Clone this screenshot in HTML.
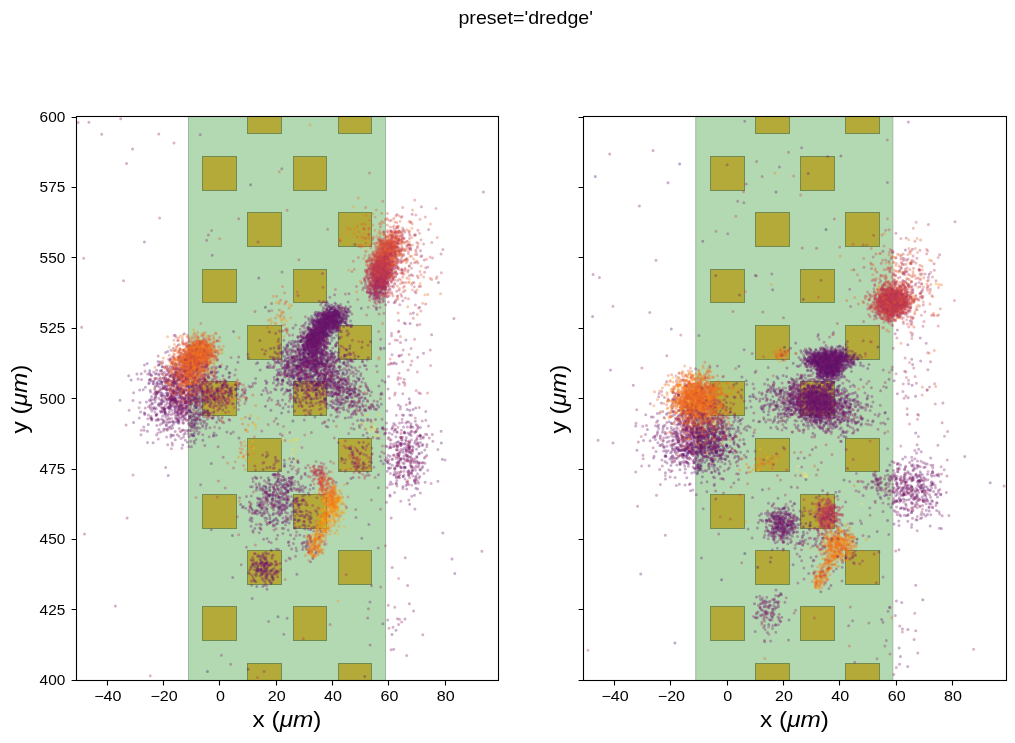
<!DOCTYPE html><html><head><meta charset="utf-8"><style>
html,body{margin:0;padding:0;background:#fff;width:1015px;height:743px;overflow:hidden}
svg{display:block;will-change:transform}
text{font-family:"Liberation Sans",sans-serif;fill:#000}
.d path{fill:none;stroke-width:3.0;stroke-linecap:round;stroke-opacity:0.35}
</style></head><body>
<svg width="1015" height="743" viewBox="0 0 1015 743">
<rect width="1015" height="743" fill="#fff"/>

<text transform="translate(525.7,23.5) scale(1.09,1)" font-size="18" text-anchor="middle">preset='dredge'</text>
<rect x="188.5" y="116.5" width="197.0" height="564.0" fill="rgb(179,217,179)" stroke="rgb(158,184,158)" stroke-width="1"/>
<g fill="rgb(180,170,57)" stroke="rgb(112,138,80)" stroke-width="1"><rect x="247.5" y="663.5" width="34.0" height="17.0"/><rect x="338.5" y="663.5" width="33.0" height="17.0"/><rect x="202.5" y="606.5" width="34.0" height="34.0"/><rect x="293.5" y="606.5" width="33.0" height="34.0"/><rect x="247.5" y="550.5" width="34.0" height="34.0"/><rect x="338.5" y="550.5" width="33.0" height="34.0"/><rect x="202.5" y="494.5" width="34.0" height="34.0"/><rect x="293.5" y="494.5" width="33.0" height="34.0"/><rect x="247.5" y="438.5" width="34.0" height="33.0"/><rect x="338.5" y="438.5" width="33.0" height="33.0"/><rect x="202.5" y="381.5" width="34.0" height="34.0"/><rect x="293.5" y="381.5" width="33.0" height="34.0"/><rect x="247.5" y="325.5" width="34.0" height="34.0"/><rect x="338.5" y="325.5" width="33.0" height="34.0"/><rect x="202.5" y="269.5" width="34.0" height="33.0"/><rect x="293.5" y="269.5" width="33.0" height="33.0"/><rect x="247.5" y="212.5" width="34.0" height="34.0"/><rect x="338.5" y="212.5" width="33.0" height="34.0"/><rect x="202.5" y="156.5" width="34.0" height="34.0"/><rect x="293.5" y="156.5" width="33.0" height="34.0"/><rect x="247.5" y="116.5" width="34.0" height="17.0"/><rect x="338.5" y="116.5" width="33.0" height="17.0"/></g>
<rect x="695.8" y="116.5" width="197.0" height="564.0" fill="rgb(179,217,179)" stroke="rgb(158,184,158)" stroke-width="1"/>
<g fill="rgb(180,170,57)" stroke="rgb(112,138,80)" stroke-width="1"><rect x="755.5" y="663.5" width="34.0" height="17.0"/><rect x="845.5" y="663.5" width="34.0" height="17.0"/><rect x="710.5" y="606.5" width="34.0" height="34.0"/><rect x="800.5" y="606.5" width="34.0" height="34.0"/><rect x="755.5" y="550.5" width="34.0" height="34.0"/><rect x="845.5" y="550.5" width="34.0" height="34.0"/><rect x="710.5" y="494.5" width="34.0" height="34.0"/><rect x="800.5" y="494.5" width="34.0" height="34.0"/><rect x="755.5" y="438.5" width="34.0" height="33.0"/><rect x="845.5" y="438.5" width="34.0" height="33.0"/><rect x="710.5" y="381.5" width="34.0" height="34.0"/><rect x="800.5" y="381.5" width="34.0" height="34.0"/><rect x="755.5" y="325.5" width="34.0" height="34.0"/><rect x="845.5" y="325.5" width="34.0" height="34.0"/><rect x="710.5" y="269.5" width="34.0" height="33.0"/><rect x="800.5" y="269.5" width="34.0" height="33.0"/><rect x="755.5" y="212.5" width="34.0" height="34.0"/><rect x="845.5" y="212.5" width="34.0" height="34.0"/><rect x="710.5" y="156.5" width="34.0" height="34.0"/><rect x="800.5" y="156.5" width="34.0" height="34.0"/><rect x="755.5" y="116.5" width="34.0" height="17.0"/><rect x="845.5" y="116.5" width="34.0" height="17.0"/></g>
<g class="d"><path stroke="#d64c3f" d="M927.5 280.9h0M387.2 250.8h0M388.7 275.1h0M905.6 312.6h0M883.0 301.0h0M889.6 294.9h0M204.1 369.0h0M398.8 252.5h0M706.5 403.4h0M839.2 526.7h0M381.0 254.8h0M167.4 379.1h0M436.3 278.5h0M883.1 309.2h0M890.4 300.4h0M184.4 371.6h0M885.7 294.1h0M916.2 263.3h0M890.1 315.9h0M388.9 243.7h0M895.2 295.9h0M395.4 253.8h0"/><path stroke="#f37819" d="M201.9 358.4h0M842.5 547.2h0M202.7 364.1h0M761.5 459.7h0M182.5 362.1h0M695.9 415.1h0M315.2 549.6h0M689.3 393.5h0M828.9 539.3h0M312.4 555.8h0M205.4 347.2h0M207.2 357.9h0M686.3 425.5h0M838.1 530.0h0M322.7 491.6h0M696.3 385.4h0M683.2 405.8h0M817.1 576.4h0M336.4 514.2h0M196.2 362.3h0M666.2 383.7h0M194.5 364.2h0"/><path stroke="#d64c3f" d="M829.2 500.2h0M735.9 452.5h0M399.1 254.9h0M692.9 410.9h0M189.5 354.5h0M884.7 305.4h0M899.7 282.3h0M387.9 254.3h0M904.7 302.3h0M374.8 275.9h0M419.9 271.4h0M375.9 265.4h0M380.2 269.5h0M184.4 343.9h0M703.2 436.9h0M205.6 352.1h0M365.8 243.0h0M883.1 299.3h0M195.7 360.9h0M385.7 273.5h0M885.1 300.3h0M201.7 357.4h0"/><path stroke="#6a176e" d="M830.8 420.1h0M892.0 369.8h0M933.3 483.1h0M832.8 397.7h0M335.7 319.8h0M826.5 354.6h0M330.1 369.2h0M785.9 391.7h0M407.3 444.5h0M813.2 396.5h0M669.1 421.7h0M778.1 516.8h0M808.1 353.8h0M676.7 439.7h0M710.1 430.3h0M823.7 367.0h0M310.0 333.5h0M199.2 370.0h0M682.3 454.9h0M197.9 381.1h0M823.2 399.0h0M807.1 396.8h0"/><path stroke="#7a1d6b" d="M734.3 417.2h0M789.6 414.5h0M848.4 420.2h0M903.8 486.9h0M787.3 419.8h0M824.4 368.2h0M922.9 500.8h0M704.0 415.7h0M853.2 362.1h0M194.9 397.7h0M701.4 458.7h0M306.9 365.0h0M265.5 570.9h0M800.5 406.5h0M704.4 436.8h0M832.3 362.6h0M826.0 398.8h0M389.1 448.1h0M303.1 546.7h0M307.4 376.7h0M320.0 383.2h0M133.0 400.6h0"/><path stroke="#721a6d" d="M303.3 345.7h0M775.9 513.8h0M720.3 418.7h0M333.0 315.5h0M334.7 314.9h0M195.3 420.7h0M816.6 362.0h0M772.6 528.7h0M189.5 373.9h0M713.1 448.9h0M267.1 491.5h0M701.4 462.7h0M835.5 349.4h0M819.2 359.3h0M309.5 343.0h0M831.7 370.6h0M301.9 369.7h0M298.0 362.3h0M683.8 437.7h0M878.1 493.9h0M841.4 355.1h0M308.5 345.3h0"/><path stroke="#5a126c" d="M180.2 389.4h0M256.2 575.4h0M281.4 359.1h0M280.3 482.1h0M730.0 446.6h0M823.3 367.6h0M317.7 320.9h0M181.6 389.8h0M331.2 326.0h0M319.9 333.0h0M314.9 325.5h0M170.9 397.8h0M319.6 330.6h0M828.5 368.5h0M310.6 340.2h0M308.1 343.4h0M814.1 388.3h0M826.8 395.2h0M171.5 380.9h0M791.5 517.3h0M320.8 331.7h0M334.6 386.3h0"/><path stroke="#721a6d" d="M822.9 382.4h0M347.4 325.3h0M837.4 362.6h0M931.2 474.3h0M790.0 387.8h0M838.5 358.9h0M883.0 622.3h0M693.7 463.0h0M365.9 410.7h0M699.7 427.6h0M327.9 342.6h0M264.6 496.7h0M315.7 375.1h0M831.5 354.9h0M925.8 516.0h0M276.7 505.7h0M313.6 362.8h0M314.5 329.6h0M827.4 375.1h0M780.0 531.2h0M716.2 451.2h0M812.0 408.3h0"/><path stroke="#c9414a" d="M180.7 370.0h0M380.5 272.2h0M887.3 296.2h0M831.1 513.6h0M900.1 313.7h0M386.1 263.7h0M889.8 313.0h0M389.6 262.0h0M697.0 437.2h0M884.5 291.7h0M183.7 361.0h0M892.1 309.4h0M887.1 304.4h0M893.7 301.3h0M893.5 303.0h0M902.4 297.6h0M379.3 274.8h0M887.8 305.8h0M203.4 343.2h0M385.3 255.8h0M191.3 358.1h0M887.9 268.8h0"/><path stroke="#6a176e" d="M317.0 331.6h0M319.5 328.2h0M183.9 434.6h0M710.7 442.2h0M327.6 384.5h0M830.2 396.0h0M418.1 462.2h0M783.3 508.8h0M715.4 443.5h0M831.7 371.6h0M321.8 344.7h0M838.8 402.0h0M165.2 378.2h0M694.0 436.9h0M818.9 398.7h0M383.3 463.7h0M675.9 449.2h0M342.8 314.9h0M410.3 462.8h0M192.0 403.5h0M803.8 418.4h0M181.9 390.6h0"/><path stroke="#c9414a" d="M888.6 301.8h0M874.0 301.9h0M892.2 295.4h0M382.8 266.6h0M904.2 296.5h0M189.1 360.6h0M881.2 312.3h0M883.5 311.3h0M892.8 305.1h0M893.4 280.7h0M377.9 256.5h0M175.5 368.6h0M304.7 434.9h0M890.0 304.4h0M883.5 300.2h0M876.7 301.0h0M900.5 300.1h0M377.6 277.9h0M897.3 303.3h0M392.4 266.2h0M378.7 270.1h0M907.8 310.5h0"/><path stroke="#f37819" d="M826.1 563.7h0M196.6 382.8h0M380.6 243.0h0M169.2 368.5h0M700.9 385.8h0M326.3 505.3h0M819.2 573.3h0M712.4 405.8h0M192.1 363.6h0M321.9 540.5h0M847.8 523.9h0M318.3 538.5h0M697.9 436.7h0M184.1 385.9h0M932.8 296.8h0M686.6 394.4h0M699.3 371.3h0M699.3 406.1h0M690.8 376.9h0M710.6 397.1h0M202.8 355.3h0M184.9 373.3h0"/><path stroke="#7a1d6b" d="M265.1 567.4h0M229.0 419.6h0M195.6 399.7h0M922.2 491.9h0M919.7 498.7h0M698.6 434.2h0M725.7 459.5h0M815.4 403.9h0M165.9 422.2h0M712.8 434.7h0M825.3 391.7h0M729.3 461.2h0M715.2 430.2h0M810.3 380.7h0M319.7 330.2h0M834.5 398.5h0M883.1 577.0h0M289.0 370.5h0M662.3 465.9h0M817.5 391.7h0M828.0 365.5h0M336.3 374.5h0"/><path stroke="#8b2368" d="M315.0 339.8h0M707.6 439.5h0M391.5 335.8h0M695.2 469.0h0M302.4 371.6h0M306.6 380.2h0M241.2 564.8h0M714.1 408.4h0M194.4 419.1h0M407.3 459.0h0M296.9 503.6h0M797.4 383.7h0M408.7 422.0h0M878.2 484.6h0M372.8 277.7h0M803.5 394.9h0M911.3 491.0h0M263.2 502.0h0M776.4 405.7h0M914.5 496.9h0M311.4 432.6h0M807.3 533.1h0"/><path stroke="#faef7e" d="M798.2 466.0h0M806.0 476.3h0M369.0 431.8h0"/><path stroke="#721a6d" d="M297.9 337.4h0M295.6 324.9h0M336.8 318.5h0M278.8 512.6h0M831.6 417.9h0M193.9 400.1h0M834.9 355.5h0M197.6 401.3h0M283.0 486.4h0M386.9 411.1h0M181.5 358.9h0M320.8 372.8h0M714.9 434.4h0M756.5 614.1h0M772.7 513.5h0M280.8 479.5h0M293.8 361.6h0M270.1 365.2h0M815.2 380.9h0M416.2 424.8h0M833.6 409.7h0M327.9 370.3h0"/><path stroke="#62146d" d="M837.0 359.4h0M320.0 329.7h0M799.2 405.0h0M678.5 410.4h0M321.6 325.9h0M692.6 421.8h0M700.4 434.7h0M834.8 363.7h0M773.8 515.7h0M842.9 359.0h0M356.9 396.6h0M833.9 361.7h0M785.3 514.6h0M802.5 402.5h0M783.7 526.1h0M273.4 382.9h0M898.8 520.9h0M817.4 408.5h0M712.5 431.1h0M838.1 367.7h0M312.0 353.2h0M826.8 405.8h0"/><path stroke="#83206a" d="M198.5 389.4h0M904.3 494.0h0M378.2 548.0h0M823.5 386.3h0M166.1 382.7h0M338.5 386.9h0M829.3 409.3h0M843.2 355.9h0M352.6 454.8h0M351.0 361.2h0M765.8 397.3h0M680.9 423.4h0M354.7 388.8h0M798.8 403.9h0M305.6 336.5h0M311.0 330.0h0M818.2 396.5h0M697.9 454.7h0M191.7 394.8h0M852.6 428.0h0M310.7 368.3h0M821.5 403.8h0"/><path stroke="#6a176e" d="M324.4 336.4h0M324.3 322.8h0M274.7 388.9h0M155.9 385.7h0M314.0 335.3h0M339.6 317.4h0M172.9 356.4h0M272.0 577.8h0M317.5 338.7h0M326.9 373.2h0M265.5 380.7h0M700.1 460.5h0M682.0 461.9h0M778.1 529.4h0M790.0 393.5h0M313.5 341.4h0M708.7 440.4h0M272.4 495.5h0M315.4 330.5h0M805.3 359.1h0M706.0 456.8h0M306.1 548.8h0"/><path stroke="#6a176e" d="M824.7 370.2h0M313.1 391.5h0M812.1 412.9h0M810.6 400.6h0M831.2 368.3h0M844.1 356.0h0M162.1 366.4h0M310.5 335.1h0M808.0 396.6h0M784.3 532.6h0M660.4 435.8h0M317.3 357.2h0M302.5 515.3h0M285.4 483.5h0M871.6 481.5h0M834.1 368.6h0M310.6 529.7h0M830.6 367.9h0M697.9 427.3h0M842.7 369.0h0M278.1 341.6h0M829.8 364.0h0"/><path stroke="#ef7020" d="M186.5 400.8h0M192.2 347.4h0M825.6 560.9h0M674.2 396.8h0M173.7 368.2h0M193.9 356.2h0M837.8 541.4h0M829.9 545.1h0M824.6 571.8h0M840.8 545.0h0M689.5 397.9h0M326.5 544.0h0M709.5 365.6h0M196.2 368.9h0M192.2 384.7h0M900.9 266.7h0M190.8 338.3h0M704.7 410.2h0M847.0 548.8h0M713.5 420.8h0M701.1 381.5h0M707.7 403.4h0"/><path stroke="#721a6d" d="M834.0 361.3h0M772.5 609.0h0M817.4 408.2h0M332.8 361.8h0M264.3 565.6h0M818.6 357.0h0M689.5 445.7h0M714.5 437.0h0M829.4 510.1h0M266.7 575.6h0M714.5 484.3h0M349.6 390.0h0M826.4 369.2h0M356.6 449.4h0M821.4 416.0h0M828.8 369.7h0M829.7 373.8h0M178.2 419.7h0M937.5 474.8h0M783.8 413.3h0M347.4 483.2h0M306.8 362.1h0"/><path stroke="#8b2368" d="M725.2 435.9h0M706.1 421.0h0M385.0 288.1h0M381.5 290.2h0M320.1 373.7h0M415.6 476.9h0M419.2 407.6h0M203.6 416.7h0M177.9 369.7h0M841.3 441.4h0M281.6 512.9h0M701.5 436.7h0M400.8 501.3h0M333.3 392.8h0M390.4 473.6h0M935.2 485.2h0M760.4 604.1h0M344.6 316.9h0M269.2 523.3h0M703.8 450.5h0M878.9 484.0h0M287.6 368.2h0"/><path stroke="#83206a" d="M790.4 521.4h0M835.3 395.0h0M825.1 397.9h0M348.1 401.5h0M784.3 427.2h0M675.0 414.6h0M925.7 480.3h0M304.8 356.2h0M783.5 398.8h0M662.9 429.8h0M186.4 413.0h0M720.6 439.5h0M857.9 401.4h0M181.3 361.5h0M839.5 360.0h0M722.3 453.4h0M799.3 398.7h0M906.9 486.4h0M887.4 182.5h0M287.6 505.9h0M653.2 417.1h0M812.9 386.3h0"/><path stroke="#6a176e" d="M323.7 340.7h0M686.5 402.8h0M295.7 502.8h0M823.6 407.0h0M171.8 410.4h0M714.8 435.7h0M802.7 380.4h0M271.9 558.2h0M208.6 377.9h0M314.5 338.1h0M846.5 368.0h0M204.9 374.2h0M271.2 583.1h0M252.2 598.4h0M731.0 451.4h0M822.0 372.1h0M702.7 442.3h0M269.5 565.0h0M309.3 377.0h0M335.0 327.1h0M337.9 315.5h0M818.2 351.8h0"/><path stroke="#ef7020" d="M189.8 354.9h0M187.6 362.6h0M706.4 395.1h0M211.1 356.2h0M203.3 351.1h0M814.6 571.1h0M699.7 424.2h0M708.7 386.5h0M828.7 532.1h0M389.7 261.6h0M674.6 388.7h0M199.5 346.0h0M196.0 356.1h0M196.7 350.0h0M674.3 400.9h0M184.2 363.8h0M691.1 407.1h0M201.1 353.9h0M698.3 394.1h0M319.2 538.4h0M200.0 347.9h0M255.7 405.4h0"/><path stroke="#83206a" d="M212.1 355.6h0M336.4 384.7h0M347.4 325.3h0M324.1 377.2h0M276.0 501.4h0M270.1 573.9h0M308.1 529.3h0M863.2 340.8h0M851.1 420.6h0M325.5 376.2h0M781.9 538.2h0M316.5 336.7h0M754.1 432.6h0M316.7 344.8h0M211.8 367.6h0M826.9 393.7h0M318.5 338.1h0M330.1 371.8h0M271.6 303.4h0M403.7 456.2h0M329.1 320.4h0M818.0 414.7h0"/><path stroke="#62146d" d="M838.1 356.7h0M328.0 321.1h0M195.4 403.5h0M911.9 503.5h0M694.3 396.4h0M834.7 355.0h0M275.3 500.8h0M817.1 363.2h0M207.6 411.1h0M308.8 349.7h0M325.4 322.6h0M904.2 494.5h0M836.1 374.4h0M311.2 357.5h0M849.3 357.6h0M237.9 362.3h0M828.3 362.7h0M761.0 407.7h0M332.8 328.4h0M833.2 375.2h0M818.2 356.9h0M409.7 457.0h0"/><path stroke="#83206a" d="M194.9 378.8h0M829.1 398.7h0M288.3 542.4h0M265.7 498.5h0M827.4 384.0h0M854.4 563.5h0M824.9 372.1h0M672.6 455.4h0M247.8 354.3h0M419.0 463.1h0M270.4 563.0h0M340.4 378.2h0M800.8 378.6h0M309.9 328.1h0M258.0 242.0h0M776.4 427.0h0M841.4 397.2h0M363.3 447.9h0M314.6 330.4h0M812.2 401.8h0M334.8 325.1h0M180.6 418.5h0"/><path stroke="#520f6a" d="M836.9 526.8h0M855.2 399.3h0M679.0 414.9h0M331.9 326.8h0M829.9 371.6h0M690.9 442.2h0M173.5 381.5h0M317.5 334.1h0M304.6 357.6h0M232.4 535.5h0M786.7 525.9h0M337.7 314.5h0M266.9 382.3h0M784.4 532.0h0M746.1 457.3h0M337.6 326.5h0M211.3 463.4h0M344.5 322.4h0M670.7 452.8h0M320.8 345.7h0M323.6 333.6h0M188.7 419.8h0"/><path stroke="#62146d" d="M659.8 445.5h0M809.7 400.9h0M346.5 349.4h0M774.7 529.1h0M387.9 463.1h0M805.6 418.4h0M816.1 393.2h0M841.9 358.5h0M778.3 512.5h0M837.7 369.2h0M836.7 354.1h0M817.1 374.1h0M171.6 405.9h0M317.3 325.0h0M770.7 400.0h0M275.0 504.3h0M746.7 430.3h0M311.0 339.2h0M319.2 327.7h0M337.7 327.1h0M809.8 409.5h0M411.7 454.1h0"/><path stroke="#83206a" d="M697.5 430.6h0M278.2 403.5h0M833.9 396.9h0M799.3 411.2h0M853.9 269.8h0M772.8 625.7h0M198.3 419.1h0M705.3 434.7h0M705.0 470.5h0M302.5 349.2h0M854.8 662.3h0M782.9 354.8h0M84.5 534.0h0M397.3 442.3h0M174.0 389.3h0M326.0 365.7h0M729.1 431.9h0M323.4 374.8h0M805.4 389.2h0M424.3 458.0h0M374.4 291.3h0M879.3 413.9h0"/><path stroke="#5a126c" d="M292.3 477.3h0M810.5 412.6h0M814.5 356.7h0M318.0 334.5h0M904.8 508.3h0M696.5 465.2h0M329.8 317.1h0M320.0 333.7h0M837.1 370.4h0M279.6 469.9h0M326.2 322.7h0M828.2 369.7h0M821.6 382.4h0M830.2 359.3h0M701.4 427.8h0M322.7 330.0h0M351.3 417.2h0M308.1 363.6h0M709.2 457.6h0M810.4 357.6h0M156.9 383.8h0M820.8 420.7h0"/><path stroke="#6a176e" d="M792.3 398.7h0M716.3 439.0h0M318.4 341.3h0M197.3 399.0h0M796.7 381.1h0M804.3 418.3h0M307.6 396.9h0M179.5 401.1h0M687.6 447.6h0M828.0 358.3h0M830.4 369.0h0M817.6 397.8h0M284.7 349.9h0M388.1 455.2h0M836.2 404.5h0M823.6 397.1h0M332.2 319.2h0M308.0 336.2h0M846.1 413.1h0M687.6 427.9h0M817.3 415.2h0M851.1 367.5h0"/><path stroke="#721a6d" d="M705.3 378.0h0M289.2 558.1h0M819.9 400.5h0M185.8 397.8h0M392.3 428.1h0M329.7 320.1h0M830.5 365.1h0M825.7 403.4h0M790.3 403.1h0M307.0 343.2h0M711.4 433.6h0M338.6 381.7h0M820.3 369.4h0M313.5 335.7h0M845.7 419.4h0M215.1 402.3h0M836.0 350.2h0M909.6 462.5h0M174.0 406.7h0M815.4 393.4h0M774.2 523.6h0M821.7 413.1h0"/><path stroke="#8b2368" d="M336.7 398.3h0M828.8 526.0h0M701.2 416.4h0M396.9 486.1h0M822.4 409.6h0M167.1 407.2h0M275.5 363.0h0M837.8 358.0h0M840.7 405.9h0M804.3 542.7h0M329.9 323.6h0M178.0 409.5h0M813.9 560.2h0M813.0 407.6h0M415.6 234.9h0M889.4 490.7h0M195.8 411.5h0M813.4 421.0h0M302.3 374.3h0M701.0 467.1h0M680.0 464.1h0M838.2 393.1h0"/><path stroke="#62146d" d="M323.8 374.7h0M330.0 358.1h0M826.6 369.9h0M808.6 402.6h0M338.8 308.3h0M827.5 360.9h0M147.2 363.4h0M319.0 322.5h0M393.8 475.0h0M832.6 355.0h0M270.4 357.0h0M691.1 451.7h0M321.8 324.8h0M285.4 489.0h0M327.8 427.1h0M817.1 357.1h0M207.5 419.1h0M346.9 387.2h0M310.4 352.4h0M855.4 353.4h0M299.0 365.1h0M702.5 438.4h0"/><path stroke="#6a176e" d="M824.0 401.9h0M306.4 349.7h0M714.7 426.2h0M727.9 469.2h0M188.6 381.9h0M303.4 338.2h0M667.0 462.9h0M896.3 483.8h0M837.2 361.5h0M316.0 329.1h0M825.4 361.7h0M804.7 414.0h0M391.2 517.9h0M797.4 404.7h0M325.4 347.5h0M306.5 340.7h0M182.3 388.5h0M810.5 353.7h0M833.3 364.9h0M207.8 412.9h0M826.8 351.5h0M819.6 358.6h0"/><path stroke="#62146d" d="M314.2 364.8h0M307.7 341.8h0M331.6 353.5h0M828.0 364.1h0M319.1 326.9h0M839.7 354.2h0M195.1 390.3h0M822.6 376.4h0M676.1 437.2h0M841.1 352.7h0M821.7 365.1h0M336.6 313.7h0M832.2 373.0h0M322.6 357.7h0M361.9 381.9h0M835.3 356.1h0M332.3 326.4h0M315.2 333.6h0M793.7 401.9h0M326.9 317.4h0M283.6 361.3h0M815.3 356.8h0"/><path stroke="#62146d" d="M176.9 372.9h0M335.6 403.8h0M396.8 480.5h0M843.6 360.8h0M280.7 488.3h0M394.1 302.7h0M863.2 495.5h0M344.2 314.2h0M708.7 464.3h0M825.1 369.2h0M203.6 395.3h0M337.0 319.6h0M330.1 320.3h0M829.9 366.1h0M325.5 331.0h0M854.5 354.9h0M812.3 404.9h0M687.6 452.8h0M699.6 434.5h0M810.0 352.7h0M319.1 342.3h0M819.2 364.8h0"/><path stroke="#ac305c" d="M905.6 305.6h0M385.0 279.9h0M887.3 140.0h0M378.8 281.6h0M365.9 283.3h0M358.4 410.8h0M889.2 304.9h0M905.8 312.9h0M380.8 275.1h0M887.2 310.9h0M896.2 305.3h0M393.6 248.0h0M909.0 297.7h0M897.1 306.9h0M911.5 281.7h0M386.4 282.4h0M895.1 304.9h0M875.7 316.2h0M707.9 417.5h0M888.3 304.9h0M379.4 282.9h0M390.3 275.8h0"/><path stroke="#6a176e" d="M303.7 357.3h0M823.4 364.6h0M837.7 358.8h0M307.1 366.5h0M680.3 455.6h0M313.4 337.3h0M678.2 424.3h0M314.5 325.0h0M289.8 363.1h0M759.4 515.4h0M312.8 323.4h0M302.7 363.8h0M303.3 326.0h0M733.6 421.9h0M265.9 563.1h0M310.5 382.6h0M818.3 393.1h0M325.5 364.8h0M410.0 452.3h0M828.7 369.9h0M312.9 327.7h0M328.0 328.9h0"/><path stroke="#6a176e" d="M900.5 465.0h0M269.1 480.1h0M705.8 423.0h0M162.6 388.2h0M817.0 398.6h0M712.2 428.3h0M330.1 315.1h0M702.0 453.9h0M338.9 371.6h0M302.2 386.3h0M815.7 416.9h0M656.0 451.6h0M723.8 406.0h0M253.5 560.0h0M190.9 400.4h0M831.5 360.8h0M351.3 326.6h0M828.1 350.1h0M690.5 490.7h0M830.8 364.9h0M285.4 359.3h0M826.1 357.9h0"/><path stroke="#8b2368" d="M185.2 375.6h0M307.7 381.8h0M782.8 424.4h0M813.7 393.0h0M664.0 417.5h0M295.2 359.2h0M392.4 465.2h0M374.7 285.2h0M284.1 494.8h0M642.8 426.2h0M824.8 351.1h0M388.9 437.6h0M737.5 461.3h0M309.4 381.3h0M340.1 402.1h0M724.4 423.5h0M746.3 184.1h0M817.4 395.7h0M827.4 494.4h0M768.2 419.8h0M310.6 373.0h0M896.0 479.3h0"/><path stroke="#d04744" d="M189.1 360.0h0M436.1 208.4h0M907.4 324.0h0M698.9 387.9h0M893.7 301.0h0M388.5 254.8h0M322.8 479.4h0M893.1 301.9h0M377.7 265.4h0M387.0 277.5h0M881.9 234.9h0M380.6 243.7h0M901.1 268.7h0M396.6 241.2h0M190.1 368.3h0M199.8 375.6h0M681.8 436.3h0M390.8 255.1h0M837.9 522.2h0M878.2 304.9h0M180.3 375.5h0M386.3 273.6h0"/><path stroke="#9b2963" d="M370.8 284.2h0M810.0 530.1h0M394.8 607.3h0M234.8 375.1h0M840.6 405.1h0M379.5 271.4h0M318.7 466.5h0M412.2 214.3h0"/><path stroke="#fbaf16" d="M339.2 521.7h0M314.3 536.9h0M330.3 503.6h0M331.9 504.5h0M835.9 557.4h0M255.3 425.1h0M700.7 410.1h0M318.0 529.4h0M331.0 501.2h0M313.7 544.3h0M345.9 509.7h0M230.1 391.5h0M321.7 509.7h0M325.7 518.0h0M326.5 512.4h0M333.2 488.5h0M325.4 503.2h0M821.4 529.4h0M282.0 318.8h0M767.1 457.5h0M255.9 428.3h0M325.8 509.9h0"/><path stroke="#fa9c0d" d="M246.0 460.3h0M820.9 579.0h0M177.8 371.5h0M331.2 498.7h0M689.6 398.9h0M329.2 525.1h0M322.1 530.7h0M323.5 524.3h0M690.5 398.7h0M330.8 496.6h0M753.4 469.3h0M309.0 552.3h0M276.4 302.7h0M716.8 413.6h0M850.6 548.8h0M696.1 416.9h0M326.0 492.2h0M333.5 491.2h0M681.1 393.8h0M340.6 497.7h0M330.6 523.9h0M173.8 382.9h0"/><path stroke="#6a176e" d="M334.4 320.3h0M833.7 357.8h0M707.8 433.7h0M314.6 355.5h0M800.8 395.4h0M831.0 402.7h0M333.0 315.8h0M713.7 455.9h0M176.3 383.1h0M665.3 434.0h0M821.1 372.2h0M275.4 457.3h0M327.7 367.3h0M331.8 320.3h0M707.1 481.7h0M327.0 336.4h0M709.5 446.9h0M698.3 436.2h0M828.0 355.3h0M839.3 370.8h0M816.6 392.5h0M719.1 439.3h0"/><path stroke="#e6612d" d="M702.6 404.7h0M318.7 546.6h0M176.9 359.8h0M358.9 245.1h0M389.2 245.5h0M691.8 415.4h0M691.9 413.4h0M186.3 369.5h0M189.8 363.1h0M189.1 362.1h0M384.1 267.7h0M329.2 499.6h0M709.4 420.7h0M185.3 370.6h0M698.6 405.5h0M202.8 351.1h0M200.7 361.8h0M884.3 295.7h0M400.0 221.2h0M195.2 393.5h0M188.3 355.7h0M377.0 261.2h0"/><path stroke="#bc3754" d="M882.9 296.9h0M879.5 311.4h0M703.0 422.2h0M177.3 386.8h0M395.4 237.2h0M386.1 273.9h0M881.7 293.9h0M882.2 294.2h0M881.4 300.7h0M879.3 297.7h0M880.0 304.6h0M875.4 300.1h0M380.7 272.9h0M417.3 276.1h0M188.5 370.8h0M391.0 253.7h0M383.1 267.2h0M183.9 375.7h0M895.2 304.8h0M380.4 273.2h0M372.4 239.8h0M866.8 245.2h0"/><path stroke="#83206a" d="M220.6 390.9h0M863.1 481.9h0M696.3 452.9h0M325.0 378.5h0M931.7 481.7h0M837.5 360.5h0M310.2 368.6h0M833.8 406.5h0M415.5 470.3h0M338.7 352.4h0M783.9 403.3h0M708.7 435.1h0M378.4 487.7h0M709.2 443.1h0M171.8 425.7h0M721.8 461.9h0M317.7 382.9h0M280.0 362.8h0M363.0 393.6h0M336.7 318.8h0M931.8 476.2h0M826.0 366.5h0"/><path stroke="#721a6d" d="M220.9 397.4h0M847.2 361.6h0M152.9 381.7h0M850.4 386.5h0M178.9 423.2h0M846.9 361.0h0M294.7 527.3h0M305.4 526.6h0M831.2 357.4h0M301.1 335.5h0M692.8 422.9h0M826.8 367.6h0M192.1 394.9h0M309.4 338.9h0M930.6 497.2h0M334.6 332.3h0M325.8 329.1h0M705.2 422.3h0M273.8 367.2h0M721.8 439.3h0M692.0 408.9h0M808.7 357.3h0"/><path stroke="#d64c3f" d="M184.7 372.6h0M199.1 350.1h0M382.2 254.4h0M198.9 357.9h0M899.9 293.8h0M906.3 296.5h0M897.7 254.2h0M674.3 424.0h0M402.8 235.1h0M892.1 308.6h0M828.8 508.5h0M393.7 260.8h0M899.8 308.7h0M710.2 405.4h0M184.7 378.6h0M376.4 268.0h0M883.5 304.4h0M825.8 527.8h0M881.7 303.9h0M393.6 241.2h0M893.0 303.3h0M891.0 304.7h0"/><path stroke="#dd513a" d="M199.5 376.3h0M386.8 258.7h0M891.2 291.1h0M202.2 358.1h0M391.7 269.3h0M245.3 417.3h0M896.7 289.6h0M689.4 417.1h0M726.5 410.6h0M197.1 373.8h0M889.6 305.6h0M858.6 388.9h0M397.6 296.3h0M162.6 361.4h0M679.1 402.4h0M204.6 341.6h0M201.8 387.8h0M897.2 303.3h0M385.6 254.9h0M203.4 367.3h0M845.6 545.8h0M392.4 237.9h0"/><path stroke="#7a1d6b" d="M783.0 398.1h0M811.2 414.2h0M389.3 468.4h0M328.6 306.5h0M227.9 388.1h0M739.8 439.9h0M687.6 413.4h0M819.5 375.6h0M371.3 421.6h0M925.4 486.6h0M821.4 359.4h0M257.0 510.5h0M820.9 405.9h0M290.3 465.7h0M266.7 390.6h0M155.3 397.0h0M847.3 361.1h0M172.9 413.4h0M352.9 361.5h0M812.1 397.0h0M303.0 347.7h0M410.2 465.2h0"/><path stroke="#62146d" d="M162.5 410.8h0M825.9 368.8h0M170.9 408.3h0M826.9 359.9h0M821.1 365.0h0M396.5 483.8h0M303.1 339.4h0M819.6 416.7h0M695.0 424.8h0M815.2 361.3h0M315.1 336.0h0M280.6 484.0h0M839.9 349.7h0M703.1 429.0h0M313.2 353.3h0M327.1 362.3h0M303.2 371.4h0M322.2 320.7h0M321.6 335.9h0M215.0 398.7h0M816.2 397.6h0M828.9 375.0h0"/><path stroke="#6a176e" d="M335.0 320.6h0M252.8 478.5h0M325.9 318.1h0M253.8 580.6h0M800.5 359.6h0M299.5 381.4h0M311.7 370.7h0M788.5 382.0h0M340.5 391.4h0M263.6 555.7h0M393.3 446.8h0M810.2 404.5h0M807.7 403.2h0M701.5 435.5h0M827.8 398.1h0M820.1 404.0h0M313.9 363.1h0M334.9 303.1h0M813.1 352.9h0M338.3 319.3h0M802.1 413.7h0M261.4 562.0h0"/><path stroke="#62146d" d="M158.4 365.2h0M330.2 323.8h0M805.4 363.5h0M275.4 495.8h0M284.8 505.7h0M830.7 381.2h0M320.2 361.7h0M840.8 421.7h0M694.3 394.7h0M325.5 334.1h0M817.3 398.4h0M314.2 343.9h0M937.5 497.1h0M414.9 508.9h0M827.5 380.3h0M823.4 361.1h0M831.5 418.2h0M830.3 368.8h0M292.2 483.1h0M845.3 402.7h0M834.0 361.6h0M828.3 354.7h0"/><path stroke="#721a6d" d="M204.5 400.0h0M319.2 364.2h0M310.1 343.4h0M823.2 418.0h0M205.9 346.1h0M819.7 376.0h0M827.3 403.2h0M702.9 436.0h0M927.8 501.1h0M316.8 336.5h0M806.4 363.0h0M851.5 371.6h0M827.1 387.0h0M337.3 326.3h0M423.5 353.3h0M816.7 399.5h0M845.5 401.0h0M829.3 393.9h0M823.1 359.6h0M811.2 351.1h0M772.2 514.7h0M825.0 362.3h0"/><path stroke="#6a176e" d="M837.4 378.0h0M827.7 395.9h0M911.7 359.3h0M776.0 601.8h0M151.3 380.7h0M318.4 329.9h0M284.2 478.2h0M816.8 361.7h0M208.5 416.5h0M320.8 344.3h0M322.5 319.7h0M329.0 315.7h0M335.4 345.7h0M808.5 413.6h0M830.8 367.5h0M857.1 356.4h0M681.2 450.7h0M737.3 444.6h0M829.0 350.9h0M165.7 429.0h0M314.5 331.8h0M779.1 410.0h0"/><path stroke="#721a6d" d="M273.2 524.6h0M830.8 367.0h0M318.9 336.5h0M305.3 376.1h0M191.0 418.4h0M805.0 399.0h0M376.7 431.8h0M218.9 397.6h0M792.2 401.9h0M318.5 320.2h0M358.6 393.8h0M820.0 424.3h0M815.5 390.7h0M836.1 361.6h0M815.1 390.2h0M268.2 477.8h0M828.0 365.8h0M876.1 478.4h0M800.8 350.6h0M820.4 367.7h0M788.7 395.0h0M165.3 405.3h0"/><path stroke="#7a1d6b" d="M338.9 322.0h0M344.6 462.7h0M911.3 502.2h0M303.0 397.2h0M686.2 410.8h0M410.6 472.8h0M393.5 455.2h0M320.3 371.3h0M206.5 400.1h0M299.7 356.7h0M329.5 392.5h0M824.1 372.7h0M897.3 463.5h0M298.9 373.6h0M937.2 503.1h0M704.2 452.6h0M319.3 335.9h0"/><path stroke="#e6612d" d="M314.9 541.9h0M188.3 365.3h0M193.3 342.8h0M222.1 349.9h0M814.6 466.0h0M201.6 370.5h0M197.0 343.0h0M190.5 353.6h0M699.8 393.3h0M684.1 380.3h0M190.2 355.6h0M194.7 362.2h0M211.1 349.7h0M377.5 243.1h0M698.4 413.6h0M691.3 409.7h0M691.7 417.1h0M712.0 389.9h0M186.2 354.8h0M887.6 296.2h0M825.0 582.0h0M717.4 375.8h0"/><path stroke="#721a6d" d="M314.9 372.0h0M670.1 477.0h0M825.1 375.2h0M365.1 409.0h0M225.2 401.2h0M875.4 484.3h0M691.8 472.9h0M345.8 312.4h0M279.6 502.9h0M797.5 374.4h0M754.0 388.5h0M783.1 403.3h0M825.0 359.3h0M316.8 345.9h0M188.8 402.2h0M278.2 460.9h0M194.6 425.6h0M150.5 417.4h0M335.5 312.0h0M307.6 328.9h0M764.6 383.9h0M338.7 367.1h0"/><path stroke="#ef7020" d="M681.0 409.4h0M702.5 407.9h0M816.7 571.7h0M197.0 349.5h0M706.4 393.3h0M192.5 380.6h0M707.8 392.7h0M171.6 399.4h0M819.4 581.4h0M202.3 348.8h0M906.0 300.3h0M202.6 358.0h0M210.7 358.2h0M688.3 421.7h0M682.2 408.5h0M339.5 240.1h0M831.6 568.3h0M843.7 539.9h0M689.4 397.8h0M719.0 388.3h0M712.5 401.2h0M682.2 388.6h0"/><path stroke="#83206a" d="M217.6 398.0h0M349.6 393.9h0M827.2 369.1h0M186.4 395.0h0M181.0 412.3h0M828.2 411.6h0M818.7 400.9h0M816.2 415.6h0M746.7 384.4h0M161.5 419.0h0M316.2 335.6h0M326.3 336.5h0M806.8 388.2h0M814.0 399.5h0M327.7 359.7h0M206.6 396.8h0M270.2 522.4h0M794.7 424.7h0M293.7 356.5h0M406.6 655.5h0M356.3 382.0h0M324.1 349.6h0"/><path stroke="#fbaf16" d="M339.3 508.2h0M323.6 529.7h0M200.2 387.2h0M327.8 505.3h0M334.1 510.7h0M338.1 534.0h0M344.4 527.0h0M332.1 493.1h0M316.0 556.0h0M340.7 498.6h0M327.5 514.7h0M324.8 519.8h0M258.0 418.2h0M327.9 515.3h0M337.5 507.1h0M321.3 481.1h0M327.5 528.5h0M835.9 555.8h0M327.6 514.3h0M322.0 522.5h0M338.2 496.2h0M847.3 544.6h0"/><path stroke="#bc3754" d="M181.1 378.3h0M372.8 281.3h0M894.5 312.6h0M381.4 272.9h0M378.5 276.3h0M376.8 274.4h0M893.4 307.2h0M876.9 293.3h0M382.0 257.4h0M387.2 272.5h0M393.7 266.3h0M218.7 394.4h0M821.8 501.2h0M401.2 217.2h0M905.4 290.7h0M894.0 308.3h0M176.4 388.0h0M379.8 272.7h0M884.9 305.0h0M381.2 270.2h0M829.0 517.1h0M895.4 296.3h0"/><path stroke="#e15933" d="M393.6 248.7h0M699.4 386.7h0M679.5 401.8h0M692.8 397.6h0M189.5 363.4h0M399.3 232.9h0M204.0 347.5h0M886.0 282.2h0M207.1 349.3h0M696.2 391.0h0M383.3 261.9h0M700.7 386.2h0M710.1 413.3h0M703.5 392.5h0M375.1 269.5h0M935.7 386.4h0M820.4 577.4h0M200.6 363.9h0M194.5 352.9h0M332.4 479.3h0M213.8 355.5h0M173.6 392.3h0"/><path stroke="#e15933" d="M714.6 407.4h0M694.3 391.3h0M713.0 389.3h0M182.2 383.1h0M210.1 351.5h0M391.0 252.6h0M386.7 253.4h0M196.7 357.4h0M395.0 246.1h0M207.3 344.3h0M889.4 310.0h0M821.9 571.6h0M389.0 265.9h0M397.5 259.1h0M706.2 394.7h0M384.7 248.9h0M715.0 404.7h0M722.4 435.6h0M708.6 406.7h0M192.3 345.4h0M886.3 292.4h0M185.5 344.2h0"/><path stroke="#6a176e" d="M697.6 441.8h0M699.3 436.7h0M318.7 328.2h0M803.7 413.2h0M826.8 415.6h0M332.2 316.3h0M327.4 381.1h0M833.3 400.5h0M340.4 320.0h0M825.1 362.2h0M772.9 512.6h0M812.1 400.3h0M307.5 335.9h0M177.4 389.3h0M322.1 364.0h0M818.5 416.5h0M702.2 446.4h0M837.0 355.2h0M320.5 323.3h0M321.1 322.8h0M789.5 410.3h0M801.5 352.6h0"/><path stroke="#62146d" d="M216.5 381.8h0M918.1 499.1h0M315.6 331.2h0M722.3 454.4h0M316.8 332.6h0M193.4 435.8h0M832.0 365.4h0M407.8 482.1h0M684.4 423.9h0M345.2 322.8h0M266.7 493.6h0M317.2 316.0h0M697.1 453.9h0M821.5 357.1h0M854.3 358.3h0M318.6 365.6h0M166.4 425.3h0M715.0 435.7h0M324.5 316.6h0M192.8 396.4h0M688.3 452.7h0M827.7 359.2h0"/><path stroke="#6a176e" d="M815.2 386.7h0M935.5 494.5h0M777.6 521.9h0M831.3 360.9h0M312.7 350.9h0M720.4 450.0h0M689.9 444.7h0M714.1 485.6h0M691.1 450.2h0M845.4 389.2h0M798.0 389.0h0M177.2 386.5h0M326.6 320.3h0M287.6 492.3h0M683.3 454.5h0M699.9 419.7h0M732.3 425.2h0M412.8 469.4h0M191.8 435.6h0"/><path stroke="#e15933" d="M892.9 294.3h0M696.0 400.9h0M902.7 281.7h0M679.1 373.2h0M349.9 458.6h0M722.6 422.2h0M371.7 265.8h0M888.2 313.7h0M194.4 375.3h0M198.4 355.5h0M922.3 387.0h0M707.3 396.6h0M687.7 388.1h0M698.5 417.0h0M685.7 425.9h0M922.2 270.1h0M190.6 375.3h0M890.7 309.9h0M327.5 494.0h0M687.5 386.7h0M395.7 257.2h0M686.9 419.3h0"/><path stroke="#6a176e" d="M834.5 357.5h0M810.8 389.9h0M834.2 355.7h0M847.7 356.6h0M299.0 355.0h0M340.1 306.4h0M303.4 362.3h0M828.3 367.7h0M297.5 498.0h0M191.4 446.8h0M833.9 362.0h0M313.1 354.5h0M908.4 122.1h0M278.0 520.9h0M923.8 484.3h0M767.4 632.5h0M808.5 404.8h0M708.1 420.1h0M887.0 495.0h0M684.9 449.3h0M254.9 512.2h0M781.5 518.7h0"/><path stroke="#7a1d6b" d="M693.9 437.0h0M835.4 362.7h0M703.3 442.6h0M835.5 363.2h0M876.0 478.5h0M877.1 479.7h0M167.5 381.9h0M763.7 417.7h0M162.2 382.2h0M915.7 630.7h0M763.9 615.3h0M813.5 389.0h0M936.3 494.3h0M848.6 625.8h0M265.1 507.2h0M709.4 427.0h0M322.5 369.4h0M150.8 401.1h0M315.3 332.6h0M817.0 418.5h0M766.8 597.3h0M314.1 368.7h0"/><path stroke="#520f6a" d="M181.1 378.7h0M826.8 359.5h0M831.8 367.9h0M688.8 451.3h0M783.6 512.4h0M812.6 390.8h0M766.2 613.0h0M823.3 408.7h0M828.3 373.2h0M821.6 360.5h0M292.0 490.6h0M345.1 308.5h0M803.3 299.2h0M715.2 442.2h0M362.6 361.9h0M316.2 323.9h0M315.6 347.4h0M331.9 308.4h0M929.1 274.2h0M830.5 358.2h0M282.9 352.1h0M828.2 360.8h0"/><path stroke="#ac305c" d="M377.1 288.8h0M371.7 454.5h0M887.7 302.3h0M678.3 421.8h0M890.1 297.3h0M915.1 376.5h0M176.9 364.7h0M425.2 457.1h0M913.5 300.4h0M389.6 277.5h0M385.5 296.0h0M905.1 358.1h0M391.1 280.7h0M389.2 295.2h0M897.2 297.2h0M387.0 270.0h0M174.0 335.6h0M879.1 314.4h0M377.7 279.2h0M226.5 402.8h0M340.1 240.7h0M182.5 401.9h0"/><path stroke="#5a126c" d="M318.5 383.2h0M828.6 371.5h0M820.8 372.1h0M382.4 428.1h0M717.6 429.2h0M816.2 392.2h0M826.3 367.3h0M810.7 359.1h0M273.3 492.2h0M792.0 392.5h0M215.2 351.7h0M311.7 346.4h0M784.5 402.9h0M829.7 362.0h0M327.7 323.3h0M406.3 437.5h0M317.3 338.5h0M332.7 332.8h0M397.5 446.8h0M687.5 447.2h0M302.6 549.6h0M680.2 463.2h0"/><path stroke="#f58116" d="M190.1 355.7h0M854.3 485.7h0M720.8 387.7h0M203.7 343.4h0M713.8 432.7h0M329.0 514.5h0M850.9 553.4h0M195.3 358.5h0M689.1 384.3h0M680.7 409.8h0M201.2 370.0h0M202.7 370.1h0M206.5 357.9h0M328.3 508.1h0M193.5 372.8h0M832.2 560.8h0M698.4 393.2h0M321.5 527.5h0M834.2 547.5h0M192.7 345.8h0M327.8 514.5h0M290.7 317.8h0"/><path stroke="#d04744" d="M382.3 240.5h0M905.8 282.9h0M393.6 244.6h0M173.0 402.3h0M910.8 286.9h0M182.1 363.5h0M381.0 268.6h0M195.9 349.4h0M893.9 309.1h0M888.9 296.3h0M173.3 369.9h0M382.5 267.8h0M890.8 311.3h0M718.0 421.1h0M386.8 236.5h0M884.7 296.5h0M396.8 246.4h0M878.7 325.8h0M833.1 506.6h0M375.6 260.7h0M160.0 370.7h0M388.5 255.4h0"/><path stroke="#e15933" d="M326.0 483.9h0M184.0 399.5h0M885.0 291.0h0M689.4 389.8h0M893.5 306.2h0M693.4 403.4h0M192.7 342.6h0M904.9 286.0h0M700.9 395.1h0M372.6 293.1h0M198.4 344.0h0M388.8 248.4h0M179.5 372.7h0M181.8 361.3h0M681.9 373.6h0M887.2 291.2h0M185.4 370.4h0M186.1 395.3h0M370.8 468.2h0M178.6 374.1h0M704.6 429.5h0M700.1 435.1h0"/><path stroke="#d64c3f" d="M211.8 352.0h0M380.1 252.0h0M697.8 437.0h0M396.1 243.3h0M904.4 305.0h0M905.8 304.5h0M894.5 309.1h0M381.1 253.4h0M382.4 274.8h0M886.0 289.2h0M879.5 298.5h0M914.0 301.6h0M204.3 379.5h0M396.7 250.8h0M397.3 262.0h0M895.0 297.6h0M394.6 251.7h0M187.8 363.0h0M927.2 288.6h0M397.3 227.4h0M388.6 246.9h0M890.9 285.7h0"/><path stroke="#fca50a" d="M321.9 521.6h0M689.6 409.6h0M204.1 342.7h0M328.0 521.7h0M817.2 580.8h0M712.1 407.3h0M780.1 361.7h0M331.2 503.3h0M854.1 542.7h0M319.9 522.7h0M325.5 512.9h0M331.9 504.7h0M327.9 521.8h0M334.5 497.2h0M696.3 403.9h0M706.0 393.9h0M327.1 516.4h0M320.9 534.8h0M830.4 568.5h0M339.6 502.0h0M333.1 499.7h0M286.3 321.1h0"/><path stroke="#bc3754" d="M418.0 230.3h0M377.4 268.2h0M907.6 283.7h0M833.0 516.3h0M900.8 301.0h0M884.2 306.9h0M193.2 358.0h0M386.0 259.3h0M396.5 273.9h0M832.8 504.8h0M395.7 254.5h0M895.2 309.6h0M396.3 228.0h0M908.5 304.8h0M356.5 286.5h0M365.8 271.5h0M910.7 262.8h0M816.1 415.7h0M825.0 525.4h0M896.1 293.8h0M182.7 343.4h0M897.5 299.7h0"/><path stroke="#d64c3f" d="M190.1 361.7h0M711.6 396.9h0M892.4 314.5h0M912.4 292.4h0M221.7 389.6h0M871.2 306.3h0M385.8 246.3h0M379.5 261.6h0M902.1 300.1h0M895.0 302.8h0M906.4 294.9h0M192.6 363.7h0M235.6 384.4h0M184.7 385.4h0M375.4 270.7h0M890.5 299.2h0M685.0 382.7h0M199.0 359.3h0M402.3 240.8h0M381.3 285.7h0M886.0 296.8h0M382.4 260.1h0"/><path stroke="#ac305c" d="M379.0 276.6h0M785.2 495.0h0M401.1 249.8h0M217.5 388.1h0M351.2 428.3h0M248.9 386.0h0M391.3 273.5h0M896.2 304.0h0M296.5 470.6h0M903.2 274.1h0M900.8 290.5h0M305.4 367.3h0M301.9 447.4h0M368.0 288.1h0M375.2 477.6h0M371.9 271.9h0M906.0 296.4h0M829.5 511.1h0M383.7 275.2h0M357.6 451.4h0M376.8 282.1h0M917.5 419.2h0"/><path stroke="#f89310" d="M696.3 395.6h0M279.2 301.3h0M704.0 400.7h0M323.8 528.5h0M337.9 506.5h0M839.8 544.1h0M686.5 410.9h0M335.4 506.2h0M204.5 370.1h0M189.7 362.5h0M204.6 356.3h0M331.1 518.5h0M705.8 393.7h0M320.6 522.2h0M847.6 544.2h0M281.5 312.9h0M396.1 271.7h0M331.2 530.9h0M832.6 519.0h0M337.2 498.8h0M839.6 552.8h0M184.3 390.1h0"/><path stroke="#5a126c" d="M315.9 327.1h0M801.2 400.8h0M824.1 352.1h0M287.4 363.5h0M318.2 315.0h0M321.1 324.6h0M286.4 347.8h0M204.9 378.9h0M330.6 308.9h0M806.7 402.7h0M299.1 504.5h0M853.8 420.6h0M266.2 488.7h0M885.1 424.0h0M335.6 330.3h0M912.3 510.7h0M803.9 393.6h0M723.3 452.5h0M184.7 408.3h0M189.6 376.0h0M299.7 371.8h0M324.0 331.3h0"/><path stroke="#83206a" d="M753.9 413.0h0M866.1 423.9h0M797.0 400.7h0M790.7 513.5h0M778.6 526.3h0M826.3 382.9h0M408.3 474.3h0M322.6 352.0h0M807.2 366.8h0M664.5 397.4h0M854.8 403.6h0M845.8 556.0h0M408.6 450.0h0M813.2 405.9h0M322.2 364.1h0M320.2 337.8h0M289.5 341.8h0M308.9 388.9h0M394.3 474.5h0M181.0 413.3h0M827.7 406.7h0M823.3 397.5h0"/><path stroke="#ea6826" d="M199.8 348.1h0M205.4 351.4h0M688.4 398.4h0M181.5 384.1h0M842.2 547.8h0M691.5 401.2h0M189.2 368.2h0M683.6 400.0h0M191.1 346.3h0M851.3 552.9h0M889.3 305.9h0M175.2 350.1h0M194.1 355.3h0M816.3 575.8h0M704.6 414.9h0M373.1 252.3h0M702.1 388.5h0M394.7 232.3h0M326.2 499.2h0M197.8 358.9h0M695.0 416.3h0M206.5 361.4h0"/><path stroke="#83206a" d="M792.5 414.3h0M321.1 344.4h0M738.3 421.6h0M261.3 569.5h0M836.4 366.6h0M703.2 508.7h0M305.9 398.9h0M824.0 381.8h0M944.2 469.7h0M167.0 389.9h0M186.5 409.2h0M315.1 362.3h0M905.2 475.4h0M310.8 338.4h0M798.9 417.0h0M342.4 390.1h0M824.4 391.0h0M174.8 399.4h0M811.8 393.8h0M190.5 395.4h0M304.2 536.3h0M704.7 402.4h0"/><path stroke="#ea6826" d="M204.7 359.0h0M202.5 341.4h0M208.4 348.4h0M698.0 391.9h0M191.9 361.5h0M886.6 330.0h0M688.0 424.2h0M701.1 394.9h0M196.3 367.4h0M197.6 364.7h0M232.8 385.6h0M675.9 401.3h0M710.4 391.4h0M701.7 417.7h0M720.5 418.6h0M695.9 395.7h0M690.8 398.5h0M698.4 392.2h0M194.1 357.5h0M322.7 485.2h0M689.1 374.2h0"/><path stroke="#7a1d6b" d="M365.3 383.2h0M830.2 351.9h0M917.0 495.3h0M823.5 357.6h0M727.5 447.8h0M289.5 458.7h0M694.0 462.7h0M193.1 401.3h0M774.2 421.0h0M835.2 356.0h0M809.7 386.5h0M327.1 307.9h0M324.7 329.4h0M340.3 470.3h0M296.7 366.7h0M266.5 383.4h0M182.0 365.2h0M698.6 433.1h0M213.5 396.9h0M682.4 429.1h0M307.8 334.4h0M837.8 356.1h0"/><path stroke="#4a0d69" d="M303.8 349.4h0M836.5 427.1h0M818.0 363.5h0M807.2 393.7h0M256.8 586.4h0M695.1 433.0h0M201.9 377.0h0M310.3 339.4h0M938.8 476.1h0M322.5 387.5h0M811.7 388.1h0M820.3 405.3h0M188.5 397.7h0M242.0 395.1h0M679.5 443.9h0M280.7 499.5h0M314.2 336.7h0M316.2 346.1h0M331.6 391.7h0M831.7 352.3h0M826.5 355.7h0M804.7 397.0h0"/><path stroke="#8b2368" d="M161.4 404.1h0M371.9 448.1h0M795.3 411.8h0M188.5 391.1h0M264.0 565.7h0M155.2 392.0h0M818.9 399.4h0M829.4 361.0h0M759.3 392.6h0M177.2 392.7h0M819.8 404.0h0M318.2 381.8h0M917.2 490.4h0M318.9 362.5h0M187.5 431.1h0M330.7 384.6h0M826.7 431.6h0M271.2 542.7h0M296.0 389.6h0M776.4 520.3h0M839.3 538.2h0M832.9 512.5h0"/><path stroke="#83206a" d="M815.6 415.0h0M356.6 409.5h0M318.0 362.6h0M920.3 297.0h0M824.4 402.6h0M694.6 443.5h0M417.8 436.2h0M172.7 376.0h0M816.8 377.4h0M288.6 499.2h0M812.2 566.1h0M698.9 450.4h0M198.0 366.4h0M811.5 356.3h0M391.1 649.7h0M794.8 404.9h0M396.4 458.4h0M166.9 401.9h0M307.0 366.4h0M894.1 462.5h0M772.8 504.9h0M407.2 421.7h0"/><path stroke="#7a1d6b" d="M660.4 484.5h0M317.3 369.8h0M209.1 392.1h0M948.9 515.5h0M825.6 367.0h0M824.5 403.6h0M847.7 413.7h0M804.7 510.7h0M840.6 441.2h0M316.8 356.0h0M687.5 434.6h0M401.0 445.4h0M787.7 532.5h0M773.1 409.9h0M262.6 455.0h0M340.7 384.5h0M171.2 404.4h0M315.0 539.5h0M229.9 372.9h0M278.6 338.9h0M814.9 399.0h0M735.4 456.3h0"/><path stroke="#d64c3f" d="M387.4 249.4h0M397.3 246.8h0M823.9 585.1h0M686.2 398.3h0M702.2 391.2h0M391.4 254.3h0M187.1 361.2h0M386.9 276.1h0M201.4 355.1h0M386.2 258.9h0M190.9 369.8h0M897.4 299.7h0M889.1 321.4h0M881.9 302.4h0M220.0 391.8h0M379.8 271.9h0M390.7 265.2h0M383.3 266.2h0M755.4 459.1h0M895.0 303.5h0M892.0 290.8h0M389.2 272.5h0"/><path stroke="#bc3754" d="M373.5 272.3h0M893.9 291.7h0M880.1 300.2h0M380.0 274.1h0M371.0 269.1h0M225.9 391.3h0M379.2 275.4h0M377.9 275.3h0M390.9 271.8h0M896.0 257.6h0M383.5 268.4h0M902.6 303.4h0M386.2 249.7h0M180.6 359.9h0M378.9 272.7h0M397.5 241.0h0M376.8 270.4h0M897.6 305.9h0M384.9 244.9h0M901.8 300.4h0M388.1 259.0h0M431.8 242.4h0"/><path stroke="#ea6826" d="M199.4 351.0h0M713.6 398.0h0M406.3 262.7h0M202.8 368.9h0M196.8 353.3h0M204.9 379.4h0M409.6 231.3h0M687.6 413.4h0M709.2 406.1h0M170.9 393.2h0M174.3 371.9h0M726.4 415.4h0M914.8 312.3h0M855.9 545.6h0M207.7 351.8h0M700.0 375.2h0M246.3 398.7h0M196.2 378.9h0M322.3 532.8h0M200.2 350.7h0M188.0 351.6h0M717.8 414.4h0"/><path stroke="#a32d5f" d="M883.3 422.8h0M371.6 263.9h0M395.6 271.2h0M817.9 469.8h0M888.9 294.8h0M831.4 510.0h0M196.9 404.9h0M377.5 286.5h0M890.9 320.6h0M886.1 282.0h0M378.8 283.3h0M306.6 380.2h0M389.5 343.7h0M865.7 407.4h0M379.1 295.5h0M392.3 268.4h0M837.4 323.5h0M818.2 531.1h0M880.9 478.2h0M892.3 367.1h0M704.0 405.8h0M231.8 393.7h0"/><path stroke="#b43458" d="M378.4 270.8h0M238.1 383.8h0M372.8 274.2h0M901.1 316.0h0M896.9 304.7h0M828.1 506.2h0M383.5 271.8h0M883.2 301.2h0M396.4 267.8h0M830.1 527.1h0M882.8 289.6h0M881.3 302.9h0M377.0 273.7h0M385.6 244.7h0M344.2 446.0h0M896.2 300.6h0M886.6 295.7h0M385.2 282.2h0M187.2 372.2h0M389.8 277.0h0M869.1 299.7h0M237.4 380.0h0"/><path stroke="#e6612d" d="M201.6 352.1h0M710.4 397.9h0M704.6 402.6h0M707.9 437.0h0M204.3 353.2h0M188.4 357.2h0M696.1 407.9h0M412.4 245.1h0M708.3 407.1h0M696.4 387.2h0M772.1 468.3h0M698.6 390.8h0M826.9 569.0h0M389.6 292.8h0M395.6 261.5h0M184.7 364.0h0M183.4 381.2h0M214.7 355.7h0M684.7 401.2h0M335.8 486.0h0M887.8 312.8h0M188.9 374.2h0"/><path stroke="#6a176e" d="M252.1 575.5h0M334.4 382.5h0M719.7 450.7h0M711.0 424.6h0M901.8 602.4h0M328.8 379.5h0M303.6 353.5h0M772.6 616.5h0M183.6 423.0h0M299.3 366.2h0M407.4 427.0h0M835.1 360.5h0M917.1 519.9h0M687.1 438.3h0M293.6 346.2h0M319.6 340.5h0M692.3 429.2h0M350.6 320.9h0M710.0 420.4h0M165.0 414.1h0M720.3 433.7h0M802.1 416.7h0"/><path stroke="#721a6d" d="M196.8 420.1h0M722.8 404.4h0M317.3 329.7h0M316.3 329.1h0M216.5 383.1h0M832.1 375.1h0M233.4 403.8h0M394.7 468.9h0M697.3 432.8h0M784.3 395.8h0M885.7 489.1h0M274.0 464.8h0M281.9 363.5h0M180.1 406.6h0M813.0 411.0h0M772.1 526.0h0M262.9 486.9h0M826.6 532.2h0M308.9 339.8h0M796.3 397.8h0M260.6 528.4h0M174.7 369.0h0"/><path stroke="#f78a13" d="M839.2 545.2h0M187.9 358.5h0M321.1 535.3h0M704.9 387.9h0M896.1 292.0h0M712.0 419.0h0M835.6 555.2h0M336.7 515.3h0M846.1 548.0h0M330.3 507.3h0M307.0 537.9h0M834.7 544.2h0M341.3 493.7h0M337.4 503.9h0M816.9 580.3h0M681.5 436.4h0M691.7 411.5h0M758.6 464.2h0M686.2 396.9h0M686.9 403.1h0M325.3 498.1h0M827.7 546.3h0"/><path stroke="#f78a13" d="M690.5 384.8h0M700.9 409.7h0M846.7 534.3h0M191.6 366.9h0M692.6 379.7h0M689.3 385.0h0M705.8 413.6h0M837.8 542.3h0M690.6 403.8h0M391.2 235.0h0M705.0 407.7h0M697.6 396.6h0M330.5 506.1h0M201.1 351.6h0M694.2 393.9h0M754.8 465.3h0M276.2 323.4h0M832.2 541.7h0M332.3 510.0h0M785.6 351.7h0M690.0 412.5h0M680.6 406.4h0"/><path stroke="#ac305c" d="M885.7 319.7h0M395.8 247.7h0M893.4 298.1h0M372.0 272.7h0M888.5 308.9h0M372.1 273.7h0M879.1 311.1h0M380.3 258.9h0M388.2 269.1h0M893.1 298.5h0M895.1 309.3h0M381.0 278.4h0M818.6 519.6h0M809.8 455.0h0M274.1 421.2h0M378.8 270.0h0M384.4 274.9h0M897.9 299.8h0M894.3 311.1h0M380.0 278.8h0M404.1 238.3h0M392.9 285.9h0"/><path stroke="#b43458" d="M370.4 267.5h0M379.4 268.9h0M414.6 262.8h0M397.4 274.1h0M381.8 280.7h0M367.3 292.3h0M381.0 262.5h0M702.3 424.6h0M398.4 255.5h0M378.6 293.1h0M384.6 263.3h0M386.1 252.7h0M889.9 313.4h0M825.3 525.1h0M896.6 296.7h0M384.1 269.5h0M904.4 306.1h0M886.4 305.3h0M358.7 341.6h0M403.2 382.2h0M201.2 341.7h0M377.0 276.7h0"/><path stroke="#721a6d" d="M831.1 368.9h0M843.6 359.3h0M263.6 572.9h0M820.6 400.4h0M327.8 380.9h0M140.9 434.7h0M823.6 368.8h0M303.6 335.0h0M789.6 394.8h0M840.0 422.5h0M405.5 461.0h0M398.6 457.7h0M785.7 528.7h0M826.2 367.3h0M829.4 365.4h0M812.1 399.7h0M322.1 332.4h0M828.2 560.1h0M824.5 393.0h0M777.0 516.6h0M734.0 442.9h0M799.3 396.4h0"/><path stroke="#62146d" d="M592.6 316.4h0M331.2 314.3h0M307.0 343.2h0M845.1 365.5h0M785.8 410.6h0M303.0 376.2h0M811.2 401.2h0M913.3 477.9h0M396.9 462.8h0M746.4 408.0h0M314.7 360.6h0M193.1 384.8h0M278.6 359.6h0M136.9 373.9h0M180.5 355.2h0M292.5 370.1h0M813.6 396.3h0M822.5 391.0h0M183.7 375.8h0M855.6 423.8h0M146.4 402.0h0M834.7 370.8h0"/><path stroke="#d04744" d="M393.0 267.3h0M391.2 242.8h0M691.4 417.3h0M404.0 260.6h0M385.9 258.0h0M386.0 267.6h0M913.2 274.1h0M385.0 259.2h0M832.7 520.5h0M891.8 309.4h0M888.1 317.0h0M883.4 304.9h0M902.6 309.2h0M372.9 254.8h0M702.3 403.9h0M740.2 495.0h0M180.7 373.6h0M379.2 249.7h0M175.5 374.9h0M707.7 453.2h0M386.3 268.9h0M878.7 299.7h0"/><path stroke="#7a1d6b" d="M160.8 403.1h0M822.2 419.1h0M913.0 490.3h0M262.3 515.8h0M802.0 512.4h0M842.8 430.5h0M256.1 563.5h0M407.5 460.9h0M899.7 492.2h0M176.1 406.0h0M833.8 359.1h0M679.7 423.7h0M684.3 429.9h0M836.1 356.8h0M263.7 571.2h0M342.4 321.0h0M814.9 528.1h0M913.3 464.7h0M420.3 435.2h0M701.6 408.7h0M841.1 354.7h0M209.9 427.8h0"/><path stroke="#e15933" d="M695.9 395.4h0M191.5 351.5h0M699.9 407.2h0M390.4 244.3h0M709.7 396.7h0M193.0 338.6h0M705.3 377.8h0M893.1 306.0h0M182.3 341.7h0M701.9 412.1h0M190.6 376.1h0M383.0 262.9h0M183.1 380.9h0M180.0 349.0h0M884.5 304.0h0M684.8 397.7h0M706.2 412.8h0M676.4 398.7h0M698.3 390.1h0M885.6 278.0h0M891.7 305.5h0M182.2 377.6h0"/><path stroke="#62146d" d="M304.9 348.4h0M302.1 511.8h0M791.7 521.4h0M310.1 366.9h0M311.1 349.9h0M311.0 339.6h0M828.7 361.3h0M704.3 437.0h0M881.7 619.5h0M924.6 495.0h0M314.6 340.0h0M822.1 363.1h0M190.6 401.4h0M285.1 371.3h0M172.4 421.5h0M322.9 316.4h0M827.5 357.5h0M822.2 369.9h0M325.8 335.7h0M319.5 328.4h0M826.3 395.6h0M815.5 369.3h0"/><path stroke="#6a176e" d="M665.5 479.1h0M193.6 373.2h0M847.9 411.7h0M835.0 368.5h0M702.7 448.5h0M319.8 312.8h0M302.4 364.3h0M839.1 353.0h0M714.4 465.3h0M690.0 438.8h0M214.4 393.5h0M826.9 368.4h0M312.0 341.8h0M328.7 322.6h0M336.9 331.6h0M330.7 317.0h0M803.1 383.0h0M687.5 454.6h0M810.7 400.9h0M278.5 508.3h0M177.9 387.5h0M316.0 328.2h0"/><path stroke="#dd513a" d="M690.2 402.6h0M388.9 274.5h0M198.8 349.0h0M195.6 356.9h0M382.5 250.4h0M323.0 481.8h0M687.6 422.2h0M376.9 246.9h0M698.5 413.0h0M886.0 296.6h0M893.1 306.5h0M199.6 362.7h0M701.3 404.6h0M686.3 393.6h0M375.0 243.4h0M920.0 273.8h0M699.3 394.9h0M193.3 363.8h0M193.1 368.3h0M177.8 356.5h0M387.1 254.1h0M720.1 404.7h0"/><path stroke="#f58116" d="M711.7 386.7h0M271.5 321.8h0M188.4 384.1h0M700.3 402.4h0M694.7 378.7h0M206.8 352.4h0M196.6 353.3h0M309.9 538.9h0M703.7 414.2h0M338.1 500.4h0M672.9 423.6h0M703.0 405.3h0M689.8 394.5h0M699.1 427.9h0M829.3 564.6h0M314.9 543.7h0M679.9 401.1h0M687.2 397.9h0M702.8 404.1h0M197.1 361.4h0M172.0 390.5h0M706.3 400.2h0"/><path stroke="#ea6826" d="M331.1 490.5h0M704.4 401.5h0M236.9 399.4h0M709.3 399.7h0M708.8 390.8h0M193.8 354.0h0M688.8 405.9h0M853.4 555.6h0M843.8 543.4h0M324.9 488.9h0M327.1 496.2h0M193.9 353.8h0M201.8 358.6h0M704.2 403.9h0M207.5 358.6h0M709.5 384.1h0M690.2 395.9h0M201.0 355.7h0M838.5 534.2h0M184.4 381.9h0M692.5 399.4h0M834.9 556.8h0"/><path stroke="#721a6d" d="M837.6 356.3h0M417.5 442.4h0M829.5 363.3h0M167.7 444.7h0M327.4 373.3h0M306.7 348.9h0M778.2 415.6h0M857.7 410.9h0M235.8 389.3h0M314.6 345.3h0M303.1 361.0h0M303.1 491.5h0M789.9 386.3h0M398.5 455.6h0M322.9 323.4h0M825.8 367.6h0M830.4 415.4h0M851.0 361.4h0M775.3 537.5h0M343.5 392.1h0M830.6 357.1h0M315.7 360.7h0"/><path stroke="#6a176e" d="M825.8 390.5h0M202.5 382.2h0M298.2 377.6h0M825.2 402.3h0M840.8 362.4h0M902.7 458.9h0M292.1 384.7h0M319.5 324.5h0M176.9 374.2h0M314.5 334.2h0M827.5 403.5h0M897.3 494.8h0M714.3 446.0h0M919.7 500.1h0M792.4 391.2h0M412.9 427.2h0M761.4 513.7h0M655.6 425.7h0M310.2 350.8h0M411.3 465.9h0M848.4 362.3h0M329.6 312.1h0"/><path stroke="#d64c3f" d="M391.3 266.2h0M885.4 305.9h0M703.8 421.4h0M197.5 373.7h0M204.0 347.7h0M889.7 300.8h0M707.9 377.6h0M388.4 253.0h0M891.7 303.5h0M919.9 265.3h0M216.2 380.6h0M880.2 299.8h0M827.3 522.9h0M900.3 302.4h0M880.3 316.1h0M878.7 303.2h0M392.1 246.6h0M709.7 393.7h0M325.0 480.1h0M197.4 365.1h0M392.2 234.9h0M331.3 486.4h0"/><path stroke="#dd513a" d="M162.6 372.4h0M187.8 346.7h0M379.7 254.3h0M171.2 362.5h0M373.2 258.8h0M388.6 245.1h0M697.0 449.3h0M702.0 401.0h0M194.1 355.8h0M437.2 237.6h0M333.0 492.3h0M705.2 438.1h0M903.5 300.3h0M386.3 256.4h0M881.9 305.5h0M399.9 250.6h0M196.9 367.0h0M383.5 260.5h0M406.9 278.0h0M364.2 237.9h0M909.9 295.4h0M714.3 411.7h0"/><path stroke="#f37819" d="M688.0 397.4h0M714.7 396.4h0M176.7 383.9h0M325.5 520.0h0M714.6 413.2h0M316.4 548.7h0M696.0 405.9h0M713.1 402.6h0M695.1 403.1h0M846.7 551.9h0M677.7 390.8h0M688.4 406.8h0M188.8 352.2h0M839.9 551.5h0M703.1 366.1h0M833.5 556.5h0M202.5 356.5h0M820.4 574.3h0M828.9 560.1h0M810.6 548.0h0M827.0 569.2h0M197.5 360.1h0"/><path stroke="#c9414a" d="M389.7 269.1h0M888.4 303.7h0M882.1 311.6h0M889.3 294.4h0M884.2 299.3h0M192.7 377.9h0M395.2 242.0h0M198.9 373.4h0M181.7 372.5h0M900.0 277.3h0M826.3 500.6h0M387.4 264.1h0M900.1 299.0h0M898.8 302.5h0M695.5 385.8h0M375.0 270.2h0M898.0 293.8h0M896.7 305.4h0M383.1 263.1h0M365.1 278.9h0M716.9 400.9h0M239.7 383.7h0"/><path stroke="#420a68" d="M808.8 425.7h0M265.5 406.2h0M293.4 458.8h0M776.1 408.6h0M287.6 366.5h0M329.8 336.1h0M297.2 385.6h0M793.6 413.9h0M166.4 393.1h0M320.7 349.0h0M829.0 431.1h0M749.9 396.4h0M805.9 479.5h0M814.9 419.2h0M821.1 406.1h0M674.9 642.9h0M835.7 402.4h0M726.5 445.8h0M338.7 388.1h0M271.2 570.8h0M800.0 402.8h0M313.5 343.6h0"/><path stroke="#6a176e" d="M701.4 482.8h0M316.7 317.8h0M664.3 447.3h0M304.7 529.0h0M793.4 519.6h0M813.2 560.8h0M317.3 338.9h0M920.3 480.8h0M722.5 437.3h0M821.2 359.6h0M308.8 353.5h0M828.9 588.5h0M826.1 409.6h0M222.4 385.7h0M824.9 384.5h0M263.6 539.3h0M811.1 400.5h0M798.5 402.6h0M836.9 368.7h0M408.0 459.9h0M798.8 390.4h0M735.9 436.2h0"/><path stroke="#0d0724" d="M231.4 393.5h0"/><path stroke="#721a6d" d="M158.0 361.4h0M285.7 504.8h0M699.8 436.3h0M873.1 420.8h0M803.7 393.2h0M168.0 386.1h0M818.5 356.0h0M729.3 467.8h0M331.2 320.7h0M830.4 406.1h0M310.5 344.4h0M329.9 366.4h0M327.1 314.6h0M673.3 445.2h0M139.3 417.9h0M670.5 432.3h0M688.7 421.1h0M316.6 511.8h0M321.9 328.1h0M266.5 508.8h0M850.9 363.5h0M819.5 363.7h0"/><path stroke="#8b2368" d="M393.2 444.3h0M319.5 360.8h0M267.9 400.6h0M775.8 405.4h0M775.1 527.6h0M308.9 512.1h0M939.7 513.9h0M396.1 477.6h0M348.7 376.2h0M282.2 380.2h0M734.8 450.5h0M316.9 497.8h0M330.7 360.0h0M930.6 485.8h0M845.6 404.9h0M744.4 455.3h0M141.6 379.4h0M941.1 466.7h0M828.5 408.4h0M794.3 382.1h0M692.6 454.2h0M321.9 330.3h0"/><path stroke="#62146d" d="M295.3 398.3h0M307.0 403.2h0M819.2 413.4h0M285.4 348.9h0M311.8 341.5h0M267.2 570.4h0M823.9 356.1h0M834.9 361.9h0M260.2 487.8h0M321.0 386.1h0M831.0 351.9h0M267.0 508.7h0M721.7 445.6h0M838.0 370.0h0M317.0 334.6h0M821.8 394.7h0M707.9 457.4h0M287.1 330.1h0M298.1 385.6h0M182.3 412.7h0M340.1 361.9h0M687.1 441.6h0"/><path stroke="#6a176e" d="M828.9 414.0h0M283.1 499.6h0M704.0 411.9h0M807.2 406.1h0M825.8 376.3h0M325.5 346.2h0M183.8 416.4h0M826.4 373.2h0M321.7 331.5h0M287.0 354.4h0M715.9 403.6h0M836.9 390.2h0M312.1 340.2h0M324.0 332.3h0M818.8 352.3h0M818.2 356.3h0M716.4 452.8h0M805.2 390.4h0M817.0 420.0h0M342.9 373.9h0M319.1 333.9h0M172.7 428.0h0"/><path stroke="#bc3754" d="M375.9 267.1h0M826.3 515.2h0M822.3 515.0h0M889.6 283.9h0M383.0 259.7h0M387.7 245.8h0M889.9 295.4h0M822.1 523.7h0M819.9 514.3h0M381.6 254.2h0M890.5 298.6h0M386.7 255.0h0M384.6 279.7h0M392.0 251.3h0M894.6 306.3h0M384.2 287.1h0M378.4 270.4h0M390.5 245.7h0M385.5 276.0h0M898.9 307.7h0M899.3 307.8h0M374.5 276.6h0"/><path stroke="#e15933" d="M907.8 254.6h0M908.9 248.4h0M703.2 409.7h0M683.8 383.9h0M386.9 218.2h0M208.3 356.4h0M357.0 468.4h0M387.7 253.1h0M203.2 350.2h0M202.4 351.8h0M328.8 500.5h0M393.7 243.5h0M886.0 285.9h0M324.4 477.9h0M923.3 301.9h0M282.6 286.4h0M836.1 543.4h0M387.3 258.7h0M880.5 295.1h0M393.5 240.3h0M824.8 577.4h0M911.2 290.7h0"/><path stroke="#83206a" d="M254.3 569.8h0M182.4 430.2h0M724.4 399.7h0M815.1 404.5h0M158.5 392.0h0M308.9 396.0h0M395.7 429.6h0M296.3 353.1h0M309.9 489.4h0M399.6 477.7h0M275.4 362.3h0M200.7 390.6h0M180.3 389.8h0M312.7 333.2h0M172.4 444.9h0M833.2 375.1h0M819.3 406.9h0M700.7 429.1h0M815.6 396.6h0M312.4 330.0h0M916.0 503.4h0M190.6 411.6h0"/><path stroke="#721a6d" d="M422.3 445.5h0M332.9 319.9h0M825.7 368.8h0M822.7 354.7h0M823.1 366.3h0M793.9 532.0h0M774.2 521.9h0M284.6 521.2h0M795.4 407.4h0M265.7 552.5h0M777.4 527.5h0M671.8 451.5h0M297.8 488.8h0M272.9 494.5h0M170.1 398.4h0M271.6 484.6h0M326.0 329.1h0M204.3 422.7h0M305.7 356.4h0M787.9 521.2h0M919.7 482.2h0M844.3 533.8h0"/><path stroke="#ac305c" d="M908.6 380.3h0M374.4 292.9h0M330.7 461.4h0M365.4 284.9h0M893.7 303.5h0M893.2 348.2h0M213.7 399.6h0M392.7 279.0h0M379.3 276.7h0M913.7 368.0h0M389.6 273.3h0M897.9 305.3h0M382.1 273.3h0M887.6 295.5h0M380.8 349.6h0M373.8 306.1h0M898.5 310.4h0M381.3 273.5h0M392.1 264.6h0M374.8 301.1h0M381.5 276.0h0M890.8 302.6h0"/><path stroke="#f89310" d="M310.9 511.4h0M330.0 493.5h0M690.7 400.4h0M316.8 524.0h0M848.4 545.9h0M337.2 507.0h0M836.6 541.9h0M837.8 558.5h0M311.2 551.5h0M341.1 513.1h0M215.9 361.4h0M698.1 398.8h0M830.8 546.5h0M822.3 559.1h0M313.4 535.1h0M760.3 466.7h0M338.3 507.1h0M338.0 600.8h0M725.2 411.0h0M327.0 503.5h0M690.6 412.2h0M844.6 549.5h0"/><path stroke="#d04744" d="M169.3 380.4h0M887.2 300.8h0M906.3 297.1h0M385.0 250.5h0M891.6 309.8h0M940.3 308.7h0M168.3 366.1h0M206.5 341.4h0M895.4 305.5h0M382.9 255.0h0M827.1 579.5h0M171.4 389.8h0M387.2 258.3h0M402.8 276.9h0M894.6 298.8h0M271.8 310.6h0M905.0 287.0h0M896.9 312.1h0M901.5 301.9h0M327.2 483.1h0M878.4 305.7h0M897.0 302.9h0"/><path stroke="#62146d" d="M710.5 418.6h0M297.3 359.4h0M835.1 362.5h0M347.0 331.1h0M323.3 320.0h0M322.5 320.4h0M331.2 314.6h0M185.2 402.8h0M151.1 374.9h0M321.1 414.4h0M169.1 413.7h0M255.5 510.6h0M704.8 462.2h0M218.6 396.1h0M333.0 325.5h0M204.6 380.3h0M320.3 374.4h0M804.3 357.5h0M349.9 345.8h0M828.9 357.9h0M350.2 385.9h0M853.8 363.1h0"/><path stroke="#f78a13" d="M209.4 355.1h0M847.1 540.7h0M169.3 347.0h0M187.6 359.0h0M828.9 544.2h0M182.1 389.1h0M697.0 396.4h0M185.7 360.1h0M686.3 390.5h0M198.8 339.2h0M839.8 552.8h0M700.0 409.2h0M314.6 546.5h0M327.8 516.1h0M694.5 413.4h0M336.1 501.0h0M700.5 382.2h0M692.4 393.0h0M694.8 418.4h0M692.9 424.1h0M680.8 384.7h0M320.0 489.0h0"/><path stroke="#c9414a" d="M332.3 500.5h0M375.4 260.1h0M382.1 269.2h0M383.3 263.1h0M714.1 433.1h0M394.9 264.8h0M877.8 309.0h0M821.8 525.7h0M881.3 297.9h0M382.8 282.7h0M881.5 303.8h0M879.6 295.6h0M880.3 301.3h0M896.3 263.5h0M882.8 287.6h0M377.5 274.3h0M386.6 269.6h0M385.3 255.4h0M890.0 301.0h0M880.6 295.9h0M830.1 506.5h0M388.3 276.4h0"/><path stroke="#62146d" d="M846.2 432.5h0M838.9 363.8h0M347.2 311.9h0M297.9 521.3h0M709.3 431.9h0M325.6 329.0h0M834.8 365.1h0M690.6 444.6h0M643.5 440.5h0M304.5 374.1h0M155.1 401.9h0M771.3 535.4h0M340.2 322.8h0M704.0 423.7h0M700.7 444.3h0M774.5 518.9h0M829.1 362.9h0M829.3 361.1h0M875.4 476.0h0M711.4 449.8h0M810.9 400.3h0M784.3 413.7h0"/><path stroke="#5a126c" d="M784.6 530.0h0M831.8 354.0h0M786.5 376.5h0M704.9 444.0h0M927.5 474.3h0M812.3 361.0h0M723.0 376.7h0M689.2 452.9h0M826.0 353.2h0M840.3 368.3h0M168.8 372.6h0M834.9 422.3h0M333.4 317.1h0M326.1 353.6h0M846.1 355.0h0M183.3 381.4h0M321.0 323.5h0M786.1 403.9h0M833.8 359.4h0M818.3 400.7h0M820.7 360.6h0M248.2 669.3h0"/><path stroke="#f78a13" d="M328.0 527.4h0M820.2 571.8h0M214.4 365.1h0M364.8 246.5h0M332.3 498.8h0M702.1 393.2h0M680.2 407.0h0M839.0 535.3h0M198.7 366.4h0M336.9 501.9h0M816.4 587.2h0M681.4 391.2h0M690.7 411.6h0M698.7 412.8h0M190.6 372.2h0M199.8 356.1h0M831.6 550.1h0M683.4 418.7h0M348.8 270.0h0M698.7 390.2h0M823.8 536.9h0M710.4 411.6h0"/><path stroke="#62146d" d="M317.3 335.5h0M829.9 364.2h0M316.9 338.1h0M800.0 396.6h0M709.2 452.9h0M343.8 409.7h0M814.4 396.1h0M840.8 371.4h0M354.9 244.5h0M826.5 371.5h0M256.5 571.4h0M175.5 400.3h0M702.9 459.6h0M310.5 365.9h0M175.5 395.3h0M288.2 343.4h0M803.6 392.2h0M353.3 412.6h0M157.7 418.9h0M833.3 354.8h0M328.7 334.9h0M692.0 453.4h0"/><path stroke="#390a5f" d="M196.5 384.6h0M226.5 391.5h0M204.6 403.9h0"/><path stroke="#7a1d6b" d="M829.5 368.9h0M814.0 359.2h0M175.8 417.8h0M824.2 400.5h0M355.0 402.3h0M291.5 503.9h0M782.6 537.4h0M367.7 618.0h0M774.3 389.2h0M386.5 502.2h0M813.3 354.8h0M308.1 327.9h0M412.1 470.7h0M332.5 321.0h0M352.5 401.3h0M179.5 393.4h0M837.3 358.6h0M320.5 324.6h0M178.5 391.8h0M266.8 569.4h0M695.4 457.9h0M716.7 428.8h0"/><path stroke="#ac305c" d="M874.2 291.4h0M875.0 298.8h0M373.8 275.8h0M375.2 285.4h0M899.1 302.6h0M389.1 278.8h0M886.9 307.3h0M901.2 267.8h0M399.3 251.2h0M378.7 270.5h0M402.6 271.2h0M892.4 292.4h0M818.0 504.0h0M904.2 264.6h0M359.1 477.6h0M377.8 266.4h0M379.2 277.5h0M879.4 295.5h0M376.6 289.8h0M897.0 311.1h0M388.0 296.4h0M935.2 403.9h0"/><path stroke="#d64c3f" d="M865.3 298.6h0M696.9 428.1h0M184.7 362.4h0M900.0 307.4h0M896.4 293.7h0M380.2 271.3h0M388.4 264.8h0M891.0 300.5h0M879.7 278.7h0M880.5 308.0h0M698.9 413.8h0M386.8 265.0h0M174.0 357.2h0M200.0 342.4h0M189.1 389.1h0M380.8 223.7h0M183.0 392.6h0M386.9 268.2h0M829.8 568.1h0M894.8 294.0h0M683.3 407.0h0M198.1 358.2h0"/><path stroke="#721a6d" d="M358.1 394.8h0M676.5 434.4h0M393.7 649.2h0M836.8 369.6h0M826.1 365.9h0M312.5 366.5h0M789.3 524.5h0M804.8 408.3h0M320.7 332.8h0M814.3 406.2h0M169.0 379.5h0M328.9 318.4h0M826.8 366.1h0M216.9 392.4h0M211.4 388.2h0M724.1 432.0h0M330.9 323.0h0M856.6 422.7h0M826.5 375.1h0M346.6 389.1h0M287.4 483.9h0M684.3 433.8h0"/><path stroke="#b43458" d="M371.5 284.9h0M888.4 301.8h0M870.1 441.0h0M903.3 312.7h0M383.6 266.2h0M890.5 310.1h0M894.3 294.7h0M172.2 363.3h0M892.7 314.9h0M383.1 278.4h0M183.3 357.2h0M368.7 278.5h0M380.3 272.9h0M900.5 294.6h0M901.0 294.4h0M831.2 433.7h0M319.3 367.7h0M378.0 267.2h0M402.4 282.5h0M886.6 295.6h0M896.8 303.5h0M390.0 234.9h0"/><path stroke="#160b39" d="M226.8 386.9h0"/><path stroke="#c9414a" d="M385.4 263.8h0M910.8 307.3h0M896.4 301.0h0M835.5 507.2h0M707.4 382.7h0M394.5 252.6h0M912.3 290.1h0M836.2 520.5h0M377.3 271.7h0M382.8 269.4h0M885.8 278.9h0M893.3 292.7h0M892.7 304.7h0M910.2 305.8h0M886.9 302.9h0M395.5 275.8h0M894.1 284.1h0M900.5 301.2h0M887.9 309.5h0M372.6 276.5h0M374.7 279.6h0M911.9 288.7h0"/><path stroke="#7a1d6b" d="M189.6 410.3h0M417.6 473.8h0M819.6 386.4h0M304.7 517.0h0M656.0 260.2h0M305.3 377.7h0M834.8 402.4h0M299.7 379.7h0M196.6 384.7h0M838.3 403.8h0M835.7 395.2h0M686.1 406.8h0M307.7 344.8h0M268.4 496.8h0M821.7 362.7h0M308.9 357.0h0M833.9 358.3h0M202.2 382.3h0M821.6 404.9h0M907.4 493.0h0M738.4 473.9h0M815.4 415.0h0"/><path stroke="#f37819" d="M334.3 505.9h0M316.9 546.7h0M689.5 401.1h0M851.1 537.4h0M388.6 263.4h0M687.8 398.0h0M693.8 395.5h0M354.1 233.4h0M689.1 397.0h0M848.4 540.2h0M692.9 402.7h0M846.2 544.9h0M706.7 409.9h0M693.4 393.9h0M838.3 545.3h0M335.0 502.2h0M189.6 395.2h0M198.7 382.8h0M210.8 344.9h0M178.3 376.4h0M701.6 402.1h0M333.4 519.2h0"/><path stroke="#ac305c" d="M381.6 277.4h0M890.1 302.1h0M380.9 269.6h0M372.4 286.3h0M385.6 277.6h0M824.8 520.7h0M370.4 270.2h0M383.9 270.9h0M214.6 427.0h0M829.6 507.2h0M896.1 301.0h0M403.2 350.1h0M385.2 283.6h0M888.0 289.4h0M375.4 278.2h0M391.5 292.6h0M377.0 287.5h0M866.8 383.6h0M381.3 276.6h0M224.0 379.2h0M417.9 263.0h0M374.9 292.3h0"/><path stroke="#ea6826" d="M704.6 409.6h0M181.5 376.9h0M213.7 338.1h0M181.6 361.7h0M198.0 367.8h0M704.3 390.6h0M693.2 433.7h0M841.3 550.0h0M197.0 357.9h0M204.0 364.1h0M708.3 405.0h0M192.1 357.2h0M730.3 440.2h0M186.1 385.2h0M177.1 375.3h0M199.4 368.1h0M689.5 382.4h0M325.0 490.3h0M357.3 226.3h0M239.1 337.7h0M187.7 362.2h0M701.0 402.6h0"/><path stroke="#6a176e" d="M390.7 447.4h0M829.8 379.0h0M713.8 427.3h0M331.6 323.9h0M827.6 362.4h0M316.9 379.2h0M823.3 357.0h0M668.9 441.3h0M808.2 361.3h0M174.6 399.6h0M712.0 450.0h0M312.6 381.4h0M315.9 338.8h0M824.2 364.3h0M310.2 331.4h0M339.5 392.8h0M916.0 519.8h0M917.4 496.3h0M369.0 407.1h0M829.4 355.6h0M823.4 364.8h0M324.2 385.4h0"/><path stroke="#c9414a" d="M381.4 264.6h0M915.2 285.2h0M892.4 298.6h0M391.7 251.1h0M383.5 284.1h0M383.7 244.8h0M899.2 306.7h0M877.8 307.9h0M187.0 376.0h0M391.3 266.6h0M896.2 299.5h0M884.3 304.3h0M904.5 301.8h0M288.6 500.5h0M882.8 310.6h0M385.8 292.5h0M892.9 305.6h0M382.6 254.3h0M880.0 306.8h0M897.7 297.6h0M897.7 300.7h0M381.4 253.2h0"/><path stroke="#721a6d" d="M777.4 548.3h0M304.2 364.9h0M276.3 523.7h0M813.2 363.7h0M344.5 379.0h0M837.1 352.5h0M853.3 356.0h0M904.6 469.6h0M292.4 406.4h0M294.9 382.8h0M190.3 397.1h0M317.1 339.4h0M334.7 312.2h0M725.8 409.7h0M325.7 379.6h0M786.9 368.0h0M810.6 389.1h0M831.4 375.6h0M776.0 527.8h0M823.3 362.8h0M288.6 406.8h0M708.1 423.8h0"/><path stroke="#c33c4f" d="M380.9 268.7h0M885.8 305.6h0M900.3 303.1h0M384.9 242.9h0M895.0 306.1h0M335.4 289.4h0M886.0 303.3h0M707.3 413.1h0M892.8 303.5h0M385.6 274.1h0M389.9 262.1h0M887.2 313.4h0M205.9 354.1h0M888.7 318.7h0M886.1 301.7h0M893.0 302.9h0M376.7 291.4h0M377.6 282.9h0M374.2 273.8h0M891.3 301.9h0M383.1 255.4h0M380.9 277.1h0"/><path stroke="#c9414a" d="M888.0 310.4h0M900.4 299.6h0M394.1 226.1h0M898.1 299.0h0M891.8 304.1h0M388.3 265.6h0M169.5 388.5h0M897.9 302.7h0M908.4 288.7h0M389.9 245.7h0M899.2 307.6h0M693.0 435.9h0M385.1 268.3h0M373.6 280.1h0M206.1 364.0h0M385.8 253.5h0M196.7 363.3h0M387.0 242.9h0M815.2 380.4h0M193.0 391.7h0M889.1 303.1h0M393.4 249.2h0"/><path stroke="#e15933" d="M197.2 343.3h0M374.4 257.4h0M715.7 396.1h0M704.9 404.3h0M200.9 360.9h0M688.4 398.2h0M927.4 390.0h0M700.8 386.6h0M883.2 299.4h0M684.3 446.5h0M389.0 236.3h0M209.9 353.7h0M204.0 352.6h0M703.9 390.2h0M894.3 320.2h0M670.5 417.0h0M392.8 263.4h0M694.0 384.4h0M174.7 359.3h0M700.0 391.8h0M705.4 434.5h0M382.1 242.6h0"/><path stroke="#ef7020" d="M200.0 341.2h0M205.4 357.2h0M837.8 538.4h0M821.4 544.0h0M199.9 343.8h0M844.5 555.7h0M182.9 366.0h0M687.7 419.6h0M673.1 391.7h0M197.1 355.6h0M191.7 357.7h0M178.8 358.5h0M184.7 370.6h0M684.7 393.9h0M682.3 425.2h0M195.2 382.3h0M205.0 354.7h0M765.2 463.3h0M699.0 406.2h0M318.0 548.9h0M701.2 412.4h0M184.9 369.9h0"/><path stroke="#520f6a" d="M176.5 403.5h0M812.0 395.1h0M799.4 412.6h0M841.5 356.5h0M711.9 421.6h0M861.5 423.7h0M831.0 585.5h0M834.3 371.0h0M804.9 393.9h0M317.1 358.1h0M346.9 397.8h0M830.8 357.4h0M703.0 447.7h0M821.7 359.1h0M277.9 400.9h0M315.0 354.5h0M327.4 385.1h0M712.9 405.5h0M305.7 362.3h0M214.5 392.6h0M331.8 375.9h0M795.2 381.9h0"/><path stroke="#e6612d" d="M196.1 360.5h0M189.7 355.8h0M366.2 261.4h0M193.3 367.4h0M201.0 354.2h0M392.6 227.2h0M680.6 413.4h0M709.3 386.8h0M396.2 255.1h0M706.4 405.4h0M331.8 487.8h0M889.2 294.4h0M836.4 538.4h0M279.1 303.2h0M193.9 365.5h0M201.4 360.4h0M192.6 355.4h0M696.9 429.7h0M194.1 334.2h0M819.9 581.1h0M719.1 400.4h0M382.6 271.1h0"/><path stroke="#7a1d6b" d="M280.7 569.5h0M698.4 439.5h0M917.1 444.8h0M835.9 359.3h0M295.5 556.3h0M831.8 409.6h0M317.1 373.5h0M841.9 421.4h0M923.4 499.3h0M837.1 410.9h0M829.9 355.0h0M783.5 522.3h0M761.8 622.2h0M280.1 352.3h0M127.1 517.9h0M786.1 537.4h0M341.4 320.5h0M264.5 480.8h0M835.6 366.8h0M843.5 394.3h0M813.5 398.7h0M164.5 372.4h0"/><path stroke="#6a176e" d="M761.9 394.4h0M262.2 508.1h0M274.8 505.0h0M709.4 420.5h0M856.8 358.4h0M348.5 309.4h0M827.7 358.2h0M823.3 362.3h0M188.4 378.9h0M337.9 317.2h0M836.2 365.1h0M308.7 356.2h0M842.2 407.0h0M708.4 450.1h0M832.3 367.4h0M809.3 393.6h0M791.0 528.2h0M324.0 316.2h0M350.1 311.7h0M314.1 333.3h0M818.5 400.1h0M734.6 436.5h0"/><path stroke="#f37819" d="M328.0 527.8h0M707.4 396.8h0M309.8 548.1h0M839.1 544.0h0M201.1 363.6h0M820.6 572.8h0M706.8 410.2h0M360.3 281.2h0M189.3 347.8h0M692.8 375.3h0M197.9 361.4h0M738.0 390.8h0M822.3 567.2h0M828.4 570.3h0M705.9 400.3h0M824.7 545.4h0M183.7 360.6h0M189.4 404.4h0M202.5 366.5h0M693.8 413.3h0M709.3 426.6h0M271.1 325.0h0"/><path stroke="#83206a" d="M338.6 401.8h0M126.1 424.9h0M215.8 395.8h0M764.2 419.4h0M774.0 532.4h0M838.8 372.7h0M297.9 395.5h0M820.2 407.9h0M808.8 399.1h0M796.1 388.2h0M680.9 454.5h0M288.4 517.9h0M904.0 492.9h0M773.8 401.8h0M746.5 472.7h0M817.8 336.4h0M298.0 501.1h0M827.5 365.0h0M301.8 406.2h0M267.7 565.2h0M831.4 401.6h0M888.6 498.5h0"/><path stroke="#e6612d" d="M692.3 396.8h0M700.1 385.9h0M679.0 395.3h0M197.8 360.9h0M412.5 290.1h0M688.0 395.5h0M686.6 404.8h0M185.7 383.2h0M197.7 360.0h0M930.2 291.0h0M334.7 502.1h0M716.2 398.8h0M702.6 399.8h0M197.1 374.6h0M776.3 355.7h0M693.9 408.8h0M692.3 385.7h0M403.3 287.4h0M393.4 274.5h0M182.6 400.5h0M702.9 388.4h0M691.6 398.8h0"/><path stroke="#ef7020" d="M201.9 366.5h0M208.8 346.1h0M193.5 386.2h0M347.4 227.7h0M714.1 395.3h0M786.8 356.0h0M701.9 409.9h0M783.2 350.3h0M701.4 401.9h0M695.8 394.4h0M755.9 467.9h0M690.5 403.9h0M284.1 316.8h0M183.2 362.3h0M175.9 375.1h0M834.7 559.6h0M757.3 465.5h0M324.1 497.3h0M684.9 437.9h0M838.3 555.7h0M704.2 401.1h0M704.3 396.1h0"/><path stroke="#c9414a" d="M893.0 302.2h0M875.9 254.0h0M893.3 313.2h0M907.0 290.1h0M245.0 388.2h0M834.5 517.6h0M380.2 272.1h0M189.0 374.8h0M890.9 302.2h0M310.2 467.7h0M903.6 287.6h0M919.8 293.8h0M868.9 307.6h0M911.3 263.7h0M187.7 369.5h0M880.1 302.5h0M899.3 303.8h0M169.0 397.9h0M186.3 384.8h0M892.6 291.4h0M754.9 429.8h0M208.6 414.6h0"/><path stroke="#7a1d6b" d="M723.3 450.6h0M309.3 494.9h0M180.7 400.2h0M330.7 330.5h0M275.8 462.2h0M334.2 309.4h0M307.3 341.2h0M368.4 390.2h0M377.2 438.3h0M274.1 568.6h0M819.4 387.9h0M920.2 487.1h0M318.1 372.9h0M335.9 382.9h0M799.9 388.1h0M850.7 404.4h0M663.4 445.8h0M329.9 297.3h0M184.8 415.0h0M816.8 407.7h0M302.0 543.8h0M312.2 343.8h0"/><path stroke="#dd513a" d="M898.6 310.6h0M696.1 396.6h0M895.6 294.5h0M182.2 386.2h0M713.5 419.1h0M699.0 416.4h0M915.9 278.5h0M390.9 239.6h0M896.0 309.0h0M376.4 277.5h0M386.6 254.2h0M397.0 238.0h0M214.1 345.4h0M897.3 309.9h0M893.0 272.9h0M406.6 246.9h0M891.5 300.4h0M689.7 427.9h0M180.3 373.3h0M198.3 356.9h0M884.2 303.6h0M837.1 537.3h0"/><path stroke="#b43458" d="M822.4 534.2h0M386.9 248.5h0M880.7 296.6h0M874.7 297.5h0M786.9 469.9h0M920.6 293.5h0M401.6 257.7h0M896.1 302.9h0M887.8 294.4h0M893.0 251.2h0M882.8 308.8h0M386.6 277.6h0M875.4 502.8h0M382.4 283.2h0M701.9 416.7h0M378.3 283.2h0M411.9 361.0h0M391.1 273.3h0M895.2 310.6h0M901.5 293.7h0M588.0 650.3h0M371.8 275.2h0"/><path stroke="#d04744" d="M375.7 246.6h0M895.2 294.1h0M396.7 222.6h0M902.3 299.8h0M896.1 303.0h0M896.9 296.2h0M417.3 247.9h0M197.4 357.3h0M391.0 231.0h0M879.3 313.2h0M891.2 317.9h0M393.7 287.3h0M821.0 524.4h0M884.2 314.3h0M910.2 298.9h0M322.0 478.9h0M882.0 300.2h0M879.0 301.7h0M892.4 304.2h0M900.8 301.4h0M382.8 201.3h0M329.8 487.2h0"/><path stroke="#ea6826" d="M191.1 347.4h0M204.5 362.7h0M310.7 546.4h0M697.5 395.7h0M827.2 572.2h0M704.3 390.8h0M820.9 567.8h0M208.6 336.1h0M691.3 401.4h0M178.9 351.7h0M687.1 417.9h0M381.3 242.6h0M319.0 538.9h0M172.8 368.8h0M204.1 356.6h0M694.9 391.2h0M182.6 361.9h0M208.2 346.0h0M191.0 367.0h0M188.6 359.8h0M713.6 413.2h0M370.1 260.7h0"/><path stroke="#83206a" d="M778.7 394.7h0M772.0 506.3h0M763.8 459.7h0M913.0 289.7h0M897.8 469.5h0M306.0 402.1h0M820.9 407.1h0M308.0 349.0h0M875.2 474.4h0M184.3 398.4h0M712.8 418.6h0M327.3 339.0h0M217.4 399.3h0M790.0 397.6h0M289.4 356.8h0M151.5 419.5h0M183.2 414.9h0M820.9 421.7h0M834.4 382.1h0M593.1 274.6h0M723.5 418.0h0M812.8 394.0h0"/><path stroke="#7a1d6b" d="M939.0 511.7h0M835.9 352.5h0M197.3 374.6h0M316.1 320.6h0M826.3 362.3h0M248.8 510.0h0M272.4 576.5h0M319.7 330.4h0M308.4 330.3h0M847.3 419.9h0M292.4 482.4h0M887.6 448.7h0M171.9 400.0h0M265.1 558.8h0M194.8 424.5h0M787.7 393.8h0M363.3 378.6h0M827.7 413.8h0M78.1 122.6h0M694.0 423.1h0M693.9 450.1h0M723.2 450.8h0"/><path stroke="#6a176e" d="M311.9 344.8h0M404.3 467.0h0M713.2 460.3h0M816.3 365.8h0M331.3 322.6h0M694.5 462.7h0M333.5 387.8h0M815.1 354.8h0M788.8 382.4h0M782.8 520.0h0M313.0 359.1h0M330.5 363.5h0M325.7 368.0h0M171.8 396.9h0M302.1 370.6h0M833.4 361.8h0M325.6 375.4h0M335.5 400.5h0M816.9 393.6h0M312.7 341.7h0M936.5 502.8h0M826.5 371.5h0"/><path stroke="#dd513a" d="M322.1 481.1h0M415.6 249.9h0M882.5 303.5h0M898.6 301.8h0M186.4 362.5h0M199.1 364.2h0M372.2 258.8h0M698.9 437.7h0M701.3 420.8h0M189.3 361.6h0M199.7 344.5h0M696.5 396.4h0M387.2 241.9h0M193.3 356.3h0M682.4 404.4h0M395.0 239.3h0M201.8 354.6h0M702.8 390.6h0M196.5 360.5h0M203.8 355.0h0M393.2 243.0h0M406.0 249.4h0"/><path stroke="#7a1d6b" d="M303.3 333.5h0M814.2 400.2h0M325.2 320.5h0M370.1 645.1h0M307.5 340.4h0M845.9 417.6h0M316.9 384.3h0M806.9 397.0h0M761.1 603.6h0M806.0 393.6h0M822.5 398.8h0M923.8 477.4h0M196.7 386.2h0M814.8 434.9h0M824.4 375.5h0M827.9 357.0h0M801.7 560.8h0M830.3 425.4h0M390.1 446.3h0M219.5 427.9h0M322.2 313.8h0M819.4 370.3h0"/><path stroke="#5a126c" d="M818.6 387.7h0M206.9 386.8h0M717.1 436.3h0M203.0 413.6h0M278.7 362.7h0M326.6 319.2h0M182.2 398.6h0M828.6 398.2h0M832.9 370.9h0M819.2 408.3h0M831.7 367.8h0M193.4 375.9h0M830.7 363.5h0M311.2 370.6h0M897.1 483.6h0M905.7 481.9h0M304.5 373.9h0M845.0 360.1h0M333.4 312.4h0M323.5 318.6h0M808.7 395.7h0M310.6 399.3h0"/><path stroke="#d64c3f" d="M202.8 340.3h0M393.9 249.5h0M895.0 310.8h0M194.0 366.9h0M379.1 254.1h0M383.3 272.5h0M193.0 344.8h0M707.5 407.7h0M823.6 518.2h0M883.1 291.8h0M897.4 309.4h0M838.4 514.6h0M891.9 301.1h0M372.8 288.1h0M397.9 268.7h0M191.4 376.0h0M890.0 303.3h0M391.9 250.9h0M382.4 270.7h0M897.6 297.0h0M684.0 398.9h0M832.0 507.9h0"/><path stroke="#62146d" d="M824.1 400.0h0M837.2 363.9h0M165.3 382.3h0M325.7 337.7h0M819.9 394.4h0"/><path stroke="#d04744" d="M899.0 266.1h0M904.3 299.4h0M884.6 302.1h0M178.1 389.8h0M380.8 262.0h0M882.7 298.2h0M698.9 411.1h0M891.7 312.2h0M825.7 507.1h0M382.6 284.6h0M879.2 301.1h0M203.1 399.2h0M684.6 428.7h0M821.6 522.7h0M713.3 398.9h0M887.4 299.0h0M169.3 355.2h0M884.5 302.9h0M364.5 229.1h0M222.0 400.0h0M825.3 531.1h0M887.8 431.6h0"/><path stroke="#7a1d6b" d="M378.4 301.4h0M406.2 440.9h0M312.0 336.9h0M655.0 436.7h0M692.5 452.2h0M773.4 538.5h0M829.0 367.5h0M842.0 580.9h0M351.3 414.5h0M779.4 523.3h0M326.0 324.2h0M831.3 408.1h0M321.5 372.9h0M197.2 391.0h0M918.5 475.4h0M217.3 381.4h0M277.6 379.1h0M333.7 327.1h0M914.1 639.6h0M192.6 382.5h0M839.9 363.5h0M716.7 409.8h0"/><path stroke="#6a176e" d="M834.4 371.9h0M840.4 357.1h0M705.2 431.1h0M826.8 358.8h0M180.3 395.8h0M821.9 357.1h0M782.9 535.5h0M326.5 319.8h0M683.9 425.8h0M346.4 324.3h0M305.0 361.0h0M166.3 380.3h0M338.2 309.1h0M826.7 360.8h0M312.3 348.7h0M835.5 351.3h0M298.4 369.0h0M717.0 455.7h0M339.0 326.2h0M326.1 328.1h0M332.5 382.2h0M671.8 429.7h0"/><path stroke="#d04744" d="M372.7 274.2h0M197.6 357.8h0M895.9 305.9h0M894.9 296.3h0M382.5 267.6h0M889.6 303.6h0M387.7 253.0h0M891.1 303.8h0M373.0 263.4h0M383.1 269.0h0M378.2 239.3h0M382.2 270.2h0M184.5 370.0h0M416.1 261.8h0M378.5 262.8h0M391.7 279.8h0M690.0 383.6h0M897.8 298.0h0M897.2 303.1h0M387.4 260.7h0M902.4 293.7h0M719.5 403.4h0"/><path stroke="#c33c4f" d="M377.5 277.1h0M372.4 279.3h0M878.3 308.3h0M185.0 351.7h0M905.6 287.6h0M884.2 300.4h0M903.8 295.1h0M182.3 377.4h0M385.3 262.1h0M892.8 309.7h0M379.7 255.5h0M888.0 300.4h0M376.3 277.1h0M818.6 514.4h0M388.5 250.5h0M889.5 287.1h0M898.1 297.5h0M892.9 319.2h0M899.7 305.7h0M367.5 272.3h0M892.4 302.6h0M322.4 483.3h0"/><path stroke="#12092e" d="M194.4 388.2h0M394.6 468.1h0"/><path stroke="#f89310" d="M691.4 393.4h0M725.9 406.3h0M707.1 386.1h0M321.9 536.2h0M333.0 486.9h0M779.1 353.0h0M203.7 358.7h0M173.8 362.1h0M832.1 549.0h0M333.0 508.3h0M199.2 348.5h0M708.4 452.3h0M852.8 555.4h0M319.5 526.0h0M701.1 384.6h0M321.4 535.6h0M336.5 507.6h0M697.0 409.2h0M338.8 513.6h0M831.7 550.1h0M206.9 352.6h0M836.6 548.1h0"/><path stroke="#ea6826" d="M711.0 396.6h0M703.3 416.2h0M189.2 349.5h0M692.3 396.5h0M663.7 403.6h0M825.7 552.6h0M913.0 271.5h0M684.5 401.9h0M680.6 407.5h0M684.7 403.2h0M179.1 349.7h0M330.0 496.0h0M200.5 370.7h0M703.9 401.8h0M202.6 349.5h0M692.8 418.4h0M705.0 421.2h0M175.9 375.8h0M206.3 354.9h0M895.8 286.6h0M905.0 307.0h0M327.8 496.5h0"/><path stroke="#c9414a" d="M892.5 315.6h0M315.3 469.6h0M896.7 296.2h0M887.2 303.8h0M405.9 282.6h0M886.0 308.0h0M900.0 317.0h0M384.0 264.9h0M894.5 320.2h0M188.6 346.5h0M390.8 262.8h0M390.6 244.1h0M828.7 509.6h0M378.5 270.7h0M895.3 295.0h0M707.3 433.0h0M386.3 252.4h0M377.6 274.9h0M377.7 279.3h0M909.5 362.4h0M901.4 294.5h0M889.2 308.6h0"/><path stroke="#83206a" d="M399.5 619.3h0M897.2 476.4h0M414.3 481.0h0M293.9 368.6h0M316.7 357.4h0M778.4 596.3h0M155.4 399.6h0M140.0 402.4h0M170.9 350.3h0M794.8 528.7h0M787.3 539.0h0M356.3 414.4h0M912.3 479.3h0M769.5 513.6h0M322.4 353.2h0M826.2 397.2h0M416.8 439.6h0M756.8 612.7h0M899.0 549.8h0M329.8 369.9h0M674.8 451.5h0M793.4 510.2h0"/><path stroke="#62146d" d="M717.1 453.1h0M827.4 351.7h0M803.1 401.6h0M274.0 347.9h0M339.6 412.3h0M287.7 365.2h0M824.6 372.0h0M818.9 357.1h0M289.5 349.3h0M814.0 404.7h0M353.6 376.0h0M716.9 451.4h0M836.6 389.9h0M777.2 519.3h0M771.9 515.7h0M339.8 385.5h0M171.4 398.6h0M696.4 409.3h0M316.4 332.3h0M304.7 358.1h0M382.9 623.8h0M826.2 365.8h0"/><path stroke="#83206a" d="M264.3 567.7h0M813.4 403.7h0M676.6 430.9h0M206.1 366.1h0M268.5 495.0h0M163.1 388.4h0M823.7 537.7h0M788.2 522.5h0M337.9 387.4h0M866.3 488.8h0M302.3 360.2h0M324.6 364.5h0M705.5 435.6h0M215.3 396.7h0M317.1 525.4h0M204.7 367.0h0M820.7 399.2h0M779.3 508.7h0M837.4 392.0h0M912.8 507.8h0M917.8 653.1h0M265.6 583.8h0"/><path stroke="#b43458" d="M389.7 253.8h0M398.6 320.4h0M901.1 295.3h0M377.8 285.5h0M887.4 298.9h0M383.7 276.4h0M374.0 281.0h0M889.1 300.7h0M901.5 291.8h0M689.0 417.6h0M382.2 268.3h0M393.2 261.2h0M904.7 300.9h0M896.9 337.9h0M388.4 364.5h0M392.9 242.1h0M828.0 505.4h0M665.3 475.5h0M905.6 303.2h0M827.5 517.3h0M816.4 474.9h0M826.5 519.1h0"/><path stroke="#c33c4f" d="M894.9 311.0h0M881.6 300.3h0M376.0 278.0h0M376.7 253.4h0M411.6 268.2h0M887.3 308.6h0M890.8 303.5h0M891.8 294.2h0M382.5 277.7h0M904.0 304.2h0M379.1 269.4h0M387.0 257.2h0M888.4 305.4h0M240.6 383.7h0M824.7 513.5h0M405.2 269.4h0M188.9 349.7h0M378.1 269.5h0M904.3 312.0h0M383.0 292.7h0M885.0 303.2h0M894.0 280.3h0"/><path stroke="#721a6d" d="M176.1 389.4h0M297.2 357.3h0M328.5 315.9h0M831.3 368.4h0M839.4 363.8h0M871.9 396.6h0M815.2 417.6h0M347.4 392.0h0M779.5 524.6h0M335.4 324.1h0M816.8 369.7h0M340.5 308.4h0M265.5 575.9h0M412.4 470.8h0M846.3 404.8h0M779.7 526.6h0M712.8 418.3h0M835.4 360.4h0M818.9 401.6h0M248.5 572.7h0M875.3 471.7h0M322.8 393.7h0"/><path stroke="#ea6826" d="M390.2 251.3h0M686.2 405.5h0M199.7 363.4h0M201.6 353.4h0M385.6 237.6h0M896.6 291.4h0M784.9 355.1h0M785.8 359.0h0M685.8 401.1h0M196.0 358.5h0M688.9 394.2h0M671.3 406.0h0M710.6 404.8h0M379.1 255.9h0M175.3 391.5h0M692.2 391.5h0M202.4 352.1h0M697.4 399.8h0M193.8 389.1h0M203.6 387.4h0M208.7 339.0h0M712.9 397.0h0"/><path stroke="#7a1d6b" d="M400.7 445.4h0M303.1 344.6h0M835.6 531.7h0M199.8 413.9h0M687.5 423.2h0M832.1 564.4h0M310.7 336.5h0M741.7 389.7h0M833.4 364.8h0M780.3 393.2h0M776.8 533.8h0M770.0 405.5h0M251.7 585.2h0M364.1 410.2h0M803.3 432.6h0M215.0 378.4h0M871.4 387.7h0M807.5 385.5h0M344.1 379.9h0M735.1 416.8h0M338.7 313.3h0M832.1 351.7h0"/><path stroke="#c9414a" d="M896.4 295.8h0M171.8 418.5h0M387.0 255.5h0M907.0 292.0h0M190.3 365.3h0M888.4 308.0h0M884.3 309.7h0M321.2 485.9h0M897.3 315.8h0M385.2 248.5h0"/><path stroke="#dd513a" d="M395.4 241.4h0M379.4 268.1h0M176.0 372.7h0M703.8 425.8h0M698.1 385.3h0M188.9 393.0h0M185.5 356.2h0M389.8 254.6h0M183.7 371.2h0M196.6 355.4h0M708.3 409.6h0M895.6 258.1h0M703.8 402.0h0M887.4 299.8h0M846.6 553.9h0M896.0 305.5h0M385.4 259.6h0M193.7 365.8h0M205.4 378.9h0M206.5 357.9h0M886.3 299.9h0M822.6 572.2h0"/><path stroke="#6a176e" d="M833.9 395.2h0M687.8 444.8h0M696.5 459.2h0M339.0 314.4h0M340.7 304.5h0M339.3 366.4h0M312.2 334.3h0M707.0 433.1h0M277.7 512.1h0M202.1 395.9h0M700.6 440.4h0M828.9 404.2h0M841.8 355.9h0M791.1 402.7h0M199.0 406.1h0M314.1 335.3h0M707.6 447.6h0M694.7 410.1h0M837.6 368.9h0M834.7 358.5h0M706.9 441.3h0M822.4 360.0h0"/><path stroke="#721a6d" d="M831.6 510.4h0M291.2 517.2h0M833.9 371.5h0M351.8 401.7h0M815.6 398.7h0M794.3 388.1h0M367.9 437.8h0M259.9 571.3h0M829.3 409.7h0M819.3 367.1h0M786.3 534.5h0M246.1 398.4h0M282.7 494.2h0M335.0 362.2h0M175.1 414.2h0M708.8 440.2h0M397.6 465.5h0M190.9 422.7h0M830.1 416.8h0M318.3 342.2h0M914.0 467.2h0M289.5 367.5h0"/><path stroke="#f89310" d="M701.4 389.8h0M328.1 512.9h0M836.1 553.3h0M695.8 385.1h0M822.9 583.4h0M325.8 520.9h0M893.6 292.7h0M705.3 394.1h0M184.4 378.1h0M848.1 535.9h0M186.6 370.9h0M183.3 367.1h0M334.6 486.6h0M316.4 529.6h0M838.2 535.3h0M680.7 401.2h0M332.8 515.6h0M819.7 570.8h0M702.4 380.3h0M207.0 405.8h0M843.3 556.9h0M335.8 504.8h0"/><path stroke="#62146d" d="M783.4 508.3h0M841.1 352.9h0M828.7 363.3h0M930.2 526.0h0M689.2 426.8h0M807.2 366.6h0M172.0 385.0h0M257.5 498.0h0M200.8 423.3h0M281.1 493.1h0M321.3 370.6h0M333.4 312.7h0M140.6 411.9h0M191.8 422.5h0M913.0 489.0h0M261.6 394.4h0M909.1 488.6h0M811.0 401.8h0M845.4 549.0h0M406.4 449.8h0M298.8 362.5h0M396.0 630.3h0"/><path stroke="#62146d" d="M839.9 406.0h0M832.5 363.6h0M821.7 417.8h0M314.6 347.1h0M331.6 317.7h0M308.0 348.1h0M820.0 358.4h0M190.3 353.3h0M422.8 444.4h0M195.1 377.6h0M827.4 405.4h0M350.8 393.8h0M388.4 468.0h0M419.1 453.3h0M322.8 327.1h0M894.1 523.9h0M787.4 530.8h0M841.3 351.8h0M282.3 353.9h0M831.4 431.7h0M346.8 312.2h0M818.4 362.7h0"/><path stroke="#8b2368" d="M348.6 369.4h0M383.6 286.9h0M189.2 410.2h0M262.9 579.7h0M725.6 455.4h0M336.2 312.9h0M261.1 529.4h0M308.5 411.4h0M192.5 370.3h0M314.5 381.8h0M913.3 498.7h0M311.1 360.4h0M309.6 386.5h0M717.1 404.4h0M882.8 490.1h0M889.4 607.3h0M401.1 471.6h0M857.4 417.2h0M881.7 482.2h0M292.2 514.8h0M209.2 405.7h0M302.1 367.0h0"/><path stroke="#83206a" d="M324.6 544.6h0M923.6 481.2h0M821.0 280.3h0M840.3 411.0h0M379.2 286.2h0M202.5 393.8h0M740.9 433.2h0M293.9 385.0h0M422.8 634.7h0M402.1 419.2h0M701.3 428.3h0M290.2 398.4h0M733.4 438.6h0M785.0 519.5h0M340.2 396.2h0M902.2 487.9h0M261.8 572.6h0M792.4 506.1h0M684.7 440.4h0M278.0 384.8h0M325.0 399.2h0M831.9 423.2h0"/><path stroke="#6a176e" d="M212.3 255.2h0M782.7 517.3h0M694.7 447.1h0M800.4 412.4h0M311.7 353.1h0M323.0 324.7h0M845.1 402.8h0M371.5 462.4h0M830.5 354.1h0M814.9 404.0h0M701.7 428.5h0M695.6 368.8h0M153.6 407.5h0M819.3 395.5h0M319.2 374.6h0M172.6 386.6h0M212.0 397.0h0M324.9 355.8h0M918.2 480.4h0M844.1 420.4h0M226.9 431.9h0M824.5 380.4h0"/><path stroke="#932667" d="M385.4 287.3h0M394.6 472.0h0M703.4 419.3h0M343.3 387.9h0M821.6 412.5h0M297.4 367.2h0M891.1 258.4h0M905.1 473.9h0M888.5 491.6h0M796.8 404.5h0M341.5 399.6h0"/><path stroke="#d64c3f" d="M889.3 305.4h0M378.0 258.5h0M917.3 309.6h0M383.4 262.6h0M383.4 259.9h0M401.0 251.0h0M828.1 522.0h0M383.6 251.6h0M887.3 309.0h0M388.6 255.3h0M386.4 253.6h0M376.6 266.6h0M173.0 373.7h0M697.2 390.2h0M686.0 385.9h0M880.9 305.5h0M906.0 293.8h0M907.2 304.8h0M388.2 292.4h0M386.9 254.1h0M909.7 286.6h0M891.5 307.1h0"/><path stroke="#7a1d6b" d="M320.2 320.3h0M843.3 354.7h0M676.3 485.4h0M203.4 378.6h0M828.0 362.3h0M312.3 330.3h0M709.5 454.1h0M183.4 393.4h0M325.3 332.4h0M312.3 368.5h0M315.0 359.9h0M321.6 367.0h0M204.9 421.2h0M823.4 387.3h0M143.2 389.8h0M314.1 370.0h0M329.2 327.3h0M179.5 407.2h0M814.0 365.4h0M703.1 414.5h0M696.4 424.3h0M309.3 354.5h0"/><path stroke="#721a6d" d="M322.5 423.3h0M773.6 528.9h0M838.9 359.8h0M690.8 439.7h0M319.5 374.1h0M378.9 386.1h0M843.2 369.5h0M319.0 332.5h0M826.3 364.7h0M857.3 395.3h0M88.9 122.2h0M334.0 327.5h0M757.6 617.5h0M843.2 361.3h0M822.3 402.8h0M259.4 512.9h0M315.2 337.4h0M913.3 469.7h0M310.2 346.3h0M326.7 314.2h0M311.0 341.8h0M817.3 406.2h0"/><path stroke="#7a1d6b" d="M812.0 391.9h0M190.5 383.9h0M312.5 362.8h0M919.8 480.9h0M770.3 386.4h0M920.6 473.7h0M830.0 403.2h0M844.8 392.6h0M324.6 325.3h0M827.4 367.5h0M911.5 489.5h0M774.9 409.4h0M806.0 353.0h0M711.8 425.9h0M831.3 385.4h0M197.9 427.5h0M184.8 418.9h0M306.3 361.0h0M144.2 430.2h0M767.6 511.0h0M818.4 414.8h0M774.3 599.1h0"/><path stroke="#520f6a" d="M322.1 350.3h0M784.8 530.2h0M831.8 363.7h0M313.8 334.8h0M780.5 594.4h0M350.2 448.7h0M828.9 356.8h0M773.0 609.3h0M380.7 394.3h0M177.0 380.8h0M170.9 434.7h0M840.0 353.5h0M151.6 396.4h0M797.1 517.7h0M818.1 400.3h0M260.1 559.5h0M265.0 563.7h0M409.2 398.8h0M829.3 367.0h0M332.4 407.6h0M299.5 401.9h0M275.0 352.2h0"/><path stroke="#8b2368" d="M867.3 397.9h0M392.2 269.1h0M290.1 374.4h0M833.0 417.9h0M324.3 395.1h0M701.9 451.4h0M273.6 510.1h0M203.9 412.6h0M163.6 408.0h0M825.6 368.9h0M271.4 507.2h0M818.1 367.6h0M280.3 433.9h0M401.5 269.7h0M827.7 380.6h0M783.0 550.0h0M344.0 363.0h0M345.4 381.2h0M156.4 415.1h0M784.7 449.0h0M264.0 514.1h0M707.1 456.5h0"/><path stroke="#6a176e" d="M901.6 482.7h0M798.9 357.4h0M294.7 357.7h0M811.8 396.1h0M354.0 401.2h0M817.0 366.3h0M144.7 414.4h0M407.9 432.9h0M835.2 372.8h0M327.1 302.9h0M326.2 426.2h0M182.2 416.9h0M807.4 361.1h0M704.8 450.1h0M294.4 365.6h0M202.3 398.8h0M775.3 542.8h0M312.6 352.4h0M326.6 388.8h0M310.3 337.9h0M362.7 406.3h0M302.8 525.3h0"/><path stroke="#83206a" d="M279.0 475.4h0M183.1 389.8h0M725.5 439.0h0M817.1 388.5h0M330.9 317.5h0M284.3 366.9h0M339.5 387.4h0M870.6 341.8h0M329.1 318.8h0M429.3 438.1h0M692.2 447.0h0M927.9 369.8h0M303.8 384.0h0M836.2 415.4h0M892.9 309.8h0M792.3 403.4h0M306.6 545.3h0M332.6 374.2h0M299.3 491.8h0M827.9 358.1h0M267.0 510.4h0M174.3 373.9h0"/><path stroke="#dd513a" d="M385.2 261.4h0M701.3 416.2h0M197.7 355.4h0M702.3 397.7h0M208.3 351.2h0M182.4 370.6h0M687.2 401.9h0M206.1 342.5h0M402.0 269.0h0M207.0 355.3h0M194.7 363.9h0M888.5 294.7h0M401.0 240.6h0M888.1 299.1h0M687.7 398.1h0M873.7 279.6h0M684.1 389.7h0M240.9 442.4h0M187.5 407.6h0M891.8 324.7h0M197.9 359.3h0M881.7 307.7h0"/><path stroke="#83206a" d="M835.2 404.3h0M358.3 389.7h0M294.9 528.6h0M779.7 521.7h0M682.3 430.2h0M314.3 360.4h0M888.7 261.4h0M287.7 490.3h0M878.8 486.5h0M352.3 340.2h0M884.8 433.1h0M196.2 398.6h0M230.3 391.9h0M675.7 432.4h0M342.6 382.9h0M684.7 412.5h0M808.9 390.6h0M835.4 365.2h0M317.2 358.5h0M339.8 308.1h0M350.2 359.1h0M932.4 472.3h0"/><path stroke="#c33c4f" d="M885.7 295.7h0M881.1 298.9h0M379.4 239.1h0M376.4 303.7h0M893.5 302.7h0M891.4 307.9h0M793.5 388.8h0M379.4 271.1h0M885.7 297.6h0M397.7 262.5h0M375.2 261.9h0M777.4 475.5h0M822.8 511.2h0M386.7 282.6h0M884.0 303.8h0M887.7 297.1h0M381.4 272.0h0M393.8 218.5h0M905.3 303.2h0M380.5 270.5h0M364.0 278.4h0M899.2 296.5h0"/><path stroke="#5a126c" d="M845.0 401.3h0M830.5 411.9h0M705.3 445.2h0M168.2 475.6h0M335.7 392.3h0M270.6 348.4h0M294.1 512.0h0M162.2 408.3h0M781.5 524.3h0M820.0 362.3h0M420.5 470.0h0M304.5 356.7h0M326.2 320.1h0M402.2 439.9h0M384.1 348.3h0M380.5 348.1h0M205.1 397.1h0M889.0 379.2h0M297.6 348.4h0M722.0 422.7h0M799.7 416.9h0M821.6 420.6h0"/><path stroke="#ef7020" d="M392.6 235.6h0M699.7 374.2h0M699.8 401.0h0M706.5 388.9h0M172.1 393.5h0M324.5 479.2h0M332.8 511.7h0M209.3 346.2h0M689.0 399.4h0M206.3 345.0h0M779.7 355.2h0M193.0 366.8h0M190.2 364.2h0M200.4 354.5h0M700.8 395.2h0M689.4 410.5h0M345.6 505.8h0M174.1 386.2h0M202.7 366.9h0M176.7 377.1h0M183.7 380.4h0M820.4 583.2h0"/><path stroke="#f37819" d="M206.2 338.8h0M694.6 420.1h0M832.5 534.6h0M315.2 541.3h0M714.5 385.7h0M698.8 399.4h0M180.3 352.7h0M369.0 228.0h0M690.6 411.8h0M717.0 388.6h0M310.9 544.3h0M179.5 351.5h0M192.1 353.9h0M674.0 388.4h0M683.4 398.8h0M329.3 500.0h0M700.7 407.6h0M175.9 372.6h0M195.6 356.8h0M701.3 378.5h0M201.2 346.7h0M695.4 396.9h0"/><path stroke="#e15933" d="M208.9 353.1h0M215.6 369.0h0M177.9 389.3h0M193.8 359.8h0"/><path stroke="#c9414a" d="M889.2 299.8h0M885.9 299.6h0M884.6 319.9h0M376.6 272.3h0M894.3 297.6h0M402.0 216.4h0M892.8 308.0h0M897.3 291.5h0M880.0 317.3h0M190.9 360.3h0M321.1 474.0h0M908.8 326.9h0M773.3 375.8h0M384.1 279.5h0M386.0 246.4h0M898.0 298.6h0M378.6 281.1h0M187.0 361.7h0M194.2 359.8h0M891.1 307.9h0M382.0 274.9h0M386.2 255.4h0"/><path stroke="#7a1d6b" d="M278.3 500.7h0M411.4 440.1h0M181.9 448.3h0M902.6 507.8h0M278.7 571.4h0M782.1 383.1h0M323.2 345.0h0M321.4 353.2h0M775.1 527.8h0M318.1 362.1h0M315.4 385.1h0M182.0 411.2h0M695.3 409.9h0M307.5 357.7h0M273.4 506.1h0M817.5 546.7h0M425.8 411.4h0M688.4 447.5h0M305.2 375.3h0M701.3 448.4h0M309.8 351.6h0M404.2 459.0h0"/><path stroke="#e15933" d="M393.4 257.7h0M722.0 418.8h0M388.7 253.2h0M318.4 483.8h0M209.5 345.1h0M188.5 361.4h0M703.0 424.4h0M376.3 209.9h0M181.8 376.9h0M192.6 356.2h0M699.7 417.9h0M713.1 405.5h0M690.4 387.4h0M684.8 397.8h0M837.1 540.2h0M896.5 306.0h0M383.9 241.5h0M882.1 300.4h0M194.1 357.6h0M764.8 658.6h0M703.4 394.0h0M879.8 314.1h0"/><path stroke="#83206a" d="M129.1 410.2h0M842.8 414.6h0M785.6 518.1h0M815.1 400.8h0M818.6 398.1h0M847.1 398.1h0M417.8 481.6h0M832.7 423.9h0M417.8 444.3h0M274.5 380.1h0M183.9 411.2h0M820.9 395.0h0M791.5 383.2h0M177.7 340.5h0M798.4 406.3h0M830.3 413.3h0M310.3 402.9h0M252.3 566.1h0M215.6 372.5h0M685.9 439.8h0M172.2 384.3h0M832.7 365.9h0"/><path stroke="#b43458" d="M242.4 390.2h0M894.3 294.1h0M824.0 524.8h0M408.3 270.3h0M882.8 296.7h0M893.7 296.4h0M899.6 309.0h0M910.8 307.3h0M191.4 378.7h0M895.3 275.8h0M205.5 361.2h0M828.7 513.3h0M811.0 510.5h0M794.8 383.5h0M349.0 447.2h0M378.4 280.7h0M883.9 301.9h0M369.5 288.9h0M368.1 278.8h0M886.6 294.7h0M889.5 297.8h0M826.1 444.8h0"/><path stroke="#ea6826" d="M827.1 552.9h0M834.3 552.1h0M186.4 374.2h0M193.9 355.8h0M374.9 230.3h0M696.6 406.5h0M696.7 406.3h0M854.7 297.4h0M183.4 376.6h0M196.8 343.6h0M693.1 413.9h0M815.2 576.6h0M699.0 393.5h0M199.0 365.7h0M281.0 315.0h0M707.7 381.5h0M187.9 346.9h0M189.8 360.9h0M186.6 372.5h0M678.8 381.5h0M199.2 353.6h0M177.8 381.4h0"/><path stroke="#ea6826" d="M896.3 297.4h0M197.3 397.0h0M205.8 398.6h0M684.5 386.3h0M719.7 419.2h0M698.3 378.6h0M312.1 540.6h0M180.8 359.8h0M704.5 394.3h0M674.7 395.8h0M166.2 365.7h0M705.8 405.6h0M831.3 557.8h0M195.3 345.0h0M691.1 412.7h0M208.3 397.9h0M384.5 235.3h0M191.5 353.6h0M198.3 347.1h0M698.5 396.8h0M198.7 353.2h0M181.5 394.5h0"/><path stroke="#721a6d" d="M822.6 428.0h0M310.8 363.4h0M322.5 323.4h0M827.5 377.3h0M323.6 332.1h0M829.8 355.8h0M208.4 374.0h0M323.2 339.0h0M832.9 366.5h0M833.3 363.1h0M659.9 413.1h0M693.6 453.8h0M310.4 352.1h0M801.2 416.6h0M157.1 414.0h0M896.9 482.6h0M815.9 351.4h0M285.0 510.0h0M827.1 361.1h0M763.7 627.6h0M315.1 345.7h0M796.6 519.8h0"/><path stroke="#5a126c" d="M185.4 386.4h0M360.1 407.3h0M317.9 344.7h0M922.3 496.7h0M818.3 353.2h0M825.7 371.9h0M186.6 411.4h0M836.5 360.0h0M200.7 401.4h0M703.0 407.0h0M829.5 361.5h0M397.1 432.1h0M387.3 471.2h0M824.1 375.4h0M318.0 326.4h0M189.7 399.2h0M780.3 518.2h0M822.9 363.7h0M825.4 357.9h0M250.9 567.1h0M708.7 429.1h0M322.0 338.5h0"/><path stroke="#ac305c" d="M352.3 398.0h0M352.2 456.9h0M410.3 249.3h0M897.1 311.2h0M360.3 453.5h0M383.4 284.0h0M881.6 289.8h0M371.6 282.1h0M901.9 305.9h0M909.5 423.9h0M869.8 308.7h0M386.0 267.2h0M397.3 340.3h0M384.1 274.6h0M393.2 277.6h0M896.1 299.2h0M825.6 583.3h0M356.2 458.7h0M816.2 520.3h0M899.8 303.6h0M375.5 265.4h0M376.8 287.9h0"/><path stroke="#62146d" d="M173.2 399.1h0M772.2 617.6h0M214.3 399.5h0M312.0 347.0h0M816.1 392.8h0M731.8 428.6h0M834.0 362.9h0M188.5 388.0h0M807.9 351.8h0M767.6 530.5h0M832.1 353.4h0M285.6 361.0h0M818.5 366.0h0M260.2 369.9h0M817.6 373.4h0M339.1 360.7h0M818.5 399.4h0M838.9 389.1h0M712.4 432.9h0M821.6 366.9h0M636.9 450.3h0M819.0 357.5h0"/><path stroke="#721a6d" d="M321.5 336.0h0M334.4 320.7h0M329.3 386.9h0M316.3 393.5h0M325.5 323.7h0M325.5 321.0h0M342.4 321.0h0M835.9 364.0h0M911.5 465.0h0M695.8 404.5h0M828.8 526.4h0M211.3 404.0h0M838.1 365.9h0M333.8 323.2h0M829.2 418.1h0M839.1 367.4h0M342.5 320.4h0M283.9 484.6h0M814.2 401.7h0M815.0 391.4h0M311.7 349.5h0M315.5 369.2h0"/><path stroke="#d04744" d="M191.1 356.2h0M387.6 253.2h0M912.6 302.4h0M317.7 469.7h0M882.6 299.8h0M379.7 260.3h0M885.3 303.2h0M195.4 376.0h0M891.5 289.5h0M892.1 306.6h0M901.0 297.3h0M886.4 306.5h0M387.2 252.0h0M875.0 305.5h0M185.6 363.7h0M916.0 309.7h0M890.8 309.8h0M382.6 277.0h0M322.2 472.4h0M378.6 250.3h0M181.8 353.8h0M389.0 257.7h0"/><path stroke="#7a1d6b" d="M407.3 484.3h0M823.3 399.7h0M199.3 356.6h0M180.3 397.2h0M816.9 395.8h0M277.9 495.7h0M256.6 569.2h0M176.7 389.6h0M849.6 406.9h0M164.8 366.9h0M790.0 525.1h0M710.1 450.0h0M828.3 396.0h0M275.9 491.8h0M333.0 306.7h0M414.9 459.0h0M172.8 400.1h0M664.9 455.9h0M299.1 353.5h0M780.6 393.1h0M831.2 377.2h0M880.4 477.5h0"/><path stroke="#c33c4f" d="M386.4 278.1h0M369.2 255.3h0M383.7 254.5h0M905.1 274.4h0M831.5 538.1h0M385.5 268.8h0M192.2 347.3h0M402.4 260.9h0M888.8 295.2h0M380.3 302.7h0M431.7 279.4h0M890.2 289.0h0M296.7 364.9h0M915.8 295.6h0M896.2 298.0h0M887.9 300.0h0M215.1 391.2h0M374.7 273.3h0M196.5 370.1h0M819.1 503.1h0M897.8 302.0h0M399.1 373.3h0"/><path stroke="#62146d" d="M316.1 345.1h0M325.8 318.0h0M791.5 399.4h0M177.3 379.6h0M833.3 369.5h0M683.7 440.2h0M343.4 363.3h0M194.9 384.4h0M175.7 418.7h0M787.9 525.0h0M824.7 407.8h0M827.3 374.0h0M394.2 431.2h0M202.7 401.8h0M839.2 408.4h0M321.8 340.5h0M817.7 355.1h0M306.3 511.0h0M310.8 345.0h0M272.9 499.1h0M763.3 603.3h0M816.0 349.5h0"/><path stroke="#721a6d" d="M788.0 408.0h0M287.3 519.2h0M264.2 503.5h0M814.8 356.6h0M834.5 405.7h0M895.3 480.5h0M760.4 599.3h0M702.1 428.5h0M824.6 546.3h0M342.1 311.1h0M323.8 330.1h0M347.8 388.0h0M298.1 379.2h0M251.0 526.3h0M329.8 385.8h0M369.6 465.8h0M283.6 498.7h0M795.9 353.5h0M420.4 427.6h0M273.9 506.9h0M779.4 167.0h0M314.8 337.4h0"/><path stroke="#c9414a" d="M890.9 304.9h0M380.4 271.8h0M818.8 499.6h0M836.2 513.6h0M814.0 504.1h0M901.4 300.2h0M885.8 308.6h0M397.9 268.3h0M323.5 473.5h0M387.0 249.6h0M382.1 263.2h0M880.9 297.1h0M184.9 370.4h0M387.8 253.4h0M834.7 497.6h0M893.1 293.8h0M689.1 422.7h0M374.6 290.0h0M903.4 298.5h0M905.6 299.2h0M188.6 424.5h0M885.4 302.2h0"/><path stroke="#9b2963" d="M375.3 281.0h0M165.2 413.1h0M207.7 402.1h0M825.4 414.0h0M381.0 292.5h0M379.5 283.4h0M921.9 274.0h0M379.3 268.7h0M790.6 400.6h0M218.4 401.3h0M228.9 377.6h0M296.1 535.5h0M401.6 622.1h0M298.0 295.5h0M892.8 313.9h0M920.1 506.1h0M395.5 272.2h0M853.2 459.6h0M368.5 444.1h0M336.0 345.0h0M276.0 574.1h0M806.3 410.3h0"/><path stroke="#c9414a" d="M399.2 240.9h0M385.1 249.6h0M324.2 474.6h0M180.9 373.5h0M886.4 300.2h0M375.5 279.8h0M387.2 276.8h0M894.6 298.5h0M897.7 292.5h0M899.0 300.6h0M835.7 516.5h0M377.6 271.4h0M396.7 247.7h0M369.7 282.4h0M373.7 274.2h0M379.4 261.1h0M896.3 304.3h0M902.4 299.2h0M822.3 515.5h0M370.7 281.8h0M381.6 281.9h0M371.6 267.3h0"/><path stroke="#bc3754" d="M391.1 276.2h0M313.2 475.1h0M895.6 304.1h0M889.8 298.0h0M934.6 383.8h0M882.5 299.4h0M357.2 402.3h0M383.2 282.4h0M378.5 284.3h0M378.4 279.5h0M894.0 299.3h0M207.7 386.1h0M382.2 264.1h0M892.3 287.7h0M893.3 308.9h0M373.3 264.7h0M823.0 508.3h0M383.1 295.3h0M901.5 294.0h0M826.4 511.8h0M391.5 263.3h0M837.2 515.7h0"/><path stroke="#d64c3f" d="M901.4 262.4h0M388.3 242.2h0M897.3 317.4h0M185.9 370.8h0M207.7 358.2h0M330.4 491.2h0M401.8 255.4h0M747.6 483.8h0M207.4 376.3h0M383.3 268.4h0M380.3 253.1h0M900.0 312.7h0M395.8 253.1h0M388.6 256.5h0M381.1 267.9h0M910.3 316.9h0M375.3 265.8h0M901.8 306.9h0M879.7 298.8h0M894.6 309.9h0M384.6 248.0h0M397.4 246.8h0"/><path stroke="#a32d5f" d="M896.5 315.5h0M824.1 513.9h0M285.7 494.9h0M346.2 574.5h0M827.7 511.4h0M827.7 514.3h0M901.8 303.1h0M383.4 284.4h0M365.4 429.0h0M828.6 518.3h0M379.8 271.5h0M830.8 502.3h0M896.9 305.7h0M386.0 283.1h0M893.6 302.4h0M882.2 285.2h0M810.8 410.2h0M904.3 294.1h0M380.1 278.5h0M387.9 283.2h0M268.2 424.5h0M382.3 277.3h0"/><path stroke="#520f6a" d="M271.2 564.7h0M678.5 441.5h0M787.7 525.5h0M820.6 353.2h0M298.6 520.0h0M282.2 368.3h0M817.1 411.3h0M838.0 370.3h0M256.6 570.0h0M344.4 355.6h0M363.9 464.1h0M404.5 468.1h0M782.5 531.0h0M846.7 397.2h0M807.5 358.9h0M813.3 411.9h0M859.8 355.2h0M309.1 361.1h0M781.3 527.0h0M726.7 446.1h0M316.7 338.6h0M918.4 480.9h0"/><path stroke="#62146d" d="M835.7 411.8h0M830.9 371.7h0M829.3 364.7h0M322.9 337.4h0M256.8 487.9h0M811.2 363.1h0M336.2 314.3h0M816.6 354.5h0M776.0 515.8h0M668.0 182.8h0M320.3 339.9h0M663.4 425.9h0M845.7 355.1h0M820.5 411.7h0M309.7 361.3h0M850.7 366.4h0M192.1 386.1h0M739.5 295.1h0M315.6 335.0h0M319.1 331.3h0M814.8 416.3h0M317.4 330.5h0"/><path stroke="#dd513a" d="M683.2 412.5h0M892.9 298.7h0M900.8 306.7h0M888.8 298.8h0M904.1 285.5h0M318.7 479.3h0M882.8 302.9h0M194.5 349.2h0M380.9 258.0h0M892.2 277.7h0M688.0 420.5h0M379.4 262.7h0M202.7 348.1h0M384.3 234.2h0M192.6 352.7h0M192.3 373.1h0M321.2 473.1h0M699.9 396.9h0M390.5 253.6h0M896.7 308.0h0M186.5 367.2h0M199.8 401.6h0"/><path stroke="#d64c3f" d="M816.8 507.6h0M398.3 331.9h0M371.8 263.9h0M910.4 309.5h0M383.0 258.3h0M715.3 445.0h0M177.7 384.3h0M386.4 259.9h0M194.0 376.1h0M396.3 263.8h0M700.9 401.4h0M173.7 380.5h0M380.1 232.2h0M206.4 342.6h0M384.4 260.1h0M202.3 375.4h0M901.2 309.2h0M700.5 396.4h0M283.3 312.5h0M181.3 392.8h0M383.8 256.2h0M386.5 259.2h0"/><path stroke="#c9414a" d="M911.8 319.4h0M832.3 512.1h0M896.3 282.5h0M672.9 443.9h0M693.8 422.4h0M199.4 358.1h0M898.6 302.0h0M382.3 279.6h0M900.1 307.1h0M877.5 307.9h0M390.4 265.9h0M888.7 312.7h0M683.2 400.9h0M891.6 307.2h0M381.0 266.0h0M388.8 265.1h0M379.1 264.9h0M722.5 437.1h0M199.3 358.6h0M381.5 270.3h0M383.7 268.8h0M717.4 438.9h0"/><path stroke="#721a6d" d="M346.3 365.8h0M817.2 424.9h0M836.8 407.3h0M308.3 395.3h0M326.8 326.3h0M197.7 360.2h0M805.5 349.0h0M904.7 469.2h0M820.4 376.6h0M797.1 543.2h0M828.0 498.5h0M328.5 304.5h0M312.6 361.1h0M824.2 408.6h0M814.3 401.8h0M809.2 415.0h0M809.7 388.3h0M788.8 532.7h0M320.9 361.4h0M177.6 397.5h0M861.4 417.4h0M273.3 474.4h0"/><path stroke="#721a6d" d="M293.7 510.2h0M327.7 322.7h0M315.0 330.9h0M299.8 534.9h0M304.6 361.0h0M344.0 318.2h0M190.1 411.4h0M661.9 460.0h0M815.9 415.1h0M819.6 385.6h0M838.2 407.0h0M904.7 371.3h0M839.2 417.2h0M744.1 443.5h0M335.8 324.0h0M826.2 363.0h0M426.9 434.5h0M290.9 485.4h0M817.9 401.6h0M813.8 417.8h0M266.6 492.5h0M308.0 335.0h0"/><path stroke="#721a6d" d="M779.3 421.3h0M824.4 410.1h0M278.4 382.8h0M837.6 355.4h0M897.1 514.8h0M698.5 464.3h0M329.0 325.7h0M797.7 407.4h0M285.6 520.8h0M830.4 357.1h0M719.1 438.9h0M326.5 379.9h0M338.5 352.5h0M826.0 405.3h0M696.4 451.9h0M172.9 403.4h0M824.0 354.4h0M830.4 367.6h0M288.8 541.8h0M322.5 363.5h0M337.2 396.8h0M345.0 374.7h0"/><path stroke="#dd513a" d="M354.3 269.3h0M892.7 304.4h0M902.6 294.7h0M883.9 290.6h0M197.6 345.7h0M879.9 302.5h0M893.6 303.4h0M896.0 301.2h0M373.0 264.8h0M369.1 238.1h0M388.3 242.2h0M687.7 405.4h0M891.3 307.7h0M699.9 411.1h0M891.3 289.9h0M395.3 302.2h0M367.1 262.0h0M713.2 385.7h0M879.0 299.1h0M191.8 365.2h0M391.5 243.9h0M897.2 300.6h0"/><path stroke="#62146d" d="M305.3 351.2h0M163.5 412.1h0M829.9 357.3h0M693.1 430.4h0M321.1 326.5h0M296.2 366.4h0M866.0 404.4h0M900.5 508.5h0M318.9 321.3h0M811.5 398.7h0M724.5 434.8h0M686.8 477.7h0M308.0 377.6h0M824.0 361.5h0M825.6 362.0h0M917.3 481.7h0M683.8 455.8h0M843.0 348.5h0M835.8 368.5h0M786.3 428.2h0M322.5 314.9h0M186.0 406.2h0"/><path stroke="#c9414a" d="M370.1 259.4h0M892.2 301.9h0M375.1 268.7h0M902.6 312.0h0M320.9 471.1h0M888.7 294.9h0M380.3 270.8h0M829.9 508.4h0M899.5 307.8h0M187.4 385.6h0M377.5 271.2h0M202.8 363.5h0M898.4 316.7h0M333.8 481.3h0M896.8 299.4h0M910.3 292.4h0M902.9 304.2h0M893.0 306.3h0M386.3 236.0h0M379.6 281.6h0M895.4 309.5h0M709.7 421.3h0"/><path stroke="#f78a13" d="M321.0 535.8h0M697.2 424.1h0M331.7 499.5h0M320.4 544.1h0M693.3 408.8h0M893.6 269.7h0M335.2 523.1h0M827.8 542.1h0M203.8 355.8h0M701.6 378.7h0M715.0 404.5h0M181.8 392.5h0M309.9 538.1h0M704.6 387.3h0M830.3 548.2h0M771.1 284.6h0M711.7 388.3h0M828.1 540.6h0M696.7 400.8h0M693.0 402.5h0M828.4 569.3h0M688.2 392.3h0"/><path stroke="#83206a" d="M145.2 408.0h0M321.3 516.2h0M880.3 405.2h0M925.2 494.1h0M267.7 366.3h0M814.7 352.6h0M684.9 414.9h0M760.1 399.1h0M679.1 410.4h0M814.9 356.9h0M320.0 331.9h0M289.2 481.3h0M212.9 396.2h0M283.9 347.6h0M324.1 312.3h0M269.6 565.0h0M315.2 363.5h0M940.5 481.8h0M802.3 537.8h0M173.3 421.4h0M181.6 409.6h0M801.7 467.1h0"/><path stroke="#c33c4f" d="M380.4 295.3h0M873.9 288.8h0M891.5 309.4h0M890.3 297.9h0M896.7 293.6h0M397.8 242.9h0M387.5 241.8h0M314.5 472.2h0M194.9 360.3h0M897.9 300.4h0M883.0 301.7h0M378.4 271.7h0M383.6 265.2h0M885.9 304.0h0M888.6 305.4h0M898.4 293.2h0M900.3 309.1h0M825.7 519.3h0M243.6 396.4h0M906.4 377.6h0M832.4 523.1h0M832.8 510.6h0"/><path stroke="#62146d" d="M297.4 375.1h0M308.5 335.9h0M196.0 413.3h0M193.0 391.6h0M832.3 369.7h0M320.6 348.1h0M834.2 368.5h0M697.5 445.6h0M827.7 396.1h0M839.3 402.9h0M298.4 349.1h0M312.9 325.3h0M836.0 364.4h0M821.6 397.4h0M334.0 317.7h0M708.4 435.2h0M319.0 325.3h0M796.8 388.3h0M786.5 524.1h0M683.3 417.1h0M815.0 538.5h0M837.9 359.6h0"/><path stroke="#7a1d6b" d="M705.3 434.2h0M291.6 503.5h0M759.9 607.3h0M308.3 377.3h0M743.8 202.7h0M405.9 451.0h0M173.9 397.9h0M174.0 400.5h0M222.0 399.6h0M833.7 389.0h0M696.3 426.1h0M803.2 401.4h0M317.6 364.1h0M317.3 323.1h0M358.7 380.3h0M840.2 358.2h0M827.5 356.6h0M824.0 402.5h0M783.4 548.9h0M829.8 370.6h0M316.7 340.9h0M812.1 402.3h0"/><path stroke="#f89310" d="M196.8 354.5h0M708.7 421.6h0M323.3 518.3h0M757.6 460.9h0M818.0 584.2h0M333.9 499.8h0M693.2 397.8h0M770.6 462.9h0M819.9 575.4h0M834.0 558.1h0M329.7 511.2h0M841.9 554.4h0M691.6 391.1h0M328.4 478.6h0M852.0 537.0h0M397.6 253.5h0M840.0 551.7h0M217.1 408.3h0M682.8 394.6h0M702.0 403.5h0M329.8 533.9h0M693.6 395.9h0"/><path stroke="#d04744" d="M425.3 217.0h0M348.0 497.0h0M387.5 259.1h0M886.2 303.5h0M184.0 358.2h0M350.7 468.7h0M691.2 438.5h0M381.0 240.8h0M883.1 311.4h0M890.8 305.1h0M380.2 245.3h0M902.9 272.2h0M896.9 299.4h0M884.0 294.4h0M333.6 463.2h0M877.6 304.5h0M891.6 298.1h0M395.5 254.0h0M183.7 355.4h0M888.5 283.9h0M378.4 263.0h0M890.9 296.8h0"/><path stroke="#d04744" d="M883.9 297.4h0M679.0 410.3h0M388.9 252.4h0M900.7 304.1h0M387.9 236.6h0M346.2 469.8h0M881.4 306.6h0M908.4 274.4h0M883.9 312.2h0M384.3 243.9h0M886.0 296.2h0M906.5 301.7h0M400.2 239.0h0M376.5 271.7h0M885.5 300.2h0M389.8 249.9h0M373.1 260.2h0M392.2 232.1h0M196.4 370.1h0M182.2 382.4h0M879.5 297.1h0M383.9 253.1h0"/><path stroke="#c33c4f" d="M882.0 309.1h0M880.5 306.4h0M913.0 317.7h0M377.7 252.2h0M880.9 296.8h0M885.6 306.4h0M388.3 258.0h0M393.8 277.1h0M386.3 265.7h0M894.3 297.2h0M384.2 270.5h0M893.3 315.3h0M209.4 391.4h0M322.2 472.5h0M831.7 519.9h0M385.9 273.8h0M693.1 431.9h0M818.4 297.0h0M826.7 518.7h0M243.3 385.0h0M890.2 289.3h0M903.0 300.6h0"/><path stroke="#fca50a" d="M712.2 409.6h0M321.6 521.5h0M840.8 553.8h0M241.6 419.1h0M842.2 538.5h0M680.4 401.3h0M703.3 390.7h0M831.3 541.3h0M693.2 421.5h0M696.5 382.4h0M832.8 556.0h0M844.5 559.4h0M339.5 500.0h0M249.9 445.8h0M838.4 538.4h0M840.8 529.6h0M315.0 493.2h0M193.6 358.2h0M329.8 521.6h0M694.0 394.4h0M322.0 529.3h0M848.5 544.7h0"/><path stroke="#ea6826" d="M195.0 360.0h0M193.5 365.8h0M676.6 412.4h0M191.5 354.9h0M190.9 389.8h0M697.3 409.9h0M184.6 383.1h0M392.3 254.5h0M362.1 236.5h0M685.6 392.4h0M384.7 253.0h0M848.8 544.4h0M199.3 357.2h0M712.4 393.6h0M334.6 485.9h0M693.8 403.9h0M329.6 495.6h0M206.9 345.1h0M190.9 357.8h0M818.6 548.7h0M199.2 357.7h0M185.2 348.6h0"/><path stroke="#9b2963" d="M896.1 490.1h0M881.4 304.5h0M407.3 457.1h0M310.6 390.4h0M376.3 286.9h0M822.4 515.5h0M890.0 653.9h0M780.2 536.5h0M794.2 612.9h0M832.7 516.9h0M810.8 408.9h0M389.0 628.2h0M891.4 250.5h0M371.6 278.2h0M329.2 378.0h0M255.1 574.5h0M718.0 400.6h0M311.5 377.8h0M825.1 521.4h0M930.5 361.8h0M202.7 424.9h0M309.9 540.6h0"/><path stroke="#721a6d" d="M334.4 372.0h0M697.1 473.7h0M299.4 527.1h0M824.1 395.7h0M826.3 371.7h0M191.7 386.7h0M825.2 369.6h0M869.0 364.6h0M342.2 322.0h0M307.9 367.4h0M213.6 372.0h0M770.3 521.6h0M714.2 433.2h0M414.9 467.8h0M200.0 386.0h0M319.4 364.2h0M321.6 353.3h0M688.4 466.3h0M802.8 541.0h0M844.2 360.1h0M318.9 322.8h0M827.2 361.3h0"/><path stroke="#dd513a" d="M205.0 353.4h0M898.4 317.5h0M889.7 295.1h0M390.9 244.1h0M389.4 262.9h0M688.8 417.2h0M400.9 254.1h0M713.4 404.4h0M190.7 346.8h0M397.4 266.6h0M193.8 360.5h0M190.8 374.6h0M385.4 244.0h0M888.3 289.4h0M724.3 439.4h0M721.8 407.2h0M176.4 388.3h0M390.4 269.5h0M178.6 371.7h0M385.1 271.4h0M679.3 372.9h0M914.7 314.1h0"/><path stroke="#ac305c" d="M391.6 254.9h0M385.7 284.6h0M224.9 393.6h0M829.5 509.1h0M375.9 289.9h0M382.8 287.8h0M411.0 263.3h0M891.9 321.2h0M687.4 395.6h0M780.6 479.9h0M683.1 409.7h0M375.4 290.4h0M384.5 290.0h0M891.6 290.6h0M384.8 263.2h0"/><path stroke="#a32d5f" d="M399.1 230.9h0M877.5 307.2h0M386.6 262.8h0M365.1 281.2h0M372.7 298.7h0M898.0 300.4h0M814.5 392.1h0M388.5 279.8h0M150.2 675.7h0M883.7 285.2h0M418.8 392.7h0M897.1 301.4h0M380.3 260.3h0M909.0 279.4h0M387.6 282.0h0M388.0 278.0h0M373.8 268.4h0M384.3 277.7h0M810.9 379.3h0M414.1 462.6h0M826.2 503.1h0M367.2 289.1h0"/><path stroke="#d04744" d="M224.0 389.6h0M170.7 395.1h0M185.5 388.6h0M420.9 311.1h0M899.3 293.9h0M888.4 316.4h0M902.3 290.4h0M891.1 304.0h0M381.7 266.1h0M391.3 264.8h0M892.7 293.7h0M878.7 310.7h0M187.2 337.0h0M386.1 263.9h0M886.4 277.2h0M891.0 312.8h0M398.5 239.1h0M890.8 298.9h0M831.1 514.5h0M384.7 244.5h0M208.5 345.4h0M390.8 241.0h0"/><path stroke="#ac305c" d="M228.3 399.4h0M186.7 342.7h0M884.5 305.0h0M889.6 307.1h0M879.5 304.8h0M801.1 401.9h0M832.0 454.5h0M887.4 303.6h0M826.5 511.4h0M379.5 286.1h0M379.4 277.4h0M903.1 303.8h0M701.1 428.2h0M282.4 384.2h0M894.6 293.7h0M205.4 384.2h0M923.0 326.3h0M179.1 359.8h0M297.5 377.3h0M830.0 508.0h0M224.8 393.5h0M376.2 263.0h0"/><path stroke="#f58116" d="M715.4 386.4h0M707.2 439.9h0M197.3 338.0h0M330.9 506.5h0M330.0 527.6h0M831.3 529.8h0M328.1 505.3h0M690.1 372.2h0M316.8 531.1h0M706.3 407.4h0M316.5 539.8h0M706.7 397.7h0M210.0 354.6h0M828.1 579.2h0M698.3 400.6h0M831.6 526.4h0M681.6 404.4h0M194.1 343.1h0M833.5 552.0h0M314.2 541.4h0M692.2 407.4h0M690.5 419.3h0"/><path stroke="#dd513a" d="M386.4 241.9h0M202.0 356.4h0M820.9 510.8h0M387.7 255.9h0M194.3 350.6h0M898.8 312.1h0M195.7 378.7h0M704.5 400.7h0M378.5 247.5h0M189.7 375.6h0M212.3 352.3h0M841.4 549.8h0M382.7 253.6h0M900.3 292.4h0M186.5 380.5h0M190.2 382.9h0M695.1 418.2h0M888.6 291.7h0M202.6 350.3h0M927.8 290.5h0M375.1 256.0h0M708.9 387.6h0"/><path stroke="#62146d" d="M827.2 370.6h0M808.8 400.7h0M672.3 449.3h0M812.3 363.3h0M331.5 320.8h0M329.5 320.6h0M836.2 356.5h0M896.1 478.6h0M808.4 403.7h0M692.4 423.1h0M681.0 450.4h0M311.9 337.4h0M320.6 342.7h0M821.3 405.6h0M320.2 334.3h0M856.6 542.9h0M823.4 382.3h0M295.0 341.3h0M320.6 346.0h0M684.9 472.8h0M225.0 380.8h0M310.6 380.2h0"/><path stroke="#e6612d" d="M196.2 370.2h0M200.5 354.9h0M192.8 351.1h0M185.1 366.4h0M687.0 391.5h0M197.3 349.2h0M195.1 358.6h0M709.5 407.3h0M892.1 313.0h0M697.2 389.6h0M676.5 405.4h0M206.8 350.0h0M198.3 345.9h0M701.7 397.1h0M312.3 548.7h0M780.7 355.5h0M194.6 353.4h0M912.9 276.3h0M195.2 367.8h0M899.6 291.1h0M689.3 410.6h0M693.6 407.0h0"/><path stroke="#7a1d6b" d="M832.0 540.5h0M814.8 355.4h0M848.6 535.0h0M193.5 362.5h0M722.8 436.8h0M676.7 393.7h0M811.3 422.5h0M684.2 423.2h0M703.4 436.6h0M895.3 475.5h0M404.2 432.8h0M272.9 508.3h0M842.3 407.9h0M294.8 350.7h0M801.4 415.4h0M707.7 448.2h0M810.4 367.2h0M877.7 484.6h0M778.0 617.1h0M929.1 506.8h0M665.3 535.2h0M314.8 334.3h0"/><path stroke="#000004" d="M235.6 384.8h0"/><path stroke="#5a126c" d="M303.5 359.0h0M249.7 418.6h0M823.3 369.9h0M692.1 431.7h0M663.2 441.1h0M328.0 360.8h0M831.6 404.8h0M302.0 390.0h0M839.8 420.1h0M814.1 421.5h0M317.9 347.9h0M161.8 370.2h0M800.1 401.4h0M810.3 393.3h0M311.3 361.5h0M345.4 389.9h0M830.7 351.3h0M390.6 482.0h0M313.4 363.4h0M827.0 360.9h0M320.4 323.2h0M178.2 422.8h0"/><path stroke="#7a1d6b" d="M824.3 395.9h0M321.7 337.5h0M885.9 484.5h0M321.1 329.5h0M814.9 388.6h0M794.7 526.4h0M836.5 389.3h0M692.1 417.2h0M785.2 518.2h0M768.2 367.4h0M798.4 401.2h0M206.4 380.7h0M917.0 501.6h0M177.5 404.8h0M712.8 461.3h0M259.8 489.8h0M288.9 379.0h0M308.3 346.4h0M189.5 388.0h0M222.7 393.2h0M205.2 412.6h0M829.1 361.5h0"/><path stroke="#62146d" d="M307.7 336.6h0M690.7 453.1h0M824.0 364.8h0M424.8 450.1h0M842.0 372.3h0M349.0 406.1h0M381.5 393.1h0M791.1 387.9h0M820.6 358.5h0M168.8 399.3h0M285.4 508.5h0M316.0 370.0h0M907.4 473.1h0M296.8 366.8h0M319.0 343.6h0M816.6 388.3h0M701.5 444.1h0M824.2 354.5h0M791.0 394.2h0M792.6 399.3h0M824.3 371.8h0M679.9 469.8h0"/><path stroke="#6a176e" d="M293.8 488.0h0M685.3 456.1h0M837.0 361.9h0M828.9 360.3h0M838.3 419.8h0M334.5 393.9h0M834.2 353.6h0M278.5 549.4h0M255.7 378.6h0M831.4 399.9h0M795.8 408.9h0M349.6 360.5h0M315.2 335.5h0M186.0 408.1h0M814.5 406.4h0M771.2 614.1h0M807.6 360.8h0M329.8 405.3h0M324.0 326.8h0M175.9 366.4h0M198.3 414.9h0M805.8 364.7h0"/><path stroke="#ef7020" d="M891.7 617.7h0M845.8 538.2h0M697.0 398.7h0M707.4 377.7h0M201.4 335.4h0M695.7 395.6h0M245.3 429.8h0M687.9 407.1h0M699.8 392.4h0M205.2 347.6h0M815.3 586.0h0M696.4 407.5h0M203.7 346.8h0M208.9 346.6h0M205.2 345.2h0M686.8 398.8h0M183.3 367.4h0M189.4 350.3h0M714.0 387.7h0M198.3 359.7h0M709.3 388.5h0M315.9 534.7h0"/><path stroke="#c33c4f" d="M891.1 295.3h0M362.5 474.2h0M316.3 470.4h0M893.5 303.9h0M205.5 354.9h0M876.7 299.6h0M892.8 290.1h0M381.9 250.8h0M834.1 521.2h0M890.1 298.3h0M384.5 272.0h0M827.7 521.5h0M871.1 307.6h0M384.6 279.1h0M897.6 302.4h0M890.5 293.3h0M891.2 296.7h0M397.6 250.5h0M185.1 361.1h0M878.9 292.3h0M378.4 268.4h0M224.5 386.5h0"/><path stroke="#d64c3f" d="M194.7 351.5h0M902.2 299.0h0M889.3 302.4h0M205.8 369.5h0M889.1 306.6h0M390.4 230.7h0M706.4 398.5h0M392.6 252.9h0M932.5 276.9h0M387.8 276.0h0M202.7 366.5h0M382.3 265.2h0M386.7 259.5h0M387.4 243.3h0M386.3 250.7h0M896.6 307.0h0M885.5 296.8h0M377.9 263.4h0M884.2 284.1h0M214.4 347.1h0M905.8 290.8h0M835.1 525.7h0"/><path stroke="#721a6d" d="M789.0 402.0h0M410.9 431.4h0M817.0 422.4h0M828.4 405.1h0M820.4 416.9h0M679.3 484.2h0M836.1 369.1h0M830.5 384.1h0M325.4 325.5h0M801.6 401.6h0M175.8 374.1h0M327.8 319.5h0M825.6 365.2h0M771.1 532.4h0M706.9 425.5h0M262.8 490.9h0M906.7 488.7h0M825.1 357.5h0M793.6 405.1h0M209.6 384.6h0M702.9 412.7h0M315.9 345.4h0"/><path stroke="#6a176e" d="M782.0 509.1h0M329.7 315.6h0M823.4 361.6h0M325.8 315.0h0M312.6 334.6h0M738.2 392.6h0M837.5 369.9h0M368.8 390.6h0M820.7 353.8h0M301.8 365.1h0M827.2 400.9h0M279.9 508.2h0M829.2 367.5h0M932.4 484.5h0M833.8 355.4h0M812.0 360.2h0M815.4 415.5h0M810.7 394.7h0M303.4 345.6h0M714.8 449.8h0M828.3 361.8h0M825.3 361.6h0"/><path stroke="#62146d" d="M319.6 332.7h0M368.3 357.7h0M319.9 337.6h0M775.7 527.9h0M177.1 374.5h0M815.5 384.9h0M323.2 365.4h0M308.6 339.4h0M309.7 359.9h0M836.8 401.3h0M215.2 405.6h0M827.5 364.3h0M700.3 436.4h0M318.9 357.9h0M820.1 544.0h0M699.8 453.0h0M799.2 391.0h0M850.3 523.5h0M827.4 360.8h0M316.6 335.3h0M691.2 409.2h0M847.3 347.3h0"/><path stroke="#c33c4f" d="M890.4 295.3h0M828.2 521.0h0M386.3 255.6h0M378.7 272.7h0M441.4 272.7h0M875.0 303.1h0M884.1 300.8h0M894.5 305.9h0M902.7 303.2h0M191.8 376.7h0M392.0 270.2h0M376.2 268.0h0M379.5 269.2h0M823.3 508.5h0M399.0 239.9h0M882.3 311.5h0M383.0 275.7h0M297.3 292.0h0M394.9 250.4h0M896.3 298.0h0M889.3 305.3h0M430.6 365.5h0"/><path stroke="#ea6826" d="M700.0 400.6h0M705.2 418.6h0M685.1 412.6h0M188.5 364.4h0M705.0 395.6h0M196.8 355.6h0M680.3 407.9h0M192.6 350.1h0M703.2 400.0h0M683.2 396.4h0M708.7 374.7h0M241.1 452.8h0M710.8 389.4h0M825.4 575.0h0M178.7 357.4h0M780.2 354.8h0M705.6 415.6h0M715.6 402.8h0M711.3 391.8h0M195.4 341.4h0M378.9 357.4h0M692.3 391.6h0"/><path stroke="#721a6d" d="M880.6 390.8h0M259.2 532.8h0M372.8 406.6h0M814.1 386.6h0M320.1 357.8h0M176.6 380.9h0M329.0 325.2h0M842.8 383.2h0M814.9 357.4h0M323.3 384.2h0M917.6 476.6h0M314.9 329.8h0M278.3 478.7h0M705.2 452.9h0M832.8 363.7h0M884.9 412.9h0M183.5 408.2h0M688.1 450.0h0M153.6 383.5h0M833.5 571.3h0M351.3 360.0h0M687.8 463.4h0"/><path stroke="#5a126c" d="M328.0 320.1h0M793.6 380.1h0M781.4 517.1h0M718.5 415.1h0M833.7 356.4h0M822.9 403.7h0M343.6 326.4h0M338.1 325.0h0M321.5 326.2h0M889.8 465.1h0M221.6 388.1h0M809.1 364.1h0M188.9 436.5h0M177.0 412.0h0M771.8 515.8h0M810.9 404.6h0M706.9 442.7h0M815.8 401.4h0M707.8 413.6h0M156.0 420.2h0M817.6 416.8h0M319.9 330.4h0"/><path stroke="#6a176e" d="M823.5 360.9h0M822.5 428.8h0M348.7 448.2h0M796.2 531.9h0M322.7 332.2h0M283.9 340.3h0M809.1 529.1h0M326.0 372.7h0M875.9 480.0h0M262.9 489.3h0M900.2 493.9h0M313.1 342.1h0M828.3 357.3h0M179.6 365.0h0M332.4 318.0h0M209.7 396.0h0M803.0 402.3h0M311.5 316.3h0M820.7 400.6h0M400.0 443.4h0M794.7 503.8h0M312.8 357.6h0"/><path stroke="#721a6d" d="M687.5 426.4h0M787.9 392.2h0M307.6 367.1h0M180.6 413.9h0M334.1 379.4h0M797.5 536.4h0M773.8 503.5h0M838.4 356.1h0M856.0 406.5h0M174.4 399.2h0M692.8 431.7h0M183.5 350.5h0M261.6 515.5h0M313.7 345.5h0M423.2 462.5h0M831.0 392.5h0M800.6 392.5h0M348.6 316.0h0M326.9 403.8h0M321.5 318.2h0M830.6 358.6h0M829.1 366.0h0"/><path stroke="#83206a" d="M145.0 371.3h0M411.1 463.0h0M636.0 423.3h0M416.3 430.8h0M329.0 371.0h0M425.0 463.3h0M328.4 360.0h0M843.8 388.0h0M328.2 365.2h0M874.2 554.1h0M834.5 535.7h0M906.8 488.9h0M212.7 381.8h0M178.6 383.5h0M686.5 403.0h0M277.2 564.6h0M829.2 371.3h0M801.8 409.6h0M815.2 399.1h0M697.6 447.6h0M780.4 390.4h0M851.6 363.2h0"/><path stroke="#b43458" d="M366.9 277.2h0M367.3 270.3h0M425.8 267.8h0M822.5 522.1h0M401.3 243.2h0M376.7 286.1h0M237.7 393.8h0M831.2 505.0h0M889.9 305.9h0M900.2 313.2h0M383.4 273.6h0M883.4 300.7h0M371.8 286.0h0M376.6 281.0h0M859.9 280.5h0M889.7 295.7h0M386.3 278.2h0M828.8 510.0h0M823.7 511.4h0M382.0 279.3h0M383.4 248.1h0M687.2 424.0h0"/><path stroke="#f37819" d="M835.1 551.5h0M689.4 407.5h0M185.5 369.2h0M164.7 387.3h0M667.8 408.0h0M215.2 341.5h0M706.8 418.0h0M703.8 434.0h0M324.7 493.4h0M694.3 407.3h0M198.6 357.3h0M195.5 351.0h0M682.6 408.9h0M837.9 550.8h0M204.8 356.0h0M834.0 543.7h0M825.5 546.3h0M328.9 494.6h0M702.1 389.8h0M843.5 548.7h0M196.0 344.0h0M696.3 400.4h0"/><path stroke="#ea6826" d="M189.3 367.9h0M209.7 363.3h0M926.8 284.2h0M327.4 496.5h0M181.8 390.8h0M680.2 394.3h0M314.6 556.5h0M415.1 254.4h0M187.0 348.8h0M383.8 222.6h0M192.4 400.1h0M679.8 410.2h0M826.7 551.0h0M193.3 360.0h0M850.6 545.4h0M335.3 491.0h0M172.2 384.9h0M201.1 361.5h0M684.2 404.4h0M314.6 541.2h0M208.6 350.0h0M178.8 386.2h0"/><path stroke="#62146d" d="M338.5 315.4h0M847.0 407.0h0M239.0 438.0h0M327.7 333.7h0M309.0 320.3h0M316.4 332.7h0M318.9 333.5h0M820.9 416.3h0M409.7 504.3h0M337.9 322.5h0M814.2 379.2h0M203.6 393.4h0M334.6 361.6h0M781.4 521.7h0M329.9 319.3h0M315.3 332.7h0M834.0 368.3h0M816.1 397.8h0M834.2 363.0h0M218.9 419.4h0M149.8 374.5h0M293.2 375.9h0"/><path stroke="#e15933" d="M897.3 299.8h0M708.4 387.6h0M884.0 292.4h0M391.7 255.4h0M201.4 349.6h0M673.5 411.3h0M191.6 348.8h0M683.8 396.1h0M200.0 355.9h0M776.4 353.9h0M368.0 265.7h0M214.7 349.5h0M192.7 361.5h0M714.1 406.1h0M204.9 370.4h0M385.9 255.2h0M329.1 485.8h0M695.1 396.3h0M201.9 350.1h0M682.9 436.9h0M171.7 371.1h0M389.2 243.1h0"/><path stroke="#6a176e" d="M853.8 363.3h0M288.7 376.5h0M326.6 387.0h0M807.3 389.1h0M329.1 317.3h0M825.5 360.3h0M697.4 441.2h0M338.2 306.6h0M278.1 507.0h0M314.2 324.1h0M798.8 402.2h0M773.7 382.0h0M824.6 350.7h0M319.3 333.1h0M837.6 365.3h0M417.7 489.0h0M266.9 467.7h0M827.8 373.2h0M782.9 531.1h0M315.7 322.5h0M711.3 440.1h0M177.8 387.9h0"/><path stroke="#721a6d" d="M185.1 430.6h0M814.2 355.4h0M245.6 508.2h0M174.2 382.7h0M700.5 431.8h0M901.3 490.6h0M657.4 433.3h0M418.7 446.8h0M322.9 342.4h0M800.7 413.3h0M268.1 494.4h0M909.5 473.5h0M321.7 315.1h0M187.7 382.8h0M717.8 419.8h0M816.4 423.1h0M829.9 362.7h0M706.0 431.2h0M813.2 354.6h0M838.3 360.8h0M180.3 388.9h0M815.4 360.8h0"/><path stroke="#e15933" d="M205.0 361.2h0M684.8 401.2h0M207.6 365.0h0M208.7 352.2h0M680.8 400.6h0M696.9 388.8h0M887.2 293.6h0M331.1 478.6h0M192.4 361.5h0M382.6 323.5h0M699.1 392.6h0M835.0 551.8h0M391.1 243.1h0M399.4 288.6h0M680.1 415.7h0M183.3 354.1h0M211.9 343.8h0M691.8 430.0h0M887.3 300.9h0M829.5 521.2h0M217.8 350.5h0M395.8 252.3h0"/><path stroke="#62146d" d="M801.6 377.7h0M314.1 331.3h0M923.7 514.3h0M315.9 352.7h0M825.5 370.3h0M307.0 347.3h0M305.8 378.0h0M758.8 421.8h0M823.7 396.1h0M167.5 399.5h0M824.6 350.1h0M768.6 519.2h0M692.3 453.5h0M836.4 371.3h0M222.9 375.7h0M177.5 405.7h0M828.0 372.5h0M712.0 445.8h0M832.6 368.6h0M811.9 360.4h0M317.0 340.3h0M336.2 417.1h0"/><path stroke="#d04744" d="M183.6 375.4h0M828.9 512.6h0M380.5 259.8h0M369.7 283.1h0M373.0 238.3h0M181.9 375.6h0M409.2 247.8h0M390.2 260.8h0M893.4 304.0h0M870.0 297.3h0M379.4 268.9h0M203.1 356.9h0M170.4 369.6h0M209.5 347.0h0M381.1 265.6h0M691.8 395.5h0M375.6 284.2h0M199.7 350.2h0M690.5 400.4h0M903.3 303.3h0M793.6 175.9h0M910.5 297.7h0"/><path stroke="#d64c3f" d="M387.4 265.2h0M890.2 304.2h0M386.4 241.2h0M927.8 250.8h0M734.9 413.8h0M900.5 293.4h0M401.0 262.6h0M184.6 369.8h0M198.8 362.3h0M881.6 299.6h0M703.0 401.1h0M892.6 305.4h0M190.5 365.5h0M382.9 258.8h0M411.5 256.2h0M197.9 346.0h0M202.7 355.6h0M881.0 300.9h0M698.1 387.2h0M885.9 294.2h0M890.2 309.9h0M899.0 298.7h0"/><path stroke="#390a5f" d="M287.3 382.6h0M304.1 353.2h0M757.7 567.3h0M207.4 671.4h0M776.8 406.8h0M826.5 399.4h0M721.6 579.7h0M309.4 370.6h0M364.3 365.5h0M828.9 390.1h0M830.5 383.8h0M188.0 385.5h0M211.0 372.4h0M679.6 163.9h0M324.4 398.4h0M229.1 372.8h0M290.4 394.0h0M595.3 176.6h0M240.6 504.4h0M218.9 402.9h0M296.1 402.4h0M672.3 411.4h0"/><path stroke="#f58116" d="M840.9 548.6h0M393.6 232.8h0M695.9 390.7h0M180.6 362.4h0M319.2 539.0h0M186.7 364.9h0M195.9 363.8h0M703.2 399.6h0M325.4 503.5h0M691.6 408.1h0M340.8 238.6h0M843.4 539.5h0M218.5 353.6h0M853.8 545.3h0M911.9 261.8h0M814.3 579.1h0M815.9 575.8h0M851.3 542.1h0M695.4 407.6h0M336.8 530.3h0M722.7 444.2h0M325.0 537.5h0"/><path stroke="#280b4c" d="M200.1 397.5h0M287.8 346.2h0M826.0 229.5h0M231.1 390.6h0"/><path stroke="#62146d" d="M719.7 456.1h0M339.7 321.0h0M292.5 340.9h0M895.6 511.8h0M677.3 447.5h0M329.5 327.0h0M332.7 385.0h0M702.4 476.8h0M190.4 391.2h0M318.0 349.4h0M300.9 370.1h0M304.4 349.2h0M810.3 359.6h0M208.0 415.2h0M838.6 346.6h0M312.8 338.5h0M793.0 399.0h0M891.0 507.2h0M344.7 322.4h0M346.4 349.9h0M693.6 420.8h0M320.5 351.1h0"/><path stroke="#e6612d" d="M693.4 398.3h0M898.5 290.0h0M174.4 359.0h0M706.1 397.3h0M694.4 399.3h0M205.5 353.2h0M708.4 424.6h0M208.6 359.0h0M183.9 406.8h0M196.8 362.5h0M200.4 391.3h0M324.7 489.3h0M702.4 404.0h0M880.4 294.4h0M210.3 356.1h0M182.5 368.6h0M387.3 256.5h0M689.5 402.9h0M195.4 348.8h0M712.2 390.4h0M196.0 344.9h0M836.8 537.7h0"/><path stroke="#7a1d6b" d="M150.2 405.1h0M821.8 404.7h0M195.7 396.9h0M688.1 396.6h0M920.3 466.8h0M283.4 487.4h0M355.5 395.2h0M817.4 410.2h0M206.2 416.7h0M304.5 517.3h0M822.3 548.9h0M806.1 408.6h0M893.6 470.4h0M188.8 393.2h0M704.1 437.4h0M287.8 492.1h0M367.1 433.1h0M327.2 388.5h0M790.6 542.5h0M810.7 389.9h0M303.6 345.4h0M904.3 515.2h0"/><path stroke="#6a176e" d="M826.0 368.3h0M815.7 391.9h0M701.0 447.6h0M342.5 384.1h0M172.9 399.7h0M324.7 320.1h0M907.3 414.4h0M304.5 352.9h0M832.6 358.2h0M326.2 315.7h0M848.9 355.1h0M299.5 352.1h0M697.4 446.7h0M325.5 325.8h0M709.5 423.3h0M190.8 363.3h0M808.7 361.3h0M426.9 444.5h0M847.2 356.3h0M707.5 443.0h0M190.5 369.9h0M312.8 338.4h0"/><path stroke="#5a126c" d="M182.7 445.1h0M316.9 384.2h0M286.8 345.3h0M322.8 311.1h0M826.7 355.9h0M834.8 358.5h0M813.6 413.2h0M336.7 371.3h0M697.2 397.9h0M331.6 364.0h0M270.6 503.3h0M331.8 308.0h0M309.6 346.4h0M277.5 362.0h0M780.7 390.4h0M850.2 361.1h0M188.9 373.9h0M806.5 396.1h0M296.4 341.9h0M181.2 392.1h0M712.1 409.3h0M291.6 462.0h0"/><path stroke="#7a1d6b" d="M329.8 317.6h0M779.4 399.8h0M260.1 505.1h0M779.5 397.5h0M688.5 425.8h0M738.6 479.5h0M305.2 343.3h0M847.4 530.2h0M906.2 505.6h0M920.5 485.4h0M718.9 437.1h0M696.4 432.0h0M437.9 449.6h0M799.1 403.9h0M290.8 359.4h0M830.7 368.0h0M833.0 361.3h0M181.1 438.6h0M267.1 538.6h0M322.9 401.6h0M841.2 366.1h0M305.2 370.7h0"/><path stroke="#e6612d" d="M196.9 400.2h0M906.2 264.2h0M685.2 388.5h0M195.3 354.8h0M713.6 406.0h0M175.7 403.4h0M701.4 387.0h0M388.5 274.9h0M173.8 378.6h0M685.8 374.7h0M285.5 302.4h0M846.0 535.1h0M380.7 247.0h0M204.1 334.2h0M193.9 345.1h0M174.8 357.9h0M192.3 353.2h0M192.6 370.4h0M202.5 353.8h0M195.5 391.4h0M704.8 389.9h0M184.8 408.3h0"/><path stroke="#7a1d6b" d="M309.5 338.9h0M312.5 333.6h0M727.2 164.7h0M323.8 373.9h0M823.0 369.2h0M192.9 354.2h0M309.5 406.4h0M185.5 373.5h0M190.2 358.2h0M827.7 401.0h0M817.8 368.6h0M908.2 397.7h0M804.4 359.6h0M217.4 341.0h0M411.3 435.4h0M724.3 433.4h0M345.9 311.6h0M325.4 355.2h0M697.2 431.9h0M764.9 612.8h0M313.0 360.5h0M253.2 532.2h0"/><path stroke="#62146d" d="M783.1 541.8h0M821.5 355.7h0M761.9 409.0h0M326.5 319.3h0M834.8 357.2h0M797.8 399.3h0M339.7 390.6h0M836.6 353.1h0M777.6 524.3h0M821.6 394.3h0M829.7 360.5h0M321.2 355.5h0M701.2 438.0h0M179.9 376.4h0M393.8 423.5h0M933.6 491.4h0M778.8 516.0h0M187.2 379.8h0M710.7 443.9h0M694.9 455.6h0M684.5 437.8h0M817.0 358.9h0"/><path stroke="#721a6d" d="M401.2 443.0h0M718.3 423.9h0M828.3 359.6h0M252.7 564.1h0M821.4 393.4h0M715.1 437.8h0M410.0 446.4h0M213.1 418.1h0M705.3 404.3h0M794.4 404.6h0M792.3 530.0h0M828.5 370.8h0M416.8 461.0h0M304.4 521.4h0M762.1 393.1h0M195.9 404.2h0M835.1 359.9h0M676.2 431.9h0M229.5 376.7h0M308.3 335.0h0M169.2 408.8h0M333.2 317.3h0"/><path stroke="#721a6d" d="M318.7 322.8h0M675.2 477.6h0M286.0 516.4h0M304.7 350.2h0M837.9 370.0h0M820.7 374.1h0M812.2 396.8h0M813.5 362.6h0M334.5 294.7h0M323.9 339.7h0M323.3 381.2h0M824.2 360.6h0M830.8 363.9h0M843.3 359.2h0M277.5 576.8h0M432.3 434.5h0M827.3 396.4h0M268.2 363.0h0M332.8 322.1h0M834.6 412.4h0M820.9 377.3h0M662.4 432.3h0"/><path stroke="#e6612d" d="M840.1 545.3h0M179.3 357.5h0M891.1 301.0h0M692.5 407.4h0M188.3 347.1h0M689.8 396.2h0M693.6 390.9h0M393.9 251.8h0M213.9 347.3h0M383.6 232.9h0M227.6 462.9h0M204.9 350.1h0M190.9 376.2h0M196.7 382.5h0M684.1 391.7h0M191.5 358.6h0M892.8 252.4h0"/><path stroke="#dd513a" d="M882.2 296.7h0M391.4 249.3h0M898.4 310.1h0M717.2 389.8h0M385.7 257.1h0M378.6 249.1h0M838.5 556.5h0M200.4 356.3h0M406.8 241.3h0M707.7 418.6h0M209.5 351.6h0M203.7 351.8h0M899.8 297.4h0M887.0 302.4h0M383.1 254.8h0M190.1 365.4h0M388.9 241.1h0M189.6 353.5h0M722.1 404.6h0M904.2 310.4h0M199.9 341.2h0M401.6 242.0h0"/><path stroke="#6a176e" d="M821.5 395.4h0M306.3 360.0h0M833.9 353.2h0M668.2 450.7h0M163.4 387.6h0M177.1 412.6h0M843.5 356.7h0M782.4 527.1h0M817.3 369.3h0M305.7 337.7h0M832.9 359.2h0M838.4 393.7h0M253.0 383.6h0M779.2 388.0h0M824.2 373.4h0M153.1 383.9h0M329.0 312.6h0M156.3 378.2h0M819.8 358.4h0M819.9 397.6h0M811.1 362.6h0M322.7 326.1h0"/><path stroke="#f89310" d="M320.5 523.5h0M177.5 369.2h0M687.5 375.2h0M734.1 389.0h0M702.8 409.2h0M707.1 410.4h0M317.8 554.1h0M696.0 390.3h0M244.4 441.7h0M825.8 537.5h0M826.4 569.4h0M825.9 563.8h0M313.3 556.5h0M327.6 514.5h0M322.5 536.5h0M334.8 489.3h0M672.1 392.6h0M250.5 415.5h0M328.4 519.7h0M195.9 350.5h0M771.1 465.2h0M691.9 384.1h0"/><path stroke="#7a1d6b" d="M296.8 371.8h0M362.0 424.2h0M811.4 362.9h0M826.5 368.2h0M805.7 390.3h0M188.7 380.5h0M908.5 492.9h0M828.3 365.4h0M324.5 321.7h0M807.9 386.0h0M792.8 527.3h0M323.7 377.0h0M811.0 407.4h0M325.1 318.0h0M327.8 341.5h0M199.6 384.0h0M816.6 401.9h0M306.4 386.9h0M712.9 463.3h0M842.0 418.8h0M822.8 406.2h0M304.9 340.9h0"/><path stroke="#f37819" d="M192.2 358.5h0M167.6 336.8h0M821.6 569.7h0M683.6 405.6h0M782.6 355.0h0M700.6 395.8h0M819.7 576.3h0M194.1 359.9h0M204.8 349.3h0M695.9 401.6h0M192.9 359.6h0M843.0 539.7h0M378.9 244.2h0M684.9 406.1h0M707.4 398.1h0M692.6 397.1h0M186.4 382.3h0M187.0 370.7h0M716.0 409.0h0M684.9 381.0h0M696.9 401.7h0M186.4 375.3h0"/><path stroke="#9b2963" d="M833.1 521.1h0M379.3 278.0h0M691.4 451.6h0M359.7 401.5h0M376.6 294.0h0M402.8 393.8h0M359.8 459.6h0M232.3 397.6h0M172.9 392.5h0M266.8 585.8h0M817.2 513.6h0M177.7 414.2h0M887.9 301.1h0M336.7 343.0h0M392.2 256.1h0M877.4 302.1h0M819.2 339.2h0M382.0 273.0h0M406.3 404.7h0M681.0 426.2h0M916.4 383.3h0M412.2 461.1h0"/><path stroke="#e15933" d="M197.5 352.9h0M199.1 378.9h0M423.7 277.0h0M689.6 407.7h0M696.3 420.1h0M888.7 292.2h0M693.3 384.3h0M708.7 397.0h0M175.0 365.0h0M703.1 423.7h0M696.4 401.3h0M182.3 381.4h0M714.4 434.4h0M390.3 244.9h0M905.7 292.8h0M682.5 448.7h0M891.8 299.4h0M897.2 304.6h0M367.8 273.6h0M679.8 441.6h0M697.6 381.2h0M901.4 311.1h0"/><path stroke="#62146d" d="M825.9 410.1h0M827.3 359.9h0M334.9 309.6h0M187.9 356.6h0M828.2 360.4h0M327.2 328.1h0M842.4 353.0h0M835.2 360.2h0M842.8 367.2h0M803.1 396.3h0M778.5 526.7h0M318.7 347.8h0M334.8 317.9h0M820.5 406.9h0M680.8 446.5h0M320.1 321.7h0M756.3 398.8h0M678.2 439.4h0M298.2 471.7h0M709.5 447.5h0M705.8 442.1h0M871.4 406.6h0"/><path stroke="#e15933" d="M686.8 400.4h0M387.6 242.7h0M390.6 245.5h0M199.7 351.1h0M699.6 399.6h0M690.4 368.3h0M898.8 292.5h0M378.6 264.3h0M204.4 344.9h0M400.6 283.6h0M186.9 354.2h0M192.7 360.9h0M421.0 274.8h0M846.7 300.6h0M196.7 354.7h0M900.1 301.3h0M697.6 391.3h0M690.0 412.6h0M324.5 493.6h0M894.9 306.3h0M333.2 493.8h0M825.9 576.9h0"/><path stroke="#6a176e" d="M333.6 326.1h0M827.5 362.6h0M693.0 429.2h0M334.9 386.3h0M811.5 391.1h0M311.1 381.7h0M298.7 346.5h0M309.9 328.5h0M840.6 358.7h0M829.9 360.0h0M766.5 601.9h0M400.7 443.7h0M819.1 369.7h0M318.8 331.0h0M855.8 401.5h0M815.5 391.5h0M855.5 422.6h0M327.7 315.7h0M827.3 351.9h0M825.5 355.9h0M818.0 360.5h0M923.4 501.6h0"/><path stroke="#f37819" d="M425.0 294.7h0M699.4 401.7h0M326.6 513.8h0M354.7 229.2h0M180.2 336.0h0M275.0 323.0h0M198.2 357.7h0M689.8 389.3h0M696.7 403.8h0M903.8 313.4h0M703.5 404.1h0M704.5 404.7h0M320.2 537.2h0M205.3 360.8h0M201.9 356.1h0M820.8 553.8h0M839.0 539.4h0M687.2 385.2h0M197.7 332.3h0M328.6 497.3h0M815.2 582.9h0M691.3 410.8h0"/><path stroke="#b43458" d="M882.4 293.7h0M384.6 276.0h0M402.0 262.1h0M371.3 277.8h0M902.0 301.7h0M379.8 270.2h0M885.2 309.8h0M378.1 264.9h0M895.4 301.0h0M380.0 281.8h0M683.4 426.2h0M417.3 372.1h0M924.9 311.8h0M385.9 283.1h0M226.1 381.3h0M833.2 508.5h0M904.6 306.6h0M391.0 260.6h0M888.9 306.3h0M378.6 287.6h0M836.5 521.1h0M327.1 394.6h0"/><path stroke="#d64c3f" d="M701.3 382.9h0M165.3 398.8h0M380.5 262.6h0M885.0 312.4h0M690.2 414.6h0M693.8 397.5h0M179.4 370.0h0M183.3 381.2h0M900.1 308.4h0M384.2 258.8h0M685.4 375.4h0M883.3 302.4h0"/><path stroke="#7a1d6b" d="M692.0 443.1h0M808.1 395.1h0M825.5 401.2h0M809.4 404.0h0M290.5 354.7h0M301.8 362.7h0M182.9 416.4h0M789.6 515.6h0M305.8 347.9h0M812.4 355.4h0M300.2 490.5h0M311.9 333.3h0M220.2 401.3h0M811.5 353.7h0M896.6 478.4h0M801.8 421.0h0M317.7 325.1h0M801.6 147.8h0M332.7 324.4h0M908.3 514.5h0M288.2 373.3h0M906.1 484.8h0"/><path stroke="#fca50a" d="M322.3 518.9h0M335.8 508.9h0M340.7 441.0h0M699.6 396.9h0M823.9 539.4h0M831.0 562.8h0M842.2 554.3h0M696.1 395.4h0M289.1 304.8h0M342.2 502.4h0M319.7 544.7h0M328.5 519.8h0M776.7 461.1h0M329.6 519.0h0M331.3 501.4h0M314.1 549.1h0M316.2 535.1h0M850.0 538.1h0M713.2 441.0h0M334.0 501.9h0M310.9 528.2h0M243.4 456.6h0"/><path stroke="#5a126c" d="M337.0 322.0h0M844.2 413.3h0M327.8 335.4h0M823.0 366.6h0M915.7 433.1h0M328.5 313.1h0M279.8 507.2h0M315.0 365.4h0M915.6 396.2h0M826.2 359.7h0M416.5 449.2h0M316.4 349.5h0M313.7 341.6h0M829.6 373.7h0M322.0 354.5h0M779.1 522.5h0M820.7 366.1h0M697.2 420.6h0M320.5 328.8h0M309.6 341.7h0M817.6 373.4h0M289.9 390.3h0"/><path stroke="#6a176e" d="M791.2 410.3h0M242.6 507.4h0M325.4 314.5h0M831.3 360.3h0M814.7 397.6h0M812.6 367.9h0M818.5 361.4h0M738.3 445.4h0M155.1 387.1h0M307.7 389.5h0M823.7 358.5h0M302.6 352.8h0M831.9 362.5h0M306.6 360.1h0M649.1 465.7h0M328.1 372.1h0M832.3 372.6h0M322.6 339.3h0M822.1 409.6h0M792.1 385.9h0M300.2 372.4h0M316.9 338.8h0"/><path stroke="#721a6d" d="M821.6 373.1h0M311.2 398.2h0M808.4 392.4h0M817.9 395.0h0M858.9 491.7h0M322.6 393.5h0M162.4 363.3h0M306.2 344.1h0M833.1 362.6h0M694.9 421.3h0M807.9 386.0h0M721.8 430.7h0M825.3 518.3h0M824.9 368.8h0M697.7 434.8h0M743.5 439.5h0M830.9 371.9h0M338.4 315.0h0M312.7 337.7h0M820.7 400.1h0M696.9 429.1h0M853.5 418.9h0"/><path stroke="#b43458" d="M663.1 440.4h0M392.8 265.7h0M394.1 255.8h0M902.4 632.0h0M388.8 266.7h0M880.1 301.5h0M895.9 298.6h0M716.0 231.2h0M172.7 363.1h0M207.9 383.0h0M387.5 272.9h0M382.9 263.6h0M811.9 375.4h0M376.4 298.3h0M369.4 277.1h0M897.1 294.1h0M371.4 284.7h0M864.0 267.2h0M381.8 293.6h0M829.2 503.5h0M382.6 268.5h0M895.5 315.2h0"/><path stroke="#9b2963" d="M383.2 301.7h0M374.4 294.0h0M249.8 506.2h0M641.9 368.1h0M774.1 613.9h0M897.8 302.6h0M395.5 277.1h0M911.6 507.7h0M685.6 426.8h0M197.0 367.3h0M399.4 356.0h0M376.3 291.6h0M385.1 259.1h0M824.4 409.6h0M387.4 285.9h0M374.6 281.9h0M406.0 446.8h0M378.7 281.5h0M285.7 374.0h0M815.2 423.5h0M348.7 433.5h0M795.6 610.3h0"/><path stroke="#f58116" d="M321.9 552.1h0M334.4 525.8h0M321.6 524.3h0M706.6 390.7h0M708.1 413.8h0M846.2 541.7h0M190.6 399.1h0M702.2 388.3h0M905.9 295.9h0M320.3 535.4h0M832.1 557.1h0M677.8 378.0h0M762.4 462.7h0M692.6 397.4h0M194.3 411.6h0M198.2 356.1h0M197.6 347.6h0M209.1 343.3h0M331.0 499.6h0M198.4 367.1h0M849.0 543.5h0M184.6 370.6h0"/><path stroke="#d64c3f" d="M884.0 246.0h0M181.7 406.4h0M902.8 306.7h0M705.2 395.0h0M186.0 359.2h0M203.7 349.6h0M922.1 394.9h0M380.0 275.6h0M391.2 258.7h0M885.4 298.4h0M900.7 306.0h0M182.5 366.0h0M280.8 299.9h0M380.0 261.4h0M897.7 284.3h0M381.7 244.5h0M693.0 391.8h0M920.6 240.0h0M199.6 345.3h0M154.6 378.2h0M378.6 262.3h0M886.9 313.5h0"/><path stroke="#7a1d6b" d="M288.1 365.6h0M831.5 405.2h0M188.9 402.0h0M281.0 506.4h0M179.6 362.0h0M320.6 358.7h0M791.6 525.9h0M797.1 554.1h0M923.8 467.6h0M730.1 412.1h0M324.8 399.5h0M330.6 315.7h0M834.6 368.6h0M819.3 502.9h0M825.6 411.2h0M202.2 393.0h0M317.6 514.4h0M781.1 406.5h0M814.7 516.7h0M805.8 366.4h0M911.8 524.4h0M684.4 413.1h0"/><path stroke="#8b2368" d="M353.5 373.2h0M302.7 378.3h0M194.4 371.2h0M717.4 366.0h0M737.3 465.8h0M822.0 356.2h0M791.8 524.3h0M830.1 413.8h0M352.1 452.0h0M808.3 428.6h0M820.8 427.1h0M828.4 405.0h0M313.5 326.2h0M740.9 395.4h0M382.3 299.0h0M770.4 515.3h0M824.1 342.3h0M839.8 429.0h0M360.9 373.6h0M305.1 358.6h0M422.2 420.9h0M382.6 283.9h0"/><path stroke="#5a126c" d="M828.7 356.3h0M207.5 410.5h0M313.9 320.5h0M840.1 394.8h0M192.6 426.8h0M261.8 489.3h0M813.6 408.0h0M302.0 345.2h0M828.0 357.7h0M153.1 442.7h0M160.1 391.4h0M370.5 341.7h0M820.3 428.4h0M313.5 328.2h0M819.6 374.5h0M819.3 354.0h0M398.5 441.7h0M329.1 321.5h0M185.3 397.5h0M315.1 351.5h0M309.3 350.5h0M673.8 430.8h0"/><path stroke="#7a1d6b" d="M278.1 473.7h0M777.3 518.2h0M823.0 374.2h0M272.0 556.0h0M326.9 309.1h0M662.3 444.1h0M822.1 368.6h0M738.5 446.4h0M306.7 334.8h0M211.3 529.8h0M315.5 369.2h0M412.9 475.9h0M400.3 452.2h0M804.1 401.9h0M846.2 449.5h0M687.3 424.4h0M848.3 395.1h0M379.0 438.3h0M723.8 416.2h0M307.6 348.1h0M915.1 498.6h0M932.8 507.8h0"/><path stroke="#9b2963" d="M208.4 393.6h0M159.6 217.9h0M837.8 529.6h0M756.6 161.6h0M973.6 649.2h0M912.0 335.4h0M790.0 517.5h0M322.9 382.2h0M696.9 467.3h0M893.5 295.2h0M325.5 352.3h0M397.7 379.6h0M369.5 297.2h0M832.7 334.3h0M695.0 436.9h0M825.6 513.5h0M260.1 499.1h0M914.1 261.7h0M375.9 283.6h0M191.1 394.6h0M317.6 388.0h0M794.8 516.0h0"/><path stroke="#ef7020" d="M689.7 415.1h0M703.9 395.1h0M720.5 393.5h0M681.4 396.6h0M198.0 399.9h0M188.1 370.2h0M693.3 386.7h0M312.0 545.3h0M826.5 538.2h0M704.3 374.8h0M669.1 416.6h0M239.4 501.3h0M684.7 366.1h0M326.5 488.5h0M185.6 366.8h0M695.2 404.0h0M327.6 488.5h0M700.0 395.0h0M695.4 406.4h0M690.3 405.0h0M186.2 363.0h0M780.4 351.5h0"/><path stroke="#7a1d6b" d="M823.1 359.9h0M324.9 403.3h0M784.9 602.3h0M341.2 337.1h0M171.7 399.3h0M819.6 362.0h0M785.6 388.1h0M415.9 479.2h0M312.2 355.0h0M705.2 440.8h0M403.2 476.4h0M320.1 404.7h0M908.5 510.1h0M277.4 486.4h0M823.6 369.0h0M297.9 389.1h0M850.8 411.7h0M787.5 523.0h0M663.6 437.9h0M337.1 323.2h0M325.4 317.6h0M263.6 563.7h0"/><path stroke="#ef7020" d="M363.0 246.1h0M252.0 446.6h0M183.8 357.4h0M192.6 388.5h0M698.3 403.2h0M171.0 365.4h0M196.9 362.0h0M186.3 356.8h0M695.1 417.1h0M399.9 254.7h0M698.6 398.0h0M700.2 411.5h0M704.1 413.0h0M856.6 538.7h0M703.3 398.0h0M677.9 386.6h0M688.2 398.2h0M392.1 249.8h0M203.9 344.9h0M680.5 400.3h0M897.6 299.0h0M693.7 378.0h0"/><path stroke="#62146d" d="M313.4 371.2h0M352.1 384.2h0M307.0 370.2h0M810.9 396.6h0M314.2 337.9h0M154.0 393.8h0M304.1 410.5h0M816.7 408.3h0M826.5 372.3h0M313.9 342.9h0M187.6 406.3h0M832.5 353.1h0M847.3 352.7h0M323.6 339.7h0M832.7 352.7h0M175.1 409.1h0M290.8 482.0h0M307.0 377.6h0M182.7 385.6h0M269.8 484.3h0M824.0 361.4h0M333.2 315.4h0"/><path stroke="#7a1d6b" d="M314.6 338.6h0M333.6 421.1h0M786.9 534.3h0M777.1 513.3h0M161.1 412.1h0M817.4 413.4h0M320.9 348.6h0M169.8 405.1h0M363.4 420.7h0M834.4 391.1h0M649.8 312.5h0M266.2 557.1h0M708.3 430.6h0M292.4 374.6h0M211.5 395.8h0M844.0 530.8h0M809.0 421.7h0M716.7 439.1h0M255.9 484.2h0M693.6 432.2h0M822.6 367.3h0M831.9 346.8h0"/><path stroke="#5a126c" d="M842.3 389.9h0M791.5 397.4h0M294.4 376.8h0M334.9 310.5h0M727.9 456.2h0M318.6 339.1h0M841.7 364.3h0M310.1 330.1h0M193.2 417.1h0M281.0 353.3h0M829.7 404.6h0M323.2 314.9h0M281.3 384.2h0M319.5 352.7h0M834.6 354.3h0M309.3 328.9h0M822.4 358.0h0M787.7 417.0h0M277.0 481.8h0M820.7 368.2h0M831.2 354.8h0M267.1 367.2h0"/><path stroke="#6a176e" d="M863.3 365.9h0M386.6 460.8h0M833.3 359.7h0M810.0 409.3h0M304.3 347.8h0M770.6 605.6h0M814.5 416.5h0M811.1 392.5h0M809.7 411.3h0M184.0 392.7h0M809.4 356.8h0M212.2 395.2h0M698.4 439.6h0M710.8 448.3h0M814.6 355.5h0M896.8 501.6h0M257.3 567.0h0M826.6 386.5h0M338.0 322.4h0M198.6 401.5h0M804.0 389.2h0M826.3 404.7h0"/><path stroke="#f6d746" d="M337.0 505.4h0M375.8 430.2h0M297.1 438.8h0M372.9 421.1h0M288.1 459.5h0M296.2 449.7h0M367.1 415.0h0M372.1 437.5h0M294.4 439.7h0M295.3 444.1h0M283.9 442.1h0M370.5 429.6h0M378.9 414.8h0M807.0 476.3h0M371.5 427.3h0M361.5 423.2h0"/><path stroke="#5a126c" d="M269.6 522.3h0M354.1 391.4h0M688.0 444.5h0M300.1 341.4h0M877.8 479.3h0M314.6 348.4h0M454.8 573.4h0M191.0 399.6h0M814.2 352.3h0M319.2 323.1h0M829.5 368.9h0M696.1 446.7h0M324.2 337.2h0M794.3 406.9h0M813.2 360.5h0M350.5 404.7h0M330.4 394.3h0M747.6 451.3h0M321.9 327.0h0M409.8 403.4h0M315.5 352.9h0M270.9 410.3h0"/><path stroke="#6a176e" d="M321.9 350.7h0M315.8 346.2h0M936.6 510.4h0M812.1 393.4h0M785.9 422.2h0M398.7 462.0h0M304.4 324.8h0M820.2 358.8h0M834.8 355.4h0M321.7 323.0h0M309.8 357.6h0M311.3 347.5h0M826.6 353.8h0M835.2 359.7h0M834.7 360.3h0M193.0 395.0h0M310.6 331.7h0M712.3 417.6h0M835.5 362.2h0M818.3 535.7h0M315.8 387.5h0M714.4 465.0h0"/><path stroke="#c33c4f" d="M882.4 294.2h0M890.4 297.3h0M902.1 310.7h0M894.5 302.6h0M228.3 403.9h0M836.5 513.0h0M724.9 438.4h0M383.7 257.5h0M373.9 270.1h0M371.9 273.9h0M200.2 393.8h0M383.5 284.6h0M823.0 518.5h0M895.0 301.6h0M386.7 264.8h0M842.4 515.7h0M357.7 299.4h0M179.8 379.9h0M898.6 305.8h0M893.4 295.5h0M378.2 275.4h0M378.4 279.5h0"/><path stroke="#f8c32e" d="M760.0 448.8h0M342.6 499.7h0M333.8 515.7h0M331.2 499.0h0M313.2 537.5h0M371.2 424.1h0M331.0 519.9h0M817.9 587.2h0M328.4 519.1h0M326.4 495.4h0M325.0 508.7h0M343.4 509.3h0M718.0 418.3h0M328.6 503.3h0M708.0 419.8h0M330.0 504.1h0M335.7 508.8h0M326.8 518.1h0M327.9 499.7h0M333.8 511.2h0"/><path stroke="#b43458" d="M823.3 515.9h0M888.5 311.8h0M374.5 285.5h0M809.8 514.2h0M888.3 315.5h0M371.0 272.6h0M894.0 318.8h0M179.2 364.7h0M908.2 303.1h0M890.9 295.6h0M888.9 306.4h0M892.2 312.9h0M708.6 426.2h0M382.9 272.2h0M383.4 276.5h0M825.7 509.1h0M896.6 297.1h0M378.3 284.8h0M897.3 299.2h0M900.8 446.1h0M376.8 281.9h0M381.3 257.2h0"/><path stroke="#7a1d6b" d="M292.9 347.3h0M823.4 361.1h0M191.1 430.4h0M411.5 415.2h0M821.8 395.1h0M365.3 410.3h0M382.1 419.2h0M156.3 393.7h0M342.2 386.7h0M318.4 380.2h0M311.2 518.3h0M809.6 405.1h0M339.5 313.1h0M828.4 425.3h0M681.2 432.6h0M824.2 402.4h0M384.5 429.3h0M714.2 429.4h0M408.6 471.4h0M420.5 462.7h0M812.7 358.8h0M727.0 435.9h0"/><path stroke="#420a68" d="M170.2 359.1h0M804.4 384.2h0M903.3 499.0h0M820.3 414.5h0M844.3 391.6h0M845.5 402.5h0M345.3 418.0h0M789.5 396.2h0M195.6 385.3h0M308.6 361.3h0M815.6 356.6h0M809.2 397.9h0M169.9 427.1h0M282.6 381.4h0M321.1 531.6h0M292.9 421.0h0M829.8 404.3h0M179.1 407.1h0M245.0 393.3h0M825.1 401.8h0M238.1 388.9h0"/><path stroke="#7a1d6b" d="M331.7 392.6h0M298.8 484.6h0M345.4 320.9h0M179.3 428.5h0M261.5 563.8h0M321.2 352.6h0M796.6 397.9h0M699.8 468.2h0M302.5 382.8h0M334.6 393.8h0M359.4 425.6h0M356.3 374.1h0M832.8 362.9h0M857.6 359.5h0M802.5 415.5h0M912.3 480.5h0M337.6 377.0h0M315.6 339.9h0M411.5 458.7h0M762.3 614.4h0M812.4 403.0h0M942.9 403.0h0"/><path stroke="#d64c3f" d="M379.0 271.0h0M899.5 299.2h0M885.9 298.2h0M375.9 265.2h0M188.5 370.3h0M393.8 250.3h0M196.3 351.1h0M870.6 262.9h0M701.0 389.2h0M381.2 241.0h0M395.9 247.4h0M390.9 245.3h0M197.9 350.2h0M186.9 361.1h0M180.7 367.3h0M706.2 402.4h0M192.6 356.6h0M396.9 299.6h0M379.7 269.5h0M190.2 372.0h0M893.1 298.1h0M392.9 296.1h0"/><path stroke="#5a126c" d="M711.9 465.5h0M316.5 360.6h0M318.0 379.0h0M724.7 420.7h0M409.3 452.1h0M316.1 344.2h0M780.9 535.7h0M715.7 447.8h0M858.7 358.6h0M911.3 512.5h0M321.5 339.8h0M791.9 414.8h0M676.9 424.9h0M855.3 392.5h0M349.7 348.5h0M325.7 305.3h0M813.8 408.1h0M324.2 319.4h0M313.9 343.6h0M840.5 346.6h0M310.6 485.1h0M717.2 424.6h0"/><path stroke="#f7df59" d="M378.0 435.6h0M296.7 439.8h0M358.3 429.1h0M796.8 470.5h0M372.7 431.0h0M373.0 427.2h0M374.2 427.2h0M291.8 449.1h0M292.3 454.5h0"/><path stroke="#c33c4f" d="M875.9 294.3h0M881.4 290.7h0M899.4 302.1h0M375.0 266.6h0M378.5 279.7h0M894.7 291.6h0M409.1 354.4h0M378.6 283.7h0M400.7 378.3h0M890.3 299.2h0M882.3 296.6h0M375.3 284.4h0M900.2 295.7h0M904.1 303.9h0M900.3 306.2h0M871.6 296.6h0M827.4 527.5h0M900.5 302.7h0M377.8 259.9h0M800.9 452.2h0M375.2 255.4h0M886.1 295.6h0"/><path stroke="#f37819" d="M332.9 491.2h0M709.9 408.1h0M213.9 349.7h0M688.1 411.3h0M699.2 401.0h0M840.5 537.3h0M196.4 370.5h0M702.0 376.2h0M705.5 383.6h0M204.3 358.5h0M185.2 359.1h0M196.2 357.9h0M197.3 378.0h0M190.4 366.8h0M691.1 394.5h0M170.8 371.1h0M696.4 402.1h0M692.0 404.4h0M838.4 537.0h0M822.3 547.1h0M842.3 545.5h0M386.6 255.8h0"/><path stroke="#e6612d" d="M182.8 383.5h0M177.1 378.3h0M888.6 331.5h0M284.6 324.5h0M389.1 262.7h0M205.6 358.9h0M829.1 549.2h0M242.6 423.9h0M185.1 362.2h0M711.6 388.0h0M190.9 377.8h0M206.8 353.0h0M693.5 400.6h0M186.8 369.2h0M707.1 387.3h0M832.4 538.5h0M322.9 486.3h0M687.4 392.8h0M204.1 357.8h0M182.2 388.6h0M201.5 364.2h0M216.5 357.7h0"/><path stroke="#6a176e" d="M851.1 360.0h0M828.3 369.0h0M816.3 401.3h0M174.4 394.1h0M817.2 366.4h0M267.0 567.9h0M259.7 498.7h0M316.8 360.1h0M790.7 403.0h0M181.1 413.1h0M321.2 332.4h0M325.6 321.1h0M792.4 536.3h0M313.5 335.4h0M302.1 371.9h0M818.5 399.6h0M826.3 367.3h0M157.6 393.1h0M331.3 375.8h0M715.5 429.3h0M320.2 353.3h0M311.4 361.6h0"/><path stroke="#62146d" d="M712.1 452.2h0M298.3 349.6h0M813.6 400.1h0M212.0 355.1h0M295.8 500.5h0M833.9 364.1h0M338.1 312.3h0M904.1 479.9h0M660.1 437.6h0M825.3 353.5h0M753.1 435.9h0M341.4 458.3h0M701.8 454.2h0M715.3 459.5h0M821.2 365.4h0M842.1 560.3h0M287.7 486.3h0M741.6 459.0h0M301.3 339.7h0M837.6 406.3h0M830.3 356.4h0M324.9 371.3h0"/><path stroke="#e6612d" d="M202.7 350.8h0M670.2 400.7h0M388.7 250.8h0M680.4 407.0h0M198.4 352.9h0M186.6 379.9h0M208.1 348.9h0M909.2 303.4h0M376.2 256.6h0M197.6 356.6h0M706.5 395.3h0M812.2 581.5h0M179.8 358.1h0M177.8 359.5h0M835.1 539.4h0M197.8 366.5h0M187.5 361.4h0M703.2 391.0h0M191.7 368.1h0M430.5 223.9h0M694.5 415.2h0M687.4 389.4h0"/><path stroke="#ef7020" d="M705.1 405.7h0M326.7 515.1h0M182.9 357.1h0M691.3 397.4h0M709.4 414.0h0M398.4 250.8h0M827.1 536.9h0M687.8 409.4h0M185.2 351.0h0M195.5 361.6h0M863.2 551.0h0M888.5 295.6h0M387.5 256.8h0M691.2 406.3h0M668.0 398.8h0M192.5 357.6h0M780.0 357.5h0M698.3 402.7h0M832.8 555.0h0M701.6 402.0h0M187.9 365.1h0M690.0 409.0h0"/><path stroke="#6a176e" d="M310.7 348.0h0M836.7 370.6h0M301.7 500.7h0M822.5 361.4h0M329.1 330.8h0M324.9 323.3h0M289.0 477.9h0M329.7 325.3h0M811.5 413.3h0M334.7 318.1h0M726.4 407.3h0M815.6 404.1h0M289.3 380.7h0M833.5 372.8h0M324.6 374.9h0M282.9 522.5h0M787.1 524.5h0M425.1 482.3h0M303.9 332.9h0M347.6 379.1h0M266.9 518.4h0M832.4 413.8h0"/><path stroke="#c33c4f" d="M900.8 305.2h0M374.5 285.1h0M379.3 277.3h0M894.6 296.8h0M388.7 261.1h0M895.4 303.0h0M869.4 294.4h0M376.3 270.1h0"/><path stroke="#ac305c" d="M374.9 287.5h0M716.7 418.9h0M919.9 250.2h0M385.3 258.8h0M887.4 300.6h0M889.0 295.4h0M382.4 290.0h0M835.1 517.8h0M385.3 267.1h0M360.7 465.4h0M377.6 268.7h0M885.2 295.0h0M374.6 284.2h0M383.0 286.0h0M823.6 518.4h0M376.3 280.2h0M386.0 289.8h0M379.0 276.6h0M382.1 271.8h0M887.3 317.4h0M376.0 431.8h0M733.0 311.6h0"/><path stroke="#721a6d" d="M734.1 444.2h0M826.3 372.5h0M833.7 352.2h0M158.3 381.2h0M334.7 310.7h0M783.8 528.2h0M667.2 442.3h0M312.2 363.7h0M824.3 553.4h0M910.6 485.4h0M844.4 354.8h0M195.5 427.2h0M671.2 427.4h0M825.7 351.7h0M337.4 321.7h0M812.0 406.8h0M829.9 397.4h0M302.8 485.9h0M325.9 388.1h0M204.7 401.7h0M329.1 326.7h0M915.7 585.2h0"/><path stroke="#ef7020" d="M835.5 552.2h0M214.5 356.2h0M394.3 246.5h0M685.5 392.1h0M818.8 585.8h0M198.8 353.7h0M199.8 364.5h0M781.2 354.6h0M179.2 364.1h0M907.8 294.9h0M306.4 549.6h0M838.8 549.0h0M308.1 543.4h0M699.4 413.4h0M686.9 429.5h0M195.9 355.6h0M707.2 402.1h0M697.5 400.8h0M328.1 501.0h0M704.8 409.5h0M686.5 380.3h0M179.2 372.0h0"/><path stroke="#d64c3f" d="M907.3 312.2h0M408.9 282.5h0M895.6 303.9h0M930.0 304.0h0M882.8 286.9h0M184.0 371.7h0M319.6 474.2h0M900.4 302.0h0M184.3 362.4h0M185.5 373.0h0M891.0 293.8h0M887.7 291.0h0M383.9 239.0h0M369.1 228.7h0M219.7 337.6h0M681.5 404.1h0M397.6 250.7h0M420.8 256.5h0M398.8 243.9h0M191.5 361.8h0M193.3 374.9h0M208.5 351.6h0"/><path stroke="#f58116" d="M318.7 551.0h0M702.0 393.4h0M685.7 393.0h0M190.6 371.4h0M172.4 379.9h0M819.6 586.0h0M310.9 553.4h0M378.4 233.3h0M317.9 539.2h0M191.1 356.1h0M704.4 407.2h0M697.9 443.8h0M712.3 399.4h0M694.0 386.5h0M688.1 412.4h0M706.1 409.0h0M720.9 402.6h0M420.1 283.6h0M771.8 462.3h0M697.8 403.8h0M328.8 530.7h0M707.0 420.9h0"/><path stroke="#7a1d6b" d="M692.6 428.3h0M809.5 394.2h0M189.1 402.8h0M848.2 425.8h0M689.3 484.4h0M323.8 341.7h0M825.8 394.1h0M888.0 611.3h0M730.9 451.6h0M263.3 573.7h0M390.1 496.2h0M313.8 356.7h0M292.9 378.8h0M835.5 409.9h0M808.2 395.4h0M334.0 312.9h0M266.6 564.7h0M799.8 556.6h0M275.7 358.0h0M834.9 393.4h0M318.4 342.5h0M789.8 528.7h0"/><path stroke="#e15933" d="M373.6 237.0h0M365.0 224.3h0M691.9 403.0h0M203.5 361.9h0M894.3 304.4h0M191.1 349.1h0M703.7 421.1h0M679.5 385.0h0M197.7 337.4h0M172.8 381.5h0M823.8 566.6h0M687.9 404.5h0M904.2 288.6h0M194.2 363.8h0M709.2 411.1h0M851.2 548.8h0M392.3 245.3h0M206.5 347.5h0M243.7 465.4h0M845.4 537.2h0M836.8 538.3h0M391.1 265.9h0"/><path stroke="#62146d" d="M305.9 371.4h0M826.2 361.8h0M686.0 428.5h0M815.2 401.8h0M714.1 441.7h0M868.9 536.6h0M828.7 414.0h0M820.7 368.0h0M310.4 349.7h0M299.8 386.0h0M814.7 359.7h0M808.7 380.0h0M811.1 415.8h0M719.2 473.9h0M807.9 396.9h0M332.5 380.0h0M880.8 498.5h0M827.5 368.2h0M317.4 398.4h0M315.3 331.4h0M807.3 415.2h0M178.3 344.9h0"/><path stroke="#c33c4f" d="M374.8 275.2h0M202.0 375.0h0M383.2 282.1h0M890.0 306.4h0M380.5 282.4h0M888.5 288.0h0M821.4 522.0h0M387.1 262.8h0M904.8 307.9h0M356.5 462.9h0M409.2 275.7h0M379.5 275.9h0M890.2 305.8h0M892.9 307.4h0M881.1 317.4h0M883.2 308.0h0M715.7 441.6h0M821.5 522.4h0M894.3 287.4h0M875.6 306.7h0M911.9 338.6h0M379.0 256.7h0"/><path stroke="#6a176e" d="M815.0 357.8h0M845.8 367.9h0M334.9 309.7h0M351.4 401.7h0M261.8 509.3h0M305.7 360.1h0M326.1 327.8h0M303.9 349.4h0M269.8 495.4h0M791.2 388.9h0M306.5 393.4h0M782.8 409.7h0M666.4 437.4h0M964.8 456.5h0M316.2 359.2h0M188.4 365.3h0M818.2 363.9h0M783.1 542.1h0M413.1 409.6h0M315.0 338.2h0M821.6 358.7h0M791.5 393.9h0"/><path stroke="#b43458" d="M374.7 273.9h0M872.4 306.2h0M897.2 290.7h0M382.3 274.3h0M907.3 306.3h0M894.0 302.5h0M385.5 278.5h0M217.2 497.0h0M382.4 282.0h0M388.6 276.9h0M381.0 286.0h0M889.0 320.5h0M379.6 268.2h0M879.8 295.0h0M833.8 516.1h0M902.4 284.0h0M178.6 367.7h0M902.3 313.6h0M376.6 273.2h0M883.5 295.2h0M389.3 276.9h0M376.4 268.0h0"/><path stroke="#62146d" d="M805.5 540.1h0M318.4 327.1h0M288.5 485.7h0M837.8 380.2h0M331.4 351.3h0M311.1 321.3h0M820.7 410.4h0M279.0 509.7h0M686.1 450.2h0M329.9 316.2h0M408.0 446.9h0M760.2 519.9h0M338.5 382.9h0M327.3 330.2h0M829.7 365.2h0M823.7 413.1h0M175.5 363.7h0M822.7 353.4h0M170.8 396.6h0M314.0 360.5h0M276.5 475.3h0M324.5 363.9h0"/><path stroke="#ac305c" d="M379.3 276.5h0M919.0 282.4h0M389.9 276.3h0M367.5 467.6h0M889.9 308.2h0M881.2 275.7h0M382.5 286.8h0M381.0 280.0h0M902.8 481.2h0M211.0 383.1h0M384.5 271.9h0M327.6 229.3h0M906.0 372.1h0M398.1 259.9h0M402.2 270.1h0M358.8 462.5h0M382.5 281.4h0M228.7 398.8h0M921.1 292.5h0M386.8 293.2h0M888.4 297.0h0M884.6 302.9h0"/><path stroke="#ef7020" d="M669.8 381.6h0M686.7 398.0h0M700.7 388.1h0M342.5 496.9h0M686.2 401.8h0M201.4 376.4h0M200.9 357.4h0M338.7 515.8h0M831.1 547.1h0M192.7 363.4h0M685.4 410.9h0M380.1 257.8h0M195.6 364.8h0M685.5 395.1h0M197.7 365.8h0M862.8 301.2h0M698.8 446.7h0M197.0 358.0h0M380.8 280.1h0M193.3 347.5h0M704.8 404.8h0M325.0 516.9h0"/><path stroke="#c9414a" d="M190.0 390.1h0M405.3 259.8h0M375.6 252.0h0M380.1 240.3h0M829.0 511.5h0M387.7 256.3h0M200.3 356.8h0M201.1 389.4h0M397.3 262.1h0M819.4 534.4h0M889.1 319.0h0M390.3 289.5h0M377.2 271.0h0M394.6 394.9h0M883.4 304.0h0M877.9 308.6h0M894.0 301.9h0M894.5 310.7h0M901.7 290.1h0M905.8 306.2h0M722.2 417.3h0M927.6 352.7h0"/><path stroke="#9b2963" d="M357.5 457.6h0M425.7 304.1h0M312.3 388.3h0M201.9 389.6h0M886.6 309.3h0M776.8 395.6h0M213.8 375.7h0M380.4 292.3h0M355.8 509.4h0M386.7 276.8h0M325.5 513.2h0M885.2 382.4h0M193.9 430.4h0M913.1 292.4h0M363.2 463.9h0M407.0 245.5h0M891.9 304.8h0M822.7 399.2h0M345.7 447.8h0M201.5 408.4h0M306.1 364.3h0M868.9 623.0h0"/><path stroke="#5a126c" d="M792.6 406.8h0M764.2 405.5h0M311.5 339.9h0M676.8 427.9h0M782.4 390.2h0M210.4 406.6h0M286.6 375.5h0M319.5 330.9h0M332.4 328.8h0M169.2 406.9h0M345.5 318.8h0M837.1 358.6h0M774.5 602.4h0M828.3 361.8h0M780.2 519.1h0M729.2 428.1h0M336.0 320.1h0M294.1 342.7h0M318.2 385.9h0M830.3 361.6h0M709.5 442.7h0M793.8 383.6h0"/><path stroke="#62146d" d="M323.2 382.1h0M713.0 446.1h0M416.7 456.6h0M173.8 403.3h0M327.5 373.4h0M832.0 390.0h0M309.2 363.2h0M785.1 351.7h0M830.9 369.5h0M326.6 315.7h0M767.6 515.5h0M403.1 476.6h0M315.7 359.0h0M791.6 522.1h0M833.4 351.3h0M442.8 533.0h0M825.0 353.2h0M305.9 350.8h0M707.9 426.4h0M824.9 360.5h0M319.5 317.8h0M840.0 364.5h0"/><path stroke="#7a1d6b" d="M831.6 538.6h0M261.1 507.0h0M304.7 494.9h0M903.5 493.1h0M337.1 387.2h0M916.2 474.0h0M190.6 441.2h0M781.2 413.2h0M166.6 395.9h0M289.6 359.8h0M329.6 395.4h0M347.1 313.4h0M331.5 318.0h0M365.2 398.3h0M261.0 477.5h0M174.6 382.1h0M896.4 601.0h0M779.3 521.9h0M349.1 388.4h0M715.4 448.8h0M311.9 342.1h0M784.2 404.4h0"/><path stroke="#83206a" d="M820.1 367.5h0M295.8 380.8h0M763.4 408.5h0M292.5 375.9h0M819.7 417.6h0M388.2 605.2h0M818.1 402.2h0M905.1 482.6h0M920.2 476.8h0M800.4 540.9h0M782.8 360.0h0M810.5 395.6h0M326.3 328.1h0M259.7 556.3h0M192.4 348.7h0M715.6 432.4h0M840.4 409.7h0M717.5 441.0h0M220.5 420.8h0M314.7 348.8h0M807.9 394.4h0M210.5 383.7h0"/><path stroke="#721a6d" d="M865.6 410.0h0M269.2 514.7h0M144.5 364.9h0M677.5 452.2h0M323.8 390.8h0M287.0 367.8h0M319.1 340.3h0M835.5 351.1h0M329.6 343.3h0M825.8 404.9h0M311.0 346.9h0M277.7 535.2h0M313.7 364.1h0M815.3 362.6h0M778.4 624.7h0M774.2 383.6h0M368.9 524.4h0M827.4 363.4h0M829.8 366.5h0M308.0 335.6h0M721.3 420.8h0M308.3 492.9h0"/><path stroke="#721a6d" d="M703.0 432.5h0M892.3 477.4h0M821.1 409.2h0M838.4 371.0h0M311.0 383.0h0M192.8 389.3h0M823.8 366.4h0M328.8 328.8h0M324.8 384.7h0M334.6 322.9h0M313.0 342.6h0M198.8 391.8h0M269.4 398.0h0M815.2 400.9h0M336.3 392.9h0M821.4 359.2h0M308.5 344.7h0M830.4 393.4h0M336.8 359.8h0M207.1 402.4h0M901.0 478.1h0M913.0 476.9h0"/><path stroke="#f37819" d="M206.9 352.9h0M693.8 434.9h0M705.3 383.5h0M330.3 493.5h0M183.7 366.9h0M696.6 405.1h0M212.4 346.3h0M688.3 412.1h0M712.8 400.2h0M189.1 356.5h0M193.2 351.6h0M316.6 551.0h0M829.2 568.6h0M320.2 550.1h0M709.4 391.4h0M776.3 351.2h0M182.6 335.3h0M203.2 343.5h0M202.3 354.5h0M291.5 305.6h0M684.8 385.9h0M682.4 375.6h0"/><path stroke="#8b2368" d="M277.0 488.7h0M314.6 371.3h0M862.5 561.0h0M814.8 516.2h0M722.0 420.7h0M830.7 403.8h0M824.6 413.1h0M788.0 514.6h0M184.5 399.8h0M265.1 571.0h0M363.4 287.8h0M337.0 412.2h0M277.4 572.9h0M703.3 457.0h0M305.4 368.5h0M195.5 377.6h0M375.9 288.9h0M828.9 428.6h0M287.0 482.2h0M302.3 406.2h0M212.7 390.5h0M171.2 381.9h0"/><path stroke="#f8e76c" d="M363.5 424.1h0M375.8 428.1h0M238.0 384.2h0M861.8 503.8h0M287.8 432.3h0M805.9 474.6h0M805.3 476.4h0M806.9 476.2h0M804.9 472.9h0"/><path stroke="#dd513a" d="M380.0 262.8h0M196.1 350.0h0M198.5 405.3h0M376.6 267.2h0M684.6 402.6h0M214.1 359.5h0M889.8 305.1h0M186.4 356.7h0M393.0 246.6h0M890.0 300.6h0M189.4 363.2h0M914.2 298.7h0M908.6 286.7h0M895.4 292.5h0M701.1 430.9h0M895.7 308.0h0M888.0 290.3h0M170.0 361.4h0M679.2 393.2h0M401.8 248.3h0M199.8 370.4h0M370.5 256.9h0"/><path stroke="#721a6d" d="M337.4 314.8h0M696.4 414.1h0M312.7 336.3h0M271.4 503.7h0M692.9 467.0h0M812.5 409.8h0M803.6 392.5h0M339.8 330.3h0M883.0 511.6h0M793.5 517.5h0M327.0 384.2h0M907.6 515.4h0M323.8 335.2h0M326.9 369.4h0M405.6 467.6h0"/><path stroke="#83206a" d="M342.8 308.0h0M261.5 570.2h0M273.2 555.0h0M890.2 301.3h0M338.3 442.6h0M908.1 479.6h0M329.7 359.8h0"/><path stroke="#62146d" d="M328.6 316.4h0M824.7 368.7h0M330.3 350.7h0M311.2 356.8h0M310.6 353.7h0M269.4 488.0h0M674.4 457.8h0M347.4 354.8h0M847.6 359.2h0M792.8 522.1h0M697.6 439.0h0M288.7 369.7h0M280.0 493.3h0M818.7 363.0h0M315.1 341.5h0M327.1 320.1h0M810.9 414.2h0M285.4 392.2h0M800.2 519.6h0M409.1 444.9h0M261.0 560.3h0M189.7 404.1h0"/><path stroke="#d04744" d="M184.5 379.7h0M831.0 515.6h0M678.6 395.6h0M888.7 300.7h0M189.1 353.4h0M813.7 574.1h0M385.2 274.7h0M888.0 301.5h0M709.4 400.5h0M712.2 436.8h0M207.1 370.9h0M320.1 481.7h0M891.1 299.9h0M376.2 291.4h0M388.1 271.1h0M919.4 306.1h0M437.0 276.8h0M404.3 286.3h0M379.2 272.4h0M835.8 519.9h0M181.5 394.0h0M383.7 256.4h0"/><path stroke="#ef7020" d="M823.7 572.9h0M178.6 376.6h0M179.9 344.5h0M204.0 357.5h0M323.8 497.5h0M174.7 362.2h0M207.4 365.1h0M360.9 245.1h0M187.6 364.4h0M203.3 367.9h0M815.3 587.2h0M197.8 360.8h0M694.3 409.8h0M330.2 495.6h0M713.2 412.2h0M201.1 347.7h0M695.1 383.5h0M831.3 555.3h0M388.1 254.4h0M192.6 347.2h0M700.2 392.0h0M188.9 393.1h0"/><path stroke="#dd513a" d="M192.3 366.1h0M694.4 407.3h0M200.3 357.8h0M709.1 386.2h0M886.2 308.7h0M206.8 352.7h0M884.5 299.6h0M383.5 247.8h0M389.8 249.2h0M189.1 352.9h0M698.1 401.3h0M887.7 316.7h0M204.5 352.7h0M828.1 525.2h0M388.2 250.6h0M698.0 415.1h0M198.5 345.6h0M886.3 296.7h0M378.2 253.1h0M188.6 368.3h0M393.7 265.2h0M387.5 253.8h0"/><path stroke="#721a6d" d="M804.6 388.0h0M811.0 395.7h0M311.0 344.4h0M821.1 359.0h0M335.9 321.1h0M299.0 508.3h0M321.3 358.6h0M319.7 334.8h0M839.1 552.0h0M690.4 429.6h0M830.0 366.0h0M326.2 315.8h0M799.6 409.1h0M823.0 416.4h0M165.7 467.5h0M684.5 441.2h0M831.6 361.6h0M310.5 349.1h0M687.1 448.9h0M765.1 531.2h0M820.3 359.9h0M764.5 611.6h0"/><path stroke="#721a6d" d="M814.8 367.8h0M182.2 396.9h0M300.8 335.9h0M826.8 376.1h0M315.0 312.8h0M831.2 368.5h0M702.0 447.9h0M173.3 348.2h0M837.5 367.6h0M155.2 378.9h0M126.5 163.5h0M845.2 360.6h0M226.1 369.1h0M818.0 371.0h0M709.8 443.4h0M822.0 538.2h0M321.2 327.5h0M334.4 317.1h0M196.3 402.0h0M327.4 320.9h0M337.6 321.4h0M324.6 340.3h0"/><path stroke="#f58116" d="M703.2 403.4h0M847.5 558.9h0M329.4 513.0h0M835.0 533.4h0M195.9 349.9h0M311.1 548.0h0M190.3 356.2h0M188.0 360.3h0M683.4 392.7h0M689.5 404.8h0M198.3 355.8h0M328.7 512.7h0M710.0 390.8h0M246.7 451.5h0M820.0 564.6h0M379.4 230.2h0M694.7 409.9h0M201.1 360.4h0M715.4 383.7h0M332.5 497.9h0M837.3 556.5h0M759.3 458.2h0"/><path stroke="#f37819" d="M787.9 352.6h0M693.2 386.6h0M381.0 261.3h0M694.8 390.8h0M689.0 449.1h0M321.5 542.1h0M700.3 386.0h0M851.3 546.3h0M659.6 391.0h0M196.8 348.5h0M193.6 362.1h0M698.5 381.5h0M681.8 406.7h0M853.8 546.5h0M392.4 264.3h0M185.8 373.2h0M832.7 536.8h0M186.7 344.2h0M827.0 559.0h0M716.5 413.7h0M193.9 356.5h0M335.1 508.7h0"/><path stroke="#6a176e" d="M397.5 462.8h0M724.6 449.0h0M825.7 380.1h0M708.6 418.5h0M301.2 363.5h0M190.6 424.4h0M813.8 388.7h0M735.1 420.1h0M333.5 403.3h0M833.0 370.2h0M692.2 410.3h0M326.9 318.8h0M694.2 438.4h0M307.2 364.3h0M811.5 362.2h0M321.1 319.2h0M205.1 379.8h0M814.4 366.5h0M311.3 368.7h0M921.8 517.8h0M695.0 468.3h0M317.4 360.8h0"/><path stroke="#932667" d="M823.4 406.5h0M898.0 315.4h0M203.1 397.2h0M794.2 412.2h0M853.4 409.7h0M284.8 465.9h0M389.6 398.3h0M406.8 258.6h0M417.8 443.4h0M396.6 465.8h0M175.8 416.1h0M828.4 517.3h0M360.2 409.1h0M333.2 395.5h0M777.6 602.7h0M896.8 490.7h0M354.6 466.6h0M200.3 404.3h0M941.5 474.0h0M341.5 396.5h0M847.5 406.1h0M860.0 406.4h0"/><path stroke="#e6612d" d="M400.0 236.6h0M721.0 393.0h0M185.4 368.7h0M889.1 255.1h0M190.9 344.4h0M195.1 367.2h0M838.4 566.3h0M710.1 393.2h0M732.0 449.1h0M693.3 391.4h0M709.9 393.7h0M679.3 403.4h0M188.2 362.5h0M689.4 434.2h0M205.0 332.6h0M836.4 541.6h0M816.0 578.4h0M701.8 392.4h0M194.7 348.5h0M194.9 351.6h0M828.5 560.6h0M384.7 243.8h0"/><path stroke="#e15933" d="M700.1 392.4h0M685.8 391.8h0M690.7 406.3h0M328.8 502.2h0M711.8 411.6h0M215.1 355.9h0M837.9 555.5h0M698.5 396.2h0M898.2 313.7h0M190.3 354.8h0M385.8 245.7h0M188.1 373.3h0M176.6 374.0h0M391.5 242.7h0M180.0 374.4h0M701.9 420.6h0M190.7 353.3h0M697.0 402.2h0M830.6 550.4h0M200.3 380.7h0M682.8 420.6h0M173.8 340.3h0"/><path stroke="#721a6d" d="M814.8 365.3h0M842.2 418.9h0M301.2 368.7h0M250.5 486.8h0M841.0 364.7h0M412.4 446.3h0M823.9 356.8h0M775.0 523.1h0M812.5 359.4h0M827.4 385.0h0M338.7 387.0h0M709.1 463.8h0M321.3 333.3h0M355.5 381.4h0M326.6 360.6h0M908.0 471.5h0M830.0 389.1h0M841.2 413.7h0M318.2 352.0h0M807.1 401.2h0M691.9 433.4h0M339.3 349.4h0"/><path stroke="#e6612d" d="M198.6 362.8h0M203.1 357.6h0M211.5 353.9h0M697.3 394.2h0M155.7 378.5h0M694.1 399.3h0M714.8 391.0h0M677.8 417.1h0M882.7 305.4h0M702.0 407.3h0M894.3 310.1h0M680.0 399.3h0M698.1 415.0h0M168.6 370.8h0M882.8 275.7h0M910.4 297.0h0M192.3 362.8h0M197.8 369.7h0M828.4 545.5h0M873.3 295.4h0M318.4 544.8h0M196.0 365.9h0"/><path stroke="#e6612d" d="M402.0 273.3h0M194.2 358.5h0M194.5 358.1h0M698.2 411.9h0M678.4 395.6h0M899.5 300.8h0M188.7 370.8h0M687.7 395.5h0M688.4 390.8h0M203.2 355.4h0M187.6 374.0h0M206.0 354.2h0M676.7 380.1h0M407.7 259.4h0M221.5 364.8h0M199.5 349.9h0M396.2 255.7h0M188.6 351.4h0M195.4 352.9h0M402.2 255.7h0M367.9 260.8h0M880.6 253.6h0"/><path stroke="#6a176e" d="M822.3 408.8h0M917.5 504.4h0M292.4 357.8h0M282.9 517.9h0M698.9 451.7h0M766.2 611.9h0M808.9 397.4h0M780.6 521.9h0M400.4 460.4h0M308.2 342.0h0M826.8 366.8h0M156.8 425.4h0M194.2 413.9h0M159.3 374.1h0M288.5 485.0h0M170.3 422.0h0M318.5 368.6h0M342.8 378.5h0M764.4 640.6h0M839.9 361.7h0M831.1 407.5h0M778.0 498.2h0"/><path stroke="#ea6826" d="M710.1 389.8h0M327.3 499.4h0M208.4 364.8h0M338.2 496.3h0M289.1 307.9h0M199.5 362.7h0M695.8 413.6h0M698.1 398.8h0M726.6 395.0h0M679.0 402.8h0M691.4 412.7h0M184.8 353.5h0M178.4 340.6h0M885.3 312.5h0M875.4 270.6h0M196.7 334.8h0M691.4 394.7h0M702.4 414.7h0M704.8 377.3h0M185.7 359.3h0M233.0 399.1h0M197.5 367.8h0"/><path stroke="#932667" d="M307.1 374.6h0M384.2 285.7h0M309.5 390.0h0M796.3 414.3h0M411.2 473.3h0M151.9 420.2h0M803.1 541.6h0M408.1 448.3h0M812.8 389.1h0M424.3 260.1h0M404.2 463.4h0M298.5 336.9h0M380.1 271.4h0M160.1 363.9h0M412.3 450.0h0M727.8 233.7h0M292.3 365.9h0M404.3 323.0h0M289.0 496.8h0M686.9 443.3h0M396.5 450.1h0M319.7 377.0h0"/><path stroke="#721a6d" d="M330.4 356.8h0M853.3 553.3h0M338.4 382.3h0M832.5 368.5h0M344.3 315.0h0M871.3 487.7h0M385.9 432.7h0M263.9 570.4h0M775.8 531.5h0M827.1 367.8h0M845.8 364.4h0M202.6 363.5h0M748.0 529.1h0M332.0 328.4h0M329.2 310.6h0M683.4 423.4h0M305.8 514.9h0M311.1 336.0h0M910.2 321.0h0M363.3 405.9h0M821.0 394.1h0M323.8 334.5h0"/><path stroke="#f37819" d="M820.8 583.1h0M778.9 457.0h0M698.9 408.5h0M830.6 543.5h0M322.9 509.7h0M688.8 395.6h0M827.8 562.7h0M840.3 255.9h0M707.4 404.4h0M194.5 369.4h0M711.7 399.8h0M700.7 406.3h0M834.3 537.0h0M834.0 532.9h0M189.1 370.2h0M716.0 392.6h0M682.9 404.0h0M720.6 406.5h0M849.5 527.7h0M695.7 384.3h0M699.6 374.1h0M699.3 396.0h0"/><path stroke="#7a1d6b" d="M176.0 391.7h0M822.0 415.0h0M327.0 318.7h0M310.9 516.5h0M773.8 605.5h0M837.6 365.0h0M708.6 436.9h0M330.7 320.2h0M707.0 445.1h0M218.2 416.8h0M328.0 326.4h0M179.4 392.4h0M780.7 512.3h0M685.1 447.4h0M256.7 478.2h0M170.6 400.9h0M837.7 416.7h0M824.8 356.3h0M701.1 400.4h0M320.7 330.5h0M767.8 389.8h0M788.5 514.4h0"/><path stroke="#7a1d6b" d="M319.2 301.3h0M168.8 372.0h0M347.6 309.0h0M81.7 327.2h0M194.6 405.6h0M257.9 555.1h0M298.5 344.2h0M826.1 422.7h0M285.5 404.3h0M834.1 361.6h0M300.0 376.6h0M705.4 438.7h0M409.5 448.7h0M825.7 396.8h0M690.6 459.1h0M842.9 410.4h0M327.2 346.8h0M838.7 356.7h0M814.7 360.3h0M199.1 398.7h0M750.1 401.0h0M282.0 271.9h0"/><path stroke="#62146d" d="M843.4 367.6h0M924.9 491.4h0M860.5 362.8h0M819.4 402.9h0M768.2 403.9h0M317.5 315.8h0M310.3 376.2h0M715.8 275.5h0M816.3 410.7h0M310.4 335.7h0M711.0 451.7h0M196.7 350.8h0M418.7 463.7h0M671.9 461.2h0M826.3 355.2h0M814.9 420.2h0M910.0 478.8h0M793.6 532.1h0M326.7 333.7h0M690.7 409.5h0M300.6 354.2h0M839.2 363.4h0"/><path stroke="#8b2368" d="M305.2 355.3h0M273.5 487.9h0M173.0 396.2h0M922.0 291.2h0M883.2 369.9h0M827.2 417.8h0M186.3 403.2h0M375.9 291.9h0M372.2 453.8h0M686.4 428.4h0M181.4 415.1h0M333.8 366.0h0M719.3 448.6h0M682.2 436.2h0M324.8 313.0h0M300.6 360.3h0M406.6 481.9h0M714.3 437.4h0M346.5 507.6h0M815.2 410.9h0M279.9 475.2h0M784.5 532.0h0"/><path stroke="#7a1d6b" d="M218.3 389.0h0M197.3 388.6h0M849.3 415.2h0M331.7 371.9h0M316.8 349.6h0M810.6 417.5h0M817.7 414.0h0M835.9 368.4h0M701.3 423.0h0M807.3 409.6h0M829.5 359.7h0M900.8 476.5h0M199.8 385.0h0M818.4 532.8h0M219.9 404.7h0M404.9 433.1h0M196.7 371.5h0M349.6 394.4h0M365.8 365.8h0M300.0 365.7h0M168.3 427.8h0M715.4 428.8h0"/><path stroke="#7a1d6b" d="M288.6 362.2h0M253.1 481.4h0M326.7 311.5h0M735.0 450.8h0M687.5 431.8h0M211.0 395.5h0M825.8 349.7h0M925.1 478.6h0M792.3 407.3h0M831.4 409.7h0M297.9 341.8h0M332.5 331.2h0M336.5 393.6h0M810.0 394.1h0M800.2 384.8h0M328.1 359.5h0M813.9 354.0h0M171.3 405.6h0M792.3 388.5h0M829.5 379.6h0M758.4 605.3h0M366.1 386.4h0"/><path stroke="#ea6826" d="M192.9 363.3h0M333.4 503.7h0M330.5 489.3h0M676.4 407.3h0M702.5 389.3h0M198.8 346.6h0M911.9 276.7h0M696.0 389.0h0M334.1 494.8h0M194.0 381.3h0M692.2 398.6h0M189.3 357.0h0M195.4 393.4h0M941.3 284.7h0M701.6 393.8h0M422.6 303.3h0M700.3 390.7h0M685.4 418.1h0M185.3 382.4h0M185.8 357.9h0M198.0 353.2h0M177.7 377.2h0"/><path stroke="#c33c4f" d="M886.5 309.7h0M888.7 300.7h0M894.5 305.1h0M818.4 517.8h0M200.7 386.7h0M387.3 246.9h0M889.1 290.4h0M390.5 251.8h0M384.2 264.8h0M386.6 249.6h0M881.2 299.6h0M828.6 526.7h0M885.7 307.6h0M398.6 578.4h0M894.3 294.3h0M889.1 298.7h0M879.6 306.5h0M885.1 311.7h0M326.9 473.8h0M897.8 293.2h0M889.0 229.8h0M824.1 513.5h0"/><path stroke="#8b2368" d="M832.7 526.7h0M344.2 368.4h0M899.8 514.7h0M238.4 386.1h0M917.2 507.7h0M354.2 387.6h0M799.5 385.3h0M831.5 399.4h0M311.1 550.9h0M309.6 384.1h0M307.8 388.7h0M786.4 401.7h0M297.2 386.8h0M312.9 367.3h0M335.7 388.1h0M175.4 406.9h0M353.9 392.2h0M179.1 406.4h0M393.0 627.2h0M842.1 418.8h0M340.5 346.1h0M905.3 281.3h0"/><path stroke="#bc3754" d="M319.2 475.4h0M888.1 302.8h0M824.0 511.1h0M902.2 288.1h0M901.9 299.9h0M824.6 507.9h0M900.4 306.2h0M867.6 292.0h0M322.2 478.9h0M432.5 258.1h0M883.0 293.6h0M894.9 303.8h0M827.2 518.4h0M388.7 253.5h0M889.2 308.4h0M384.9 258.2h0M378.5 279.3h0M889.5 271.0h0M899.4 317.0h0M377.1 288.2h0M395.9 250.4h0M238.7 534.7h0"/><path stroke="#721a6d" d="M842.0 359.4h0M829.4 362.6h0M843.5 361.0h0M266.4 574.0h0M806.7 396.9h0M718.3 427.2h0M817.0 399.6h0M378.0 431.9h0M820.6 371.3h0M406.0 423.1h0M806.2 402.7h0M798.5 366.4h0M207.3 388.7h0M822.9 369.3h0M302.6 337.5h0M818.6 366.5h0M210.5 394.7h0M827.3 347.5h0M247.9 454.4h0M315.0 354.7h0M787.6 514.3h0M830.9 370.7h0"/><path stroke="#932667" d="M296.6 490.2h0M384.3 453.2h0M151.2 416.2h0M283.1 381.0h0M396.6 449.4h0M927.3 493.3h0M375.8 282.0h0M923.2 462.4h0M831.1 403.0h0M810.9 419.8h0M720.7 478.8h0M417.5 425.8h0M825.2 404.5h0M402.8 300.8h0M901.2 481.3h0M817.2 529.2h0M253.8 563.1h0M376.5 294.1h0M188.9 390.4h0M292.2 372.1h0M359.1 471.8h0M282.2 510.6h0"/><path stroke="#ea6826" d="M193.2 351.9h0M677.3 397.6h0M822.4 576.3h0M203.5 344.3h0M197.1 354.6h0M692.9 376.3h0M372.7 224.9h0M192.1 353.9h0M200.4 347.1h0M195.9 356.7h0M319.1 493.5h0M194.1 362.9h0M687.1 393.8h0M890.5 312.2h0M198.4 346.1h0M241.5 445.2h0M207.8 351.0h0M187.5 390.2h0M198.7 354.2h0M703.6 392.1h0M719.4 383.1h0M695.1 400.5h0"/><path stroke="#5a126c" d="M167.6 351.5h0M912.1 385.3h0M319.9 315.2h0M282.8 484.8h0M829.3 359.7h0M213.0 398.8h0M403.6 415.3h0M281.6 413.0h0M316.9 342.5h0M308.3 353.7h0M186.9 366.6h0M840.4 370.4h0M318.5 339.9h0M825.1 356.7h0M834.3 417.3h0M832.7 372.6h0M318.4 321.3h0M831.0 370.1h0M811.9 364.8h0M336.8 321.8h0M841.7 374.0h0M316.3 364.6h0"/><path stroke="#7a1d6b" d="M390.6 467.7h0M831.8 364.7h0M656.8 435.1h0M231.5 396.0h0M840.0 421.3h0M701.9 450.6h0M827.1 412.0h0M819.6 414.1h0M180.9 403.0h0M797.6 404.8h0M313.9 375.2h0M165.3 412.4h0M171.2 374.2h0M286.8 497.0h0M156.7 393.9h0M310.8 333.8h0M334.2 326.6h0M783.5 521.9h0M288.3 357.9h0M332.7 361.8h0M260.5 562.9h0M905.4 478.7h0"/><path stroke="#ea6826" d="M703.0 404.1h0M172.3 360.0h0M189.2 397.2h0M692.1 391.7h0M198.5 369.9h0M890.8 297.4h0M198.7 384.4h0M713.5 396.8h0M193.6 359.7h0M686.1 405.1h0M363.7 258.4h0M692.0 405.5h0M216.1 350.7h0M699.6 399.4h0M690.6 412.1h0M725.5 411.9h0M705.0 376.4h0M196.4 382.2h0M200.9 342.1h0M199.8 357.3h0M900.9 343.2h0M715.0 418.9h0"/><path stroke="#ef7020" d="M393.5 270.7h0M713.8 411.7h0M196.8 345.4h0M691.8 391.1h0M839.1 531.3h0M701.1 415.6h0M704.5 418.3h0M834.0 554.7h0M824.9 563.5h0M199.6 343.7h0M379.2 223.7h0M693.5 391.2h0M198.4 369.6h0M186.4 366.9h0M834.5 537.6h0M389.7 246.8h0M315.4 538.5h0M200.8 372.2h0M667.3 401.3h0M826.5 563.0h0M702.7 402.3h0M195.2 366.5h0"/><path stroke="#c33c4f" d="M204.7 351.1h0M901.5 305.3h0M831.4 509.1h0M388.8 262.7h0M896.1 305.8h0M895.6 306.3h0M898.3 295.1h0M890.6 288.0h0M884.2 298.7h0M819.8 504.2h0M884.6 299.9h0M897.6 315.1h0M888.7 300.6h0M373.3 276.9h0M367.6 269.4h0M897.0 314.7h0M884.7 311.3h0M718.9 432.4h0M382.7 277.0h0M820.9 517.7h0M384.3 258.1h0M377.9 263.8h0"/><path stroke="#ef7020" d="M697.9 377.3h0M198.4 365.6h0M308.5 560.6h0M673.4 390.6h0M692.1 391.5h0M190.8 350.4h0M181.8 395.6h0M194.0 356.4h0M726.1 383.1h0M687.9 386.2h0M702.0 398.7h0M177.7 357.0h0M335.4 513.9h0M343.4 504.0h0M273.3 296.3h0M194.0 366.2h0M697.3 388.4h0M676.0 400.9h0M690.8 413.7h0M698.2 396.5h0M689.7 393.0h0M205.5 345.3h0"/><path stroke="#d04744" d="M197.9 376.7h0M882.8 302.1h0M385.2 270.8h0M397.9 247.0h0M383.4 265.8h0M397.2 243.5h0M383.6 241.4h0M396.7 237.2h0M705.3 453.0h0M381.0 281.0h0M679.7 398.7h0M252.8 394.9h0M383.1 264.0h0M890.7 316.6h0M409.2 232.9h0M383.1 254.8h0M895.0 303.8h0M389.8 267.1h0M382.9 263.0h0M832.2 545.8h0M182.4 411.1h0M894.7 305.2h0"/><path stroke="#bc3754" d="M893.9 300.5h0M181.6 370.3h0M903.3 317.9h0M206.3 397.9h0M885.6 260.1h0M832.0 517.1h0M900.0 305.3h0M384.4 262.8h0M386.2 278.5h0M828.4 525.8h0M196.6 381.4h0M385.8 277.1h0M889.4 298.0h0M896.6 304.8h0M377.0 264.6h0M185.3 394.9h0M896.4 302.5h0M903.6 304.1h0M380.1 280.7h0M897.2 302.5h0M711.1 463.6h0M898.3 311.4h0"/><path stroke="#520f6a" d="M340.0 321.4h0M345.1 355.6h0M788.6 400.6h0M774.1 531.7h0M817.8 360.3h0M792.2 387.6h0M807.6 370.7h0M259.3 505.5h0M776.0 532.5h0M813.9 387.1h0M734.1 397.1h0M846.0 436.9h0M682.2 440.1h0M846.1 557.5h0M690.0 451.4h0M291.9 357.1h0M708.3 428.6h0M846.4 353.4h0M917.8 414.5h0M715.0 447.0h0M827.0 374.6h0M323.1 366.1h0"/><path stroke="#d64c3f" d="M199.7 377.9h0M192.2 389.8h0M395.2 254.5h0M381.3 265.5h0M879.2 293.7h0M883.0 315.5h0M203.6 354.7h0M194.5 368.4h0M392.1 241.5h0M353.3 261.3h0M714.9 449.5h0M883.2 311.6h0M873.4 311.8h0M928.4 280.2h0M706.9 408.9h0M897.8 301.5h0M709.7 411.7h0M897.2 303.8h0M390.5 256.0h0M696.2 395.8h0M833.6 524.0h0M888.6 319.6h0"/><path stroke="#f37819" d="M680.7 409.3h0M681.5 392.6h0M693.5 394.6h0M903.5 283.1h0M318.0 554.8h0M193.3 375.3h0M329.3 514.4h0M830.1 561.4h0M282.1 311.8h0M204.8 391.4h0M694.5 379.6h0M693.1 400.5h0M685.2 402.0h0M689.5 398.5h0M712.0 385.9h0M911.5 281.2h0M830.9 552.2h0M828.0 555.3h0M193.6 365.4h0M208.4 352.3h0M846.3 551.7h0M670.0 413.0h0"/><path stroke="#520f6a" d="M912.0 487.3h0M811.1 408.0h0M325.5 326.0h0M711.5 472.5h0M312.5 335.7h0M330.4 381.8h0M862.0 407.1h0M294.8 401.2h0M334.2 338.0h0M817.5 387.6h0M310.7 343.0h0M725.3 459.1h0M327.6 356.2h0M302.9 356.0h0M826.7 355.0h0M679.7 419.8h0M307.4 345.5h0M832.2 355.5h0M326.8 360.9h0M886.3 387.5h0M160.1 362.0h0M824.8 547.5h0"/><path stroke="#6a176e" d="M323.9 319.3h0M843.3 352.9h0M175.2 335.3h0M391.9 459.6h0M175.3 439.7h0M796.3 394.8h0M189.7 398.4h0M264.1 485.8h0M158.6 375.0h0M316.0 403.2h0M334.8 313.0h0M328.3 306.5h0M290.9 384.3h0M410.2 433.6h0M325.0 364.7h0M191.7 427.9h0M742.3 418.7h0M814.7 359.9h0M808.5 390.6h0M326.6 343.4h0M836.2 367.0h0M283.7 480.2h0"/><path stroke="#721a6d" d="M830.4 354.0h0M818.7 365.4h0M834.6 352.1h0M837.9 358.2h0M810.4 412.0h0M655.4 439.5h0M822.4 356.4h0M314.1 368.2h0M811.2 413.2h0M808.7 360.9h0M825.5 432.3h0M320.9 363.1h0M273.5 520.7h0M279.3 369.6h0M318.8 346.9h0M857.8 430.3h0M891.2 479.2h0M712.4 444.9h0M325.4 302.5h0M402.5 437.2h0M308.7 348.5h0M317.3 372.3h0"/><path stroke="#f58116" d="M700.0 384.5h0M929.6 260.1h0M706.5 398.2h0M198.6 355.0h0M328.7 496.2h0M329.5 496.0h0M782.6 356.3h0M699.6 385.4h0M678.5 384.6h0M191.2 349.8h0M721.0 384.3h0M331.5 511.3h0M332.6 503.4h0M846.6 536.9h0M685.6 389.2h0M698.5 398.7h0M706.0 399.8h0M714.8 405.9h0M699.5 378.7h0M695.1 380.4h0M687.7 418.4h0M242.8 457.1h0"/><path stroke="#d04744" d="M186.4 385.0h0M376.0 276.8h0M380.5 270.5h0M409.4 265.7h0M197.6 368.4h0M323.1 477.8h0M894.4 284.7h0M352.0 271.5h0M705.4 384.8h0M886.1 307.6h0M189.6 375.7h0M891.7 310.7h0M676.6 384.4h0M892.4 306.1h0M183.0 373.1h0M911.0 251.1h0M886.0 296.8h0M381.2 264.8h0M363.6 228.5h0M887.6 305.7h0M904.8 305.8h0M386.7 252.8h0"/><path stroke="#e6612d" d="M188.9 341.4h0M883.5 312.6h0M197.6 375.9h0M689.3 395.9h0M674.6 387.0h0M175.9 381.6h0M701.9 417.8h0M705.5 396.7h0M192.3 374.7h0M892.4 275.6h0M679.4 391.8h0M690.8 395.5h0M206.5 354.7h0M334.3 486.8h0M690.0 425.9h0M194.8 355.5h0M186.2 370.2h0M654.5 391.8h0M707.8 420.6h0M704.4 384.4h0M392.1 246.8h0M178.6 360.7h0"/><path stroke="#ea6826" d="M200.0 345.8h0M699.1 404.4h0M191.8 365.7h0M200.3 352.0h0M709.6 390.2h0M708.4 415.9h0M178.6 375.4h0M841.6 548.4h0M700.2 422.4h0M190.1 350.9h0M222.4 417.1h0M696.3 416.3h0M686.1 422.5h0M285.0 330.4h0M188.2 356.4h0M852.6 537.5h0M378.3 272.7h0M694.1 453.8h0M696.5 386.6h0M772.9 456.6h0M728.6 421.9h0M173.3 374.0h0"/><path stroke="#ef7020" d="M689.5 408.7h0M198.2 356.2h0M195.7 362.9h0M189.8 361.1h0M190.9 367.8h0M195.0 366.7h0M385.6 262.5h0M205.3 360.7h0M204.5 343.2h0M821.2 534.4h0M683.7 377.1h0M211.2 361.8h0M840.4 553.8h0M823.3 575.0h0M199.0 374.5h0M155.0 367.3h0M193.5 362.8h0M687.9 410.6h0M698.6 418.1h0M717.2 395.9h0M332.1 496.7h0M193.6 362.2h0"/><path stroke="#8b2368" d="M396.7 472.4h0M829.3 404.5h0M636.7 409.8h0M328.1 392.6h0M165.1 414.4h0M802.7 389.5h0M815.0 363.5h0M346.7 388.8h0M779.7 539.5h0M612.9 306.2h0M394.6 492.5h0M242.5 389.6h0M354.7 414.0h0M772.5 628.5h0M320.7 305.1h0M287.4 352.8h0M828.5 511.9h0M822.8 571.0h0M666.7 422.5h0M346.3 401.3h0M382.9 293.6h0M171.3 414.8h0"/><path stroke="#a32d5f" d="M889.8 294.1h0M368.8 234.3h0M824.7 517.0h0M377.7 286.3h0M372.6 293.3h0M834.4 410.4h0M378.0 266.4h0M850.3 607.0h0M285.0 440.5h0M383.3 269.5h0M895.8 297.1h0M901.3 307.1h0M367.0 286.3h0M417.5 467.3h0M231.8 391.1h0M227.9 384.9h0M928.1 471.4h0M696.2 398.8h0M401.1 437.5h0M345.4 294.1h0M380.0 274.3h0M896.2 292.4h0"/><path stroke="#83206a" d="M336.9 311.8h0M327.5 408.1h0M185.5 390.5h0M766.9 391.8h0M849.7 481.6h0M397.2 445.7h0M847.7 408.2h0M805.9 419.6h0M907.9 488.2h0M937.9 445.3h0M270.1 522.2h0M400.6 471.9h0M910.2 488.2h0M400.3 408.9h0M879.8 489.6h0M203.7 399.7h0M744.5 444.2h0M265.5 500.8h0M182.1 393.3h0M826.2 363.8h0M827.4 387.2h0M216.9 377.2h0"/><path stroke="#5a126c" d="M931.9 485.1h0M778.0 378.4h0M844.5 414.2h0M336.6 321.1h0M342.9 398.5h0M828.0 384.1h0M339.3 316.9h0M821.5 364.8h0M323.9 323.3h0M250.6 184.8h0M709.9 367.3h0M809.3 352.6h0M838.5 366.4h0M840.2 357.3h0M929.6 503.5h0M327.3 334.6h0M817.6 391.4h0M924.9 490.1h0M790.6 348.2h0M187.4 442.3h0M305.4 374.0h0M710.4 402.0h0"/><path stroke="#9b2963" d="M679.0 447.4h0M163.6 430.9h0M881.4 302.5h0M796.9 421.0h0M912.2 299.3h0M928.4 224.6h0M230.0 389.3h0M219.3 408.8h0M892.6 293.6h0M238.7 218.8h0M871.3 425.1h0M839.9 520.1h0M827.5 516.3h0M801.9 406.2h0M376.4 283.3h0M305.9 410.0h0M876.2 481.3h0M379.4 285.1h0M797.3 399.3h0M909.2 492.4h0M297.0 359.0h0M827.0 503.8h0"/><path stroke="#4a0d69" d="M726.6 424.2h0M824.2 356.6h0M176.8 400.5h0M737.9 456.3h0M214.0 394.1h0M803.3 531.9h0M698.1 427.2h0M821.2 406.9h0M349.7 390.4h0M836.2 371.4h0M344.3 400.1h0M808.4 375.7h0M843.8 411.5h0M339.3 338.4h0M692.9 455.4h0M811.9 403.0h0M817.0 410.5h0M340.0 369.4h0M299.2 504.9h0M324.3 381.9h0M160.6 380.7h0M701.9 435.7h0"/><path stroke="#721a6d" d="M182.7 368.7h0M921.0 514.5h0M824.5 358.7h0M814.2 386.6h0M782.8 533.9h0M651.3 416.9h0M315.7 389.5h0M305.7 330.9h0M813.3 405.0h0M791.4 396.3h0M314.6 336.9h0M833.0 373.8h0M831.6 359.9h0M932.6 471.3h0M837.9 361.4h0M319.7 339.6h0M313.3 347.4h0M323.5 346.7h0M781.2 512.3h0M816.2 401.5h0M251.4 581.1h0M922.8 490.7h0"/><path stroke="#6a176e" d="M346.0 322.5h0M189.9 417.3h0M831.8 359.1h0M707.4 427.9h0M830.4 362.0h0M806.7 407.7h0M825.3 372.6h0M313.4 349.9h0M323.0 333.5h0M411.0 460.6h0M316.6 384.6h0M840.2 359.4h0M816.5 403.0h0M682.6 450.4h0M331.8 316.9h0M331.2 405.5h0M155.4 374.1h0M717.9 441.1h0M825.6 356.8h0M406.3 455.7h0M398.7 460.6h0M839.4 364.7h0"/><path stroke="#f37819" d="M191.0 352.8h0M676.1 402.6h0M690.8 401.9h0M409.1 279.0h0M188.9 350.0h0M174.5 378.6h0M829.1 563.0h0M716.1 406.6h0M186.9 355.3h0M685.3 407.6h0M707.9 398.2h0M326.0 529.4h0M181.3 366.9h0M821.4 588.1h0M831.5 544.7h0M196.9 380.0h0M683.6 400.1h0M312.5 557.8h0M196.1 359.8h0M691.2 412.5h0M678.7 385.9h0M174.4 344.5h0"/><path stroke="#ac305c" d="M378.1 287.1h0M901.4 291.2h0M383.7 274.8h0M896.4 299.7h0M391.5 333.3h0M781.5 421.3h0M897.2 303.4h0M379.0 269.8h0M922.6 289.5h0M370.0 285.5h0M244.7 403.5h0M377.1 272.0h0M383.4 282.7h0M371.1 459.1h0M369.4 275.0h0M887.1 299.4h0M401.7 296.2h0M730.6 425.6h0M909.0 310.7h0M392.9 247.6h0M863.5 387.1h0M383.7 279.0h0"/><path stroke="#721a6d" d="M303.8 521.5h0M329.9 325.8h0M697.3 441.9h0M694.3 468.3h0M196.0 439.6h0M810.5 416.2h0M822.9 418.4h0M846.4 395.5h0M336.6 313.1h0M822.7 411.7h0M810.2 420.3h0M842.2 567.3h0M337.1 315.0h0M322.9 382.8h0M277.8 423.9h0M775.7 595.6h0M254.7 580.6h0M322.1 382.2h0M818.0 408.0h0M692.5 433.7h0M215.9 398.9h0M831.1 410.1h0"/><path stroke="#520f6a" d="M816.9 413.5h0M691.4 437.2h0M912.3 477.5h0M753.0 394.5h0M307.6 345.5h0M354.1 403.2h0M196.8 363.6h0M802.6 362.6h0M313.4 334.2h0M785.9 513.8h0M805.8 397.8h0M322.4 319.6h0M826.2 360.7h0M192.5 412.9h0M781.5 417.5h0M838.8 399.5h0M724.9 463.7h0M164.6 381.1h0M726.5 428.3h0M812.8 546.0h0M720.9 423.5h0M754.5 603.8h0"/><path stroke="#62146d" d="M252.1 518.4h0M327.0 319.3h0M691.3 433.6h0M868.2 484.2h0M825.3 369.8h0M894.3 492.8h0M794.3 392.8h0M331.4 308.5h0M699.4 443.1h0M809.7 362.5h0M303.7 362.4h0M340.7 322.7h0M701.2 413.4h0M833.8 365.3h0M267.4 512.4h0M327.6 321.1h0M288.4 491.2h0M339.5 316.0h0M686.7 427.6h0M161.8 395.8h0M789.9 403.6h0M334.0 322.4h0"/><path stroke="#ea6826" d="M194.2 369.9h0M211.1 352.9h0M207.2 349.0h0M693.0 388.9h0M677.7 399.6h0M205.4 351.5h0M386.6 293.7h0M199.0 370.2h0M836.3 541.1h0M678.0 383.9h0M699.0 392.8h0M706.3 397.9h0M920.8 275.2h0M712.9 391.3h0M683.6 403.2h0M198.7 356.6h0M202.3 357.6h0M708.9 392.6h0M688.0 397.5h0M698.7 425.0h0M312.6 550.6h0M321.4 481.7h0"/><path stroke="#e6612d" d="M681.8 391.1h0M686.4 397.3h0M389.8 259.2h0M672.9 392.2h0M202.4 354.8h0M681.4 405.6h0M313.5 555.4h0M195.7 364.8h0M852.0 541.6h0M199.6 352.2h0M830.5 549.1h0M691.4 383.9h0M186.7 360.5h0M837.0 556.2h0M194.6 367.1h0M692.7 393.6h0M364.6 392.2h0M219.6 385.8h0M200.4 356.2h0M413.7 259.1h0M182.3 360.8h0M209.3 340.2h0"/><path stroke="#fa9c0d" d="M326.0 532.2h0M832.1 565.8h0M835.5 545.5h0M701.7 384.0h0M690.1 395.4h0M834.9 539.2h0M310.8 539.6h0M698.9 407.7h0M829.2 537.7h0M762.2 469.4h0M824.2 551.6h0M190.0 378.3h0M692.3 380.9h0M327.5 526.5h0M838.7 553.3h0M334.4 519.2h0M717.1 404.9h0M310.6 551.1h0M192.1 347.9h0M918.0 305.1h0M315.3 544.7h0M220.3 351.0h0"/><path stroke="#dd513a" d="M315.1 478.9h0M197.7 390.4h0M173.5 357.2h0M915.0 275.7h0M193.5 361.6h0M374.6 266.3h0M695.0 401.6h0M892.0 294.5h0M745.6 291.6h0M386.1 263.1h0M901.8 289.6h0M171.1 376.7h0M715.7 406.6h0M384.2 269.8h0M708.8 398.9h0M715.2 429.0h0M852.5 534.6h0M890.5 305.9h0M190.7 350.8h0M693.9 387.1h0M874.1 304.9h0M187.2 369.7h0"/><path stroke="#fa9c0d" d="M196.2 339.6h0M696.3 443.9h0M682.2 430.4h0M835.2 564.0h0M205.2 346.9h0M212.1 349.9h0M685.9 407.8h0M827.6 555.8h0M715.8 426.9h0M691.1 386.9h0M335.7 516.2h0M680.9 381.5h0M330.0 491.0h0M233.4 415.5h0M330.4 508.8h0M332.3 514.2h0M699.0 417.1h0M336.5 508.1h0M316.2 535.8h0M879.8 287.6h0M318.6 529.1h0M336.0 504.3h0"/><path stroke="#f37819" d="M331.1 499.8h0M828.4 571.0h0M685.6 398.8h0M187.9 373.0h0M196.4 352.0h0M722.8 427.9h0M692.8 392.4h0M703.6 398.9h0M694.4 412.1h0M836.8 543.1h0M843.2 543.1h0M183.2 357.8h0M337.2 501.7h0M403.0 248.4h0M693.9 410.2h0M187.3 351.3h0M325.4 499.3h0M703.8 404.7h0M194.2 333.0h0M277.3 315.1h0M703.1 397.7h0M698.6 392.0h0"/><path stroke="#c9414a" d="M384.8 263.2h0M905.8 303.1h0M830.3 527.4h0M382.6 278.1h0M379.6 276.8h0M900.5 300.2h0M825.2 513.3h0M827.8 518.1h0M899.8 312.6h0M905.7 297.5h0M702.6 417.4h0M394.1 265.3h0M399.1 239.6h0M902.1 304.8h0M379.9 269.3h0M384.3 265.8h0M378.0 276.6h0M697.4 393.1h0M890.3 304.9h0M193.9 350.4h0M689.9 427.0h0M394.5 265.8h0"/><path stroke="#ac305c" d="M897.7 304.2h0M365.3 287.4h0M894.0 302.4h0M215.7 400.6h0M277.3 475.1h0M384.1 281.0h0M798.9 403.9h0M317.0 476.0h0M829.3 523.4h0M369.2 269.1h0M368.2 307.3h0M369.9 292.0h0M202.5 379.2h0M427.8 267.0h0M902.5 311.6h0M384.9 278.6h0M381.1 280.4h0M898.4 306.5h0M383.7 259.9h0M911.8 301.8h0M388.7 273.5h0M891.5 296.1h0"/><path stroke="#e6612d" d="M185.2 369.0h0M174.0 381.8h0M405.1 271.1h0M392.0 235.1h0M692.7 420.9h0M686.5 413.7h0M183.1 372.1h0M699.9 393.5h0M713.5 430.1h0M192.2 380.6h0M185.7 370.5h0M210.5 343.5h0M736.9 436.7h0M189.8 360.7h0M785.9 353.9h0M696.0 379.3h0M816.2 577.1h0M385.4 253.8h0M201.3 349.2h0M196.4 368.8h0M187.3 363.9h0M691.8 371.2h0"/><path stroke="#62146d" d="M815.2 394.4h0M838.5 391.5h0M718.1 437.7h0M165.2 388.9h0M175.3 383.7h0M359.4 390.8h0M335.8 393.4h0M830.2 394.7h0M391.1 363.3h0M693.3 426.4h0M797.8 428.5h0M320.4 346.3h0M781.5 594.7h0M843.3 406.5h0M331.9 371.4h0M325.1 369.0h0M288.2 471.9h0M314.2 334.7h0M327.0 323.5h0M317.5 339.6h0M824.6 366.4h0M827.2 358.2h0"/><path stroke="#721a6d" d="M281.1 374.9h0M802.7 527.0h0M777.7 508.2h0M834.6 356.5h0M320.0 529.5h0M906.3 481.7h0M372.9 437.6h0M162.0 392.9h0M791.2 530.0h0M328.9 319.4h0M311.1 344.4h0M323.2 363.9h0M330.2 380.0h0M311.5 344.9h0M815.1 359.1h0M324.0 344.9h0M828.8 368.6h0M149.3 380.2h0M815.9 407.9h0M275.9 497.8h0M210.8 391.8h0M315.9 344.1h0"/><path stroke="#7a1d6b" d="M698.4 422.3h0M331.7 355.4h0M283.8 634.3h0M732.9 438.5h0M191.1 415.9h0M279.9 375.1h0M763.7 406.4h0M829.3 368.0h0M907.2 500.1h0M172.2 435.6h0M707.4 443.0h0M767.2 398.7h0M764.0 606.5h0M392.3 484.0h0M838.8 365.5h0M815.5 393.4h0M270.8 392.3h0M834.7 352.6h0M780.1 522.6h0M315.5 553.6h0M755.2 372.4h0M308.3 350.2h0"/><path stroke="#7a1d6b" d="M179.0 436.2h0M313.1 405.6h0M325.6 325.1h0M599.4 277.4h0M191.0 416.0h0M330.0 323.9h0M662.8 411.4h0M708.6 437.7h0M394.3 362.8h0M920.5 518.5h0M842.2 368.4h0M337.0 372.6h0M318.5 347.7h0M764.7 534.9h0M313.8 349.8h0M272.0 501.9h0M354.8 410.9h0M769.3 534.1h0M299.3 515.7h0M894.2 510.6h0M366.6 446.3h0M265.7 563.9h0"/><path stroke="#e15933" d="M707.6 401.9h0M714.6 412.6h0M201.7 361.5h0M382.9 264.4h0M699.0 404.5h0M892.4 292.4h0M900.8 298.4h0M693.4 391.9h0M188.0 351.7h0M181.0 376.4h0M390.2 358.9h0M388.3 249.2h0M703.6 409.4h0M190.9 369.7h0M375.0 243.8h0M938.7 314.9h0M195.6 362.1h0M393.7 249.3h0M712.2 388.5h0M320.2 488.4h0M183.5 344.9h0M206.6 348.9h0"/><path stroke="#f58116" d="M706.4 384.3h0M206.3 358.0h0M688.8 384.3h0M844.8 540.7h0M842.6 539.8h0M702.7 418.6h0M913.7 302.5h0M693.7 391.2h0M188.8 359.4h0M199.0 344.0h0M361.4 239.0h0M826.4 550.0h0M331.8 496.9h0M693.0 393.6h0M851.9 537.2h0M175.1 393.7h0M310.8 541.8h0M699.4 398.1h0M700.0 399.2h0M184.5 359.2h0M693.8 404.2h0M677.1 385.1h0"/><path stroke="#ef7020" d="M308.4 544.4h0M205.3 355.8h0M721.4 388.3h0M189.0 365.3h0M702.3 395.3h0M678.3 403.9h0M200.2 359.4h0M845.9 534.5h0M697.9 403.8h0M703.5 435.1h0M700.2 399.7h0M707.0 405.1h0M707.1 403.4h0M200.8 353.7h0M689.0 383.9h0M172.8 362.7h0"/><path stroke="#f78a13" d="M670.6 411.5h0M204.8 350.1h0M713.8 388.4h0M696.7 398.7h0M212.3 359.6h0M815.9 581.7h0M696.7 391.1h0M702.7 410.1h0M711.8 406.6h0M838.5 544.7h0M764.0 454.9h0M331.9 501.0h0M689.5 415.3h0M821.1 579.9h0M693.7 402.3h0M334.3 510.2h0M689.5 397.6h0M325.8 539.7h0M188.9 359.9h0M334.8 521.0h0M893.8 257.3h0M307.7 541.9h0"/><path stroke="#d04744" d="M900.1 292.1h0M898.3 300.0h0M908.8 307.6h0M821.7 518.9h0M834.2 522.3h0M209.5 354.9h0M182.1 368.4h0M377.2 258.3h0M894.1 296.9h0M875.3 297.0h0M385.8 264.8h0M896.7 296.1h0M170.6 370.2h0M900.7 303.9h0M159.2 390.5h0M895.9 304.2h0M886.5 302.8h0M887.6 306.2h0M921.7 296.5h0M897.8 303.0h0M380.9 248.2h0M206.9 366.5h0"/><path stroke="#7a1d6b" d="M686.8 429.3h0M268.9 541.8h0M854.9 417.3h0M837.1 368.9h0M700.7 429.6h0M827.5 369.7h0M285.7 368.2h0M281.9 361.1h0M772.0 517.9h0M318.9 334.3h0M765.5 513.5h0M319.3 328.4h0M316.4 394.7h0M302.6 372.8h0M774.2 533.8h0M273.0 357.3h0M319.1 533.9h0M189.8 403.2h0M330.5 308.7h0M301.0 360.1h0M314.7 336.8h0M705.7 457.0h0"/><path stroke="#721a6d" d="M701.8 415.0h0M831.9 362.8h0M328.6 354.8h0M194.0 423.3h0M763.9 618.1h0M680.0 431.2h0M845.1 361.5h0M836.7 507.2h0M867.8 420.4h0M329.6 329.4h0M325.0 324.2h0M836.5 364.5h0M174.3 392.3h0M317.1 369.7h0M156.5 435.1h0M884.3 309.4h0M297.8 368.2h0M326.3 387.6h0M319.6 385.0h0M299.1 369.5h0M257.7 502.8h0M779.2 524.2h0"/><path stroke="#ea6826" d="M334.6 503.0h0M813.2 573.3h0M319.3 490.3h0M693.7 405.0h0M317.8 530.6h0M194.9 392.3h0M202.1 354.7h0M672.0 408.2h0M321.5 549.7h0M687.7 399.0h0M184.5 355.5h0M178.9 360.5h0M683.9 399.0h0M385.7 250.8h0M372.3 265.7h0M848.7 548.3h0M182.2 377.4h0M689.1 396.4h0M682.5 393.8h0M242.5 449.2h0M703.4 392.0h0M703.7 406.2h0"/><path stroke="#721a6d" d="M275.1 572.0h0M312.0 342.1h0M359.6 394.6h0M169.8 359.9h0M408.4 456.5h0M177.5 402.6h0M817.2 369.4h0M264.8 558.0h0M916.9 465.2h0M839.4 491.4h0M836.7 359.2h0M175.7 382.0h0M326.7 347.3h0M825.0 365.0h0M189.2 345.2h0M407.2 451.7h0M314.2 398.8h0M686.8 448.8h0M308.8 338.6h0M158.9 429.4h0M179.2 421.2h0M697.1 453.3h0"/><path stroke="#83206a" d="M876.2 582.8h0M411.4 466.5h0M278.6 497.8h0M218.1 446.7h0M829.8 387.1h0M846.1 412.6h0M921.8 512.3h0M736.0 462.3h0M899.2 499.5h0M307.9 366.6h0M349.9 396.5h0M902.9 488.1h0M783.4 524.1h0M330.1 366.1h0M180.3 386.4h0M325.6 317.5h0M839.1 368.9h0M160.2 404.4h0M831.1 362.3h0M832.2 405.3h0M815.8 447.2h0M781.2 392.1h0"/><path stroke="#dd513a" d="M377.8 257.9h0M202.6 383.0h0M693.7 409.1h0M178.6 337.9h0M202.4 358.8h0M885.1 308.5h0M201.9 343.2h0M189.1 365.0h0M327.2 488.9h0M914.2 300.5h0M385.8 249.8h0M888.2 296.9h0M694.7 398.3h0M196.5 349.1h0M883.8 300.6h0M191.8 371.1h0M929.6 293.2h0M184.2 390.2h0M395.2 245.5h0M704.3 410.6h0M871.0 305.0h0M195.4 348.5h0"/><path stroke="#4a0d69" d="M922.4 485.2h0M293.8 377.6h0M738.9 366.3h0M755.4 275.4h0M849.6 408.3h0M683.2 380.1h0M844.9 416.0h0M269.0 310.9h0M795.7 343.1h0M222.6 395.7h0M377.4 405.0h0M352.0 391.1h0M347.7 398.4h0M192.5 400.2h0M167.8 423.1h0M348.4 390.5h0M777.0 376.7h0M269.5 580.5h0M857.2 539.2h0M811.1 362.5h0M400.6 459.2h0M197.8 387.0h0"/><path stroke="#f78a13" d="M313.8 546.4h0M845.8 548.4h0M333.1 507.2h0M194.9 347.3h0M695.8 403.3h0M245.2 469.4h0M247.5 454.6h0M326.2 485.5h0M837.9 546.4h0M205.3 341.9h0M338.1 520.2h0M341.9 511.5h0M683.0 409.3h0M685.6 396.6h0M695.1 406.7h0M317.0 526.8h0M821.6 572.5h0M708.1 390.3h0M310.3 554.9h0M319.2 516.4h0M323.2 549.8h0M324.3 511.4h0"/><path stroke="#bc3754" d="M378.3 279.4h0M906.8 305.7h0M894.7 301.9h0M888.8 302.7h0M882.5 298.3h0M881.7 300.4h0M401.8 248.9h0M907.2 292.7h0M218.4 481.0h0M387.5 267.8h0M385.2 254.8h0M221.5 390.8h0M319.2 479.4h0M823.0 511.6h0M926.7 253.7h0M824.5 526.9h0M876.1 313.2h0M380.6 273.9h0M387.3 231.9h0M825.8 520.1h0M383.4 287.9h0M887.7 298.5h0"/><path stroke="#6a176e" d="M358.5 395.0h0M808.6 408.3h0M695.3 453.2h0M809.3 392.4h0M323.4 301.4h0M199.3 403.1h0M819.8 395.9h0M314.7 320.2h0M305.9 392.0h0M326.8 309.2h0M708.5 465.9h0M312.0 344.1h0M279.2 507.0h0M210.5 413.2h0M682.3 455.9h0M171.9 399.6h0M780.1 521.1h0M832.5 361.9h0M324.5 328.3h0M832.3 382.2h0M839.2 358.5h0M328.6 419.9h0"/><path stroke="#bc3754" d="M180.4 374.6h0M377.5 264.7h0M819.7 519.4h0M819.3 517.0h0M381.9 265.6h0M894.4 300.5h0M384.6 269.7h0M376.6 278.2h0M369.4 268.1h0M385.2 274.8h0M837.1 513.4h0M388.0 258.3h0M703.0 420.2h0M383.8 251.1h0M899.7 309.9h0M888.1 308.2h0M374.7 288.1h0M903.7 284.5h0M891.7 295.6h0M402.4 250.5h0M888.9 308.8h0M901.4 294.2h0"/><path stroke="#ea6826" d="M376.8 236.5h0M198.7 360.9h0M701.0 386.9h0M180.7 360.9h0M199.0 380.3h0M820.8 577.0h0M888.2 282.7h0M698.1 387.9h0M681.8 418.6h0M887.0 299.3h0M694.3 383.9h0M187.6 361.4h0M708.9 371.0h0M192.4 336.6h0M842.2 549.6h0M195.0 354.0h0M202.0 355.6h0M847.1 557.7h0M697.9 411.1h0M693.5 401.4h0M681.4 409.7h0M187.7 382.3h0"/><path stroke="#721a6d" d="M185.2 433.3h0M313.7 360.6h0M693.6 441.8h0M784.4 393.9h0M280.3 501.7h0M861.5 523.4h0M358.3 371.2h0M301.8 363.7h0M347.8 377.4h0M812.9 408.4h0M826.9 399.7h0M311.5 339.8h0M777.7 428.9h0M918.7 449.3h0M192.3 374.8h0M382.6 282.2h0M868.6 424.4h0M825.8 394.8h0M316.1 312.1h0M326.5 310.6h0M227.6 397.7h0M320.3 327.9h0"/><path stroke="#62146d" d="M807.9 384.6h0M736.4 431.6h0M319.1 326.3h0M830.1 358.8h0M819.1 417.7h0M821.1 366.1h0M414.1 461.3h0M821.8 356.9h0M335.6 310.6h0M654.7 436.2h0M844.2 358.0h0M780.6 517.9h0M330.0 380.1h0M827.0 354.9h0M333.1 307.2h0M367.4 387.4h0M897.5 471.6h0M326.7 322.9h0M820.9 400.3h0M813.4 395.6h0M322.9 320.6h0M839.1 371.2h0"/><path stroke="#83206a" d="M831.0 399.2h0M775.4 392.7h0M169.7 405.9h0M680.8 414.9h0M792.9 404.6h0M833.5 402.7h0M822.3 405.8h0M824.9 534.5h0M309.3 377.7h0M803.4 430.0h0M832.9 375.6h0M827.0 389.3h0M158.2 355.9h0M296.4 351.3h0M295.4 383.6h0M315.2 341.7h0M350.0 370.3h0M796.8 401.9h0M798.0 386.0h0M716.4 412.2h0M258.8 563.7h0M816.8 404.1h0"/><path stroke="#62146d" d="M319.6 381.2h0M853.4 393.2h0M732.1 448.5h0M190.3 371.1h0M335.8 303.9h0M312.8 347.3h0M819.8 356.8h0M322.9 313.4h0M682.8 454.2h0M794.4 398.5h0M850.1 401.1h0M796.1 396.9h0M343.2 383.4h0M334.3 315.0h0M810.5 393.0h0M309.1 355.2h0M821.1 358.6h0M405.9 340.1h0M322.5 335.1h0M821.2 388.6h0M826.0 356.3h0M333.6 317.8h0"/><path stroke="#e15933" d="M686.3 392.1h0M286.9 330.9h0M688.0 421.2h0M691.7 393.0h0M684.8 411.0h0M682.9 394.4h0M693.7 397.9h0M206.0 364.2h0M207.7 374.1h0M194.9 357.5h0M195.2 387.4h0M327.6 481.3h0M333.1 488.9h0M703.8 408.7h0M200.4 345.0h0M896.1 301.0h0M191.7 372.6h0M320.9 477.5h0M368.7 234.7h0M201.1 354.7h0M915.8 296.0h0M691.0 408.0h0"/><path stroke="#ea6826" d="M710.8 406.3h0M885.8 281.8h0M203.1 358.8h0M205.8 340.0h0M872.8 274.8h0M683.6 412.1h0M695.8 420.7h0M671.5 416.4h0M701.0 410.8h0M193.6 369.6h0M715.2 382.4h0M190.1 383.8h0M323.1 535.3h0M713.2 400.2h0M211.1 398.7h0M319.6 545.1h0M192.0 348.9h0M240.5 452.5h0M705.3 416.8h0M826.4 580.3h0M912.2 299.0h0M705.4 414.3h0"/><path stroke="#5a126c" d="M187.6 409.4h0M311.1 332.9h0M733.9 384.8h0M807.8 360.7h0M846.6 355.9h0M319.4 382.8h0M852.6 363.9h0M822.7 398.0h0M334.3 310.9h0M822.3 369.2h0M281.4 390.0h0M168.0 415.8h0M821.6 405.8h0M181.5 381.2h0M323.4 330.8h0M816.7 363.8h0M816.9 376.7h0M860.6 365.2h0M362.4 360.7h0M828.3 359.1h0M311.2 363.2h0M827.5 374.6h0"/><path stroke="#6a176e" d="M295.4 371.7h0M807.9 406.3h0M836.7 368.5h0M312.6 335.4h0M833.9 391.7h0M677.9 436.9h0M688.9 421.7h0M821.4 541.8h0M307.2 504.9h0M667.2 428.3h0M824.6 366.2h0M158.5 384.1h0M708.7 423.0h0M260.2 501.9h0M308.5 338.1h0M828.0 385.5h0M828.4 359.0h0M852.2 358.6h0M306.7 359.0h0M798.4 395.6h0M815.3 361.6h0M919.5 475.5h0"/><path stroke="#c9414a" d="M319.9 482.3h0M903.1 285.3h0M885.0 292.6h0M386.5 259.0h0M885.2 299.8h0M887.9 300.0h0M825.9 529.3h0M681.3 445.9h0M200.9 351.2h0M830.2 500.2h0M891.8 304.5h0M895.4 271.1h0M901.5 308.8h0M415.8 214.9h0M179.2 379.8h0M713.6 403.6h0M209.5 377.4h0M323.1 494.8h0M180.3 368.5h0M384.9 281.6h0M381.8 277.9h0M390.7 243.3h0"/><path stroke="#dd513a" d="M689.5 387.6h0M687.0 386.2h0M396.0 231.0h0M905.9 282.3h0M899.8 300.4h0M889.4 304.0h0M198.7 366.4h0M178.8 373.4h0M321.5 483.7h0M683.3 393.1h0M372.0 253.9h0M899.2 270.9h0M694.2 394.5h0M190.5 371.5h0M322.3 487.0h0M366.0 238.2h0M890.4 298.0h0M199.6 355.7h0M700.2 380.4h0M382.9 296.5h0M889.8 313.3h0M886.3 307.8h0"/><path stroke="#6a176e" d="M315.0 338.2h0M808.9 395.2h0M338.8 373.8h0M377.8 295.1h0M759.6 401.3h0M692.4 439.3h0M339.1 314.3h0M675.3 443.8h0M839.5 369.6h0M344.2 391.3h0M818.0 386.9h0M290.5 534.9h0M359.5 427.6h0M370.0 602.1h0M266.3 498.3h0M819.1 397.5h0M835.8 351.4h0M267.0 500.2h0M415.2 482.6h0M827.5 376.1h0M831.7 360.1h0M193.5 409.4h0"/><path stroke="#7a1d6b" d="M702.4 415.8h0M161.6 381.7h0M837.1 403.9h0M293.2 388.1h0M791.0 524.5h0M878.3 416.1h0M787.9 507.5h0M825.5 559.6h0M315.7 333.0h0M320.8 356.6h0M325.5 327.0h0M332.6 312.3h0M264.3 567.6h0M920.4 480.1h0M333.4 320.4h0M835.3 352.9h0M925.2 463.5h0M829.2 362.9h0M840.7 364.3h0M294.2 538.8h0M820.3 411.3h0M182.8 423.1h0"/><path stroke="#7a1d6b" d="M792.0 431.9h0M691.9 432.4h0M879.9 487.8h0M324.5 354.6h0M850.2 406.9h0M295.9 400.8h0M711.9 434.8h0M317.2 371.9h0M159.0 403.6h0M173.6 435.3h0M711.3 458.7h0M819.8 403.1h0M189.2 415.6h0M721.2 456.2h0M276.4 385.4h0M419.4 445.8h0M483.4 192.0h0M692.0 419.6h0M313.0 337.3h0M836.3 568.7h0M835.5 361.2h0M324.4 370.6h0"/><path stroke="#5a126c" d="M311.4 344.3h0M294.6 411.1h0M774.1 599.8h0M175.2 431.4h0M278.6 496.4h0M807.2 361.2h0M784.3 538.6h0M828.9 369.3h0M315.5 333.6h0M706.8 444.1h0M206.9 423.9h0M289.9 505.3h0M788.8 509.5h0M312.9 323.3h0M837.3 387.0h0M793.6 401.9h0M686.4 430.8h0M837.9 386.6h0M697.9 436.4h0M835.0 357.4h0M306.4 374.5h0M329.7 327.5h0"/><path stroke="#83206a" d="M356.0 517.4h0M903.1 495.2h0M409.1 446.9h0M323.2 356.2h0M362.0 404.1h0M200.1 386.7h0M809.0 395.8h0M886.3 640.5h0M334.7 325.5h0M165.5 352.4h0M409.8 245.0h0M815.4 545.6h0M819.3 397.6h0M799.9 430.7h0M675.4 452.4h0M875.1 414.6h0M812.9 396.3h0M903.2 258.3h0M772.8 532.9h0M259.6 524.1h0M232.0 403.8h0M206.6 240.2h0"/><path stroke="#d64c3f" d="M387.5 271.5h0M199.5 364.6h0M388.0 250.3h0M383.6 260.3h0M879.7 296.1h0M396.9 254.1h0M887.4 218.8h0M921.4 315.2h0M892.1 296.3h0M194.7 400.2h0M886.4 304.5h0M410.1 245.3h0M219.9 380.2h0M190.9 352.3h0M902.1 299.1h0M195.0 355.0h0M194.3 365.9h0M201.0 344.7h0M835.7 516.3h0M884.7 306.9h0M367.7 260.5h0M382.8 249.4h0"/><path stroke="#721a6d" d="M911.6 486.8h0M840.2 400.2h0M681.4 445.3h0M773.3 391.1h0M337.6 329.5h0M654.1 456.3h0M264.5 581.3h0M824.1 405.9h0M843.0 365.1h0M319.1 353.8h0M371.6 585.8h0M718.3 422.2h0M920.5 489.4h0M323.7 330.1h0M305.8 351.4h0M282.5 503.8h0M773.9 512.4h0M371.5 392.1h0M377.2 429.1h0M265.0 581.1h0M320.3 327.8h0M319.6 319.4h0"/><path stroke="#fa9c0d" d="M839.2 532.4h0M746.0 521.5h0M333.1 516.6h0M703.3 402.0h0M711.6 446.3h0M831.0 543.5h0M320.3 547.3h0M697.2 403.9h0M344.0 513.1h0M335.6 521.6h0M173.5 364.4h0M708.8 399.1h0M218.8 388.7h0M281.7 321.5h0M674.9 405.3h0M307.9 552.4h0M338.5 499.2h0M699.0 398.7h0M835.6 565.2h0M825.0 578.6h0M324.9 518.7h0M324.9 504.4h0"/><path stroke="#6a176e" d="M300.2 365.4h0M837.9 358.2h0M701.3 448.2h0M307.7 345.9h0M759.7 421.5h0M685.2 422.5h0M318.2 345.1h0M820.3 370.7h0M836.1 372.8h0M714.6 418.8h0M323.1 322.1h0M817.9 353.4h0M213.6 407.7h0M325.4 340.9h0M328.6 316.3h0M321.6 329.9h0M207.2 390.1h0M327.5 348.4h0M829.5 417.1h0M823.8 358.7h0M327.1 319.2h0M353.9 457.7h0"/><path stroke="#e15933" d="M203.0 341.6h0M688.0 398.4h0M362.0 223.8h0M699.3 382.7h0M845.6 539.8h0M915.2 248.5h0M371.6 270.1h0M698.3 411.6h0M676.1 393.9h0M709.5 403.7h0M874.3 308.3h0M194.9 362.6h0M206.8 366.4h0M408.7 230.9h0M830.3 546.6h0M188.7 394.7h0M194.5 366.5h0M214.3 351.9h0M884.7 305.5h0M385.2 267.1h0M379.5 260.7h0M880.5 307.4h0"/><path stroke="#721a6d" d="M784.1 529.3h0M792.9 521.0h0M321.9 313.2h0M822.9 374.7h0M832.9 374.8h0M307.1 358.4h0M284.1 505.6h0M826.1 397.4h0M286.9 367.3h0M309.4 336.5h0M704.8 456.2h0M942.2 515.8h0M832.6 374.2h0M692.9 434.3h0M313.2 360.1h0M836.8 364.4h0M828.3 362.8h0M707.7 431.7h0M809.9 375.6h0M692.3 410.2h0M253.4 578.1h0M316.7 342.8h0"/><path stroke="#b43458" d="M380.2 275.4h0M376.0 273.1h0M365.6 277.1h0M377.8 285.4h0M384.4 266.2h0M381.9 276.3h0M819.5 516.8h0M384.1 286.1h0M181.8 356.8h0M821.9 512.4h0M713.6 386.9h0M410.6 249.8h0M900.8 304.0h0M882.5 305.5h0M916.9 258.3h0M381.5 282.4h0M820.1 523.3h0M884.8 289.3h0M829.4 523.9h0M380.1 277.2h0M906.0 289.2h0M674.2 461.8h0"/><path stroke="#721a6d" d="M279.1 484.8h0M852.6 351.4h0M899.9 479.3h0M196.8 419.2h0M836.2 368.2h0M789.9 520.8h0M781.8 617.3h0M276.7 571.5h0M676.3 436.0h0M838.5 355.4h0M726.3 451.1h0M774.8 531.2h0M816.7 397.1h0M164.7 410.1h0M765.8 404.9h0M316.8 320.8h0M854.9 406.5h0M782.3 533.3h0M338.9 315.0h0M904.1 477.7h0M812.6 386.8h0M786.5 514.9h0"/><path stroke="#b43458" d="M169.2 374.9h0M374.6 288.9h0M699.8 459.9h0M257.4 677.4h0M368.9 261.0h0M873.2 257.1h0M887.0 289.6h0M838.5 507.0h0M825.4 523.1h0M910.0 311.5h0M370.8 293.9h0M389.7 265.1h0M415.3 417.9h0M368.7 278.0h0M377.2 273.6h0M399.1 290.2h0M901.9 294.7h0M882.1 287.0h0M395.7 232.7h0M879.8 301.9h0M832.3 528.0h0M204.9 358.5h0"/><path stroke="#c9414a" d="M896.0 295.8h0M914.9 241.2h0M217.3 401.7h0M199.0 359.2h0M888.5 296.8h0M894.7 300.4h0M187.5 379.8h0M197.5 365.5h0M884.1 284.9h0M187.4 373.3h0M899.9 298.7h0M901.5 286.1h0M883.3 296.5h0M379.9 270.1h0M898.7 304.3h0M890.6 304.4h0M321.6 477.1h0M891.6 294.6h0M392.5 236.7h0M394.8 265.5h0M868.9 299.7h0M887.5 319.5h0"/><path stroke="#dd513a" d="M322.2 491.7h0M686.9 376.5h0M879.3 283.1h0M407.3 241.4h0M894.6 286.6h0M690.9 389.1h0M196.5 363.6h0M188.9 341.5h0M915.2 299.6h0M214.0 342.6h0M202.5 352.6h0M891.4 282.2h0M417.3 314.4h0M398.1 242.7h0M892.9 309.1h0M202.6 342.6h0M885.2 301.5h0M844.3 546.5h0M694.1 406.3h0M729.0 387.7h0M184.1 356.1h0M373.1 252.0h0"/><path stroke="#7a1d6b" d="M331.2 358.8h0M822.8 402.1h0M824.5 407.6h0M276.6 570.9h0M713.5 426.4h0M178.5 410.0h0M830.8 427.6h0M174.0 379.6h0M697.2 429.3h0M709.0 404.3h0M287.7 373.1h0M781.5 531.6h0M316.3 552.0h0M304.7 367.0h0M788.0 409.3h0M699.4 441.5h0M825.1 399.9h0M814.1 427.8h0M819.7 384.9h0M385.0 433.4h0M292.2 362.3h0M714.8 436.5h0"/><path stroke="#721a6d" d="M703.0 471.7h0M332.3 327.4h0M202.3 394.4h0M813.4 384.8h0M831.2 377.6h0M699.9 414.1h0M194.2 420.0h0M776.8 389.3h0M296.2 375.3h0M318.6 327.7h0M342.1 318.3h0M274.1 574.2h0M819.6 378.4h0M167.3 395.3h0M184.3 333.8h0M403.6 427.0h0M854.9 414.0h0M912.1 465.9h0M351.8 325.0h0M843.7 414.9h0M776.2 394.6h0M312.8 331.5h0"/><path stroke="#83206a" d="M334.1 407.9h0M821.3 388.4h0M316.2 398.0h0M272.9 495.8h0M320.8 384.4h0M903.9 477.3h0M167.1 403.8h0M267.1 523.0h0M185.4 402.1h0M799.2 398.1h0M388.1 461.2h0M369.7 292.6h0M322.8 349.8h0M792.1 410.7h0M359.8 367.1h0M398.9 331.2h0M149.7 379.7h0M402.9 488.4h0M861.7 357.3h0M313.7 364.0h0M775.1 607.2h0M296.9 393.7h0"/><path stroke="#fca50a" d="M820.9 551.1h0M333.2 501.0h0M709.9 396.5h0M188.6 384.1h0M698.2 392.0h0M336.6 496.7h0M841.2 532.0h0M846.5 545.7h0M367.1 250.6h0M187.2 347.3h0M682.6 400.4h0M323.3 531.7h0M323.5 517.0h0M331.2 525.9h0M252.4 440.9h0M681.2 435.4h0M843.2 537.7h0M818.7 522.7h0M338.9 510.5h0"/><path stroke="#5a126c" d="M775.6 624.7h0M301.0 336.6h0M817.2 399.4h0M830.8 375.4h0M267.2 576.0h0M793.1 564.7h0M345.4 315.5h0M331.0 329.3h0M334.4 383.9h0M772.4 529.1h0M696.0 409.6h0M315.4 321.9h0M700.0 449.1h0M831.6 396.8h0M785.3 413.8h0M291.5 350.0h0M192.0 357.3h0M268.8 480.2h0M295.9 345.8h0M847.7 363.7h0M214.6 399.8h0M348.1 301.9h0"/><path stroke="#932667" d="M782.0 429.9h0M914.9 450.4h0M315.5 346.7h0M370.3 289.4h0M909.7 477.2h0M390.6 447.6h0M816.5 248.3h0M809.4 410.7h0M163.7 422.4h0M376.1 279.4h0M760.2 615.2h0M377.0 284.8h0M185.9 379.3h0M658.7 396.7h0M849.7 289.2h0M185.0 402.6h0M877.0 658.8h0M821.0 414.4h0M190.9 395.9h0M386.6 429.3h0M703.8 457.3h0M892.3 478.9h0"/><path stroke="#7a1d6b" d="M842.6 562.4h0M818.8 405.4h0M326.7 334.0h0M254.9 466.1h0M308.8 525.7h0M327.5 372.8h0M677.2 442.4h0M778.2 405.6h0M318.8 320.9h0M299.9 350.3h0M827.8 375.8h0M684.5 450.5h0M812.1 404.4h0M805.2 401.8h0M694.7 461.5h0M333.1 359.5h0M322.4 326.1h0M313.4 340.1h0M296.8 374.2h0M703.3 438.2h0M331.0 415.1h0M693.8 450.4h0"/><path stroke="#dd513a" d="M876.0 307.0h0M366.8 272.4h0M698.1 384.8h0M385.1 245.2h0M190.0 353.6h0M385.4 244.1h0M175.0 386.1h0M383.7 252.6h0M187.9 345.6h0M373.3 264.6h0M904.7 288.9h0M193.8 373.7h0M895.5 298.3h0M383.7 248.2h0M891.2 294.8h0M201.2 359.3h0M396.7 246.5h0M187.9 369.1h0M388.7 253.1h0M897.1 299.7h0M381.1 258.9h0M904.0 293.3h0"/><path stroke="#721a6d" d="M320.0 392.6h0M815.7 414.3h0M298.1 365.0h0M337.7 400.0h0M341.3 322.6h0M833.7 357.5h0M786.9 531.0h0M684.3 449.4h0M762.5 598.0h0M712.0 433.1h0M836.8 358.5h0M818.2 375.3h0M834.0 365.3h0M914.3 497.4h0M832.5 367.0h0M333.4 323.0h0M296.3 498.5h0M369.6 461.4h0M832.6 428.5h0M293.1 501.2h0M150.5 408.8h0M318.9 338.2h0"/><path stroke="#62146d" d="M332.9 326.4h0M290.3 371.3h0M179.5 391.6h0M832.5 348.3h0M816.9 362.2h0M717.6 444.6h0M902.4 629.1h0M816.8 373.1h0M828.5 355.9h0M775.7 405.4h0M213.5 435.3h0M821.2 417.2h0M341.2 319.4h0M174.7 409.8h0M823.6 395.5h0M335.5 315.7h0M828.0 369.3h0M313.6 320.4h0M657.9 442.8h0M162.6 416.1h0M194.5 398.6h0M201.0 414.0h0"/><path stroke="#83206a" d="M310.8 330.4h0M284.6 498.2h0M790.0 407.2h0M932.9 483.9h0M158.8 134.1h0M267.3 563.4h0M368.4 608.8h0M217.8 371.7h0M820.3 394.6h0M359.0 401.9h0M390.0 440.1h0M177.2 410.6h0M781.3 519.5h0M816.8 411.0h0M315.3 330.7h0M818.6 410.8h0M180.0 417.6h0M310.5 340.1h0M282.9 533.6h0M823.0 360.9h0M844.0 376.0h0M333.9 375.6h0"/><path stroke="#7a1d6b" d="M663.1 427.4h0M821.1 364.5h0M843.3 403.7h0M774.5 519.7h0M792.5 403.1h0M693.4 448.3h0M345.0 354.9h0M801.8 360.0h0M686.5 444.1h0M313.6 358.0h0M152.9 408.4h0M316.4 335.4h0M793.6 386.6h0M824.4 405.7h0M177.8 386.5h0M279.9 405.4h0M823.0 388.8h0M787.8 543.8h0M775.0 609.3h0M161.0 407.1h0M926.3 510.2h0M177.5 414.9h0"/><path stroke="#f37819" d="M693.2 396.8h0M702.5 408.1h0M187.4 359.1h0M200.0 364.3h0M845.9 541.3h0M204.2 350.4h0M716.1 411.4h0M840.9 545.9h0M198.0 361.8h0M702.9 389.3h0M310.6 550.6h0M182.9 375.3h0M194.0 349.6h0M331.6 471.7h0M673.4 402.4h0M895.7 265.4h0M699.4 443.0h0M845.5 543.3h0M688.5 388.2h0M846.9 544.3h0M690.3 385.7h0M698.5 415.9h0"/><path stroke="#c33c4f" d="M378.0 265.5h0M900.4 299.8h0M919.7 269.7h0M375.8 254.9h0M383.8 264.3h0M890.6 304.2h0M895.6 296.1h0M898.5 307.6h0M375.2 256.6h0M381.7 279.1h0M687.2 438.5h0M880.0 303.5h0M384.8 278.7h0M895.3 309.2h0M889.9 308.9h0M218.1 389.7h0M417.6 246.2h0M823.6 511.5h0M414.6 234.7h0M666.5 433.2h0M381.5 270.1h0M903.0 301.5h0"/><path stroke="#721a6d" d="M345.6 384.7h0M336.7 313.0h0M177.3 434.7h0M326.8 327.3h0M917.5 461.1h0M261.7 562.5h0M346.4 320.1h0M326.0 333.0h0M823.2 358.0h0M815.8 412.1h0M262.3 578.2h0M342.2 307.4h0M826.8 404.7h0M321.7 302.8h0M331.7 381.0h0M822.6 394.3h0M905.3 457.1h0M266.2 571.6h0M843.9 414.8h0M287.2 364.0h0M345.9 317.9h0M291.9 479.7h0"/><path stroke="#c33c4f" d="M386.9 269.8h0M835.6 521.1h0M381.3 275.2h0M398.2 239.2h0M884.1 305.7h0M794.4 452.5h0M895.7 301.8h0M891.3 300.1h0M903.9 301.4h0M882.2 298.7h0M896.3 300.8h0M392.4 242.7h0M309.3 396.7h0M396.2 260.2h0M891.9 308.0h0M419.9 324.4h0M414.6 235.3h0M382.2 294.5h0M889.9 306.1h0M905.3 300.1h0M214.0 366.9h0M821.2 516.0h0"/><path stroke="#5a126c" d="M170.0 384.6h0M819.2 409.1h0M772.4 388.6h0M306.9 345.1h0M263.7 462.6h0M819.9 412.2h0M836.7 360.8h0M835.5 361.7h0M833.1 355.9h0M313.6 353.5h0M154.1 381.0h0M816.1 517.2h0M792.6 528.1h0M834.0 374.0h0M847.0 401.8h0M324.2 332.8h0M293.1 328.0h0M940.6 494.7h0M278.5 348.6h0M190.6 405.2h0M197.3 398.8h0M826.3 405.7h0"/><path stroke="#a32d5f" d="M378.9 286.8h0M381.2 272.9h0M319.8 358.5h0M781.2 418.4h0M372.0 285.6h0M885.2 300.7h0M411.1 348.5h0M391.0 439.8h0M894.5 296.7h0M379.9 300.1h0M410.8 248.1h0M889.8 295.2h0M902.2 299.7h0M871.5 268.6h0M299.1 371.5h0M894.8 294.1h0M385.2 289.9h0M381.1 278.5h0M329.5 375.1h0M379.2 282.7h0M795.5 544.9h0M379.1 287.1h0"/><path stroke="#5a126c" d="M301.1 350.5h0M290.4 505.8h0M834.6 417.7h0M378.7 407.0h0M306.8 346.4h0M829.5 398.7h0M827.0 368.8h0M208.3 413.9h0M807.1 411.6h0M193.0 396.5h0M358.2 356.6h0M824.9 348.8h0M289.4 374.5h0M161.7 403.5h0M302.8 351.8h0M175.9 371.4h0M700.2 468.7h0M833.5 352.4h0M812.3 415.4h0M784.1 522.9h0M734.0 441.5h0M336.8 360.3h0"/><path stroke="#a32d5f" d="M817.4 538.3h0M906.0 396.0h0M377.1 271.7h0M894.9 306.9h0M789.8 417.1h0M442.9 249.5h0M881.8 292.8h0M378.2 287.7h0M905.3 296.9h0M217.2 390.6h0M377.1 292.6h0M410.8 365.0h0M890.2 269.1h0M840.2 508.3h0M408.3 442.0h0M886.5 307.1h0M371.4 291.0h0M376.4 273.9h0M380.0 282.0h0M896.0 307.0h0M321.0 466.4h0M211.6 230.6h0"/><path stroke="#7a1d6b" d="M840.7 352.8h0M416.2 462.5h0M410.7 427.8h0M908.5 494.1h0M660.9 445.3h0M691.1 418.0h0M674.5 450.0h0M358.7 466.7h0M324.3 346.9h0M832.8 371.0h0M706.5 436.5h0M666.0 456.4h0M659.7 469.6h0M187.4 404.6h0M841.7 416.1h0M294.2 484.5h0M645.7 414.7h0M764.7 641.8h0M851.6 419.4h0M395.6 443.1h0M906.3 515.6h0M825.9 408.6h0"/><path stroke="#721a6d" d="M661.3 402.9h0M296.0 509.7h0M821.6 356.1h0M736.6 383.3h0M812.5 417.0h0M893.1 487.6h0M670.8 471.4h0M261.0 569.8h0M825.8 417.2h0M332.9 314.4h0M257.4 510.9h0M838.8 395.3h0M783.9 531.7h0M812.6 407.9h0M255.1 513.4h0M708.0 418.8h0M330.4 331.4h0M697.2 429.9h0M826.9 358.9h0M827.5 358.5h0M823.6 348.6h0M318.6 364.0h0"/><path stroke="#520f6a" d="M830.6 421.2h0M332.7 353.3h0M855.1 364.8h0M303.7 389.0h0M829.8 386.3h0M640.7 574.1h0M774.6 390.8h0M322.2 350.5h0M302.1 389.9h0M311.7 364.8h0M817.3 403.7h0M704.5 447.8h0M990.2 482.8h0M318.2 350.0h0M269.9 518.7h0M202.2 391.7h0M799.0 543.4h0M821.1 521.0h0M346.5 381.3h0M810.0 403.0h0M367.5 471.9h0M204.9 383.7h0"/><path stroke="#62146d" d="M835.8 376.0h0M318.2 338.9h0M702.2 427.8h0M842.9 353.7h0M327.4 313.7h0M831.4 369.5h0M285.6 512.6h0M296.9 574.2h0M312.4 361.0h0M930.7 458.0h0M318.6 322.8h0M812.9 433.3h0M326.4 327.9h0M697.1 451.3h0M826.2 416.0h0M647.4 429.4h0M828.6 368.9h0M841.1 357.5h0M316.6 328.7h0M822.2 390.0h0M710.3 424.7h0M320.2 356.1h0"/><path stroke="#e6612d" d="M891.1 291.9h0M394.9 283.1h0M183.9 381.2h0M369.8 270.0h0M692.4 392.7h0M704.4 394.7h0M199.9 357.6h0M901.2 297.9h0M193.6 370.0h0M688.9 392.3h0M920.7 279.5h0M235.2 461.8h0M717.2 407.4h0M207.8 356.7h0M189.0 368.8h0M184.4 350.0h0M749.2 467.4h0M823.1 564.8h0M703.0 448.6h0M694.6 397.4h0M705.9 374.3h0M328.9 492.4h0"/><path stroke="#dd513a" d="M236.0 382.5h0M713.4 426.4h0M323.8 485.2h0M688.8 398.2h0M181.2 384.2h0M373.4 256.3h0M180.7 384.0h0M208.3 392.5h0M938.4 287.5h0M888.1 312.2h0M896.1 312.8h0M894.1 299.9h0M391.6 248.8h0M387.9 219.8h0M178.1 362.9h0M330.6 479.1h0M209.6 336.2h0M199.2 367.3h0M832.6 522.9h0M394.2 247.3h0M192.2 352.3h0M385.7 257.3h0"/><path stroke="#d64c3f" d="M885.5 309.5h0M863.7 258.5h0M198.7 341.1h0M315.7 475.1h0M711.3 396.9h0M319.8 482.3h0M212.7 346.4h0M179.7 380.4h0M392.2 294.1h0M885.2 296.6h0M894.6 304.4h0M896.4 308.0h0M891.4 267.3h0M897.6 298.4h0M688.8 389.6h0M390.5 249.2h0M710.7 422.2h0M689.9 393.9h0M388.0 240.6h0M903.5 295.7h0M890.2 314.1h0M922.2 296.2h0"/><path stroke="#a32d5f" d="M318.7 469.6h0M380.9 282.0h0M378.1 293.7h0M397.9 427.3h0M888.2 297.7h0M373.9 267.5h0M373.4 296.3h0M390.1 277.2h0M716.9 453.3h0M385.7 287.3h0M863.6 321.6h0M904.1 398.3h0M896.9 300.9h0M306.2 382.7h0M382.7 287.7h0M892.4 308.4h0M385.7 445.9h0M379.4 274.9h0M901.4 306.3h0M388.7 272.2h0M380.5 398.8h0M925.8 491.5h0"/><path stroke="#721a6d" d="M338.3 320.4h0M858.2 409.8h0M837.3 496.3h0M199.5 372.4h0M163.7 409.9h0M280.1 514.5h0M220.3 367.0h0M792.4 379.6h0M301.9 369.2h0M819.6 362.3h0M319.8 383.8h0M843.9 366.6h0M713.1 448.3h0M333.8 327.6h0M687.4 408.5h0M314.2 353.3h0M893.2 503.0h0M829.2 366.3h0M781.8 355.4h0M206.2 396.9h0M406.5 455.3h0M829.1 364.2h0"/><path stroke="#f37819" d="M687.8 404.4h0M688.8 381.6h0M710.3 419.2h0M676.2 408.7h0M829.4 553.3h0M709.7 382.2h0M833.4 537.4h0M177.0 365.4h0M324.3 531.5h0M667.3 395.0h0M696.8 410.3h0M680.7 403.5h0M333.3 503.8h0M834.0 539.9h0M826.3 566.1h0M154.5 388.0h0M933.6 313.3h0M319.1 537.9h0M723.2 407.2h0M677.1 397.2h0M223.4 346.3h0M821.5 581.4h0"/><path stroke="#d04744" d="M387.4 213.6h0M262.5 463.4h0M891.3 301.3h0M891.0 297.1h0M319.3 466.6h0M318.8 478.9h0M937.4 315.4h0M724.9 437.6h0M895.0 303.5h0M387.9 280.7h0M393.9 252.4h0M202.6 354.1h0M712.6 419.8h0M382.2 253.8h0M900.3 300.5h0M217.3 340.6h0M392.2 255.3h0M886.0 301.5h0M883.9 300.5h0M382.7 259.6h0M390.7 241.1h0M886.7 290.2h0"/><path stroke="#c33c4f" d="M902.5 298.1h0M878.1 302.3h0M892.2 293.3h0M389.1 249.9h0M383.3 269.9h0M680.6 438.7h0M380.3 282.0h0M327.4 373.2h0M167.4 385.0h0M383.2 249.8h0M901.9 296.0h0M376.0 274.4h0M234.3 407.5h0M924.0 321.6h0M899.9 297.2h0M906.2 297.2h0M203.4 353.9h0M390.7 247.1h0M886.7 297.5h0M889.8 300.6h0M378.3 280.6h0M918.3 299.6h0"/><path stroke="#e15933" d="M699.9 403.8h0M426.6 259.3h0M322.7 553.2h0M200.7 355.1h0M189.1 362.9h0M188.1 369.1h0M193.4 363.4h0M308.6 552.9h0M387.1 253.0h0M716.4 425.5h0M211.2 355.2h0M170.7 390.7h0M186.4 363.1h0M201.8 351.5h0M196.6 370.4h0M702.3 399.2h0M702.7 407.2h0M733.0 386.0h0M412.2 223.8h0M910.1 275.3h0M222.6 402.2h0M387.6 254.0h0"/><path stroke="#62146d" d="M186.0 414.9h0M201.9 414.7h0M819.4 396.3h0M330.9 313.5h0M832.2 411.7h0M817.7 416.3h0M817.6 376.1h0M270.0 467.3h0M329.2 329.1h0M333.5 353.9h0M847.3 350.4h0M313.4 376.0h0M341.5 331.7h0M687.5 462.4h0M846.2 349.2h0M320.8 379.4h0M815.8 396.0h0M827.6 404.7h0M828.6 365.8h0M399.3 454.7h0M798.2 425.5h0M300.0 383.6h0"/><path stroke="#5a126c" d="M315.1 341.8h0M330.3 321.4h0M305.3 345.7h0M316.7 539.3h0M840.5 402.8h0M729.9 451.6h0M725.8 439.4h0M831.6 379.4h0M293.5 397.6h0M838.2 362.8h0M194.4 406.2h0M316.0 327.0h0M317.0 319.7h0M323.8 382.0h0M826.8 393.2h0M314.7 381.0h0M164.4 395.9h0M772.0 521.7h0M336.9 389.1h0M336.6 321.6h0M829.4 363.3h0M781.7 524.5h0"/><path stroke="#62146d" d="M825.1 367.7h0M829.0 416.9h0M298.0 390.7h0M332.0 332.8h0M836.6 357.9h0M308.9 332.5h0M828.3 372.3h0M801.5 382.3h0M827.7 354.4h0M849.0 394.0h0M827.2 372.9h0M816.6 399.0h0M323.6 333.0h0M838.2 364.2h0M307.5 351.0h0M838.8 354.5h0M723.7 447.9h0M310.3 334.6h0M822.8 546.3h0M835.8 365.1h0M713.7 447.8h0M300.7 366.6h0"/><path stroke="#d64c3f" d="M890.2 312.8h0M205.4 366.2h0M393.6 245.0h0M392.1 249.0h0M688.6 410.9h0M883.5 318.7h0M839.9 543.9h0M395.6 236.5h0M333.1 481.1h0M902.3 301.0h0M328.4 479.3h0M190.7 354.9h0M185.8 361.5h0M384.5 252.7h0M896.9 305.4h0M689.6 403.6h0M386.0 274.7h0M313.4 466.9h0M383.6 261.2h0M196.4 387.4h0M372.4 243.3h0M193.7 366.6h0"/><path stroke="#e15933" d="M836.5 555.1h0M715.6 418.3h0M311.9 552.0h0M694.9 393.0h0M190.6 370.0h0M391.4 276.5h0M696.0 401.0h0M211.5 353.3h0M205.3 353.5h0M399.0 215.7h0M390.2 235.0h0M184.6 374.3h0M183.0 371.1h0M195.7 354.5h0M390.7 256.8h0M694.3 407.0h0M704.6 405.8h0M666.9 392.8h0M768.1 461.4h0M192.3 361.6h0M697.1 393.0h0M706.6 400.2h0"/><path stroke="#f7cd3a" d="M295.7 451.9h0M801.9 474.0h0M375.9 435.7h0M341.7 512.7h0M282.0 439.1h0M371.9 427.5h0M290.0 441.0h0M335.0 486.4h0M802.8 474.6h0M293.7 440.6h0M325.5 526.9h0M366.2 427.9h0M332.9 505.6h0"/><path stroke="#f58116" d="M704.9 403.2h0M699.6 400.8h0M699.0 388.5h0M843.5 542.6h0M695.4 385.0h0M770.0 463.6h0M701.2 381.3h0M746.7 464.3h0M321.5 490.7h0M170.3 396.9h0M325.6 531.6h0M687.2 377.2h0M705.2 402.5h0M680.4 381.9h0M703.0 377.5h0M830.8 548.3h0M693.6 398.6h0M331.4 511.5h0M683.3 392.8h0M339.2 497.1h0M838.3 539.4h0M716.7 404.4h0"/><path stroke="#721a6d" d="M825.7 384.0h0M309.7 373.0h0M911.7 512.6h0M714.9 407.6h0M318.7 345.1h0M255.6 563.0h0M295.0 489.0h0M350.3 306.7h0M282.4 331.0h0M382.2 380.4h0M861.0 425.2h0M824.0 367.2h0M832.4 359.6h0M671.6 435.9h0M327.5 319.6h0M185.4 418.3h0M768.9 602.1h0M715.2 426.6h0M821.8 394.2h0M337.6 377.4h0M832.4 367.1h0M176.5 402.9h0"/><path stroke="#b43458" d="M390.5 269.0h0M897.3 299.6h0M374.5 298.6h0M879.5 300.3h0M391.2 281.9h0M416.2 431.6h0M888.5 293.5h0M735.8 368.4h0M886.0 303.3h0M375.7 262.4h0M829.9 524.8h0M893.2 282.3h0M386.0 255.3h0M830.8 519.3h0M887.8 307.9h0M902.1 295.9h0M321.1 472.0h0M893.4 302.2h0M382.3 277.3h0M886.2 292.8h0M897.6 291.7h0M889.2 309.6h0"/><path stroke="#e15933" d="M395.9 238.5h0M375.8 251.1h0M891.0 317.2h0M890.5 295.5h0M383.8 259.7h0M196.3 347.7h0M718.3 402.5h0M687.9 407.2h0M705.8 405.8h0M276.7 296.2h0M187.3 390.8h0M718.5 383.5h0M181.0 361.0h0M676.6 418.0h0M891.4 299.7h0M707.0 405.6h0M887.7 309.5h0M707.5 422.2h0M717.2 423.2h0M693.9 419.3h0M365.1 255.5h0M190.7 383.6h0"/><path stroke="#bc3754" d="M387.7 282.0h0M373.2 269.6h0M907.2 306.4h0M322.3 478.4h0M391.3 270.8h0M893.0 307.1h0M381.7 282.4h0M337.6 410.0h0M368.2 457.7h0M387.8 269.7h0M892.9 310.2h0M883.5 302.2h0M323.1 467.0h0M835.1 513.1h0M903.5 323.5h0M903.5 299.1h0M382.0 261.6h0M409.2 266.3h0M884.8 304.3h0M870.0 316.4h0M395.2 251.5h0M795.4 475.4h0"/><path stroke="#5a126c" d="M665.4 472.7h0M313.7 389.6h0M769.8 619.7h0M253.9 564.4h0M810.3 357.2h0M308.8 353.3h0M720.9 449.8h0M826.8 390.7h0M694.3 425.9h0M315.4 385.8h0M316.3 372.1h0M703.3 456.0h0M332.3 394.9h0M821.5 369.9h0M834.6 353.6h0M329.8 384.8h0M287.2 499.3h0M323.2 315.7h0M821.4 398.3h0M716.0 447.6h0M305.2 474.5h0M269.5 332.1h0"/><path stroke="#bc3754" d="M388.9 259.4h0M883.6 308.2h0M900.4 304.3h0M356.5 469.5h0M889.5 311.2h0M821.8 518.6h0M896.2 301.0h0M369.1 268.0h0M900.0 305.2h0M382.1 252.1h0M888.3 313.3h0M906.9 300.2h0M893.0 316.8h0M863.6 302.4h0M384.0 275.8h0M386.0 270.9h0M890.9 298.0h0M903.8 289.9h0M827.5 503.8h0M378.9 270.8h0M884.8 284.4h0M418.7 308.0h0"/><path stroke="#7a1d6b" d="M289.9 385.2h0M267.0 573.6h0M419.7 435.5h0M308.2 339.7h0M313.6 379.6h0M164.9 411.4h0M280.5 344.7h0M810.8 557.5h0M345.4 397.6h0M820.9 420.4h0M804.0 579.0h0M719.6 455.1h0M734.5 457.8h0M318.1 328.1h0M299.3 352.3h0M680.4 444.9h0M814.5 409.2h0M314.5 327.0h0M321.8 352.4h0M414.9 481.1h0M274.6 494.7h0M311.5 402.5h0"/><path stroke="#dd513a" d="M185.9 377.5h0M383.2 261.4h0M706.9 403.5h0M202.2 356.8h0M280.0 316.4h0M218.8 346.7h0M900.9 298.9h0M914.0 326.9h0M380.7 263.8h0M201.2 357.5h0M698.2 387.1h0M702.9 398.4h0M206.0 361.0h0M186.8 371.2h0M871.3 248.4h0M821.7 510.9h0M909.0 303.8h0M239.9 400.3h0M906.3 301.0h0M696.7 393.6h0M381.2 246.3h0M892.0 315.3h0"/><path stroke="#721a6d" d="M897.8 489.2h0M825.3 360.6h0M337.1 394.2h0M839.0 374.6h0M343.0 392.4h0M320.2 352.2h0M810.0 388.1h0M821.5 372.8h0M179.8 395.9h0M139.7 389.9h0M774.9 511.7h0M150.2 390.3h0M832.4 368.4h0M802.8 412.9h0M312.4 356.6h0M896.5 507.0h0M302.9 338.7h0M912.6 364.4h0M712.1 438.2h0M356.0 370.3h0M314.7 359.3h0M324.1 369.6h0"/><path stroke="#e6612d" d="M822.3 568.9h0M686.2 390.1h0M711.7 425.0h0M704.6 385.2h0M188.3 362.2h0M207.0 344.8h0M836.6 532.4h0M172.4 373.3h0M685.4 432.9h0M186.7 356.7h0M389.5 239.0h0M683.8 404.4h0M702.5 401.7h0M390.3 250.8h0M695.1 405.7h0M190.9 368.1h0M324.9 530.0h0M695.1 398.9h0M691.9 386.8h0M192.5 349.8h0M192.6 363.8h0M686.0 447.1h0"/><path stroke="#721a6d" d="M774.5 516.6h0M852.6 362.8h0M851.9 357.2h0M300.1 363.4h0M819.2 364.4h0M712.3 413.6h0M841.3 356.5h0M308.4 346.7h0M825.1 411.2h0M785.7 399.5h0M830.4 368.0h0M880.8 423.2h0M315.3 332.4h0M185.1 402.3h0M860.8 418.3h0M798.6 397.9h0M672.4 404.0h0M827.9 356.3h0M325.8 360.6h0M305.0 473.2h0M816.8 361.2h0M829.4 364.5h0"/><path stroke="#62146d" d="M325.8 376.4h0M816.8 364.2h0M712.0 457.7h0M324.4 313.6h0M778.5 606.8h0M301.0 348.8h0M710.7 433.6h0M328.4 322.6h0M302.8 331.7h0M825.0 388.9h0M380.1 456.6h0M827.9 413.2h0M196.1 407.3h0M282.5 496.5h0M925.5 499.8h0M313.8 340.3h0M206.7 411.9h0M831.3 380.1h0M280.7 371.7h0M826.5 357.0h0M821.9 365.8h0M688.7 448.1h0"/><path stroke="#7a1d6b" d="M277.9 489.0h0M363.5 466.8h0M255.2 512.4h0M272.7 579.6h0M300.8 404.6h0M821.9 409.8h0M769.5 518.3h0M217.4 359.8h0M931.5 488.3h0M345.4 364.8h0M780.7 621.3h0M269.1 565.4h0M926.8 498.7h0M797.0 524.6h0M285.1 500.1h0M319.1 537.0h0M915.1 506.5h0M310.4 345.7h0M323.9 326.7h0M312.6 383.3h0M830.9 348.9h0M810.8 391.3h0"/><path stroke="#9b2963" d="M387.4 296.8h0M379.8 298.4h0M409.4 442.7h0M399.8 452.0h0M414.2 432.2h0M396.6 266.4h0M894.3 297.2h0M367.2 270.7h0M798.0 386.3h0M272.6 501.2h0M691.3 445.7h0M395.2 393.0h0M838.8 412.5h0M381.9 276.8h0M252.5 513.5h0M308.3 549.5h0M388.1 438.4h0M383.6 300.4h0M924.1 493.2h0M897.1 303.0h0M304.8 542.6h0M304.4 488.2h0"/><path stroke="#e6612d" d="M879.4 292.3h0M847.7 550.9h0M180.2 348.6h0M688.3 371.0h0M696.0 391.3h0M712.6 425.9h0M887.0 306.2h0M711.0 389.8h0M205.8 344.6h0M198.6 353.2h0M319.1 535.6h0M186.9 395.3h0M210.2 360.6h0M175.2 359.8h0M695.3 395.6h0M706.4 414.7h0M715.1 410.4h0M369.7 220.2h0M879.8 309.7h0M701.8 402.5h0M181.8 352.5h0M700.4 403.0h0"/><path stroke="#83206a" d="M906.6 508.8h0M810.0 406.2h0M341.2 357.7h0M294.7 360.8h0M686.2 402.8h0M333.2 316.0h0M322.2 388.7h0M693.2 414.6h0M877.7 480.1h0M319.4 409.4h0M264.1 671.5h0M805.5 419.8h0M261.2 569.1h0M222.2 385.1h0M351.8 389.2h0M762.4 409.3h0M772.5 599.4h0M286.5 507.6h0M262.9 497.9h0M791.5 541.2h0M886.7 483.3h0M828.1 355.9h0"/><path stroke="#721a6d" d="M297.2 501.0h0M823.5 354.9h0M304.7 370.6h0M813.6 399.6h0M194.4 427.9h0M838.7 386.4h0M872.6 482.1h0M192.6 434.4h0M170.8 385.2h0M720.3 450.8h0M797.7 531.9h0M837.9 359.5h0M316.4 339.0h0M316.4 322.1h0M300.3 354.5h0M188.7 411.8h0M275.1 477.5h0M830.9 354.4h0M307.0 361.7h0M417.2 325.0h0M304.3 420.1h0M317.3 395.3h0"/><path stroke="#e15933" d="M698.1 414.3h0M188.0 385.0h0M892.2 300.2h0M714.5 384.0h0M905.3 271.0h0M184.4 383.5h0M699.4 400.8h0M686.3 395.1h0M879.2 301.7h0M671.6 374.7h0M710.6 413.9h0M896.1 304.0h0M213.4 362.9h0M845.5 532.7h0M691.5 396.1h0M706.3 422.3h0M169.1 389.7h0M205.2 351.4h0M706.3 400.6h0M185.8 402.3h0M202.7 335.3h0M192.4 375.9h0"/><path stroke="#9b2963" d="M897.9 512.3h0M323.1 382.5h0M384.8 288.4h0M891.4 298.0h0M889.7 288.5h0M887.7 301.3h0M337.4 387.8h0M805.5 391.0h0M698.0 435.4h0M861.1 481.3h0M384.7 286.3h0M680.1 449.7h0M853.4 415.4h0M876.8 487.4h0M798.1 416.7h0M914.7 613.2h0M368.4 281.0h0M380.7 277.5h0M404.0 471.2h0M892.5 252.5h0M374.7 286.3h0M780.4 621.8h0"/><path stroke="#a32d5f" d="M314.9 546.5h0M889.6 303.3h0M377.5 297.8h0M382.5 281.8h0"/><path stroke="#d04744" d="M381.5 249.5h0M890.5 306.2h0M888.0 293.2h0M385.3 287.6h0M381.1 284.8h0M901.5 303.8h0M180.1 431.5h0M389.2 267.4h0M321.6 487.0h0M402.0 238.9h0M378.4 252.5h0M916.1 222.3h0M394.7 280.0h0M390.3 249.5h0M884.2 291.8h0M886.9 297.9h0M696.7 401.1h0M377.0 264.8h0M379.6 254.6h0M900.5 297.8h0M391.9 234.8h0M894.1 288.7h0"/><path stroke="#721a6d" d="M351.0 326.2h0M267.1 524.6h0M762.1 600.3h0M800.9 543.2h0M801.3 415.6h0M164.8 380.3h0M778.7 393.6h0M315.7 342.4h0M156.5 373.4h0M262.5 555.0h0M313.3 345.0h0M185.8 377.3h0M328.5 377.9h0M427.7 470.3h0M711.2 458.4h0M299.1 353.0h0M316.1 334.2h0M325.2 312.0h0M323.3 307.6h0M300.9 341.2h0M329.2 368.6h0M832.8 385.0h0"/><path stroke="#c9414a" d="M885.7 275.2h0M380.7 263.9h0M889.4 287.2h0M685.7 414.2h0M889.9 297.8h0M377.3 249.8h0M380.7 263.1h0M375.9 269.3h0M410.5 313.7h0M899.4 290.2h0M322.1 477.4h0M391.5 249.2h0M386.8 265.7h0M175.0 369.0h0M380.4 226.7h0M893.0 290.0h0M387.5 268.4h0M380.9 262.6h0M885.6 304.6h0M380.9 257.7h0M910.0 307.9h0M914.9 298.4h0"/><path stroke="#f58116" d="M325.3 530.0h0M694.4 401.0h0M327.8 499.0h0M322.2 514.8h0M333.2 511.0h0M173.7 402.0h0M832.9 557.4h0M688.0 391.2h0M708.2 402.5h0M845.8 549.2h0M336.0 493.7h0M179.5 356.3h0M364.4 233.2h0M706.5 416.6h0M195.8 359.1h0M207.1 363.9h0M710.0 409.1h0M703.9 392.4h0M691.8 388.9h0M332.2 499.5h0M850.7 541.0h0M344.7 232.8h0"/><path stroke="#721a6d" d="M775.5 516.3h0M308.3 334.4h0M727.1 396.5h0M816.2 410.0h0M917.0 467.9h0M744.1 349.7h0M696.7 461.3h0M809.5 398.8h0M803.3 411.6h0M367.7 401.4h0M315.1 336.2h0M811.4 398.7h0M315.0 330.5h0M307.8 337.3h0M820.9 357.0h0M172.2 396.8h0M832.6 363.0h0M817.1 360.1h0M704.8 447.0h0M311.8 354.4h0M279.9 497.5h0M814.8 355.7h0"/><path stroke="#62146d" d="M650.1 440.7h0M327.8 357.6h0M820.1 409.3h0M128.7 375.8h0M842.0 359.1h0M324.5 322.0h0M812.3 400.0h0M168.2 418.7h0M818.7 364.9h0M676.9 465.1h0M726.4 446.0h0M710.8 441.6h0M354.5 463.0h0M148.7 383.6h0M698.1 437.7h0M825.4 351.4h0M318.4 362.6h0M309.7 343.1h0M327.9 319.3h0M337.6 323.6h0M815.0 353.5h0M316.3 314.2h0"/><path stroke="#d04744" d="M393.4 251.9h0M873.9 308.9h0M399.9 250.6h0M689.6 397.4h0M195.0 340.7h0M377.9 256.7h0M838.1 546.6h0M901.6 298.3h0M881.9 308.3h0M185.5 413.4h0M890.0 295.4h0M800.7 194.9h0M390.4 231.2h0M700.4 400.7h0M889.1 303.6h0M893.3 303.6h0M887.9 299.8h0M903.6 296.2h0M885.8 298.6h0M405.9 259.4h0M886.4 300.0h0M888.6 317.4h0"/><path stroke="#62146d" d="M320.5 342.8h0M310.8 340.3h0M839.3 360.6h0M811.6 357.6h0M814.8 382.0h0M824.4 366.1h0M690.9 427.2h0M711.0 428.5h0M323.4 317.1h0M811.3 407.8h0M813.9 358.8h0M936.6 475.3h0M841.1 427.7h0M315.5 338.3h0M316.5 368.0h0M820.8 361.2h0M312.8 333.1h0M836.2 370.3h0M337.9 328.2h0M299.0 359.6h0M359.3 397.7h0M712.2 441.1h0"/><path stroke="#b43458" d="M397.5 296.1h0M895.5 305.9h0M905.5 299.2h0M897.0 305.0h0M927.5 287.1h0M383.0 277.0h0M361.6 283.0h0M383.5 293.7h0M382.5 274.7h0M906.2 303.5h0M893.2 300.6h0M884.3 304.2h0M886.7 294.7h0M379.6 279.4h0M822.8 499.5h0M380.2 257.4h0M818.5 509.7h0M833.4 509.0h0M388.0 270.1h0M885.5 300.4h0M379.1 262.3h0M385.6 263.8h0"/><path stroke="#5a126c" d="M321.3 378.8h0M826.2 395.8h0M301.9 383.8h0M281.2 365.5h0M824.2 364.6h0M755.3 617.5h0M820.1 370.5h0M825.0 366.3h0M798.1 458.2h0M822.0 376.5h0M315.6 354.0h0M715.3 471.6h0M336.0 346.2h0M785.3 407.9h0M192.0 393.4h0M806.5 400.6h0M299.8 381.3h0M700.3 451.2h0M808.0 399.9h0M355.6 383.9h0M284.0 507.6h0M678.6 395.4h0"/><path stroke="#c33c4f" d="M911.1 304.2h0M315.0 474.3h0M896.9 297.8h0M227.8 398.4h0M888.4 302.3h0M892.1 315.7h0M881.8 312.6h0M206.2 345.6h0M895.0 303.5h0M391.2 275.3h0M379.0 258.2h0M883.4 304.6h0M889.0 295.3h0M377.1 265.7h0M379.6 277.5h0M870.2 306.0h0M834.0 519.3h0M908.6 310.6h0M894.4 299.4h0M383.9 282.6h0M868.7 314.5h0M187.5 397.1h0"/><path stroke="#6a176e" d="M303.1 356.3h0M300.9 340.3h0M755.2 631.4h0M911.6 480.9h0M324.6 378.2h0M323.4 354.7h0M834.0 371.7h0M208.6 415.6h0M915.3 499.0h0M341.0 316.9h0M827.6 361.9h0M809.2 408.2h0M633.3 385.2h0M323.8 314.3h0M894.8 500.8h0M722.5 425.3h0M816.3 358.7h0M329.4 313.5h0M323.0 357.8h0M713.8 434.8h0M261.3 524.8h0M837.1 363.8h0"/><path stroke="#d04744" d="M696.6 392.4h0M888.1 315.7h0M378.4 256.6h0M888.2 313.6h0M401.9 245.9h0M179.4 358.0h0M322.1 489.6h0M891.6 304.0h0M684.5 398.8h0M430.1 256.9h0M884.1 316.6h0M187.1 377.0h0M888.9 296.9h0M386.6 251.6h0M394.2 257.6h0M898.9 307.5h0M890.0 308.8h0M327.4 480.6h0M377.6 262.9h0M701.3 399.7h0M382.9 266.3h0M886.0 311.3h0"/><path stroke="#bc3754" d="M379.7 267.2h0M379.6 268.1h0M891.5 294.1h0M697.1 402.4h0M881.7 311.7h0M896.9 306.8h0M891.9 316.8h0M890.8 303.5h0M829.6 516.4h0M710.1 421.1h0M391.3 274.8h0M895.9 305.0h0M402.6 241.7h0M889.3 294.0h0M376.8 268.4h0M917.0 298.4h0M314.6 472.9h0M380.2 266.7h0M379.7 255.7h0M888.6 297.5h0M901.1 294.5h0M194.0 373.0h0"/><path stroke="#5a126c" d="M337.7 404.6h0M840.6 366.8h0M712.7 459.3h0M808.4 357.9h0M857.9 402.1h0M832.2 366.3h0M332.1 322.0h0M768.0 531.0h0M796.9 409.3h0M866.6 486.7h0M914.7 469.1h0M811.8 409.3h0M158.8 405.8h0M326.7 361.4h0M318.4 344.3h0M344.3 361.7h0M285.5 365.1h0M694.0 444.3h0M824.7 405.7h0M402.9 486.4h0M837.5 390.0h0M283.9 367.5h0"/><path stroke="#6a176e" d="M347.4 335.2h0M255.4 383.1h0M415.5 483.6h0M303.7 350.5h0M716.7 450.1h0M321.3 327.5h0M315.8 347.7h0M328.0 313.7h0M685.9 429.5h0M308.5 347.0h0M152.4 404.0h0M832.8 368.5h0M339.0 390.1h0M830.0 366.5h0M310.7 341.5h0M359.4 406.7h0M291.4 344.2h0M167.9 383.0h0M847.3 424.9h0M827.4 355.2h0M690.2 483.7h0M830.1 400.9h0"/><path stroke="#dd513a" d="M714.2 387.3h0M371.1 259.4h0M683.6 413.7h0M831.5 541.8h0M187.0 359.4h0M889.7 300.4h0M398.8 251.9h0M199.0 363.9h0M430.2 278.3h0M395.7 258.7h0M184.8 353.8h0M703.4 444.4h0M382.5 242.8h0M686.2 428.9h0M186.8 354.0h0M395.0 254.1h0M703.4 399.2h0M931.5 260.8h0M692.4 406.3h0M183.3 342.7h0M715.0 414.7h0M384.2 240.9h0"/><path stroke="#5a126c" d="M670.9 465.5h0M360.7 375.6h0M717.9 445.7h0M846.8 355.2h0M671.8 447.0h0M842.2 376.8h0M316.2 340.0h0M325.2 380.1h0M311.3 336.7h0M330.0 376.0h0M814.9 362.6h0M843.9 420.4h0M161.9 396.0h0M701.0 445.5h0M276.8 519.7h0M698.2 432.3h0M324.0 330.1h0M325.4 316.1h0M714.4 442.2h0M712.2 460.5h0M839.9 409.2h0M164.1 388.2h0"/><path stroke="#8b2368" d="M313.7 531.1h0M798.2 396.8h0M420.8 438.6h0M845.7 407.6h0M333.2 385.5h0M293.2 507.3h0M353.6 352.7h0M287.1 375.8h0M147.8 418.8h0M378.8 298.1h0M318.9 366.9h0M265.7 521.0h0M402.4 415.1h0M408.5 445.0h0M703.5 437.4h0M346.8 392.8h0M714.6 447.7h0M906.8 260.2h0M790.7 389.5h0M278.2 354.3h0M384.0 297.4h0M795.9 527.5h0"/><path stroke="#62146d" d="M186.3 401.5h0M311.3 345.2h0M314.4 347.1h0M316.1 340.3h0M178.4 416.0h0M188.8 446.6h0M325.7 406.2h0M897.8 487.8h0M904.2 509.3h0M822.0 352.8h0M275.0 474.2h0M155.8 394.6h0M813.5 395.3h0M313.5 333.1h0M316.2 348.2h0M326.3 343.0h0M820.7 358.6h0M842.3 525.1h0M176.6 403.0h0M338.4 355.5h0M297.9 349.8h0M839.6 363.1h0"/><path stroke="#8b2368" d="M420.4 393.4h0M698.2 467.5h0M304.5 328.1h0M299.2 399.2h0M273.5 486.8h0M345.2 471.2h0"/><path stroke="#b43458" d="M381.5 274.8h0M899.7 270.5h0M324.4 541.9h0M391.2 253.0h0M386.4 275.6h0M893.1 294.5h0M880.3 314.4h0M899.0 294.3h0M392.3 261.4h0M381.6 261.7h0M884.3 303.6h0M889.8 315.0h0M830.5 509.1h0M723.3 434.0h0M842.6 506.8h0M897.9 300.5h0M313.7 478.9h0M181.5 359.3h0M381.2 269.8h0M877.5 304.7h0M930.3 288.9h0M827.4 526.1h0"/><path stroke="#721a6d" d="M946.4 492.5h0M798.2 399.4h0M277.6 493.5h0M320.1 342.9h0M386.5 457.8h0M310.4 353.1h0M185.8 352.5h0M877.7 481.8h0M807.4 415.0h0M411.3 426.6h0M419.0 454.1h0M312.4 368.6h0M698.0 413.3h0M849.5 364.7h0M921.2 451.7h0M872.7 421.8h0M838.6 532.9h0M658.6 425.0h0M834.7 408.9h0M828.2 360.8h0M355.2 392.5h0M697.9 441.2h0"/><path stroke="#932667" d="M696.3 393.7h0M778.8 519.7h0M901.7 300.9h0M409.9 235.2h0M895.7 551.1h0M380.5 509.3h0M209.2 413.7h0M219.7 382.3h0M210.2 388.9h0M955.0 221.8h0M377.9 274.9h0M756.4 275.8h0M799.7 403.2h0M334.5 384.2h0M174.0 142.9h0M182.6 397.5h0M673.4 458.9h0M873.6 235.2h0M803.2 376.6h0M288.0 364.4h0M776.9 515.8h0M292.3 372.7h0"/><path stroke="#ea6826" d="M664.6 418.3h0M679.1 402.3h0M689.3 381.6h0M176.2 350.8h0M834.1 558.7h0M700.8 401.5h0M700.9 429.1h0M191.7 378.6h0M713.9 406.0h0M189.7 353.5h0M417.0 261.2h0M205.8 362.3h0M691.0 378.2h0M692.0 392.6h0M185.1 365.4h0M675.8 402.1h0M199.9 342.8h0M780.7 354.0h0M697.1 401.4h0M196.9 362.5h0M211.5 349.8h0M690.5 422.7h0"/><path stroke="#62146d" d="M182.1 408.3h0M697.7 455.5h0M284.5 374.3h0M832.6 393.7h0M311.3 356.7h0M420.1 436.1h0M316.5 339.2h0M776.5 524.5h0M363.2 401.1h0M336.0 309.7h0M729.7 436.5h0M178.5 378.9h0M301.0 359.6h0M720.6 454.6h0M325.4 316.0h0M803.6 381.0h0M697.0 428.2h0M335.3 316.2h0M287.8 364.6h0M259.9 340.5h0M810.4 416.2h0M347.3 384.0h0"/><path stroke="#932667" d="M327.5 379.2h0M864.3 487.2h0M356.9 407.0h0M793.7 396.7h0M356.0 412.4h0M718.6 443.7h0M353.7 458.0h0M347.9 392.4h0M912.4 249.3h0M263.4 512.9h0M266.3 493.6h0M290.7 368.6h0M322.7 394.9h0M848.7 418.0h0M823.7 417.3h0M367.2 292.1h0M784.5 508.1h0M939.9 489.6h0M325.3 341.6h0M397.3 618.8h0M207.1 391.5h0M261.8 430.9h0"/><path stroke="#f58116" d="M678.3 391.8h0M727.7 394.9h0M707.6 402.2h0M313.8 549.0h0M197.0 359.7h0M198.6 356.1h0M698.8 387.8h0M708.1 391.8h0M698.4 401.9h0M201.3 364.4h0M899.3 255.1h0M836.1 546.3h0M284.3 319.1h0M781.2 350.1h0M328.5 476.8h0M712.2 394.4h0M679.5 402.3h0M327.4 506.3h0M680.2 398.0h0M697.6 399.8h0M328.8 501.3h0M686.7 387.6h0"/><path stroke="#721a6d" d="M812.5 387.9h0M805.0 389.2h0M307.3 346.6h0M293.5 365.2h0M335.3 368.4h0M726.1 426.0h0M686.2 462.2h0M331.3 312.8h0M714.2 447.3h0M768.2 521.0h0M431.6 334.8h0M345.8 306.8h0M173.1 391.4h0M809.9 358.8h0M339.2 329.4h0M836.6 368.6h0M321.5 377.0h0M819.4 374.0h0M932.8 472.7h0M821.2 392.1h0M722.9 408.3h0M844.0 359.9h0"/><path stroke="#4a0d69" d="M828.2 365.7h0M310.1 518.9h0M853.2 385.0h0M204.6 391.9h0M816.3 422.1h0M717.3 424.9h0M223.3 397.0h0M791.3 378.5h0M337.6 314.5h0M829.5 387.8h0M329.1 317.9h0M756.5 597.0h0M813.0 409.8h0M319.9 323.1h0M809.9 525.7h0M335.3 352.1h0M818.6 366.9h0M417.0 457.3h0M312.0 382.1h0M286.6 502.7h0M834.2 506.8h0M816.7 406.4h0"/><path stroke="#d04744" d="M816.2 503.9h0M891.8 289.5h0M197.8 342.9h0M891.0 304.8h0M889.2 303.4h0M388.5 246.2h0M894.4 293.9h0M387.3 274.4h0M882.1 305.1h0M906.9 306.1h0M407.1 261.1h0M394.2 260.9h0M420.6 286.2h0M194.7 357.0h0M812.4 403.2h0M378.9 261.7h0M728.5 414.1h0M184.0 360.6h0M390.6 245.3h0M895.5 304.2h0M404.3 249.2h0M387.7 276.0h0"/><path stroke="#bc3754" d="M374.9 264.1h0M902.4 302.1h0M903.8 306.3h0M830.8 519.5h0M897.6 309.2h0M884.3 305.6h0M887.9 310.0h0M383.7 256.6h0M392.4 274.9h0M379.1 277.1h0M825.1 504.7h0M893.8 315.9h0M383.7 231.9h0M396.9 231.9h0M895.7 296.0h0M899.7 303.6h0M838.1 499.6h0"/><path stroke="#62146d" d="M216.7 422.2h0M811.5 397.0h0M333.2 319.8h0M334.5 319.8h0M839.9 357.6h0M307.7 354.0h0M827.2 376.5h0M318.4 320.1h0M287.0 351.6h0M347.1 316.2h0M825.2 366.9h0M822.5 347.7h0M334.2 325.3h0M850.0 413.0h0M835.3 362.6h0M842.8 361.1h0M308.6 358.6h0M831.2 371.0h0M314.2 386.3h0M311.8 399.0h0M320.9 337.2h0M717.2 438.6h0"/><path stroke="#d64c3f" d="M402.6 230.6h0M912.4 296.9h0M388.2 256.4h0M910.6 332.5h0M899.6 311.9h0M883.5 295.6h0M380.5 265.1h0M877.0 294.1h0M836.5 545.6h0M200.9 323.4h0M380.2 253.8h0M383.8 263.5h0M390.7 248.8h0M383.9 254.9h0M701.4 402.4h0M888.6 296.7h0M402.7 273.0h0M376.0 260.6h0M377.9 251.7h0M877.9 309.6h0M395.0 247.5h0M203.3 374.2h0"/><path stroke="#6a176e" d="M352.2 406.2h0M327.8 321.8h0M154.3 409.3h0M282.1 480.6h0M333.3 322.9h0M318.1 339.9h0M310.7 376.0h0M278.7 373.1h0M300.6 368.6h0M830.8 370.7h0M252.4 386.3h0M838.0 361.8h0M823.2 353.0h0M316.3 337.5h0M831.7 539.5h0M333.0 324.8h0M831.5 388.8h0M390.1 456.2h0M828.4 363.8h0M329.6 318.6h0M699.2 443.9h0M317.3 351.0h0"/><path stroke="#c9414a" d="M894.3 302.4h0M830.3 418.7h0M891.9 308.0h0M313.5 466.4h0M897.5 298.0h0M824.8 512.1h0M395.1 231.8h0M832.3 513.0h0M722.6 404.7h0M884.4 304.6h0M881.3 301.2h0M192.7 348.1h0M818.6 505.0h0M887.3 304.0h0M903.1 297.2h0M421.0 239.8h0M900.3 287.2h0M385.5 261.2h0M383.6 271.0h0M880.7 275.6h0M375.3 280.7h0M907.3 298.0h0"/><path stroke="#d04744" d="M902.8 296.6h0M382.3 260.9h0M893.8 294.5h0M892.2 286.5h0M886.3 310.1h0M376.4 270.0h0M372.7 264.3h0M205.0 352.6h0M183.2 380.0h0M321.4 484.5h0M891.1 307.4h0M385.6 268.5h0M893.1 301.1h0M210.2 348.2h0M375.8 262.7h0M197.1 342.4h0M387.6 277.6h0M887.5 301.0h0M180.0 363.1h0M879.7 306.8h0M384.0 277.8h0M387.7 272.5h0"/><path stroke="#f58116" d="M338.2 501.3h0M329.9 502.9h0M323.5 503.9h0M695.0 422.8h0M703.5 404.9h0M189.8 365.5h0M693.6 402.7h0M322.9 522.4h0M693.3 392.5h0M686.1 422.9h0M711.2 384.9h0M836.3 544.8h0M204.4 358.9h0M696.6 395.5h0M820.0 576.0h0M189.2 362.9h0M686.5 403.3h0M844.8 547.9h0M209.1 348.1h0M689.7 393.0h0M193.7 346.7h0M776.4 357.3h0"/><path stroke="#6a176e" d="M850.1 404.0h0M907.8 521.2h0M191.0 384.3h0M197.6 380.0h0M261.8 574.9h0M322.1 328.5h0M301.3 358.8h0M796.8 401.6h0M182.7 420.4h0M319.5 338.5h0M243.2 506.5h0M813.9 362.0h0M318.5 313.8h0M782.6 520.9h0M317.4 322.8h0M811.5 395.5h0M313.6 371.3h0M263.4 557.4h0M808.2 173.4h0M319.2 333.6h0M291.7 370.2h0M304.0 363.7h0"/><path stroke="#d64c3f" d="M875.8 308.8h0M906.0 287.4h0M195.3 336.8h0M376.6 267.1h0M185.0 366.9h0M872.2 307.4h0M883.8 303.4h0M379.7 237.3h0M895.7 302.8h0M392.0 245.7h0M200.2 364.2h0M324.0 494.2h0M889.0 295.3h0M688.7 436.8h0M391.3 220.3h0M919.9 279.1h0M898.7 303.8h0M692.2 406.2h0M894.6 279.4h0M381.8 221.5h0M698.1 415.9h0M193.0 357.9h0"/><path stroke="#dd513a" d="M185.3 389.5h0M705.0 415.9h0M192.9 377.4h0M884.6 312.8h0M885.2 303.3h0M193.7 353.4h0M896.3 303.0h0M386.3 262.0h0M715.7 411.6h0M700.8 414.3h0M328.0 483.9h0M190.5 359.1h0M693.4 395.0h0M377.0 252.9h0M883.5 306.5h0M244.0 392.0h0M383.7 254.6h0M902.5 302.6h0M907.8 302.6h0M708.9 408.5h0M166.7 381.7h0M193.3 384.3h0"/><path stroke="#fa9c0d" d="M710.9 431.5h0M339.2 497.9h0M866.6 539.4h0M328.5 510.8h0M830.4 556.7h0M353.7 207.0h0M321.7 519.8h0M323.1 492.9h0M831.1 534.1h0M337.3 509.3h0M697.3 406.8h0M317.6 545.9h0M189.4 372.2h0M322.7 519.7h0M327.9 511.8h0M316.7 534.0h0M688.6 399.2h0M729.0 410.5h0M843.8 542.8h0M287.3 328.2h0M334.9 502.6h0M334.3 502.3h0"/><path stroke="#6a176e" d="M772.8 527.3h0M325.3 315.7h0M325.9 305.3h0M316.8 353.6h0M826.6 402.3h0M721.1 428.5h0M729.1 451.9h0M329.4 331.5h0M338.6 389.7h0M312.0 330.4h0M912.7 479.5h0M688.2 446.1h0M183.6 392.7h0M310.9 336.5h0M305.5 397.7h0M694.2 436.7h0M347.5 363.0h0M832.1 363.5h0M816.9 395.8h0M381.3 404.2h0M830.6 371.0h0M331.1 378.7h0"/><path stroke="#6a176e" d="M326.6 337.9h0M855.3 414.4h0M305.3 379.2h0M337.3 408.6h0M919.0 480.8h0M306.9 341.6h0M308.7 350.5h0M766.0 520.0h0M822.8 370.2h0M696.3 494.8h0M837.9 360.4h0M825.8 405.7h0M841.4 360.7h0M824.7 367.9h0M823.9 368.6h0M831.8 361.8h0M318.3 334.2h0M820.2 408.2h0M816.9 405.4h0M683.9 425.1h0M819.0 357.2h0M832.2 358.9h0"/><path stroke="#dd513a" d="M889.6 303.3h0M712.6 397.8h0M396.7 239.5h0M893.8 312.8h0M876.0 278.5h0M694.9 430.9h0M184.9 382.5h0M858.1 481.2h0M197.5 349.8h0M200.2 345.5h0M326.3 490.0h0M213.4 357.1h0M394.3 247.1h0M378.0 270.0h0M390.7 264.9h0M194.5 376.7h0M184.1 393.5h0M390.3 244.4h0M370.4 264.6h0M699.8 391.2h0M692.1 408.1h0M696.9 426.6h0"/><path stroke="#dd513a" d="M700.6 408.2h0M889.3 307.9h0M313.9 548.4h0M386.4 240.3h0M675.0 399.1h0M898.5 304.1h0M706.4 421.6h0M331.0 494.2h0M392.4 237.3h0M889.0 310.1h0M190.7 350.2h0M176.4 347.0h0M197.8 340.5h0M198.9 356.9h0M707.4 407.1h0M195.5 379.8h0M375.4 270.0h0M899.5 309.5h0M695.6 416.6h0M319.8 481.1h0M866.4 296.3h0M199.5 355.1h0"/><path stroke="#fa9c0d" d="M692.6 384.7h0M189.4 367.8h0M332.7 525.1h0M337.5 509.9h0M690.1 408.3h0M823.8 566.2h0M333.1 512.3h0"/><path stroke="#f58116" d="M695.7 405.4h0M686.1 405.2h0M833.5 557.1h0M665.0 385.1h0M688.8 404.9h0M823.9 558.8h0M842.9 556.4h0M817.4 581.6h0M184.7 368.6h0M191.9 349.5h0M713.7 387.7h0M839.2 535.6h0M209.9 355.2h0M187.2 373.2h0M686.1 408.9h0M315.6 542.1h0M310.1 537.2h0M223.1 391.2h0M833.5 540.4h0M331.8 499.7h0M830.6 567.9h0M248.3 425.0h0"/><path stroke="#520f6a" d="M336.9 330.9h0M352.4 394.2h0M325.2 323.5h0M830.8 371.1h0M330.0 306.9h0M787.9 408.4h0M307.6 366.5h0M173.4 377.0h0M678.3 449.7h0M325.4 326.1h0M762.4 489.8h0M316.0 364.2h0M810.5 407.1h0M723.4 433.5h0M312.6 321.7h0M813.3 361.7h0M840.9 155.9h0M332.6 382.7h0M147.4 431.2h0M807.9 396.1h0M698.7 469.8h0M333.9 358.8h0"/><path stroke="#6a176e" d="M832.2 359.6h0M330.9 322.4h0M326.2 324.6h0M824.8 353.8h0M818.2 371.2h0M823.7 425.4h0M418.2 427.3h0M830.3 519.4h0M829.9 528.2h0M441.1 431.3h0M282.8 493.3h0M304.6 383.1h0M346.7 318.4h0M326.5 366.3h0M274.1 488.7h0M819.4 385.6h0M827.4 401.2h0M306.4 337.8h0M804.8 363.6h0M831.0 362.5h0M340.1 381.5h0M187.1 402.9h0"/><path stroke="#ef7020" d="M698.0 414.8h0M196.0 358.1h0M837.4 537.4h0M694.4 404.3h0M842.0 560.4h0M696.8 399.4h0M710.4 399.1h0M901.3 272.5h0M842.9 546.6h0M693.2 412.6h0M697.0 403.9h0M777.1 356.9h0M324.8 525.5h0M209.1 351.7h0M715.1 391.1h0M715.0 391.3h0M411.9 237.4h0M358.3 198.0h0M837.0 534.9h0M705.5 414.6h0M841.4 555.3h0M711.7 403.6h0"/><path stroke="#e6612d" d="M898.7 291.2h0M693.0 393.8h0M191.0 360.8h0M191.4 393.7h0M706.6 388.8h0M676.7 403.0h0M201.6 371.5h0M381.6 246.9h0M190.9 394.5h0M706.3 380.7h0M202.1 341.6h0M324.8 479.5h0M838.7 528.9h0M885.8 304.2h0M695.3 418.1h0M193.0 360.0h0M192.0 363.6h0M710.6 416.1h0M188.0 354.0h0M686.7 398.8h0M197.0 351.6h0M681.6 412.4h0"/><path stroke="#6a176e" d="M314.0 340.4h0M678.9 455.9h0M151.8 411.0h0M300.3 359.5h0M889.2 483.8h0M312.0 346.4h0M835.0 362.5h0M371.0 407.2h0M309.9 343.2h0M815.4 365.4h0M824.6 353.1h0M318.7 350.9h0M163.3 378.2h0M310.8 346.1h0M293.0 477.3h0M777.6 524.0h0M316.3 338.9h0M309.6 343.9h0M274.1 475.1h0M822.9 395.3h0M213.5 412.4h0M318.4 318.5h0"/><path stroke="#7a1d6b" d="M291.0 519.2h0M829.2 394.4h0M857.6 429.2h0M697.6 442.6h0M423.1 438.1h0M414.2 479.8h0M346.3 324.9h0M853.1 400.0h0M753.0 384.0h0M684.9 422.9h0M258.2 499.0h0M653.1 150.6h0M811.8 418.0h0M807.3 354.8h0M684.8 431.7h0M328.0 391.9h0M825.8 345.6h0M828.7 360.9h0M833.9 381.9h0M700.8 416.1h0M149.3 383.1h0M286.6 500.4h0"/><path stroke="#932667" d="M714.5 400.7h0M841.6 393.5h0M403.9 229.9h0M200.5 379.2h0M828.6 404.3h0M378.4 290.9h0M401.5 439.6h0M380.6 339.3h0M287.3 496.0h0M404.0 458.8h0M273.3 468.3h0M223.2 404.7h0M329.1 375.0h0M650.3 403.7h0M155.1 397.9h0M422.3 463.0h0M266.8 502.7h0M179.2 405.2h0M305.2 378.1h0M372.0 260.0h0M400.9 449.4h0M351.1 406.7h0"/><path stroke="#83206a" d="M261.9 563.0h0M342.1 399.8h0M804.9 408.9h0M265.7 486.5h0M186.1 377.2h0M267.8 393.0h0M327.5 339.7h0M810.7 538.0h0M314.9 353.8h0M389.5 289.2h0M812.7 400.2h0M317.0 339.1h0M341.5 379.3h0M813.0 419.7h0M192.0 420.6h0M702.7 435.5h0M851.5 393.8h0M903.5 494.9h0M353.3 405.3h0M808.8 392.0h0M918.3 483.5h0M330.7 380.4h0"/><path stroke="#6a176e" d="M836.9 376.0h0M312.7 346.5h0M151.6 375.4h0M812.9 354.7h0M821.2 362.8h0M312.9 558.4h0M700.0 439.7h0M327.1 391.5h0M688.4 431.3h0M343.6 388.6h0M340.8 388.5h0M818.6 405.0h0M773.2 464.4h0M278.5 346.1h0M304.5 345.7h0M816.9 399.4h0M821.7 367.8h0M815.6 395.8h0M824.8 369.2h0M789.8 515.4h0M318.9 342.6h0M833.9 356.0h0"/><path stroke="#6a176e" d="M828.0 363.0h0M757.4 527.9h0M701.6 441.0h0M911.5 527.3h0M273.1 580.0h0M830.3 352.8h0M200.6 384.8h0M829.2 418.0h0M308.1 343.9h0M272.2 505.0h0M313.8 320.7h0M750.2 427.2h0M333.7 363.5h0M331.9 337.8h0M690.5 446.7h0M821.2 374.1h0M801.1 405.2h0M813.9 400.6h0M829.9 366.0h0M825.9 393.6h0M828.2 363.6h0M762.0 520.3h0"/><path stroke="#bc3754" d="M890.9 300.2h0M383.3 279.5h0M903.5 304.5h0M902.8 280.4h0M888.6 312.6h0M824.3 518.8h0M838.2 510.8h0M370.2 289.3h0M881.5 303.5h0M818.9 521.9h0M379.8 276.3h0M201.8 379.0h0M206.2 360.5h0M385.6 258.6h0M890.5 296.5h0M691.0 432.1h0M887.9 293.7h0M883.4 297.5h0M387.5 282.2h0M894.5 300.1h0M876.7 318.3h0M379.7 272.5h0"/><path stroke="#7a1d6b" d="M296.3 356.4h0M796.3 394.2h0M843.8 401.5h0M860.9 407.9h0M822.2 412.7h0M665.0 425.2h0M694.5 423.7h0M832.6 377.1h0M841.3 514.5h0M187.0 377.1h0M676.4 454.6h0M289.7 432.6h0M316.3 342.6h0M815.1 398.2h0M794.0 520.6h0M825.3 356.3h0M668.5 437.1h0M920.6 487.6h0M663.7 447.2h0M322.0 331.4h0M325.1 346.6h0M797.5 403.1h0"/><path stroke="#721a6d" d="M296.9 473.7h0M820.8 409.2h0M309.0 353.6h0M318.9 336.8h0M848.3 417.6h0M297.8 462.0h0M900.8 483.8h0M304.8 332.6h0M819.7 361.1h0M715.0 435.1h0M264.6 559.5h0M330.9 314.9h0M303.3 354.3h0M305.7 343.4h0M275.9 459.7h0M718.1 461.5h0M788.5 640.0h0M299.6 366.6h0M297.9 336.6h0M282.4 352.1h0M701.5 557.9h0M156.3 414.9h0"/><path stroke="#c33c4f" d="M885.6 230.3h0M954.4 300.5h0M891.7 307.4h0M934.1 315.4h0M376.8 278.7h0M896.4 297.0h0M884.1 298.7h0M905.8 315.1h0M908.2 307.0h0M385.2 258.1h0M380.2 264.6h0M370.4 245.6h0M379.5 262.7h0M830.7 521.6h0M895.8 303.7h0M831.3 505.8h0M379.2 277.5h0M379.1 269.0h0M887.4 314.6h0M389.4 285.6h0M205.6 361.0h0M821.2 509.7h0"/><path stroke="#f37819" d="M657.4 399.6h0M698.7 401.8h0M703.8 391.2h0M703.8 379.8h0M210.4 362.1h0M706.0 413.1h0M683.5 386.9h0M843.8 548.4h0M672.2 404.8h0M215.3 333.1h0M816.2 584.7h0M688.3 401.7h0M183.0 360.9h0M826.5 571.4h0M202.8 356.8h0M678.2 404.3h0M828.9 549.3h0M780.6 348.2h0M705.7 392.5h0M373.4 271.6h0M713.3 394.6h0M686.6 411.0h0"/><path stroke="#7a1d6b" d="M826.0 371.0h0M171.7 400.9h0M315.2 352.2h0M906.7 491.2h0M827.2 356.1h0M318.3 333.9h0M730.4 464.1h0M371.4 426.9h0M830.1 386.4h0M787.3 532.8h0M820.2 402.0h0M179.8 379.1h0M339.7 331.3h0M776.6 394.0h0M276.9 353.5h0M305.6 467.8h0M810.5 399.4h0M694.0 459.9h0M821.4 369.4h0M830.3 362.0h0M312.6 339.6h0M272.9 474.7h0"/><path stroke="#83206a" d="M689.4 451.5h0M307.9 376.6h0M714.4 470.4h0M859.1 404.8h0M766.2 523.1h0M404.8 443.4h0M270.5 367.6h0M796.3 388.7h0M827.9 409.8h0M313.9 375.1h0M279.7 515.6h0M915.9 475.3h0M294.4 355.9h0M302.3 543.1h0M671.8 433.5h0M312.7 335.0h0M732.9 439.8h0M911.1 492.2h0M767.3 618.0h0M752.6 396.6h0M779.5 520.5h0M318.2 331.5h0"/><path stroke="#bc3754" d="M887.6 303.5h0M878.9 310.9h0M395.2 340.0h0M388.4 269.2h0M897.5 300.4h0M901.5 297.3h0M891.0 308.4h0M370.6 273.9h0M903.4 260.6h0M872.5 304.1h0M882.7 303.7h0M390.5 246.0h0M886.4 294.7h0M385.4 267.5h0M384.0 267.0h0M382.4 267.9h0M378.4 276.9h0M826.2 516.7h0M887.2 305.3h0M223.4 381.4h0M895.9 302.6h0M378.7 331.5h0"/><path stroke="#d64c3f" d="M387.3 248.3h0M203.7 355.8h0M386.6 275.1h0M788.0 399.2h0M199.7 353.3h0M407.8 271.9h0M379.3 263.3h0M388.7 252.2h0M901.5 297.5h0M899.9 305.8h0M707.4 387.6h0M279.3 171.7h0M722.6 440.4h0M392.6 259.7h0M373.2 275.5h0M390.3 244.7h0M326.1 484.7h0M178.3 384.9h0M381.4 249.5h0M193.5 357.7h0M369.7 258.2h0M196.1 497.4h0"/><path stroke="#83206a" d="M683.2 428.6h0M329.0 366.6h0M668.4 400.1h0M262.7 586.6h0M280.7 505.8h0M319.0 364.2h0M637.6 506.2h0M211.0 395.3h0M317.5 334.0h0M710.5 459.6h0M188.9 380.2h0M766.7 613.5h0M827.7 156.6h0M598.1 440.2h0M775.4 525.8h0M698.5 448.3h0M173.3 390.4h0M834.4 364.6h0M908.1 510.3h0M200.6 484.7h0M314.6 346.2h0M183.5 403.6h0"/><path stroke="#6a176e" d="M692.8 424.1h0M331.7 320.4h0M326.0 326.2h0M224.4 383.3h0M834.3 401.3h0M808.3 400.5h0M833.2 354.0h0M843.9 359.5h0M803.5 413.7h0M833.0 364.5h0M437.9 481.3h0M830.7 370.4h0M345.4 402.3h0M888.4 504.3h0M313.6 366.5h0M705.6 430.8h0M690.8 432.0h0M806.3 351.9h0M327.4 382.7h0M305.2 365.2h0M844.2 350.1h0M788.3 520.4h0"/><path stroke="#ef7020" d="M699.5 416.7h0M852.9 550.6h0M192.2 342.3h0M727.0 418.5h0M701.9 408.3h0M841.8 545.5h0M676.8 404.1h0M700.4 406.2h0M318.7 545.9h0M699.6 407.7h0M189.0 356.0h0M366.0 215.5h0M690.7 384.2h0M718.4 399.7h0M885.9 262.9h0M185.5 370.3h0M713.0 421.8h0M196.8 346.3h0M211.5 352.7h0M703.1 403.7h0M693.2 400.6h0M325.4 520.1h0"/><path stroke="#932667" d="M700.4 428.3h0M854.7 386.6h0M338.4 357.8h0M292.7 335.0h0M267.9 574.0h0M863.2 245.0h0M375.9 298.6h0M359.7 386.7h0M199.8 414.4h0M416.4 444.8h0M225.6 412.5h0M377.1 296.5h0M201.7 384.5h0M352.9 451.4h0M839.3 404.6h0M362.0 469.0h0M805.1 404.4h0M810.6 403.6h0M767.4 614.0h0M809.9 384.7h0M167.2 430.3h0M775.3 522.1h0"/><path stroke="#c33c4f" d="M718.9 422.8h0M901.1 289.8h0M823.9 508.1h0M398.8 240.0h0M891.9 304.5h0M381.9 267.7h0M890.7 298.3h0M885.3 314.9h0M395.9 257.7h0M381.5 275.6h0M890.1 308.5h0M895.3 285.2h0M394.7 234.9h0M897.1 305.6h0M197.5 394.3h0M889.6 306.1h0M358.8 471.7h0M879.1 311.3h0M884.4 317.4h0M886.8 299.3h0M907.0 292.2h0M383.8 231.8h0"/><path stroke="#83206a" d="M715.8 444.8h0M425.8 420.2h0M315.5 510.6h0M810.1 524.7h0M169.8 403.3h0M845.2 535.1h0M770.3 520.6h0M802.7 544.8h0M333.7 316.1h0M223.8 384.0h0M445.0 460.0h0M339.3 379.3h0M212.3 418.1h0M217.3 406.0h0M319.0 330.7h0M315.8 395.9h0M168.2 407.7h0M166.6 367.1h0M230.6 664.3h0M200.2 134.7h0M947.6 431.6h0M829.6 355.9h0"/><path stroke="#bc3754" d="M312.7 481.0h0M387.4 274.2h0M882.2 318.5h0M396.7 291.3h0M905.5 287.2h0M387.8 261.6h0M890.1 271.9h0M884.6 303.6h0M376.2 262.9h0M382.7 258.0h0M393.2 279.2h0M870.4 307.3h0M895.4 320.3h0M884.2 295.3h0M385.9 272.4h0M891.8 298.0h0M356.6 464.5h0M890.8 295.5h0M886.2 306.8h0M389.5 270.2h0M389.5 264.6h0M371.6 283.5h0"/><path stroke="#dd513a" d="M823.6 581.9h0M390.5 254.5h0M192.1 357.3h0M895.8 292.4h0M703.4 393.2h0M391.3 247.4h0M381.4 271.3h0M395.9 243.5h0M207.2 346.4h0M390.3 240.3h0M197.6 341.1h0M398.3 231.2h0M394.9 258.5h0M204.9 348.9h0M891.7 306.0h0M878.1 289.9h0M701.3 405.2h0M189.8 362.6h0M908.0 284.5h0M375.2 257.7h0M687.4 403.4h0M822.5 507.0h0"/><path stroke="#6a176e" d="M790.9 525.8h0M311.3 367.1h0M823.5 430.7h0M329.1 312.1h0M158.8 398.3h0M313.3 355.6h0M343.2 318.7h0M315.6 344.4h0M282.1 505.2h0M825.1 407.6h0M774.1 540.2h0M273.1 504.8h0M315.8 350.8h0M810.6 397.0h0M276.0 389.7h0M277.0 571.1h0M815.1 396.0h0M282.5 388.4h0M303.8 378.5h0M680.2 464.4h0M826.7 360.2h0M313.3 363.4h0"/><path stroke="#8b2368" d="M153.7 372.0h0M305.5 414.9h0M692.8 490.1h0M905.8 466.3h0M301.7 325.9h0M420.5 250.7h0M767.1 399.6h0M930.9 465.3h0M835.4 405.5h0M811.5 404.5h0M773.7 518.4h0M372.2 286.3h0M314.1 350.0h0M171.1 396.7h0M398.1 454.3h0M813.3 392.1h0M310.4 538.8h0M829.6 406.9h0M308.5 386.3h0M196.2 393.9h0M221.4 655.3h0M810.8 408.3h0"/><path stroke="#300a55" d="M321.6 332.2h0M224.1 398.1h0M271.2 550.2h0M855.3 555.3h0M265.4 307.2h0M266.3 456.7h0M216.3 388.7h0M296.9 384.9h0M235.3 389.4h0M317.3 384.0h0M784.5 347.3h0"/><path stroke="#8b2368" d="M837.4 412.4h0M823.5 426.7h0M418.9 466.2h0M332.1 376.9h0M818.4 409.8h0M772.6 611.8h0M824.5 399.0h0M896.7 292.1h0M799.4 394.0h0M168.3 384.0h0M832.8 521.9h0M801.8 374.9h0M806.2 406.7h0M384.5 434.0h0M788.3 350.4h0M343.2 408.5h0M826.0 432.8h0M780.7 524.5h0M283.7 374.8h0M256.3 524.6h0M316.7 334.8h0M824.5 385.6h0"/><path stroke="#d04744" d="M405.0 268.2h0M383.5 242.9h0M884.1 298.4h0M383.9 255.1h0M418.3 277.8h0M336.4 426.3h0M181.1 353.3h0M909.9 269.5h0M384.8 272.3h0M398.1 313.0h0M390.1 262.9h0M839.1 509.7h0M901.8 263.5h0M827.9 509.6h0M190.4 348.8h0M380.5 261.5h0M901.6 309.1h0M883.0 305.2h0M928.3 286.1h0M206.5 364.6h0M884.1 304.3h0M897.1 302.9h0"/><path stroke="#f58116" d="M331.9 491.8h0M336.3 498.2h0M187.8 362.3h0M693.5 395.3h0M719.8 394.7h0M702.6 406.5h0M182.5 384.8h0M827.0 556.5h0M332.4 507.6h0M836.2 556.4h0M199.0 373.9h0M201.9 357.5h0M831.8 550.1h0M188.2 347.9h0M333.4 483.9h0M190.1 367.1h0M247.5 431.6h0M324.6 511.5h0M708.0 399.0h0M187.7 380.2h0M703.5 399.7h0M195.3 353.6h0"/><path stroke="#c9414a" d="M320.9 484.2h0M324.2 473.5h0M891.3 291.4h0M191.7 376.5h0M904.0 303.8h0M905.9 301.9h0M386.0 296.2h0M285.2 579.5h0M900.8 291.2h0M895.0 309.7h0M376.1 249.1h0M888.9 298.1h0M892.2 314.1h0M730.7 402.7h0M189.7 375.6h0M900.9 238.6h0M396.1 273.3h0M331.9 482.8h0M397.6 259.4h0M888.0 313.3h0M380.7 267.6h0M197.7 352.4h0"/><path stroke="#6a176e" d="M329.4 322.3h0M204.1 391.7h0M927.2 463.9h0M704.3 442.7h0M819.5 358.1h0M829.0 407.4h0M823.7 374.1h0M329.2 321.1h0M824.7 394.4h0M333.8 306.7h0M665.8 450.5h0M316.2 393.1h0M218.2 396.9h0M395.9 436.8h0M817.7 390.3h0M824.3 405.2h0M769.5 525.2h0M697.9 467.3h0M231.7 387.8h0M339.4 367.3h0M692.3 449.1h0M326.2 385.0h0"/><path stroke="#7a1d6b" d="M249.4 512.0h0M354.6 386.0h0M341.7 379.8h0M324.7 365.6h0M202.5 406.0h0M197.8 368.9h0M814.1 408.4h0M170.0 403.3h0M198.9 416.9h0M826.1 359.7h0M292.1 350.0h0M288.5 364.8h0M317.1 325.2h0M310.7 329.3h0M275.3 561.3h0M326.7 321.0h0M228.7 402.3h0M332.2 388.5h0M807.1 408.0h0M332.7 347.9h0M204.4 377.2h0M702.7 414.9h0"/><path stroke="#6a176e" d="M673.8 436.8h0M873.6 475.6h0M310.5 561.8h0M266.1 578.2h0M174.3 399.4h0M308.5 342.6h0M801.8 390.6h0M331.7 322.6h0M313.2 350.9h0M336.7 335.2h0M831.9 360.9h0M807.2 398.5h0M833.8 400.3h0M836.5 371.2h0M847.9 362.0h0M319.0 402.3h0M824.4 357.7h0M807.5 419.4h0M829.3 414.8h0M221.6 405.9h0M324.3 358.9h0M825.0 395.3h0"/><path stroke="#6a176e" d="M824.4 375.2h0M824.7 353.3h0M665.1 461.4h0M339.0 315.7h0M893.2 491.6h0M317.0 347.1h0M672.5 456.5h0M353.1 477.4h0M835.7 350.8h0M810.4 403.3h0M318.6 324.3h0M828.7 364.5h0M832.1 373.8h0M787.7 400.5h0M811.1 400.9h0M315.8 328.9h0M831.1 356.8h0M799.3 405.5h0M822.6 370.9h0M333.2 317.9h0M836.1 416.5h0M174.7 375.2h0"/><path stroke="#f58116" d="M712.1 401.7h0M690.6 390.6h0M196.0 370.3h0M838.8 538.8h0M203.1 359.4h0M724.6 408.5h0M311.8 552.9h0M701.9 405.1h0M685.8 402.9h0M884.2 233.5h0M192.5 376.8h0M690.8 414.7h0M709.4 403.9h0M824.4 545.8h0M184.9 362.2h0M815.7 587.4h0M187.6 348.9h0M827.7 560.9h0M695.8 415.2h0M840.2 544.0h0M690.1 383.8h0M700.0 418.3h0"/><path stroke="#6a176e" d="M317.8 325.8h0M730.2 408.8h0M389.8 484.5h0M693.1 450.4h0M317.0 354.1h0M315.7 349.8h0M923.6 487.4h0M689.0 437.0h0M671.3 423.0h0M318.2 342.9h0M784.5 406.6h0M784.2 527.8h0M787.1 413.8h0M690.8 414.5h0M715.9 416.5h0M803.8 398.3h0M320.3 343.4h0M328.4 311.1h0M825.5 365.6h0M822.9 378.5h0M704.5 438.4h0M797.4 385.3h0"/><path stroke="#8b2368" d="M227.4 402.6h0M300.6 368.0h0M298.2 462.4h0M361.1 386.3h0M421.8 256.1h0M315.9 350.3h0M693.8 435.8h0M294.3 523.5h0M293.2 356.4h0M899.8 626.0h0M363.8 454.3h0M329.4 357.7h0M326.6 383.6h0M856.1 490.8h0M635.7 472.0h0M290.3 515.9h0M395.8 456.7h0M296.0 547.9h0M938.5 492.8h0M359.4 399.6h0M186.6 402.8h0M300.3 371.5h0"/><path stroke="#932667" d="M357.7 451.0h0M886.6 304.9h0M343.6 390.4h0M320.1 374.6h0M720.1 402.0h0M379.0 284.0h0M388.6 459.5h0M768.2 607.5h0M389.1 272.8h0M799.2 398.5h0M379.5 287.0h0M416.4 479.5h0M406.2 450.9h0M771.7 513.7h0M291.3 395.7h0M352.2 463.4h0M791.2 520.7h0M887.5 309.1h0M765.2 629.6h0M297.9 375.2h0M895.2 333.8h0M829.9 515.4h0"/><path stroke="#62146d" d="M666.9 446.3h0M149.4 400.3h0M677.4 433.2h0M286.2 352.0h0M820.3 368.8h0M816.9 399.9h0M315.3 342.9h0M284.4 372.6h0M184.8 399.3h0M845.9 349.8h0M327.2 326.4h0M682.4 436.4h0M707.9 437.3h0M311.7 348.8h0M314.8 337.0h0M188.4 394.0h0M199.1 409.1h0M907.9 629.4h0M831.3 406.9h0M279.6 347.7h0M174.1 378.6h0M320.2 330.7h0"/><path stroke="#6a176e" d="M803.5 409.7h0M703.4 419.4h0M723.0 431.8h0M797.1 366.0h0M691.9 433.7h0M143.7 426.9h0M837.9 370.0h0M324.0 320.7h0M758.4 522.4h0M845.4 357.7h0M789.2 528.8h0M828.5 361.0h0M772.9 517.3h0M343.8 314.7h0M932.9 465.2h0M301.2 380.1h0M825.5 366.1h0M826.5 416.0h0M806.9 414.3h0M323.0 325.7h0M697.7 470.9h0M326.7 317.0h0"/><path stroke="#83206a" d="M770.9 557.5h0M671.7 423.7h0M707.0 435.4h0M309.5 378.3h0M803.9 425.1h0M849.7 411.5h0M833.9 409.5h0M305.1 365.7h0M842.6 368.3h0M896.7 501.0h0M311.7 362.8h0M293.8 374.6h0M355.2 367.9h0M334.2 389.8h0M409.9 402.1h0M274.8 484.2h0M839.9 399.2h0M195.5 395.0h0M263.2 553.5h0M367.5 400.4h0M853.5 562.8h0M268.6 621.4h0"/><path stroke="#e6612d" d="M691.2 392.8h0M380.7 267.7h0M315.8 520.9h0M708.1 399.7h0M388.5 240.8h0M705.2 404.2h0M388.0 263.8h0M684.1 390.4h0M166.2 380.3h0M207.8 363.4h0M829.4 539.8h0M817.9 546.1h0M190.9 361.5h0M332.9 483.7h0M694.0 401.9h0M704.3 433.9h0M189.3 390.1h0M207.9 397.9h0M688.1 444.4h0M378.8 358.9h0M726.2 435.1h0M890.3 296.1h0"/><path stroke="#6a176e" d="M663.6 450.9h0M801.0 523.4h0M825.6 390.4h0M312.3 337.2h0M329.4 516.5h0M776.1 523.8h0M688.9 463.8h0M318.5 341.6h0M703.5 433.0h0M839.6 368.5h0M311.8 334.7h0M839.3 363.7h0M820.0 408.5h0M334.5 321.1h0M776.7 528.3h0M798.8 388.7h0M825.3 357.6h0M415.3 421.3h0M804.2 360.7h0M213.6 436.1h0M167.6 395.0h0M773.9 537.3h0"/><path stroke="#721a6d" d="M823.7 367.5h0M912.5 518.2h0M857.7 422.4h0M216.1 373.1h0M687.7 410.3h0M317.2 359.5h0M115.4 606.1h0M304.7 346.9h0M305.5 357.8h0M890.0 607.5h0M289.2 523.1h0M816.8 365.1h0M275.3 565.3h0M192.5 390.7h0M279.3 374.6h0M411.7 473.2h0M262.1 565.9h0M821.2 348.6h0M198.2 412.9h0M370.7 420.1h0M282.8 356.0h0M894.2 488.2h0"/><path stroke="#e15933" d="M711.1 439.8h0M697.0 439.0h0M199.0 353.0h0M887.7 293.6h0M396.4 257.3h0M324.2 476.3h0M214.7 357.1h0M878.9 302.8h0M194.5 380.2h0M846.1 548.5h0M186.8 363.1h0M705.2 403.7h0M203.6 358.1h0M898.2 315.3h0M203.7 355.5h0M703.3 399.3h0M711.4 423.1h0M781.7 353.2h0M189.1 379.0h0M689.3 394.7h0M198.0 403.8h0M712.9 377.5h0"/><path stroke="#f37819" d="M692.2 405.8h0M687.8 396.4h0M176.7 365.9h0M686.7 402.9h0M720.5 413.5h0M313.2 555.9h0M197.9 349.9h0M825.1 563.1h0M701.5 398.7h0M703.7 405.3h0M691.5 406.8h0M690.8 374.2h0M683.7 408.0h0M207.8 348.1h0M189.8 353.2h0M693.2 374.9h0M757.0 470.9h0M684.6 406.5h0M711.2 397.6h0M653.9 405.7h0M199.9 357.1h0M833.6 554.2h0"/><path stroke="#d64c3f" d="M898.8 308.0h0M857.5 274.8h0M200.6 356.3h0M387.3 225.0h0M392.9 245.6h0M172.5 384.2h0M376.3 264.9h0M894.2 283.3h0M387.0 259.9h0M899.6 290.6h0M195.7 355.6h0M214.2 404.0h0M679.4 403.6h0M391.5 246.5h0M206.4 367.5h0M204.5 393.1h0M385.4 252.6h0M885.3 304.1h0M191.1 384.2h0M314.2 484.1h0M371.9 264.8h0M893.9 295.4h0"/><path stroke="#83206a" d="M295.1 516.0h0M813.6 391.4h0M295.4 387.5h0M389.4 432.9h0M199.0 396.2h0M304.5 365.0h0M183.9 419.0h0M800.9 390.6h0M852.4 409.6h0M722.7 431.6h0M800.9 398.6h0M329.3 478.5h0M317.5 366.9h0M304.2 380.2h0M812.7 392.5h0M837.7 359.0h0M298.1 372.7h0M828.7 364.8h0M921.7 480.5h0M254.6 553.7h0M262.1 557.5h0M790.2 389.4h0"/><path stroke="#ea6826" d="M695.6 396.7h0M679.3 419.8h0M696.3 404.1h0M873.0 264.7h0M394.8 222.1h0M906.2 299.0h0M721.8 400.3h0M183.8 359.3h0M829.3 542.9h0M701.0 386.1h0M683.9 387.0h0M210.6 350.4h0M202.9 336.3h0M703.0 420.9h0M212.4 344.3h0M896.1 281.0h0M200.6 367.7h0M193.5 381.8h0M710.1 394.8h0M194.5 369.3h0M831.1 544.8h0M194.3 364.9h0"/><path stroke="#721a6d" d="M834.6 427.4h0M700.9 427.4h0M752.5 497.6h0M776.0 590.0h0M320.2 313.8h0M821.1 394.5h0M276.3 482.5h0M811.5 424.3h0M321.1 331.6h0M810.7 393.2h0M823.2 398.0h0M294.8 358.5h0M843.0 406.5h0M300.5 332.6h0M831.7 359.9h0M849.6 359.9h0M729.5 452.2h0M825.3 413.1h0M787.4 511.9h0M208.2 398.4h0M308.4 341.7h0M338.4 394.3h0"/><path stroke="#83206a" d="M284.7 372.7h0M771.2 612.7h0M132.6 149.0h0M831.6 385.3h0M311.9 405.8h0M160.1 424.7h0M265.8 350.7h0M343.2 387.6h0M809.9 403.5h0M773.0 384.9h0M819.1 408.1h0M930.8 514.7h0M319.0 343.3h0M300.7 401.9h0M177.7 368.4h0M674.6 399.5h0M327.8 321.9h0M722.2 422.2h0M312.5 368.1h0M802.8 405.8h0M274.3 468.0h0M926.2 503.8h0"/><path stroke="#5a126c" d="M699.7 440.4h0M819.5 373.0h0M324.2 387.9h0M807.0 404.0h0M316.6 384.3h0M186.3 413.6h0M825.3 394.7h0M160.9 371.0h0M292.3 357.7h0M313.6 364.4h0M844.6 369.1h0M322.3 328.2h0M314.3 365.7h0M317.5 342.7h0M330.7 387.7h0M795.8 403.9h0M306.5 340.3h0M273.4 513.5h0M770.8 532.4h0M330.8 365.4h0M249.9 519.9h0M699.2 416.0h0"/><path stroke="#6a176e" d="M336.1 482.5h0M298.5 340.7h0M326.8 322.4h0M819.8 365.6h0M324.1 337.0h0M802.6 410.6h0M297.1 397.8h0M273.5 358.2h0M686.1 436.6h0M295.5 392.4h0M740.6 452.2h0M828.1 356.5h0M301.1 370.3h0M317.8 344.9h0M817.0 357.6h0M722.7 426.2h0M678.2 416.5h0M673.1 449.1h0M325.4 344.7h0M826.7 366.4h0M324.2 370.7h0M189.0 395.5h0"/><path stroke="#721a6d" d="M376.5 308.3h0M284.9 360.4h0M899.4 502.0h0M314.4 355.7h0M303.4 337.5h0M815.3 386.3h0M799.0 413.3h0M828.7 358.3h0M350.7 393.5h0M252.5 564.6h0M324.2 326.8h0M791.3 524.2h0M832.9 363.4h0M272.2 574.2h0M820.3 376.0h0M658.7 428.6h0M348.6 411.6h0M830.6 370.1h0M192.6 355.9h0M700.3 446.4h0M392.2 567.5h0M824.3 364.8h0"/><path stroke="#c9414a" d="M822.9 519.4h0M691.9 413.0h0M890.0 305.5h0M885.4 303.7h0M827.8 508.8h0M390.7 242.9h0M368.9 289.2h0M373.7 283.9h0M891.5 302.1h0M389.5 241.5h0M893.8 298.2h0M888.4 310.1h0M893.6 298.8h0M900.0 286.5h0M391.1 246.9h0M194.4 357.8h0M894.4 300.3h0M162.9 374.9h0M390.9 244.2h0M380.0 259.7h0M885.4 305.3h0M387.7 242.6h0"/><path stroke="#5a126c" d="M200.9 386.1h0M709.3 441.2h0M173.6 384.2h0M807.3 401.7h0M841.7 354.4h0M337.8 318.1h0M249.4 502.1h0M819.7 360.6h0M789.8 402.3h0M801.4 404.0h0M695.2 447.0h0M880.2 483.2h0M328.8 318.7h0M722.2 458.5h0M218.3 390.0h0M748.1 426.1h0M265.9 487.0h0M176.1 422.1h0M329.8 324.2h0M846.4 357.3h0M305.3 338.4h0M831.6 411.7h0"/><path stroke="#ac305c" d="M895.6 294.4h0M818.1 512.1h0M316.5 471.5h0M831.8 510.6h0M824.2 395.8h0M412.6 452.3h0M380.9 241.5h0M768.9 634.2h0M887.7 312.3h0M824.9 512.9h0M388.3 283.8h0M376.3 270.9h0M368.9 286.2h0M900.9 305.2h0M840.6 522.9h0M323.8 464.1h0M377.9 278.5h0M898.8 305.4h0M904.8 303.4h0M923.3 304.9h0M356.8 459.7h0M887.8 310.0h0"/><path stroke="#c9414a" d="M919.2 269.3h0M394.2 242.8h0M883.3 327.4h0M370.5 285.2h0M708.7 422.1h0M694.1 425.4h0M386.9 256.7h0M195.6 345.7h0M385.0 281.1h0M893.3 307.5h0M238.0 385.2h0M896.0 309.1h0M218.3 398.0h0M889.1 306.4h0M201.0 352.4h0M887.5 291.7h0M190.5 357.0h0M877.8 303.2h0M375.6 277.9h0M891.0 314.5h0M903.9 274.1h0M894.2 302.2h0"/><path stroke="#ef7020" d="M697.2 393.7h0M708.0 396.2h0M688.2 418.1h0M209.8 349.5h0M695.4 394.2h0M690.0 381.7h0M678.7 389.7h0M202.2 348.1h0M205.0 360.4h0M171.9 363.7h0M207.1 360.3h0M191.7 393.7h0M785.3 353.3h0M203.3 354.3h0M707.3 372.3h0M199.7 351.7h0M196.5 349.2h0M694.3 405.1h0M720.4 389.3h0M842.4 531.4h0M193.4 357.1h0M676.0 401.9h0"/><path stroke="#b43458" d="M367.0 272.7h0M402.1 236.2h0M865.2 296.2h0M890.4 314.4h0M380.9 285.4h0M892.6 311.5h0M368.9 258.1h0M217.2 390.5h0M373.4 281.0h0M893.0 289.7h0M886.3 294.9h0M721.6 420.6h0M390.1 253.4h0M386.0 269.1h0M875.4 280.5h0M904.1 302.2h0M887.9 317.9h0M881.3 263.3h0M896.3 299.9h0M896.2 297.0h0M377.8 278.6h0M900.4 305.5h0"/><path stroke="#8b2368" d="M786.1 504.2h0M187.8 398.4h0M170.7 387.9h0M777.0 405.0h0M694.2 441.1h0M691.0 449.1h0M643.2 458.8h0M798.3 393.7h0M821.8 398.8h0M351.0 446.7h0M336.9 390.0h0M777.0 526.0h0M841.8 398.0h0M430.3 349.9h0M841.4 409.2h0M686.7 427.5h0M791.0 517.9h0M367.4 475.2h0M193.8 378.3h0M274.1 365.5h0M361.5 413.1h0M255.5 470.1h0"/><path stroke="#6a176e" d="M845.3 412.6h0M833.7 375.1h0M284.7 356.8h0M805.8 523.6h0M193.7 381.2h0M347.9 397.1h0M671.9 444.9h0M162.1 373.8h0M222.8 409.9h0M769.7 605.0h0M336.6 400.1h0M830.8 376.4h0M823.8 363.4h0M821.0 371.8h0M311.1 342.6h0M315.9 322.3h0M225.9 385.2h0M291.6 548.9h0M320.6 324.3h0M792.9 394.5h0M702.4 455.0h0M299.6 489.5h0"/><path stroke="#bc3754" d="M200.0 343.5h0M831.5 509.1h0M890.5 295.6h0M904.5 293.2h0M376.0 279.9h0M901.1 286.0h0M412.4 282.9h0M381.6 272.6h0M901.8 308.1h0M377.8 281.8h0M883.5 288.9h0M186.2 370.4h0M382.0 268.3h0M892.0 308.1h0M886.1 290.6h0M314.4 468.8h0M831.6 522.0h0M898.1 304.7h0M888.8 305.1h0M894.8 311.7h0M403.5 255.6h0M386.3 263.2h0"/><path stroke="#e6612d" d="M718.0 387.5h0M191.6 358.7h0M698.7 401.5h0M379.9 263.0h0M395.9 256.9h0M213.0 335.7h0M182.9 357.9h0M386.4 258.7h0M700.5 410.3h0M383.5 258.4h0M192.8 354.4h0M693.0 412.2h0M194.2 355.6h0M842.6 539.0h0M697.8 405.3h0M894.9 298.3h0M706.4 401.0h0M704.8 392.1h0M375.1 217.1h0M194.9 356.3h0M676.6 385.9h0M203.8 361.4h0"/><path stroke="#7a1d6b" d="M787.6 520.5h0M307.6 335.2h0M316.2 356.9h0M819.0 410.9h0M807.5 411.4h0M770.6 390.2h0M802.7 413.6h0M812.1 503.4h0M698.4 443.1h0M835.0 349.3h0M675.9 435.3h0M803.2 405.9h0M818.0 400.8h0M761.3 615.8h0M831.1 361.7h0M799.7 410.6h0M815.7 412.3h0M825.7 365.1h0M827.2 398.2h0M252.2 486.7h0M815.1 359.7h0M314.8 336.7h0"/><path stroke="#7a1d6b" d="M326.9 301.7h0M319.9 351.7h0M230.0 389.3h0M721.1 433.5h0M297.7 460.5h0M819.2 495.9h0M762.7 610.2h0M709.3 443.7h0M299.7 520.2h0M340.0 388.0h0M289.1 350.9h0M673.4 412.2h0M177.1 420.4h0M815.6 409.6h0M298.1 345.0h0M410.8 457.1h0M764.6 625.6h0M170.7 428.7h0M328.2 386.1h0M852.6 433.2h0M190.0 425.5h0M823.2 538.6h0"/><path stroke="#8b2368" d="M264.0 565.9h0M802.1 393.5h0M399.5 466.0h0M398.6 624.5h0M353.2 454.3h0M158.3 438.9h0M901.2 480.2h0M782.1 516.5h0M296.6 532.0h0M827.2 538.6h0M797.8 527.8h0M191.2 434.5h0M808.9 538.2h0M855.0 551.3h0M180.1 384.4h0M387.7 619.9h0M398.8 462.4h0M857.5 396.9h0M913.6 479.8h0M704.0 403.1h0M208.4 235.0h0M880.7 281.2h0"/><path stroke="#ac305c" d="M897.5 288.4h0M374.1 267.0h0M404.9 242.3h0M381.7 281.3h0M376.5 264.4h0M888.3 307.1h0M231.1 357.6h0M313.3 472.3h0M387.5 271.7h0M374.3 274.5h0M882.3 300.4h0M890.6 298.4h0M375.2 274.2h0M379.4 273.6h0M316.1 461.5h0M385.7 288.3h0M398.5 456.1h0M239.2 405.2h0M895.7 275.3h0M394.3 229.4h0M689.9 431.3h0M374.8 284.9h0"/><path stroke="#83206a" d="M878.0 429.3h0M326.9 324.7h0M784.0 416.4h0M309.8 521.5h0M820.2 419.6h0M768.3 538.7h0M177.5 419.3h0M822.6 401.2h0M415.2 291.7h0M646.5 425.6h0M348.8 381.8h0M835.6 411.2h0M329.2 380.4h0M900.0 487.2h0M285.1 364.9h0M336.6 408.9h0M701.7 446.2h0M698.2 443.4h0M178.3 412.9h0M179.7 408.5h0M305.7 375.7h0M710.3 452.8h0"/><path stroke="#f89310" d="M788.3 351.1h0M694.6 414.1h0M323.2 515.9h0M334.9 496.8h0M311.8 540.2h0M334.9 533.3h0M710.4 399.8h0M325.1 531.8h0M836.7 553.1h0M320.0 533.1h0M848.8 538.3h0M320.0 514.9h0M327.8 520.3h0M715.8 400.9h0M672.6 391.6h0M326.5 513.1h0M329.1 503.8h0M826.3 558.7h0M824.5 576.3h0M679.4 385.2h0M335.6 514.9h0M817.4 581.1h0"/><path stroke="#9b2963" d="M817.5 529.9h0M907.3 313.3h0M421.4 206.8h0M374.3 276.9h0M816.0 401.4h0M277.1 374.8h0M349.1 405.3h0M829.0 502.4h0M934.1 263.8h0M307.1 390.6h0M166.8 419.7h0M309.2 535.3h0M798.5 396.7h0M307.0 394.8h0M377.7 295.7h0M374.4 298.6h0M224.8 404.9h0M883.9 303.7h0M887.4 304.8h0M225.2 488.0h0M266.6 482.5h0M762.8 311.9h0"/><path stroke="#e6612d" d="M168.5 381.0h0M383.8 272.9h0M716.5 385.7h0M696.4 383.0h0M725.0 396.1h0M684.5 410.6h0M682.4 371.4h0M690.9 428.4h0M686.8 432.4h0M695.4 388.2h0M176.8 365.0h0M202.1 387.6h0M411.6 284.7h0M711.7 391.7h0M690.2 398.5h0M198.6 367.2h0M705.7 442.5h0M882.7 327.9h0M321.0 481.8h0M698.7 398.4h0M893.5 275.0h0M203.1 356.1h0"/><path stroke="#b43458" d="M836.0 525.4h0M383.7 271.0h0M378.5 265.9h0M365.0 464.6h0M384.5 294.7h0M377.2 274.7h0M385.7 256.5h0M889.9 318.2h0M891.9 289.7h0M379.0 273.7h0M331.8 365.2h0M885.7 304.6h0M379.1 270.0h0M388.0 273.1h0M900.2 314.6h0M187.5 366.8h0M409.5 238.4h0M672.9 407.6h0M887.1 296.2h0M378.9 270.7h0M641.2 436.6h0M380.5 266.7h0"/><path stroke="#520f6a" d="M363.2 462.6h0M358.0 467.0h0M722.0 428.6h0M833.7 374.6h0M776.0 192.0h0M171.2 400.6h0M794.2 385.4h0M800.6 410.1h0M195.5 417.0h0M832.2 397.6h0M316.7 372.6h0M705.2 431.8h0M777.6 526.9h0M290.1 389.9h0M832.5 360.8h0M194.3 433.3h0M829.0 410.7h0M294.4 371.1h0M414.4 495.3h0M313.3 323.9h0M163.0 420.0h0M834.6 414.2h0"/><path stroke="#520f6a" d="M257.5 570.7h0M801.5 395.6h0M252.5 510.1h0M341.0 325.1h0M857.5 404.5h0M274.2 519.7h0M170.2 402.3h0M726.3 444.4h0M833.4 360.0h0M887.6 520.5h0M817.1 403.7h0M828.1 409.5h0M838.1 369.7h0M803.5 515.5h0M291.9 511.9h0M188.7 423.0h0M332.7 318.2h0M790.2 400.4h0M825.5 371.8h0M828.0 356.4h0M300.8 377.9h0M332.3 309.5h0"/><path stroke="#d04744" d="M895.8 320.5h0M375.6 273.4h0M672.9 389.2h0M378.8 258.0h0M886.7 317.7h0M374.9 273.9h0M322.7 488.3h0M907.8 284.1h0M888.1 292.8h0M192.6 386.0h0M899.2 292.9h0M382.6 262.1h0M918.9 300.2h0M894.8 310.4h0M384.5 255.3h0M882.6 260.3h0M897.6 311.2h0M885.2 298.1h0M883.1 303.3h0M691.8 413.7h0M395.4 237.5h0M369.9 264.5h0"/><path stroke="#e6612d" d="M784.4 360.5h0M698.8 416.0h0M199.2 361.8h0M404.4 250.7h0M686.9 403.3h0M689.2 409.2h0M696.2 396.5h0M197.2 359.7h0M704.1 413.6h0M389.1 258.0h0M185.6 365.8h0M164.4 375.4h0M333.1 498.5h0M380.5 234.2h0M712.6 400.2h0M193.9 350.9h0M684.4 402.7h0M697.3 434.4h0M693.6 405.9h0M729.0 424.0h0M839.0 544.3h0M820.8 577.0h0"/><path stroke="#f37819" d="M689.9 391.4h0M822.7 578.4h0M708.9 396.6h0M695.7 404.6h0M679.6 421.3h0M691.8 411.1h0M816.9 580.5h0M204.9 357.4h0M333.3 505.6h0M244.1 455.2h0M703.0 388.7h0M316.9 526.9h0M819.3 586.0h0M705.0 412.3h0M194.6 352.2h0M835.0 548.1h0M332.9 490.8h0M713.5 376.7h0M315.9 532.4h0M908.6 239.7h0M688.2 408.1h0M697.2 405.3h0"/><path stroke="#83206a" d="M796.3 391.6h0M848.7 403.2h0M335.0 319.4h0M315.1 354.7h0M797.5 487.6h0M826.3 423.1h0M697.4 419.5h0M801.0 405.7h0M828.8 567.8h0M860.7 403.0h0M835.9 371.8h0M687.9 429.8h0M803.9 567.9h0M312.0 354.8h0M885.3 475.9h0M176.2 407.6h0M432.9 441.2h0M860.4 520.8h0M717.6 449.9h0M828.1 377.2h0M918.5 466.1h0M915.0 505.5h0"/><path stroke="#d04744" d="M894.6 312.8h0M398.4 226.0h0M384.4 261.6h0M900.4 286.9h0M356.2 457.0h0M407.6 480.7h0M887.2 310.8h0M882.3 302.9h0M889.6 290.7h0M388.5 242.9h0M379.3 266.1h0M890.4 287.6h0M894.0 290.5h0M888.9 299.1h0M878.2 303.1h0M889.9 296.9h0M376.5 264.4h0M696.4 440.1h0M382.4 250.7h0M900.0 303.4h0M886.3 303.1h0M884.3 295.8h0"/><path stroke="#ef7020" d="M200.7 355.9h0M699.2 401.9h0M688.5 406.8h0M204.3 357.1h0M823.1 541.3h0M193.1 366.1h0M711.2 389.5h0M686.6 393.7h0M309.5 548.8h0M711.7 395.5h0M175.9 367.1h0M380.9 251.9h0M333.7 500.6h0M212.2 356.6h0M319.5 508.8h0M720.2 394.6h0M695.6 390.1h0M713.1 421.4h0M314.8 555.4h0M700.8 408.4h0M698.4 390.0h0M203.0 340.2h0"/><path stroke="#8b2368" d="M735.2 397.5h0M792.5 380.7h0M687.4 419.5h0M307.1 348.2h0M810.2 402.2h0M412.0 450.4h0M827.7 414.1h0M779.2 618.3h0M354.7 355.5h0M412.8 467.3h0M354.7 410.9h0M886.0 494.5h0M947.2 459.9h0M807.9 543.7h0M398.4 477.3h0M765.6 616.8h0M319.6 385.1h0M836.7 377.0h0M800.2 407.9h0M314.5 353.5h0M674.4 421.7h0M804.2 507.8h0"/><path stroke="#f78a13" d="M312.5 552.7h0M705.7 395.1h0M198.4 356.3h0M386.8 261.2h0M682.5 394.7h0M692.8 423.9h0M825.7 574.7h0M318.8 548.0h0M197.0 366.4h0M822.2 579.9h0M681.2 410.6h0M837.6 528.5h0M839.3 550.6h0M320.0 542.3h0M716.6 396.2h0M703.6 402.9h0M680.5 384.9h0M331.1 509.1h0M835.4 551.4h0M169.3 389.7h0M708.2 395.6h0M704.5 405.2h0"/><path stroke="#f89310" d="M338.3 500.3h0M709.9 402.7h0M689.4 401.7h0M238.5 457.0h0M737.6 394.2h0M691.3 406.6h0M815.0 581.9h0M333.8 516.2h0M683.8 392.3h0M835.5 547.0h0M337.0 500.5h0M710.3 396.6h0M193.9 375.1h0M687.8 386.6h0M316.4 539.8h0M756.5 551.9h0M699.5 407.7h0M326.1 517.6h0M832.3 556.6h0M395.1 264.7h0M698.4 390.8h0M193.6 329.8h0"/><path stroke="#ef7020" d="M674.6 405.8h0M200.2 360.1h0M380.3 242.0h0M181.6 391.9h0M841.3 538.4h0M309.5 543.4h0M917.0 238.6h0M687.7 423.1h0M823.1 573.2h0M662.4 388.1h0M705.5 403.2h0M330.9 503.8h0M246.0 429.7h0M829.1 564.8h0M197.6 359.1h0M183.2 350.3h0M675.0 413.1h0M190.1 351.4h0M186.5 356.6h0M682.2 402.3h0M706.8 415.2h0M212.6 354.2h0"/><path stroke="#d64c3f" d="M402.3 233.6h0M820.5 514.6h0M200.0 373.1h0M384.8 261.7h0M828.4 359.6h0M394.4 241.4h0M887.2 311.2h0M879.1 304.6h0M206.4 353.6h0M377.9 264.5h0M893.4 308.0h0M279.4 310.1h0M691.2 404.7h0M887.2 285.7h0M387.4 245.7h0M171.3 358.3h0M708.6 422.8h0M196.7 351.2h0M174.3 350.7h0M203.5 376.1h0M374.2 259.6h0M884.4 276.6h0"/><path stroke="#6a176e" d="M698.9 335.5h0M325.8 398.3h0M178.7 414.2h0M170.5 375.8h0M296.1 498.8h0M886.6 470.8h0M804.4 458.0h0M854.2 361.1h0M838.9 354.0h0M161.9 401.5h0M700.8 431.5h0M824.5 394.7h0M809.5 410.9h0M313.3 332.7h0M823.7 388.7h0M317.7 328.9h0M316.0 335.9h0M697.5 439.2h0M793.2 523.6h0M817.9 406.4h0M201.8 391.7h0M827.5 356.1h0"/><path stroke="#62146d" d="M342.0 319.1h0M330.0 307.0h0M325.1 333.5h0M841.0 377.3h0M322.1 334.5h0M315.2 340.4h0M828.6 402.6h0M302.8 353.6h0M835.2 358.0h0M820.0 421.1h0M320.3 344.1h0M211.4 396.1h0M325.6 316.7h0M311.7 322.2h0M836.0 357.8h0M324.9 421.8h0M846.7 361.0h0M214.1 433.0h0M334.9 318.9h0M818.2 365.0h0M927.5 514.5h0M685.3 449.9h0"/><path stroke="#a32d5f" d="M880.6 306.1h0M398.2 377.6h0M386.9 285.9h0M884.5 300.5h0M823.1 523.8h0M878.1 301.8h0M372.3 272.5h0M375.7 296.8h0M380.7 586.9h0M741.7 562.7h0M938.7 474.0h0M194.5 392.5h0M230.6 387.8h0M888.4 282.1h0M397.6 280.6h0M886.3 301.6h0M661.7 391.4h0M316.6 474.4h0M385.6 285.7h0M202.2 407.0h0M335.7 386.7h0M833.8 507.4h0"/><path stroke="#721a6d" d="M716.6 445.7h0M189.6 430.5h0M205.2 362.8h0M291.0 477.5h0M304.2 346.4h0M312.9 345.7h0M250.8 507.5h0M835.6 364.4h0M166.4 381.7h0M325.1 363.5h0M720.5 432.1h0M321.4 319.7h0M836.4 371.8h0M840.4 357.7h0M326.1 352.3h0M934.0 475.7h0M313.2 336.2h0M718.5 446.5h0M349.0 293.8h0M938.4 490.6h0M693.1 460.7h0M842.7 413.3h0"/><path stroke="#ef7020" d="M186.1 362.0h0M682.5 400.6h0M838.4 543.8h0M187.5 378.0h0M705.3 403.0h0M699.8 383.8h0M705.8 385.3h0M334.6 498.8h0M710.3 414.3h0M333.2 495.5h0M219.8 340.9h0M850.0 536.5h0M683.9 411.0h0M673.6 386.4h0M831.7 538.7h0M704.0 404.1h0M190.9 378.3h0M682.4 439.4h0M692.6 399.8h0M192.5 381.6h0M695.1 403.0h0M335.8 494.3h0"/><path stroke="#62146d" d="M783.1 375.5h0M818.0 380.6h0M319.0 338.4h0M333.6 324.7h0M831.9 372.0h0M836.3 362.9h0M828.6 413.7h0M838.3 349.4h0M284.3 460.3h0M141.3 373.8h0M822.5 366.1h0M846.2 361.0h0M303.7 354.3h0M809.1 361.3h0M841.3 399.3h0M819.4 355.6h0M825.5 354.2h0M679.4 439.6h0M818.5 378.2h0M754.3 397.0h0M374.3 409.0h0M847.9 365.0h0"/><path stroke="#f78a13" d="M197.3 353.9h0M699.6 442.9h0M708.2 382.1h0M707.9 395.6h0M322.3 525.6h0M206.7 336.3h0M694.1 404.3h0M690.7 413.8h0M827.7 535.9h0M701.0 389.8h0M827.3 580.1h0M336.8 498.4h0M715.5 404.8h0M175.5 360.7h0M710.4 376.2h0M697.9 374.9h0M191.9 347.9h0M185.1 385.8h0M312.7 544.7h0M709.9 404.2h0M837.2 549.1h0M702.9 411.4h0"/><path stroke="#6a176e" d="M837.2 395.6h0M915.7 475.0h0M701.1 453.0h0M327.6 395.4h0M300.0 356.6h0M321.1 320.8h0M329.1 325.0h0M816.3 353.7h0M714.6 477.8h0M307.9 338.8h0M829.6 398.5h0M330.2 325.0h0M288.7 391.0h0M160.9 393.6h0M315.7 340.2h0M928.2 490.0h0M329.3 328.3h0M198.3 434.0h0M834.7 401.9h0M788.8 412.6h0M334.5 322.5h0M318.7 341.4h0"/><path stroke="#f58116" d="M195.2 374.9h0M830.8 532.2h0M204.2 361.9h0M678.1 388.7h0M332.6 510.6h0M938.8 284.6h0M190.0 353.7h0M692.8 398.8h0M683.3 407.6h0M896.3 318.5h0M696.0 412.0h0M701.9 387.6h0M331.0 499.1h0M320.2 528.6h0M208.6 372.6h0M699.9 409.3h0M830.4 558.0h0M847.0 560.8h0M829.4 559.1h0M683.5 400.0h0M700.1 407.4h0M194.3 360.6h0"/><path stroke="#ac305c" d="M377.0 297.2h0M386.5 283.1h0M273.1 504.9h0M369.7 296.2h0M391.5 271.4h0M892.9 484.2h0M906.2 238.1h0M846.0 416.3h0M877.9 299.9h0M214.3 406.0h0M889.4 306.6h0M728.8 417.9h0M276.6 404.4h0M308.1 465.3h0M892.0 295.7h0M371.5 276.9h0M286.0 328.9h0M389.9 266.6h0M221.4 393.7h0M889.6 294.9h0M379.0 288.1h0M384.6 279.4h0"/><path stroke="#62146d" d="M327.9 313.5h0M803.7 355.1h0M714.6 438.1h0M830.5 373.4h0M816.1 360.3h0M833.8 359.0h0M304.3 352.4h0M202.6 426.7h0M833.3 378.8h0M311.9 330.0h0M783.6 518.3h0M685.6 407.0h0M278.9 497.4h0M328.5 317.2h0M163.3 394.5h0M802.4 404.4h0M802.2 383.9h0M820.3 397.0h0M773.6 403.9h0M297.3 373.9h0M335.8 319.8h0M201.1 406.7h0"/><path stroke="#f37819" d="M693.1 404.8h0M707.9 368.7h0M181.2 367.3h0M828.7 541.7h0M850.3 537.9h0M686.3 404.3h0M315.8 534.3h0M836.4 537.5h0M705.7 444.8h0M195.2 345.6h0M691.8 393.9h0M830.2 549.4h0M667.9 401.3h0M780.7 352.0h0M713.2 430.1h0M718.8 407.3h0M688.8 438.5h0M836.3 539.0h0M198.8 353.2h0M330.8 496.4h0M698.7 395.7h0M711.2 410.4h0"/><path stroke="#e6612d" d="M903.5 306.9h0M199.5 349.8h0M697.1 389.4h0M691.4 393.2h0M187.2 364.7h0M701.2 433.1h0M397.4 285.9h0M704.0 400.6h0M709.6 408.5h0M910.3 297.2h0M784.9 352.2h0M898.7 271.9h0M848.0 540.1h0M686.4 393.9h0M837.3 561.7h0M700.4 396.0h0M187.9 353.9h0M704.6 407.7h0M199.5 351.2h0M398.3 249.3h0M691.4 384.5h0M186.1 344.0h0"/><path stroke="#a32d5f" d="M792.7 431.9h0M810.1 399.3h0M352.9 423.9h0M322.9 287.3h0M204.1 338.5h0M826.5 512.3h0M885.0 303.8h0M387.7 275.8h0M188.2 362.4h0M175.1 375.1h0M834.4 218.9h0M912.0 322.2h0M797.7 407.3h0M731.1 486.9h0M379.9 286.8h0M376.5 276.2h0M298.9 259.7h0M303.3 638.7h0M802.8 545.3h0M944.5 436.2h0M385.7 273.4h0M905.0 309.3h0"/><path stroke="#ef7020" d="M710.0 378.6h0M696.4 405.7h0M331.2 509.5h0M191.4 369.3h0M194.1 367.8h0M706.1 413.6h0M696.0 423.8h0M839.1 549.6h0M693.8 414.0h0M203.5 344.8h0M713.1 408.1h0M382.7 254.4h0M685.6 380.2h0M696.1 408.6h0M896.7 271.3h0M830.6 560.7h0M682.7 410.8h0M828.3 562.6h0M395.5 246.1h0M708.9 388.7h0M691.4 385.2h0M724.4 412.5h0"/><path stroke="#ea6826" d="M833.4 551.1h0M700.2 402.2h0M210.6 363.3h0M191.6 355.9h0M837.4 544.8h0M690.1 406.8h0M393.1 244.4h0M703.9 405.4h0M685.2 392.0h0M358.3 231.7h0M340.7 516.1h0M701.4 418.3h0M700.4 387.3h0M827.9 551.1h0M319.0 494.2h0M412.6 209.9h0M697.2 416.5h0M703.3 393.6h0M204.1 363.8h0M198.0 351.4h0M180.4 377.4h0M186.1 362.8h0"/><path stroke="#e6612d" d="M179.9 404.4h0M897.2 299.2h0M697.9 407.4h0M694.7 405.7h0M384.2 245.2h0M895.5 283.8h0M691.0 428.9h0M779.1 354.2h0M202.2 346.4h0M714.0 397.0h0M334.9 488.4h0M387.2 262.5h0M214.6 369.8h0M202.7 343.0h0M182.3 379.5h0M275.7 318.0h0M181.5 361.2h0M427.9 294.5h0M721.9 426.7h0M727.7 383.4h0M920.4 293.1h0M193.4 343.0h0"/><path stroke="#b43458" d="M902.6 264.5h0M370.4 266.1h0M377.2 261.7h0M888.3 288.1h0M379.0 281.2h0M376.5 278.2h0M382.8 265.4h0M393.4 245.9h0M893.1 298.0h0M367.5 292.5h0M904.1 304.7h0M377.9 272.3h0M893.1 309.5h0M385.4 273.6h0M380.9 279.1h0M887.0 294.5h0M200.9 352.2h0M388.3 268.1h0M379.6 283.7h0M884.7 313.6h0M370.7 295.3h0M832.0 521.6h0"/><path stroke="#7a1d6b" d="M835.8 372.7h0M860.6 416.0h0M722.2 432.3h0M909.3 499.6h0M899.0 525.5h0M298.2 374.1h0M309.2 413.4h0M807.0 381.3h0M784.7 528.1h0M261.4 570.7h0M787.7 537.5h0M789.8 407.1h0M708.9 428.4h0M695.3 445.3h0M704.8 396.8h0M334.2 318.9h0M808.3 391.5h0M873.5 481.7h0M313.8 338.9h0M720.3 466.7h0M805.2 388.9h0M336.9 315.0h0"/><path stroke="#d04744" d="M168.5 359.3h0M392.2 240.1h0M703.6 408.8h0M381.5 252.5h0M788.6 351.1h0M890.2 290.0h0M376.1 260.3h0M899.1 291.6h0M389.6 255.7h0M378.1 280.6h0M923.8 277.7h0M403.7 254.2h0M379.4 271.9h0M911.4 317.0h0M383.2 245.3h0M381.0 268.8h0M403.3 291.7h0M375.4 254.4h0M897.1 304.4h0M714.1 393.5h0M392.1 236.6h0M911.5 293.5h0"/><path stroke="#dd513a" d="M817.8 514.5h0M684.8 421.9h0M389.9 244.9h0M185.4 373.3h0M196.3 363.1h0M374.0 254.8h0M379.1 271.0h0M388.9 238.5h0M381.7 213.3h0M891.8 300.4h0M685.4 405.9h0M363.6 463.0h0M817.0 583.2h0M874.2 292.2h0M907.1 271.6h0M361.0 247.0h0M389.0 241.7h0M212.6 390.1h0M286.4 301.6h0M389.4 269.8h0M395.6 256.5h0M188.4 349.6h0"/><path stroke="#6a176e" d="M303.9 362.6h0M309.3 340.2h0M834.6 358.4h0M321.4 333.7h0M308.9 363.3h0M834.3 355.5h0M302.6 366.2h0M819.4 403.2h0M817.6 361.0h0M315.8 341.7h0M826.0 357.6h0M415.2 441.1h0M318.7 334.2h0M682.9 431.8h0M306.6 342.1h0M837.8 366.8h0M349.8 325.3h0M925.0 501.6h0M404.1 448.6h0M357.5 420.5h0M845.7 502.0h0M916.7 494.5h0"/><path stroke="#c9414a" d="M380.7 282.3h0M887.0 297.7h0M892.2 298.0h0M408.4 253.6h0M814.3 512.8h0M890.1 283.9h0M170.0 385.6h0M905.5 300.6h0M885.3 300.0h0M383.8 276.0h0M211.8 373.4h0M379.7 270.1h0M832.2 514.0h0M188.9 339.1h0M381.5 244.7h0M904.1 302.3h0M373.9 278.4h0M384.2 287.5h0M400.7 272.7h0M384.3 261.2h0M375.6 260.3h0M893.2 305.1h0"/><path stroke="#721a6d" d="M287.1 618.2h0M781.8 539.8h0M168.1 380.9h0M333.2 317.8h0M338.1 305.5h0M167.0 414.2h0M768.7 531.5h0M782.4 402.1h0M326.9 332.3h0M827.3 356.3h0M703.0 442.2h0M834.9 521.2h0M481.9 551.2h0M183.7 381.5h0M783.4 447.6h0M184.9 409.4h0M333.7 320.4h0M833.1 374.4h0M827.5 401.3h0M829.6 361.8h0M704.5 430.6h0M941.0 494.2h0"/><path stroke="#c9414a" d="M376.2 274.5h0M884.1 302.4h0M898.6 293.5h0M895.4 306.5h0M188.5 363.8h0M378.3 251.9h0M893.1 312.8h0M899.2 294.7h0M402.2 273.2h0M893.4 304.1h0M901.9 301.6h0M901.4 307.3h0M191.7 355.1h0M826.4 523.0h0M378.0 260.4h0M380.6 267.4h0M387.2 249.3h0M898.5 295.0h0M828.6 501.3h0M377.2 242.8h0M908.5 295.5h0M885.4 296.0h0"/><path stroke="#6a176e" d="M831.9 360.7h0M835.2 350.6h0M805.6 401.8h0M700.4 433.3h0M828.3 373.7h0M401.2 437.7h0M327.1 326.7h0M700.0 446.1h0M702.9 430.9h0M719.3 446.0h0M824.6 367.5h0M320.3 325.7h0M343.5 363.5h0M286.4 490.2h0M361.9 347.6h0M825.8 368.7h0M696.0 407.3h0M194.1 384.3h0M813.0 402.3h0M224.4 384.0h0M825.3 401.6h0M701.3 469.5h0"/><path stroke="#ef7020" d="M703.8 410.4h0M682.3 414.4h0M163.2 358.1h0M200.6 358.1h0M901.8 299.4h0M182.1 356.7h0M695.1 396.0h0M677.7 392.4h0M179.7 353.0h0M707.9 400.8h0M217.0 397.2h0M682.0 404.8h0M694.8 399.1h0M672.7 401.9h0M694.8 388.2h0M710.4 371.7h0M834.5 564.8h0M188.3 336.4h0M682.9 407.9h0M834.9 557.1h0M702.4 413.7h0M709.2 411.1h0"/><path stroke="#b43458" d="M903.7 303.2h0M367.7 291.0h0M877.5 289.4h0M905.1 309.0h0M914.0 301.4h0M891.1 303.6h0M825.8 516.3h0M885.7 309.4h0M823.7 498.9h0M809.0 511.6h0M820.0 505.5h0M214.8 375.6h0M377.9 269.9h0M904.8 302.6h0M204.0 378.2h0M886.1 307.6h0M824.0 517.8h0M893.2 309.5h0M907.1 408.7h0M384.2 271.6h0M827.4 500.6h0M882.2 318.7h0"/><path stroke="#5a126c" d="M162.6 385.6h0M273.3 525.9h0M700.4 444.9h0M818.5 353.4h0M845.4 367.3h0M839.5 367.5h0M337.4 329.4h0M901.9 489.7h0M171.2 395.0h0M313.8 342.3h0M303.7 344.6h0M169.8 418.5h0M295.2 519.4h0M828.2 356.5h0M813.5 356.9h0M331.8 312.5h0M334.5 312.9h0M782.9 420.5h0M165.1 385.9h0M699.5 465.5h0M784.3 392.2h0M828.2 376.8h0"/><path stroke="#d64c3f" d="M399.2 240.4h0M168.0 374.2h0M192.0 382.5h0M886.1 295.5h0M901.2 254.9h0M886.7 301.2h0M881.5 318.4h0M194.2 344.8h0M718.1 394.4h0M408.1 244.8h0M907.2 302.1h0M891.2 305.4h0M390.6 262.4h0M420.0 219.2h0M365.8 271.1h0M887.2 303.2h0M384.5 254.5h0M890.4 307.5h0M328.4 484.0h0M180.9 386.7h0M190.3 361.9h0M395.1 255.0h0"/><path stroke="#62146d" d="M815.0 404.0h0M715.7 439.6h0M847.5 468.5h0M314.4 339.3h0M818.4 362.8h0M689.1 409.0h0M306.1 361.1h0M704.9 447.3h0M777.9 422.5h0M814.7 421.2h0M274.6 572.8h0M867.7 368.5h0M738.1 429.0h0M334.5 325.3h0M326.7 352.5h0M378.5 474.7h0M841.4 349.8h0M363.2 435.3h0M862.8 418.4h0M818.3 404.3h0M324.2 318.2h0M674.2 444.1h0"/><path stroke="#721a6d" d="M834.4 356.3h0M693.8 446.9h0M826.8 379.5h0M300.2 350.4h0M221.9 388.0h0M307.3 543.3h0M672.9 398.7h0M717.3 468.5h0M328.4 323.0h0M261.3 574.6h0M824.2 360.5h0M401.2 467.7h0M238.7 357.0h0M344.8 308.5h0M851.5 414.5h0M400.4 406.6h0M810.6 401.6h0M830.7 402.2h0M138.1 379.0h0M711.0 432.6h0M298.1 481.9h0M829.3 368.8h0"/><path stroke="#fa9c0d" d="M677.1 385.4h0M339.5 490.2h0M180.3 359.0h0M828.6 550.6h0M334.1 507.0h0M331.1 501.6h0M324.8 524.6h0M678.7 399.2h0M336.7 514.5h0M831.3 527.5h0M840.2 558.7h0M333.5 493.6h0M693.3 409.0h0M327.6 505.5h0M843.9 530.8h0M209.1 347.1h0M832.1 537.3h0M706.8 396.4h0M690.6 394.3h0M697.4 403.1h0M826.9 528.9h0M716.5 424.3h0"/><path stroke="#4a0d69" d="M338.7 359.1h0M322.4 321.3h0M313.2 338.0h0M834.3 357.3h0M350.7 448.9h0M844.2 399.0h0M921.2 487.7h0M823.3 377.3h0M254.8 566.5h0M827.0 423.0h0M216.4 367.4h0M316.7 372.6h0M315.3 373.7h0M798.9 524.7h0M415.9 488.2h0M802.3 400.8h0"/><path stroke="#721a6d" d="M911.8 486.7h0M819.2 510.7h0M828.2 371.0h0M801.7 405.2h0M312.5 382.6h0M691.0 451.4h0M811.8 354.2h0M334.8 324.9h0M314.8 326.8h0M838.0 414.0h0M739.3 447.1h0M199.3 386.7h0M311.9 356.6h0M323.2 328.4h0M330.4 317.0h0M833.4 355.3h0M834.9 361.4h0M799.7 543.2h0M345.4 311.5h0M249.7 573.7h0M827.9 375.4h0M814.6 414.0h0"/><path stroke="#520f6a" d="M825.4 423.6h0M321.8 354.4h0M769.8 406.5h0M151.0 399.3h0M188.0 400.5h0M331.5 305.1h0M839.6 385.4h0M824.9 415.3h0M202.9 440.2h0M828.4 360.3h0M723.3 446.4h0M814.0 361.4h0M180.6 404.6h0M809.7 414.8h0M324.7 378.1h0M166.2 399.5h0M291.4 376.5h0M671.3 329.0h0M813.6 392.8h0M797.3 401.9h0M843.2 412.5h0M162.1 423.3h0"/><path stroke="#932667" d="M411.2 274.8h0M835.7 404.6h0M810.8 394.6h0M319.1 383.8h0M372.7 288.9h0M294.1 351.1h0M233.3 432.0h0M795.7 403.9h0M236.8 387.9h0M811.9 397.1h0M807.7 409.2h0M794.0 384.7h0M891.8 309.1h0M939.3 528.3h0M276.1 528.8h0M753.5 616.6h0M191.7 385.8h0M762.1 176.5h0M380.9 274.4h0M811.8 400.9h0M373.8 279.4h0M179.4 390.0h0"/><path stroke="#c9414a" d="M176.2 337.3h0M903.2 321.7h0M903.3 302.3h0M900.2 287.3h0M897.1 312.7h0M379.0 264.3h0M200.0 350.7h0M897.3 300.0h0M716.4 404.6h0M377.2 253.1h0M883.4 302.0h0M899.0 303.2h0M382.0 265.7h0M890.4 302.0h0M893.0 304.7h0M883.5 295.8h0M388.1 262.5h0M888.7 299.5h0M891.9 305.6h0M189.0 365.2h0M198.8 343.6h0M181.1 368.3h0"/><path stroke="#5a126c" d="M220.2 366.4h0M700.9 452.4h0M272.6 569.4h0M229.2 395.2h0M409.8 415.0h0M334.4 321.3h0M691.2 428.7h0M193.9 396.1h0M308.5 318.3h0M783.7 534.8h0M827.3 366.0h0M718.8 440.8h0M927.0 390.1h0M711.6 460.7h0M823.3 356.0h0M321.6 328.8h0M311.0 335.0h0M264.1 565.2h0M292.9 371.5h0M409.8 410.3h0M318.3 312.2h0M821.6 366.9h0"/><path stroke="#6a176e" d="M829.1 361.2h0M718.8 428.4h0M296.9 369.0h0M282.2 528.3h0M323.7 354.4h0M317.2 343.1h0M813.0 396.3h0M315.7 366.0h0M804.0 388.9h0M822.6 490.6h0M900.7 500.6h0M678.3 440.4h0M316.6 346.3h0M274.8 474.6h0M764.0 537.4h0M165.1 409.0h0M803.3 411.4h0M698.4 414.1h0M335.1 315.7h0M822.1 371.9h0M674.7 432.5h0M713.3 476.9h0"/><path stroke="#721a6d" d="M330.3 372.5h0M322.4 360.0h0M794.2 514.9h0M775.0 508.2h0M816.3 364.2h0M831.1 347.7h0M824.2 366.0h0M831.6 367.6h0M777.1 522.8h0M794.6 408.3h0M158.9 419.4h0M679.1 424.1h0M315.8 330.7h0M712.2 449.6h0M306.2 363.1h0M314.9 360.1h0M839.8 413.5h0M325.5 321.9h0M834.0 358.7h0M826.6 408.3h0M824.3 369.4h0M720.3 443.1h0"/><path stroke="#7a1d6b" d="M656.5 495.2h0M177.8 407.7h0M338.9 324.5h0M193.3 395.1h0M338.1 311.3h0M312.7 384.5h0M317.8 366.0h0M316.3 348.3h0M306.2 366.2h0M717.2 422.0h0M794.4 412.4h0M770.9 387.8h0M701.8 446.4h0M909.1 489.4h0M334.7 319.3h0M725.6 437.4h0M193.8 391.6h0M281.9 486.7h0M287.2 491.7h0M166.8 387.1h0M199.8 428.2h0M782.9 525.0h0"/><path stroke="#7a1d6b" d="M815.1 395.8h0M214.6 397.0h0M367.2 359.9h0M268.6 553.8h0M823.6 391.3h0M318.0 336.3h0M290.8 489.8h0M716.2 446.0h0M307.3 385.8h0M303.9 362.2h0M278.4 501.4h0M187.5 400.2h0M840.2 361.6h0M923.1 479.7h0M321.3 365.0h0M810.8 350.1h0M322.1 326.0h0M359.8 453.9h0M359.1 379.1h0M713.0 426.8h0M370.5 409.1h0M336.7 375.4h0"/><path stroke="#e15933" d="M202.0 345.2h0M678.9 377.6h0M194.0 352.1h0M186.1 363.9h0M190.3 347.0h0M196.5 348.2h0M165.5 368.1h0M703.1 408.4h0M388.7 241.6h0M195.6 368.7h0M205.4 392.0h0M900.8 302.1h0M822.5 576.2h0M679.5 402.0h0M204.5 350.6h0M689.0 417.5h0M323.7 471.0h0M689.1 408.2h0M900.9 256.5h0M192.0 355.9h0M196.1 361.8h0M827.7 569.3h0"/><path stroke="#d04744" d="M688.9 383.7h0M191.0 366.9h0M897.7 287.5h0M381.1 254.0h0M410.9 222.3h0M391.7 263.8h0M205.3 390.5h0M902.3 302.5h0M206.0 366.6h0M388.8 247.6h0M825.3 519.0h0M887.4 302.0h0M398.7 248.5h0M385.7 249.8h0M674.4 411.3h0M889.5 302.0h0M379.5 279.4h0M891.4 306.9h0M389.9 220.7h0M404.0 274.2h0M893.4 300.7h0M204.0 377.0h0"/><path stroke="#6a176e" d="M261.4 513.2h0M333.7 378.9h0M207.0 364.9h0M183.1 411.1h0M836.6 403.3h0M835.8 492.3h0M782.5 519.9h0M338.5 306.8h0M334.6 318.5h0M166.1 425.2h0M791.1 413.9h0M311.6 333.7h0M246.4 496.5h0M917.6 490.2h0M324.1 351.1h0M287.6 390.4h0M405.8 439.9h0M315.5 357.1h0M290.6 488.8h0M830.4 400.5h0M834.5 412.3h0M836.9 374.7h0"/><path stroke="#ef7020" d="M313.9 544.5h0M703.5 395.6h0M698.6 397.8h0M822.0 576.7h0M777.8 454.0h0M211.3 349.2h0M326.2 493.8h0M382.5 279.7h0M321.7 541.4h0M404.9 260.0h0M837.7 542.5h0M206.5 346.9h0M841.4 547.2h0M837.8 550.0h0M719.9 407.2h0M689.5 391.6h0M826.5 544.1h0M701.0 417.4h0M694.2 390.7h0M401.9 242.3h0M197.2 353.4h0M702.5 407.6h0"/><path stroke="#c9414a" d="M829.3 524.6h0M405.0 290.5h0M380.1 270.9h0M384.8 255.8h0M373.0 278.9h0M383.7 285.7h0M381.8 263.8h0M186.7 360.0h0M897.6 305.2h0M821.1 500.2h0M383.7 244.6h0M892.6 296.2h0M895.2 295.2h0M891.5 295.0h0M891.9 304.9h0M378.1 262.2h0M379.4 269.8h0M397.8 242.3h0M365.6 251.6h0M427.5 392.9h0M178.7 351.8h0M388.5 264.2h0"/><path stroke="#5a126c" d="M777.6 527.2h0M838.0 368.6h0M836.7 366.9h0M315.5 328.8h0M829.7 404.2h0M796.2 427.3h0M714.4 456.1h0M144.8 413.4h0M849.1 406.8h0M361.1 397.9h0M336.5 327.5h0M199.9 381.3h0M770.8 427.7h0M791.6 527.8h0M844.0 436.6h0M832.0 412.7h0M308.4 339.7h0M326.3 315.0h0M816.8 381.9h0M827.9 428.7h0M770.3 562.1h0M818.0 419.7h0"/><path stroke="#d64c3f" d="M898.7 298.5h0M687.8 412.9h0M392.0 261.8h0M211.8 349.7h0M395.5 262.6h0M203.6 385.1h0M195.2 363.2h0M231.1 393.0h0M895.3 304.8h0M389.5 259.2h0M890.3 297.9h0M199.5 350.9h0M409.2 221.3h0M910.6 296.9h0M211.8 369.3h0M373.6 278.9h0M716.1 400.3h0M193.4 378.1h0M918.6 415.3h0M901.7 283.3h0M894.1 313.7h0M885.7 290.7h0"/><path stroke="#c33c4f" d="M404.8 385.2h0M166.2 387.7h0M318.2 483.1h0M823.8 519.7h0M381.8 262.9h0M907.1 303.9h0M921.8 284.1h0M374.5 275.2h0M890.2 296.5h0M709.8 432.3h0M374.7 268.8h0M895.5 301.2h0M894.8 294.7h0M390.7 269.2h0M896.5 310.8h0M391.3 250.6h0M383.3 284.3h0M887.1 302.1h0M382.8 258.7h0M378.1 260.0h0M382.3 267.3h0M174.2 392.1h0"/><path stroke="#5a126c" d="M260.2 504.2h0M328.8 366.4h0M296.7 384.4h0M313.6 356.1h0M262.0 572.9h0M343.1 372.6h0M830.2 370.4h0M746.3 380.7h0M719.3 458.9h0M415.7 407.9h0M321.3 329.5h0M303.0 347.3h0M196.5 407.6h0M269.6 490.3h0M793.5 391.6h0M312.7 377.5h0M807.0 418.1h0M314.4 338.3h0M666.3 452.4h0M362.5 447.1h0M826.7 368.4h0M702.5 461.0h0"/><path stroke="#f37819" d="M834.8 564.0h0M700.4 404.6h0M718.3 381.0h0M671.4 390.7h0M681.7 388.1h0M189.5 389.5h0M326.4 508.7h0M916.7 298.9h0M183.0 366.7h0M686.1 407.3h0M838.8 543.3h0M326.6 522.3h0M850.3 533.4h0M189.3 382.5h0M682.2 379.7h0M829.9 574.8h0M910.3 253.8h0M173.3 351.1h0M687.2 401.7h0M714.0 389.5h0M687.3 392.7h0M207.5 416.6h0"/><path stroke="#9b2963" d="M376.2 307.3h0M186.7 386.6h0M830.7 506.6h0M213.8 415.8h0M300.1 347.3h0M162.3 398.5h0M902.9 391.5h0M814.6 436.9h0M811.0 408.6h0M831.5 514.1h0M400.9 433.4h0M413.1 459.0h0M409.7 477.7h0M768.6 627.0h0M239.7 497.8h0M382.5 287.7h0M441.0 254.0h0M369.3 475.0h0M832.2 513.5h0M680.4 434.2h0M400.5 342.6h0M890.8 301.5h0"/><path stroke="#520f6a" d="M153.5 399.6h0M294.3 384.4h0M305.8 546.5h0M687.1 455.6h0M354.9 358.8h0M190.2 386.9h0M793.8 397.2h0M315.5 340.1h0M174.7 377.2h0M824.1 397.4h0M831.1 350.0h0M332.7 319.6h0M333.5 321.6h0M308.8 516.3h0"/><path stroke="#ef7020" d="M697.8 389.0h0M202.3 333.5h0M180.8 381.8h0M850.4 557.2h0M841.9 552.2h0M899.7 303.1h0M411.9 228.2h0M176.9 346.4h0M671.5 408.2h0M705.9 395.9h0M686.9 395.8h0M683.9 401.2h0M180.4 393.3h0M184.3 349.8h0M186.4 375.2h0M718.6 388.9h0M684.8 402.0h0M695.4 408.8h0M718.3 430.1h0M698.9 411.1h0M843.0 539.8h0M381.0 246.2h0"/><path stroke="#dd513a" d="M849.3 646.1h0M890.2 310.9h0M731.1 407.8h0M171.0 372.8h0M196.8 349.0h0M180.1 350.0h0M196.6 372.2h0M390.8 258.3h0M399.5 230.9h0M886.6 318.7h0M392.7 279.5h0M392.3 257.6h0M933.1 314.7h0M900.2 298.8h0M202.5 392.9h0M384.1 244.4h0M896.1 303.1h0M884.4 302.4h0M720.3 421.8h0M929.1 353.1h0M211.9 407.0h0M888.1 305.3h0"/><path stroke="#721a6d" d="M342.1 313.6h0M310.2 352.1h0M318.0 378.5h0M173.7 392.9h0M208.0 376.0h0M822.6 393.1h0M711.1 428.4h0M407.6 585.5h0M336.8 311.0h0M799.2 405.8h0M820.6 388.7h0M812.8 396.8h0M438.4 282.6h0M837.4 365.6h0M165.9 389.2h0M319.2 339.0h0M410.6 452.2h0M820.4 348.0h0M829.3 387.1h0M829.5 357.5h0M920.7 361.1h0M665.5 456.2h0"/><path stroke="#6a176e" d="M829.5 356.7h0M839.4 416.5h0M690.9 444.3h0M812.3 394.4h0M700.2 432.3h0M826.7 353.8h0M288.0 354.6h0M340.3 314.0h0M810.2 403.2h0M826.9 374.9h0M203.3 392.0h0M317.3 331.1h0M222.9 385.0h0M284.6 369.1h0M326.8 324.2h0M284.5 463.8h0M336.7 387.7h0M712.6 452.7h0M792.8 533.2h0M185.4 440.2h0M798.1 399.3h0M346.8 396.7h0"/><path stroke="#6a176e" d="M828.5 374.5h0M290.5 482.8h0M321.6 363.2h0M356.6 405.7h0M334.8 323.7h0M828.8 420.7h0M930.2 490.6h0M824.3 414.0h0M338.8 337.4h0M847.3 341.4h0M816.5 396.0h0M775.3 517.6h0M842.0 371.2h0M301.7 504.1h0M826.8 373.7h0M340.3 322.4h0M826.4 406.2h0M174.5 381.8h0M716.5 431.4h0M824.4 395.0h0M335.7 312.5h0M653.2 437.4h0"/><path stroke="#6a176e" d="M795.1 526.4h0M819.4 508.7h0M303.2 359.4h0M326.7 309.4h0M723.0 432.7h0M285.9 485.1h0M186.5 406.2h0M683.9 463.2h0M896.8 500.4h0M837.0 347.1h0M398.5 477.1h0M326.4 319.7h0M326.5 333.6h0M195.1 400.6h0M294.1 364.4h0M818.5 398.9h0M836.4 375.1h0M305.6 322.7h0M826.6 367.3h0M335.6 317.5h0M333.4 312.1h0M686.0 429.3h0"/><path stroke="#5a126c" d="M811.4 363.5h0M300.5 486.9h0M701.6 438.5h0M338.3 407.5h0M332.4 327.8h0M841.1 366.1h0M197.1 370.0h0M297.0 360.2h0M830.8 369.8h0M850.3 399.3h0M824.8 405.8h0M152.0 418.4h0M314.4 336.3h0M830.2 358.9h0M346.9 373.5h0M442.3 459.2h0M837.1 407.7h0M310.0 340.0h0M686.0 439.0h0M320.9 337.0h0M846.4 364.9h0M311.3 541.7h0"/><path stroke="#ef7020" d="M191.8 366.6h0M820.7 576.9h0M681.5 422.9h0M330.6 499.6h0M917.9 287.3h0M334.5 511.2h0M220.8 349.1h0M721.0 390.9h0M201.7 386.4h0M828.3 560.8h0M850.5 553.4h0M682.5 408.2h0M698.4 405.4h0M187.4 345.4h0M699.3 413.9h0M190.3 349.9h0M208.6 367.8h0M826.2 536.4h0M191.4 376.3h0M326.2 502.3h0M197.6 390.4h0M670.5 380.4h0"/><path stroke="#721a6d" d="M838.1 359.6h0M389.9 495.0h0M306.8 343.6h0M821.8 393.1h0M899.6 664.2h0M678.6 450.5h0M332.3 323.4h0M327.1 404.2h0M283.7 509.6h0M818.7 398.3h0M283.2 476.6h0M282.8 379.8h0M703.6 452.2h0M189.5 417.1h0M310.9 513.1h0M692.6 446.0h0M217.8 410.2h0M205.5 381.0h0M828.5 357.0h0M317.3 330.1h0M148.5 406.8h0M314.5 329.2h0"/><path stroke="#f78a13" d="M340.1 492.0h0M190.4 371.5h0M320.4 522.8h0M839.2 542.4h0M313.8 546.3h0M198.6 359.0h0M208.0 370.3h0M829.1 546.0h0M311.2 552.7h0M672.4 389.0h0M334.2 521.9h0M335.3 503.8h0M678.7 402.4h0M849.1 530.5h0M183.4 390.4h0M841.3 544.7h0M323.6 501.9h0M331.5 500.0h0M712.8 391.2h0M832.7 550.3h0M200.6 363.5h0M334.5 494.5h0"/><path stroke="#62146d" d="M831.4 397.0h0M347.2 371.6h0M860.8 379.6h0M817.7 410.8h0M819.3 408.6h0M831.4 403.3h0M325.7 347.7h0M833.2 359.8h0M814.9 403.8h0M916.2 497.3h0M823.6 363.9h0M346.8 359.2h0M186.8 378.6h0M800.3 365.3h0M291.3 362.6h0M844.3 359.7h0M196.4 389.1h0M808.5 402.0h0M610.5 370.1h0M304.3 364.6h0M192.5 382.0h0M337.7 311.0h0"/><path stroke="#6a176e" d="M824.3 366.0h0M302.3 390.4h0M182.4 375.0h0M785.7 511.2h0M836.6 356.1h0M669.8 458.9h0M312.0 340.5h0M838.3 361.7h0M829.7 370.2h0M266.2 559.6h0M706.9 491.8h0M826.3 369.9h0M783.7 520.2h0M331.8 315.4h0M810.4 392.0h0M175.5 397.6h0M340.2 404.4h0M322.5 329.4h0M219.4 366.5h0M723.4 438.7h0M815.9 402.9h0M805.5 394.9h0"/><path stroke="#5a126c" d="M325.7 335.4h0"/><path stroke="#932667" d="M790.7 525.3h0M929.5 386.9h0M308.2 393.6h0M942.1 422.8h0M763.8 619.5h0M337.6 383.3h0M321.7 469.8h0M188.0 393.2h0M400.5 466.9h0M395.2 469.1h0M348.8 365.0h0M225.4 392.7h0M393.2 363.7h0M283.8 394.3h0M783.6 522.7h0M295.1 481.5h0M274.1 530.0h0M180.5 395.0h0M383.0 285.8h0M382.0 394.2h0M716.1 439.8h0M181.0 431.6h0"/><path stroke="#a32d5f" d="M922.2 298.2h0M383.1 284.5h0M383.4 286.5h0M884.2 301.6h0M211.7 391.4h0M416.8 254.5h0M892.7 309.6h0M895.7 310.9h0M428.6 229.6h0M415.4 304.9h0M761.8 624.2h0M895.8 295.2h0M384.2 281.6h0M305.4 316.7h0M887.2 312.7h0M832.6 511.8h0M388.5 273.0h0M800.8 384.5h0M315.1 472.4h0M934.3 270.3h0M345.4 440.8h0M831.1 508.2h0"/><path stroke="#dd513a" d="M893.8 312.1h0M888.7 308.4h0M691.0 417.1h0M711.6 406.6h0M202.8 357.1h0M885.1 303.4h0M678.4 428.7h0M186.5 373.7h0M206.5 346.3h0M688.0 381.8h0M188.3 361.3h0M365.6 207.4h0M883.2 305.2h0M699.1 386.6h0M885.9 309.2h0M387.6 261.2h0M708.4 405.6h0M384.8 260.7h0M376.5 270.2h0M702.8 397.6h0M901.7 309.4h0M215.7 359.0h0"/><path stroke="#721a6d" d="M808.5 385.9h0M327.9 324.0h0M832.8 410.1h0M320.7 334.1h0M821.4 350.1h0M273.5 486.8h0M278.2 489.6h0M790.3 534.9h0M772.8 612.2h0M308.4 342.0h0M790.3 539.0h0M133.6 392.8h0M905.7 494.8h0M180.3 410.7h0M772.3 533.2h0M296.2 511.7h0M327.9 318.5h0M323.0 326.2h0M768.8 606.3h0M396.0 483.2h0M167.9 394.0h0M199.7 415.3h0"/><path stroke="#b43458" d="M878.1 306.0h0M378.6 266.6h0M396.0 247.1h0M889.7 307.2h0M884.5 301.3h0M377.2 371.7h0M384.0 280.3h0M180.5 378.0h0M902.6 302.9h0M378.1 279.3h0M885.2 307.9h0M377.7 269.8h0M398.9 475.7h0M310.2 477.0h0M936.0 280.7h0M385.4 545.8h0M381.3 288.9h0M233.5 468.1h0M874.7 299.0h0M197.1 394.1h0M898.3 307.1h0M896.3 301.0h0"/><path stroke="#ea6826" d="M691.5 401.8h0M389.8 251.0h0M697.3 383.9h0M691.9 386.6h0M702.0 405.3h0M829.9 542.1h0M714.2 410.3h0M391.8 231.8h0M718.5 408.1h0M836.1 544.1h0M205.4 358.2h0M407.7 306.8h0M691.0 398.4h0M708.1 401.8h0M185.2 361.6h0M892.5 256.5h0M188.8 359.0h0M691.6 379.2h0M854.3 537.3h0M668.2 375.5h0M193.7 342.9h0M691.0 407.8h0"/><path stroke="#7a1d6b" d="M318.9 334.7h0M779.2 614.3h0M848.9 411.7h0M781.8 523.2h0M691.3 417.1h0M873.4 473.8h0M798.9 378.7h0M946.9 476.1h0M296.1 355.7h0M332.2 319.9h0M807.6 393.9h0M765.4 604.8h0M777.8 527.9h0M819.6 352.5h0M326.1 340.2h0M917.9 466.0h0M824.9 368.2h0M331.5 354.1h0M291.2 484.2h0M326.1 364.5h0M358.9 400.4h0M813.1 402.2h0"/><path stroke="#83206a" d="M790.7 414.3h0M101.7 134.2h0M324.4 323.1h0M882.9 251.3h0M804.2 395.8h0M167.5 389.3h0M276.8 485.5h0M224.7 391.4h0M420.3 493.0h0M765.9 602.6h0M709.3 467.2h0M362.1 396.9h0M306.9 514.4h0M199.2 379.3h0M388.6 376.6h0M894.0 476.5h0M705.1 435.7h0M838.5 370.0h0M197.1 392.2h0M311.7 346.8h0M340.0 402.0h0M187.3 378.8h0"/><path stroke="#932667" d="M304.2 393.6h0M687.0 457.7h0M285.4 376.6h0M903.4 273.0h0M380.4 292.0h0M808.7 387.4h0M417.7 357.3h0M821.6 523.7h0M338.2 394.5h0M881.9 299.6h0M308.5 519.0h0M378.0 278.7h0M301.7 387.3h0M828.4 429.7h0M225.0 399.6h0M362.6 415.0h0M379.8 292.7h0M760.1 607.4h0M783.5 402.4h0M378.7 297.8h0M416.9 438.5h0M820.4 575.9h0"/><path stroke="#8b2368" d="M910.5 478.3h0M365.8 405.4h0M83.7 258.2h0M672.1 470.7h0M904.5 482.1h0M816.5 414.4h0M201.2 388.1h0M911.8 490.5h0M1004.1 485.9h0M656.5 422.2h0M736.6 473.8h0M266.5 497.7h0M246.5 547.3h0M827.8 377.0h0M208.1 390.4h0M188.1 433.8h0M819.3 410.2h0M324.3 330.6h0M797.2 399.3h0M317.1 371.3h0M308.9 359.9h0M342.2 370.1h0"/><path stroke="#f37819" d="M393.2 273.7h0M245.3 445.7h0M832.8 539.3h0M201.4 353.8h0M705.7 411.2h0M689.9 398.5h0M328.4 491.8h0M672.9 381.9h0M186.5 361.7h0M833.5 541.8h0M320.5 551.7h0M692.3 405.8h0M317.4 547.4h0M693.5 391.1h0M197.1 354.5h0M322.0 499.9h0M683.9 387.2h0M188.2 361.4h0M694.6 425.5h0M686.1 416.3h0M699.2 373.7h0M702.7 400.5h0"/><path stroke="#6a176e" d="M827.8 371.4h0M812.9 406.1h0M308.2 379.9h0M794.7 395.7h0M833.0 357.2h0M807.1 405.2h0M903.7 488.5h0M819.2 357.9h0M310.5 536.7h0M812.5 401.6h0M323.2 329.9h0M311.6 376.5h0M806.4 421.5h0M813.5 408.2h0M250.9 504.6h0M932.6 501.2h0M697.5 452.7h0M708.5 447.0h0M837.4 362.2h0M173.8 422.5h0M824.0 395.1h0M806.8 360.1h0"/><path stroke="#c9414a" d="M676.1 375.9h0M381.9 266.4h0M293.6 466.7h0M899.8 307.9h0M416.0 292.9h0M387.1 277.0h0M876.9 298.4h0M371.5 276.9h0M673.5 399.7h0M897.0 312.7h0M903.4 305.5h0M183.5 360.4h0M816.5 510.7h0M898.2 298.0h0M890.9 301.6h0M674.9 396.4h0M901.3 297.5h0M366.3 261.2h0M828.9 517.2h0M381.4 267.6h0M376.7 267.5h0M898.1 277.9h0"/><path stroke="#e15933" d="M203.7 354.4h0M325.2 518.3h0M379.4 261.7h0M379.0 245.8h0M681.8 396.9h0M698.5 384.1h0M686.5 420.7h0M696.9 402.9h0M267.4 327.6h0M697.9 414.4h0M380.2 249.3h0M900.2 295.2h0M187.3 374.9h0M388.3 245.3h0M187.9 356.4h0M891.1 285.7h0M284.5 292.7h0M704.0 404.4h0M701.6 400.5h0M192.6 358.2h0M877.7 303.3h0M188.8 361.6h0"/><path stroke="#6a176e" d="M819.5 369.9h0M832.6 374.4h0M267.9 454.9h0M713.9 435.8h0M280.6 510.8h0M837.3 361.8h0M830.5 371.6h0M825.8 406.6h0M888.0 418.8h0M768.5 535.5h0M681.9 414.7h0M708.9 469.1h0M258.4 565.7h0M613.0 443.0h0M256.5 573.6h0M767.5 513.1h0M820.3 371.7h0M843.4 370.8h0M318.7 341.9h0M318.8 375.6h0M194.5 387.4h0M830.5 519.7h0"/><path stroke="#f89310" d="M326.8 509.7h0M691.1 389.1h0M713.6 413.6h0M317.7 516.0h0M336.9 499.8h0M841.9 540.2h0M853.1 547.4h0M685.7 439.5h0M709.7 395.7h0M197.3 350.5h0M845.6 525.8h0M318.2 533.5h0M322.3 532.0h0M317.6 537.9h0M705.6 386.9h0M317.9 528.8h0M824.9 534.6h0M329.6 507.5h0M184.5 386.3h0M333.2 487.6h0M333.0 499.1h0M828.9 542.4h0"/><path stroke="#932667" d="M317.6 373.3h0M397.1 432.3h0M789.7 394.5h0M829.6 423.1h0M704.0 432.2h0M762.7 521.2h0M175.2 393.9h0M769.3 408.8h0M641.6 466.1h0M660.6 439.2h0M817.5 389.1h0M377.9 263.8h0M768.2 612.6h0M298.0 375.7h0M773.5 385.0h0M819.8 549.7h0M399.2 383.9h0M801.5 549.7h0M740.7 423.7h0M879.7 297.1h0M376.0 409.1h0M380.0 307.5h0"/><path stroke="#6a176e" d="M307.8 344.5h0M739.0 459.4h0M342.0 402.9h0M287.4 503.1h0M833.2 370.2h0M316.3 383.5h0M816.0 359.4h0M311.4 333.5h0M292.7 359.2h0M204.2 371.0h0M826.7 404.0h0M768.4 503.2h0M714.6 435.4h0M315.0 330.0h0M678.6 437.5h0M332.7 369.5h0M211.3 372.8h0M318.6 339.7h0M173.5 382.8h0M801.3 410.4h0M798.5 390.5h0M853.6 357.3h0"/><path stroke="#721a6d" d="M192.3 426.2h0M784.1 529.5h0M833.5 332.4h0M734.9 433.9h0M768.8 411.5h0M781.0 513.6h0M169.8 399.3h0M305.0 373.2h0M705.5 413.8h0M907.7 666.6h0M822.6 368.5h0M809.2 400.4h0M333.9 314.4h0M849.0 362.8h0M800.0 511.1h0M324.2 327.0h0M844.1 358.6h0M321.4 318.6h0M248.5 357.7h0M823.1 373.5h0M310.8 374.7h0M279.3 490.8h0"/><path stroke="#ea6826" d="M196.2 360.9h0M698.2 400.9h0M692.0 390.3h0M191.0 348.9h0M186.5 351.5h0M696.7 399.4h0M312.5 542.9h0M701.3 391.5h0M697.9 383.3h0M709.3 406.8h0M843.5 545.2h0M682.1 402.9h0M689.3 387.1h0M693.5 400.1h0M699.6 408.9h0M694.0 412.8h0M700.9 412.5h0M395.6 242.3h0M697.0 405.4h0M822.1 554.7h0M699.1 398.3h0M694.0 401.0h0"/><path stroke="#f58116" d="M686.3 412.7h0M685.3 389.3h0M703.2 367.9h0M198.0 348.4h0M839.8 541.8h0M206.5 379.7h0M713.3 390.2h0M694.9 402.9h0M197.4 362.7h0M820.2 577.8h0M687.9 386.9h0M721.9 403.7h0M879.0 286.4h0M184.8 361.1h0M694.3 397.8h0M689.9 395.8h0M841.2 538.7h0M192.1 371.8h0M709.9 385.6h0M849.2 549.4h0M192.0 401.9h0M317.2 537.5h0"/><path stroke="#ea6826" d="M672.2 433.2h0M723.3 393.8h0M897.6 300.1h0M201.2 356.1h0M210.3 381.3h0M203.0 348.5h0M706.0 407.6h0M197.9 341.3h0M305.3 555.5h0M331.8 500.3h0M702.6 417.5h0M842.4 549.3h0M180.7 370.1h0M679.9 379.4h0M907.4 278.4h0M178.5 378.0h0M700.1 409.1h0M186.1 370.0h0M700.7 410.9h0M190.3 351.9h0M388.3 266.7h0M308.8 552.4h0"/><path stroke="#c33c4f" d="M325.9 345.0h0M890.0 302.4h0M386.5 272.3h0M326.1 468.0h0M394.0 264.4h0M891.1 288.8h0M400.7 260.0h0M908.0 296.1h0M699.4 413.4h0M386.2 277.9h0M908.6 286.0h0M198.3 386.8h0M904.7 305.0h0M380.8 244.5h0M380.3 261.2h0M387.9 262.2h0M898.9 288.5h0M211.7 388.6h0M891.9 296.9h0M187.4 359.3h0M282.0 325.4h0M896.7 301.2h0"/><path stroke="#8b2368" d="M313.4 363.0h0M206.5 391.4h0M821.3 422.8h0M806.5 394.5h0M229.8 420.2h0M850.5 407.4h0M350.3 384.1h0M194.7 443.3h0M366.0 385.3h0M670.5 445.1h0M928.4 277.2h0M770.5 420.0h0M763.2 602.6h0M813.8 386.7h0M796.4 379.0h0M398.6 472.4h0M332.8 407.3h0M200.3 387.5h0M373.9 265.3h0M854.3 430.2h0M711.8 472.5h0M346.4 382.1h0"/><path stroke="#a32d5f" d="M370.8 457.5h0M373.8 289.7h0M388.2 271.0h0M788.5 152.2h0M890.7 294.6h0M384.1 286.6h0M410.9 461.2h0M382.3 274.0h0M887.5 321.4h0M925.0 273.9h0M387.9 273.3h0M213.0 394.6h0M369.7 284.2h0M822.2 401.6h0M691.3 435.2h0M885.2 491.8h0M819.2 415.4h0M895.4 282.4h0M806.1 390.5h0M899.6 285.5h0M289.7 396.0h0M886.1 488.1h0"/><path stroke="#721a6d" d="M709.4 422.0h0M778.2 413.6h0M360.6 391.8h0M312.9 351.3h0M170.1 389.3h0M787.0 525.1h0M744.1 428.9h0M812.7 360.8h0M333.3 369.7h0M676.0 458.6h0M690.3 414.2h0M311.5 337.3h0M687.1 442.7h0M820.1 404.7h0M251.1 560.1h0M347.9 361.3h0M208.7 401.3h0M393.0 426.2h0M825.8 350.4h0M805.3 363.9h0M180.4 402.2h0M313.5 346.5h0"/><path stroke="#6a176e" d="M207.5 398.7h0M766.4 400.7h0M841.8 360.7h0M329.6 317.4h0M260.1 507.3h0M823.5 390.6h0M820.6 355.0h0M839.0 360.5h0M287.4 375.8h0M823.8 382.3h0M827.5 385.6h0M328.5 363.6h0M180.0 387.9h0M789.9 396.0h0M323.0 331.8h0M323.1 323.0h0M260.6 568.9h0M826.1 367.0h0M835.3 359.6h0M842.1 354.8h0M811.6 365.3h0M352.9 389.4h0"/><path stroke="#6a176e" d="M812.4 386.7h0M316.2 362.3h0M178.3 421.5h0M825.4 365.6h0M276.1 418.5h0M783.8 514.7h0M304.2 349.6h0M292.7 351.6h0M830.8 359.3h0M834.7 377.7h0M173.8 391.0h0M320.6 363.1h0M827.4 407.4h0M401.3 467.4h0M333.1 374.0h0M639.4 206.0h0M316.6 352.1h0M824.3 360.8h0M823.8 398.9h0M813.4 399.4h0M819.7 395.8h0M335.3 323.2h0"/><path stroke="#6a176e" d="M249.7 570.0h0M197.8 410.7h0M262.8 505.3h0M820.7 365.3h0M217.6 391.3h0M827.1 358.8h0M317.5 363.4h0M336.4 326.3h0M278.4 357.6h0M399.8 474.8h0M715.3 433.5h0M313.8 345.1h0M912.1 460.6h0M335.8 316.7h0M264.7 353.9h0M196.1 407.2h0M269.3 572.2h0M312.7 337.6h0M295.0 511.7h0M699.4 460.8h0M327.2 324.0h0M826.6 362.8h0"/><path stroke="#6a176e" d="M311.5 347.6h0M863.3 408.1h0M344.0 403.5h0M320.2 394.1h0M808.8 395.2h0M708.8 446.9h0M302.5 500.1h0M331.7 396.2h0M688.2 418.3h0M697.5 457.2h0M837.1 362.1h0M828.1 359.7h0M827.9 407.5h0M317.0 328.1h0M328.3 335.7h0M779.0 531.2h0M811.1 410.3h0M381.0 460.9h0M196.7 413.8h0M692.6 444.9h0M259.5 504.9h0M331.6 373.5h0"/><path stroke="#fab922" d="M316.7 539.7h0M331.4 507.9h0M319.5 548.0h0M324.0 500.4h0M333.0 511.1h0M325.8 525.0h0M319.3 534.7h0M331.9 509.2h0M341.5 502.2h0M331.4 520.8h0M343.6 519.0h0M322.4 519.1h0M329.3 499.6h0M322.8 510.7h0M336.8 490.4h0M758.4 470.6h0M296.4 459.5h0M253.3 448.0h0M316.4 526.0h0M254.9 424.7h0M672.9 377.6h0M327.5 495.6h0"/><path stroke="#8b2368" d="M345.1 380.9h0M822.2 533.5h0M251.3 496.1h0M700.8 437.3h0M354.6 396.3h0M265.5 492.3h0M913.8 499.5h0M223.2 457.3h0M324.4 402.1h0M818.7 391.2h0M820.4 415.0h0M846.9 401.3h0M763.6 601.2h0M795.0 391.4h0M345.6 459.7h0M340.5 366.6h0M927.0 500.5h0M269.9 490.5h0M320.9 395.5h0M326.8 372.3h0M262.2 349.4h0M885.5 484.7h0"/><path stroke="#e15933" d="M208.8 338.7h0M185.2 357.7h0M887.2 314.1h0M373.1 261.1h0M706.3 387.0h0M194.6 358.8h0M896.8 305.9h0M200.0 355.0h0M875.3 268.7h0M701.0 378.9h0M326.1 490.0h0M388.5 233.3h0M195.7 358.8h0M904.5 290.0h0M679.5 418.3h0M202.7 370.9h0M712.9 389.3h0M210.5 339.2h0M684.6 402.0h0M189.7 371.9h0M381.6 253.2h0M923.5 286.9h0"/><path stroke="#c33c4f" d="M379.1 272.7h0M372.5 270.3h0M383.3 270.6h0M889.0 322.9h0M883.9 303.0h0M371.9 262.9h0M377.7 257.0h0M892.1 297.1h0M887.0 302.8h0M763.5 356.7h0M893.9 297.4h0M390.9 236.5h0M893.8 290.9h0M893.0 292.6h0M887.5 296.2h0M913.1 318.1h0M901.4 297.8h0M408.6 248.5h0M887.3 305.0h0M376.9 268.4h0M884.1 300.4h0M887.7 292.0h0"/><path stroke="#520f6a" d="M300.4 361.0h0M842.4 356.6h0M694.6 472.2h0M287.3 358.1h0M184.8 371.1h0M324.8 386.3h0M178.2 394.8h0M245.4 390.6h0M802.5 536.3h0M319.0 391.5h0M817.3 361.4h0M375.5 419.6h0M401.2 458.7h0M312.7 346.0h0M800.6 377.6h0M333.9 366.5h0M311.8 319.4h0M312.7 376.5h0M322.5 314.9h0M313.4 488.2h0M195.0 398.2h0M323.4 336.3h0"/><path stroke="#e15933" d="M701.1 429.9h0M703.1 393.1h0M690.8 406.8h0M189.8 345.0h0M934.3 350.5h0M704.0 378.9h0M196.0 347.8h0M703.0 428.6h0M379.1 262.3h0M194.9 357.9h0M705.0 430.6h0M391.7 244.4h0M685.8 404.8h0M900.7 305.0h0M395.9 215.9h0M761.8 463.4h0M847.7 545.0h0M690.7 410.6h0M704.9 362.2h0M187.9 356.0h0M672.0 409.8h0M384.8 246.5h0"/><path stroke="#5a126c" d="M803.7 534.4h0M364.8 676.6h0M820.5 360.3h0M687.1 458.0h0M330.0 310.1h0M313.0 338.1h0M299.9 379.3h0M851.2 357.7h0M824.0 408.8h0M677.6 436.1h0M333.2 312.0h0M831.5 370.3h0M322.9 352.8h0M823.5 368.8h0M841.1 435.0h0M816.1 355.5h0M285.4 493.2h0M355.1 389.1h0M840.3 359.3h0M818.3 334.6h0M385.0 381.9h0M276.0 518.2h0"/><path stroke="#c33c4f" d="M902.1 308.6h0M904.9 313.5h0M883.2 297.4h0M890.4 293.3h0M908.7 300.6h0M894.8 305.5h0M378.2 259.6h0M882.8 299.7h0M896.2 292.7h0M834.1 508.3h0M390.8 271.2h0M683.5 429.5h0M893.4 291.1h0M881.2 289.1h0M895.3 297.9h0M894.1 309.0h0M401.6 231.9h0M886.2 299.5h0M375.0 280.1h0M378.8 267.8h0M703.0 435.8h0M366.7 315.1h0"/><path stroke="#8b2368" d="M690.9 413.1h0M821.4 462.6h0M407.5 455.3h0M905.0 472.9h0M204.6 413.1h0M209.2 436.7h0M347.4 366.3h0M329.6 327.8h0M814.1 406.9h0M170.3 390.8h0M316.8 370.6h0M689.7 451.4h0M409.2 440.9h0M828.3 419.9h0M376.9 281.8h0M199.2 432.3h0M330.5 379.4h0M781.8 528.7h0M286.4 518.4h0M222.5 388.6h0M404.8 232.1h0M792.3 522.0h0"/><path stroke="#62146d" d="M822.9 364.8h0M761.8 406.2h0M721.0 459.2h0M719.2 439.9h0M176.6 394.8h0M720.3 439.5h0M316.2 374.4h0M830.6 360.7h0M791.2 487.1h0M324.0 330.4h0M822.5 363.8h0M288.5 411.8h0M154.8 389.6h0M327.2 315.2h0M353.2 405.9h0M719.8 432.2h0M730.6 412.0h0M845.1 358.2h0M907.8 344.8h0M318.2 340.5h0M307.0 345.8h0M804.3 404.2h0"/><path stroke="#c33c4f" d="M370.0 271.9h0M387.3 244.4h0M886.8 294.0h0M396.9 264.5h0M886.8 290.1h0M380.8 262.5h0M381.1 263.5h0M907.1 268.1h0M370.2 274.2h0M896.6 297.8h0M381.1 271.3h0M889.6 301.3h0M877.0 272.3h0M371.3 261.6h0M369.5 173.1h0M892.2 294.6h0M214.2 376.9h0M888.2 295.9h0M379.2 267.5h0M898.0 290.7h0M255.3 544.9h0M891.4 308.6h0"/><path stroke="#c9414a" d="M227.2 402.0h0M389.1 275.6h0M890.6 297.2h0M675.2 418.1h0M904.3 305.0h0M373.6 267.7h0M899.4 293.2h0M380.6 276.1h0M183.3 362.7h0M416.1 251.7h0M884.1 310.2h0M891.0 293.6h0M880.8 297.4h0M885.1 305.3h0M703.8 387.1h0M395.5 232.1h0M394.8 242.7h0M893.8 291.5h0M387.2 280.4h0M377.2 266.2h0M399.1 247.9h0M382.2 238.9h0"/><path stroke="#7a1d6b" d="M752.1 537.9h0M698.9 436.9h0M177.6 377.1h0M703.3 415.7h0M844.2 370.0h0M694.1 438.2h0M707.9 450.8h0M316.0 357.5h0M821.2 363.2h0M267.4 499.8h0M306.6 342.4h0M852.7 556.3h0M159.6 387.0h0M410.7 426.3h0M842.3 403.9h0M796.8 402.3h0M789.5 382.3h0M781.2 394.4h0M894.7 476.1h0M413.2 447.4h0M282.8 505.2h0M287.4 390.7h0"/><path stroke="#7a1d6b" d="M221.9 418.0h0M686.0 421.2h0M295.9 368.5h0M321.2 408.5h0M282.8 367.9h0M735.8 436.6h0M829.2 389.6h0M672.7 399.9h0M259.3 483.5h0M340.8 315.9h0M278.2 473.0h0M168.0 396.0h0M335.0 318.1h0M932.8 467.7h0M830.0 362.5h0M194.1 415.2h0M252.7 557.6h0M148.4 415.1h0M714.6 450.1h0M812.9 362.7h0M868.0 406.1h0M406.0 485.4h0"/><path stroke="#dd513a" d="M187.6 375.6h0M216.1 333.4h0M670.9 416.4h0M693.6 383.6h0M707.8 409.2h0M187.3 382.1h0M388.4 262.0h0M176.5 370.2h0M186.3 420.8h0M394.7 249.8h0M883.0 305.0h0M380.2 258.0h0M704.8 428.7h0M190.7 359.3h0M880.0 303.5h0M197.2 366.7h0M709.3 391.8h0M388.6 248.8h0M205.0 349.4h0M883.7 300.4h0M902.6 308.0h0M725.9 425.7h0"/><path stroke="#62146d" d="M349.1 394.6h0M336.0 325.9h0M300.9 379.0h0M696.8 411.2h0M686.5 462.1h0M323.1 342.0h0M281.5 513.0h0M183.8 389.9h0M810.1 396.4h0M331.4 331.8h0M899.2 468.0h0M821.1 357.1h0M338.4 377.5h0M818.2 403.2h0M854.0 356.1h0M849.7 366.2h0M226.9 385.9h0M176.3 384.3h0M342.2 317.4h0M329.9 343.4h0M847.6 360.6h0M806.7 407.5h0"/><path stroke="#bc3754" d="M208.2 392.1h0M714.6 416.7h0M899.7 304.2h0M381.2 270.4h0M388.6 280.0h0M894.2 311.2h0M365.3 269.9h0M380.4 261.3h0M895.3 284.3h0M382.3 274.4h0M886.1 300.3h0M383.0 271.6h0M355.0 447.4h0M893.9 313.6h0M892.9 303.3h0M903.5 298.7h0M380.0 284.0h0M903.0 295.1h0M904.4 300.6h0M323.0 475.3h0M423.6 243.9h0M887.3 308.2h0"/><path stroke="#6a176e" d="M696.0 429.3h0M822.8 392.9h0M819.2 399.8h0M216.3 435.2h0M835.1 365.7h0M916.8 477.4h0M339.6 387.8h0M362.2 341.9h0M840.9 362.0h0M691.8 443.3h0M846.7 356.1h0M815.6 404.2h0M843.6 361.6h0M287.9 491.0h0M822.2 377.0h0M915.2 490.9h0M701.1 436.0h0M826.6 421.3h0M350.9 366.5h0M709.8 454.7h0M329.8 309.7h0M320.1 320.5h0"/><path stroke="#d64c3f" d="M396.2 233.9h0M392.1 242.3h0M884.0 269.8h0M708.4 402.8h0M883.5 294.1h0M203.5 374.5h0M874.6 284.2h0M378.9 262.5h0M184.7 365.8h0M869.8 299.5h0M391.4 239.8h0M780.1 350.1h0M903.7 293.8h0M706.9 414.8h0M222.0 396.7h0M382.0 244.4h0M391.6 262.9h0M888.1 315.5h0M397.8 227.6h0M197.0 374.2h0M397.0 243.6h0M210.0 417.0h0"/><path stroke="#83206a" d="M820.5 406.9h0M781.5 414.6h0M733.6 404.1h0M165.3 376.7h0M269.9 516.5h0M820.4 572.0h0M794.7 389.6h0M926.2 343.3h0M177.8 401.5h0M917.3 516.5h0M318.8 329.0h0M190.7 402.3h0M901.1 491.2h0M276.5 564.0h0M321.9 335.6h0M351.3 389.5h0M268.2 501.6h0M401.4 430.3h0M776.5 453.8h0M251.8 509.2h0M405.0 479.1h0M771.8 273.9h0"/><path stroke="#7a1d6b" d="M898.0 472.0h0M775.8 632.3h0M815.3 396.1h0M309.3 341.1h0M319.2 334.0h0M836.2 421.9h0M825.6 399.3h0M923.2 490.0h0M304.0 370.3h0M698.4 424.5h0M321.4 360.6h0M830.0 361.1h0M718.2 418.3h0M267.0 498.9h0M120.7 118.7h0M892.4 504.0h0M310.9 410.5h0M804.0 429.9h0M810.1 410.6h0M679.3 450.8h0M169.1 421.8h0M188.6 402.5h0"/><path stroke="#bc3754" d="M895.9 290.2h0M893.7 305.5h0M889.0 309.3h0M897.1 288.4h0M887.0 294.2h0M714.9 399.7h0M878.0 313.8h0M884.6 305.7h0M384.8 273.9h0M416.2 390.6h0M376.5 270.9h0M689.7 434.5h0M384.9 252.2h0M375.1 278.0h0M280.8 360.1h0M311.1 470.9h0M903.7 281.3h0M378.1 278.5h0M376.4 275.5h0M391.7 260.9h0M892.8 306.2h0M885.1 298.2h0"/><path stroke="#7a1d6b" d="M336.5 314.4h0M256.8 562.2h0M810.6 395.3h0M823.7 391.0h0M819.4 414.8h0M317.3 333.3h0M845.3 357.2h0M673.3 433.8h0M402.9 462.9h0M310.7 522.4h0M843.8 360.7h0M814.1 359.3h0M895.3 615.4h0M324.1 328.6h0M314.1 326.2h0M368.7 408.2h0M918.8 486.4h0M768.1 385.0h0M772.3 549.7h0M343.6 318.8h0M935.5 487.8h0M814.6 365.8h0"/><path stroke="#520f6a" d="M828.0 373.3h0M271.9 521.6h0M815.3 399.2h0M310.8 369.5h0M819.9 371.7h0M813.3 356.1h0M858.6 421.4h0M810.3 522.5h0M284.2 466.3h0M779.4 515.8h0M269.6 496.1h0M820.6 361.1h0M825.3 358.0h0M827.9 371.9h0M257.6 505.5h0M826.1 396.2h0M156.4 392.0h0M719.6 413.7h0M832.2 354.5h0M729.5 429.3h0M720.4 420.0h0M354.8 392.8h0"/><path stroke="#9b2963" d="M399.8 304.7h0M837.6 556.7h0M389.1 286.9h0M380.9 286.4h0M419.7 307.3h0M364.9 475.9h0M711.0 424.3h0M874.9 285.4h0M783.5 317.8h0M896.3 667.5h0M356.6 395.6h0M841.1 408.6h0M803.6 381.7h0M394.4 446.3h0M187.0 406.6h0M255.0 311.4h0M666.8 355.8h0M870.1 515.3h0M398.5 453.0h0M285.6 370.3h0M376.0 292.1h0M237.3 516.7h0"/><path stroke="#bc3754" d="M385.1 265.5h0M891.0 305.8h0M377.9 267.5h0M387.6 270.8h0M377.9 260.9h0M880.8 303.8h0M387.3 258.7h0M382.4 277.8h0M388.0 263.9h0M349.4 455.4h0M901.7 294.1h0M897.9 296.1h0M383.5 267.5h0M899.5 300.8h0M832.2 538.7h0M391.4 231.6h0M825.9 511.1h0M743.5 191.8h0M400.8 294.3h0M908.6 301.2h0M183.8 367.7h0M892.7 307.5h0"/><path stroke="#f89310" d="M321.0 516.6h0M843.1 542.9h0M330.1 501.6h0M324.2 514.5h0M249.4 461.9h0M846.2 541.2h0M334.6 504.7h0M707.9 396.9h0M322.1 529.5h0M306.8 535.4h0M685.1 380.4h0M850.9 535.2h0M742.8 458.5h0M167.6 383.5h0M322.1 499.9h0M198.8 367.2h0M337.6 515.7h0M312.7 547.4h0M334.3 501.9h0M283.8 336.6h0M181.8 364.9h0M326.4 495.5h0"/><path stroke="#6a176e" d="M308.9 337.3h0M841.5 359.6h0M323.9 335.3h0M178.0 388.8h0M833.2 374.3h0M685.3 469.1h0M695.8 433.5h0M272.4 499.6h0M303.2 499.5h0M689.3 451.3h0M837.7 351.4h0M811.3 370.4h0M857.7 358.7h0M419.9 469.5h0M308.9 365.4h0M685.1 421.8h0M311.9 341.1h0M337.7 311.4h0M818.8 364.6h0M819.3 356.9h0M838.7 358.6h0M328.6 321.0h0"/><path stroke="#c9414a" d="M892.4 300.0h0M735.9 216.3h0M881.1 310.4h0M898.3 297.2h0M387.7 276.6h0M885.8 302.3h0M894.0 304.3h0M229.4 390.9h0M889.3 291.2h0M883.0 298.0h0M371.3 280.9h0M827.9 513.0h0M891.8 257.0h0M885.4 302.0h0M320.4 477.5h0M894.6 301.5h0M875.6 295.2h0M188.7 382.1h0M390.4 364.1h0M899.5 316.9h0M391.5 238.1h0M385.5 238.1h0"/><path stroke="#7a1d6b" d="M287.2 485.0h0M294.0 345.0h0M908.7 383.7h0M782.9 533.7h0M827.1 516.4h0M818.4 398.4h0M821.5 407.5h0M316.1 336.3h0M310.4 364.0h0M311.9 338.1h0M832.9 359.9h0M350.0 389.1h0M784.7 526.4h0M789.4 522.0h0M808.4 404.8h0M825.6 371.0h0M808.0 365.2h0M832.5 357.1h0M674.8 461.1h0M657.7 420.7h0M834.3 379.1h0M897.1 485.6h0"/><path stroke="#c9414a" d="M881.3 295.1h0M889.4 297.5h0M370.0 281.7h0M191.7 398.5h0M224.0 393.3h0M901.1 299.8h0M175.6 375.0h0M388.5 247.8h0M409.3 244.4h0M387.5 230.4h0M906.2 302.0h0M173.7 368.7h0M321.6 467.0h0M893.9 309.5h0M885.1 301.2h0M879.7 301.2h0M385.4 219.6h0M383.9 262.4h0M890.1 294.9h0M386.1 264.4h0M882.0 299.4h0M926.6 249.6h0"/><path stroke="#7a1d6b" d="M287.8 499.8h0M825.5 418.8h0M820.0 401.5h0M301.1 367.4h0M716.2 451.4h0M814.2 395.9h0M318.6 336.0h0M890.0 494.8h0M873.0 402.1h0M807.4 392.5h0M320.2 342.0h0M308.9 342.6h0M170.7 406.2h0M722.2 426.4h0M321.3 313.2h0M825.4 391.6h0M313.7 351.0h0M792.8 515.6h0M678.9 441.5h0M693.8 436.4h0M788.7 518.5h0M334.7 327.7h0"/><path stroke="#62146d" d="M789.6 514.1h0M703.7 414.4h0M715.2 452.5h0M404.7 467.1h0M780.1 510.0h0M306.8 342.0h0M409.0 470.5h0M804.0 397.6h0M795.0 420.6h0M340.5 317.5h0M828.5 388.8h0M823.9 362.0h0M810.2 395.8h0M804.2 409.4h0M815.6 350.1h0M679.6 450.0h0M335.0 356.9h0M816.3 416.3h0M286.7 389.5h0M452.0 558.9h0M200.8 411.9h0M326.5 392.6h0"/><path stroke="#dd513a" d="M202.8 361.1h0M175.0 377.7h0M386.0 251.3h0M194.3 359.9h0M395.1 238.1h0M380.1 249.0h0M916.6 306.9h0M718.2 415.5h0M189.9 356.3h0M703.4 407.1h0M906.7 319.8h0M386.6 258.3h0M381.0 250.2h0M690.4 398.6h0M682.6 417.5h0M683.4 407.0h0M219.7 238.8h0M821.6 515.5h0M383.0 255.6h0M701.7 390.2h0M879.7 253.6h0M392.6 247.4h0"/><path stroke="#6a176e" d="M769.0 389.5h0M308.5 390.2h0M311.8 345.7h0M699.1 448.4h0M823.4 360.9h0M158.3 404.6h0M325.3 328.9h0M827.4 365.2h0M822.9 363.4h0M830.1 395.5h0M309.5 395.7h0M800.3 392.9h0M156.0 415.2h0M225.4 381.1h0M840.0 352.7h0M818.3 409.3h0M337.5 314.6h0M333.8 329.8h0M778.0 516.2h0M321.1 338.0h0M333.5 315.5h0M322.9 323.6h0"/><path stroke="#bc3754" d="M895.8 297.0h0M388.9 264.5h0M386.5 282.8h0M823.9 518.9h0M893.8 304.2h0M881.2 307.9h0M373.5 267.6h0M424.6 272.2h0M877.4 302.1h0M383.0 279.6h0M374.9 270.5h0M412.8 275.6h0M829.3 516.3h0M379.8 268.7h0M894.3 306.1h0M385.4 269.3h0M888.5 301.8h0M380.4 280.0h0M368.7 279.8h0M890.9 306.2h0M904.0 298.2h0M884.7 309.0h0"/><path stroke="#62146d" d="M322.0 362.3h0M783.1 397.0h0M331.3 319.2h0M861.9 419.4h0M705.2 444.5h0M805.7 402.0h0M310.4 346.7h0M899.2 497.7h0M781.1 528.3h0M318.5 336.0h0M820.1 418.8h0M323.1 335.8h0M828.4 356.8h0M407.3 409.6h0M812.2 391.8h0M774.2 517.0h0M835.3 354.3h0M927.1 487.3h0M818.4 361.2h0M192.5 420.6h0M827.1 364.9h0M189.8 410.2h0"/><path stroke="#62146d" d="M799.2 398.6h0M341.9 403.3h0M826.4 379.1h0M733.9 428.8h0M847.4 395.9h0M832.4 370.6h0M710.1 431.1h0M312.3 338.8h0M272.1 563.7h0M302.8 400.1h0M827.0 362.4h0M344.3 357.7h0M730.1 434.5h0M357.1 377.8h0M727.1 439.2h0M326.7 316.8h0M320.7 325.6h0M833.7 412.8h0M196.4 402.3h0M314.5 354.5h0M349.2 407.7h0M298.4 379.2h0"/><path stroke="#d64c3f" d="M186.6 383.0h0M181.8 371.6h0M373.9 268.6h0M395.6 238.3h0M399.4 279.1h0M394.4 251.1h0M376.9 263.2h0M198.7 361.0h0M894.1 307.1h0M930.8 284.5h0M182.6 340.1h0M888.1 304.2h0M900.7 292.4h0M845.1 531.1h0M187.5 380.4h0M377.2 258.5h0M390.4 248.9h0M892.2 291.2h0M688.4 407.6h0M402.1 239.0h0M196.2 377.5h0M881.0 290.3h0"/><path stroke="#62146d" d="M332.8 396.5h0M359.0 378.9h0M817.8 409.3h0M852.5 557.7h0M289.1 366.5h0M346.9 392.5h0M805.2 397.5h0M299.5 379.6h0M833.6 362.6h0M779.7 390.8h0M827.8 362.0h0M254.8 528.5h0M780.8 396.8h0M832.1 361.4h0M851.3 359.9h0M835.7 364.9h0M875.1 501.2h0M776.8 402.2h0M853.6 354.5h0M911.4 497.5h0M341.0 320.2h0M336.6 329.4h0"/><path stroke="#83206a" d="M609.7 153.9h0M778.2 417.6h0M870.2 410.5h0M409.9 442.2h0M406.7 489.1h0M282.5 510.0h0M155.0 412.2h0M915.9 488.3h0M766.1 611.1h0M416.2 476.3h0M175.1 411.8h0M835.6 359.4h0M691.1 434.7h0M174.9 401.6h0M208.7 412.6h0M893.8 674.6h0M338.3 394.0h0M805.5 382.5h0M426.8 446.7h0M169.8 400.2h0M783.7 516.7h0M172.6 392.1h0"/><path stroke="#b43458" d="M391.2 269.9h0M381.8 273.3h0M253.4 492.1h0M897.2 308.3h0M898.1 297.2h0M899.1 298.7h0M388.3 258.4h0M383.9 313.2h0M883.1 302.7h0M903.8 308.0h0M402.7 237.8h0M322.2 489.7h0M804.1 499.6h0M379.9 271.0h0M900.7 294.6h0M884.4 309.0h0M880.3 289.5h0M386.7 273.7h0M383.3 280.6h0M895.7 298.7h0M398.7 243.6h0M377.9 293.1h0"/><path stroke="#932667" d="M814.2 539.3h0M328.5 353.4h0M326.1 382.4h0M199.2 399.3h0M781.1 537.7h0M694.9 452.4h0M381.1 276.0h0M800.7 400.4h0M166.2 374.4h0M392.0 354.8h0M336.1 378.1h0M384.7 292.9h0M883.0 503.1h0M796.6 397.1h0M868.9 381.2h0M304.6 367.1h0M321.0 342.1h0M685.9 461.6h0M161.6 388.9h0M157.0 392.3h0M377.4 281.2h0M808.9 412.3h0"/><path stroke="#f37819" d="M315.0 537.6h0M706.9 371.9h0M195.3 388.1h0M708.4 396.1h0M660.5 411.6h0M326.3 532.7h0M191.1 371.4h0M693.9 388.5h0M253.5 453.4h0M333.6 505.6h0M327.0 516.0h0M208.7 357.9h0M710.8 397.3h0M681.9 396.6h0M315.6 537.0h0M320.9 488.8h0M184.1 375.4h0M202.7 352.2h0M706.6 388.2h0M701.8 399.9h0M706.5 412.8h0M200.5 383.5h0"/><path stroke="#9b2963" d="M383.0 278.9h0M811.9 437.1h0M376.4 275.2h0M330.1 624.6h0M359.8 472.7h0M877.0 478.8h0M369.5 292.9h0M305.6 504.8h0M202.9 400.6h0M770.6 521.0h0M381.9 452.1h0M238.4 409.4h0M883.8 289.4h0M892.3 288.7h0M374.4 287.5h0M383.5 247.2h0M229.6 389.1h0M397.7 445.2h0M394.6 284.2h0M374.4 295.3h0M282.4 435.6h0M829.6 337.1h0"/><path stroke="#7a1d6b" d="M823.0 405.3h0M174.4 397.9h0M784.8 420.9h0M769.2 520.3h0M694.0 431.0h0M313.5 339.2h0M318.2 390.0h0M395.0 429.4h0M827.2 356.1h0M903.6 480.1h0M895.6 501.8h0M158.8 364.7h0M799.2 417.1h0M327.9 323.4h0M303.4 365.6h0M838.1 362.7h0M879.3 479.0h0M190.9 426.4h0M824.4 349.3h0M187.9 430.2h0M408.8 475.8h0M819.2 420.2h0"/><path stroke="#ea6826" d="M693.4 415.6h0M690.9 413.1h0M191.8 360.8h0M688.4 406.0h0M777.6 359.2h0M197.5 347.8h0M315.8 470.2h0M206.5 359.9h0M700.7 400.9h0M749.3 472.2h0M674.5 402.7h0M198.1 362.9h0M693.9 411.9h0M349.9 229.2h0M326.9 493.8h0M702.3 405.7h0M205.6 372.1h0M191.0 374.4h0M391.4 249.9h0M394.3 255.1h0M405.3 250.5h0M699.2 399.4h0"/><path stroke="#e6612d" d="M696.1 408.0h0M377.8 254.0h0M183.0 376.9h0M889.7 304.9h0M332.3 496.1h0M333.4 493.2h0M699.8 420.1h0M692.6 398.3h0M321.6 480.5h0M841.1 558.2h0M199.3 348.5h0M188.8 363.4h0M841.5 532.0h0M688.0 383.6h0M703.1 407.2h0M693.4 389.2h0M820.3 574.5h0M697.7 378.0h0M189.7 349.8h0M662.1 395.2h0M177.7 357.9h0M693.2 396.1h0"/><path stroke="#e6612d" d="M733.0 388.2h0M391.2 258.4h0M700.2 402.5h0M217.1 351.2h0M703.7 416.3h0M173.4 364.0h0M831.8 560.8h0M389.9 276.2h0M183.5 365.3h0M187.6 357.3h0M890.1 305.8h0M889.6 263.6h0M702.7 389.9h0M836.4 548.3h0M710.4 407.5h0M185.9 391.7h0M378.3 251.8h0M201.9 357.1h0M381.1 241.6h0M188.9 360.9h0M696.2 405.2h0M188.0 356.9h0"/><path stroke="#dd513a" d="M186.2 377.2h0M399.5 232.0h0M686.5 386.8h0M871.7 341.7h0M701.0 394.3h0M209.7 361.9h0M890.8 292.5h0M172.2 360.5h0M696.2 404.6h0M185.9 366.6h0M687.8 405.8h0M387.7 240.0h0M377.2 274.1h0M666.5 404.7h0M205.6 357.1h0M184.7 363.7h0M394.0 261.7h0M197.3 381.0h0M419.5 233.3h0M388.6 240.4h0M195.0 384.6h0M386.4 249.4h0"/><path stroke="#6a176e" d="M822.6 368.5h0M831.5 361.0h0M796.0 520.5h0M334.1 375.8h0M321.6 360.4h0M839.1 379.6h0M880.1 497.0h0M829.1 363.9h0M835.8 367.0h0M333.3 321.0h0M804.3 392.7h0M826.6 363.3h0M274.2 377.3h0M322.6 354.6h0M325.7 321.7h0M809.7 396.3h0M801.1 408.2h0M815.8 363.3h0M307.5 374.8h0M845.6 358.9h0M829.9 408.9h0M336.4 316.3h0"/><path stroke="#d04744" d="M399.9 260.8h0M891.7 295.6h0M391.8 286.5h0M311.5 471.3h0M901.8 312.5h0M394.8 248.1h0M378.5 267.9h0M906.3 298.8h0M383.0 278.0h0M893.0 292.9h0M706.4 391.5h0M909.9 303.2h0M896.1 300.8h0M922.1 266.2h0M887.6 306.5h0M889.0 307.5h0M383.0 276.7h0M394.2 263.1h0M888.2 267.3h0M909.6 251.7h0M907.1 302.6h0M386.8 275.1h0"/><path stroke="#932667" d="M172.8 366.7h0M296.1 527.8h0M418.6 483.2h0M381.8 288.2h0M369.8 407.2h0M372.6 404.8h0M379.8 290.5h0M718.1 415.7h0M181.1 402.3h0M206.2 367.3h0M398.7 456.6h0M318.2 508.1h0M171.4 448.8h0M178.7 402.0h0M908.4 285.4h0M399.0 463.5h0M256.2 363.7h0M305.7 397.2h0M816.1 514.6h0M322.9 316.8h0M915.9 283.8h0M219.6 391.2h0"/><path stroke="#f37819" d="M175.6 388.9h0M189.1 363.6h0M710.9 413.0h0M328.2 529.0h0M693.8 391.6h0M323.5 513.5h0M324.2 516.8h0M171.4 383.9h0M840.7 531.5h0M692.0 374.9h0M332.1 512.5h0M709.0 399.1h0M188.1 375.3h0M682.1 400.7h0M688.7 391.9h0M200.0 346.0h0M688.5 438.7h0M712.9 397.8h0M196.4 347.1h0M682.2 413.7h0M832.7 546.4h0M696.1 400.3h0"/><path stroke="#721a6d" d="M291.0 488.3h0M727.5 456.8h0M837.9 366.4h0M849.1 381.2h0M338.8 317.8h0M920.2 338.0h0M844.3 363.6h0M276.0 513.4h0M408.7 460.9h0M341.2 310.4h0M297.2 356.6h0M809.8 355.7h0M703.8 402.6h0M257.1 565.1h0M779.4 519.3h0M298.7 405.9h0M798.8 400.9h0M821.4 403.0h0M708.6 434.2h0M770.6 640.9h0M834.0 425.6h0M345.0 311.0h0"/><path stroke="#83206a" d="M144.3 412.8h0M169.3 411.6h0M259.7 527.7h0M906.6 491.7h0M401.6 355.0h0M338.3 374.0h0M251.1 568.5h0M340.2 380.9h0M783.4 531.5h0M405.3 557.7h0M333.6 354.0h0M781.1 402.7h0M332.1 321.0h0M193.2 415.4h0M786.9 397.8h0M408.9 484.5h0M815.4 400.4h0M779.4 534.8h0M245.9 400.7h0M395.6 445.4h0M883.4 301.0h0M844.5 358.5h0"/><path stroke="#520f6a" d="M361.1 419.9h0M691.8 404.7h0M788.0 405.0h0M175.6 399.3h0M328.2 321.7h0M324.9 326.3h0M328.1 311.2h0M222.2 385.8h0M200.4 388.5h0M403.1 452.2h0M844.0 479.9h0M331.3 322.6h0M727.4 429.2h0M326.8 362.9h0M812.2 386.0h0M201.6 399.9h0M328.2 324.1h0M269.7 494.7h0M773.9 401.5h0M308.2 327.3h0M291.2 352.7h0M184.0 391.9h0"/><path stroke="#62146d" d="M810.8 401.2h0M832.5 366.3h0M707.5 419.8h0M265.9 568.9h0M144.4 241.9h0M820.0 350.1h0M272.7 497.9h0M191.0 400.9h0M847.3 358.7h0M319.8 328.5h0M834.2 371.3h0M817.6 364.4h0M903.7 491.1h0M343.0 320.8h0M730.7 435.5h0M322.1 332.3h0M782.1 528.7h0M823.0 351.4h0M777.7 602.1h0M835.7 365.2h0M831.3 352.2h0M786.1 531.9h0"/><path stroke="#6a176e" d="M314.5 332.4h0M337.3 315.3h0M828.3 410.0h0M831.2 401.7h0M274.4 489.6h0M805.2 395.2h0M810.0 404.8h0M838.7 371.9h0M844.9 432.0h0M828.4 366.6h0M191.5 403.7h0M324.3 336.7h0M821.4 393.7h0M828.2 360.8h0M201.9 390.6h0M807.2 407.7h0M174.3 397.6h0M689.6 435.1h0M335.7 328.5h0M300.8 376.1h0M326.8 353.8h0M824.4 359.7h0"/><path stroke="#62146d" d="M821.5 393.8h0M314.7 342.3h0M306.5 336.7h0M323.6 334.5h0M822.1 361.3h0M294.0 360.6h0M839.2 376.9h0M326.9 316.2h0M301.4 340.9h0M840.7 399.7h0M320.8 331.2h0M772.6 289.7h0M796.8 404.7h0M316.7 363.0h0M320.0 340.5h0M848.2 421.2h0M839.6 345.9h0M818.8 386.4h0M281.7 508.8h0M327.6 313.8h0M884.6 495.7h0M699.8 437.1h0"/><path stroke="#8b2368" d="M275.8 562.1h0M922.6 505.5h0M333.9 356.1h0M683.1 429.7h0M252.2 560.7h0M321.2 401.3h0M852.6 620.8h0M395.3 425.1h0M352.6 371.8h0M185.9 379.0h0M323.9 337.2h0M331.6 374.9h0M310.6 362.8h0M824.6 358.6h0M393.9 454.9h0M166.6 437.0h0M370.3 395.6h0M706.2 418.2h0M831.6 410.0h0M304.3 367.1h0M323.3 392.1h0M198.9 363.0h0"/><path stroke="#7a1d6b" d="M312.3 335.7h0M321.0 402.1h0M205.5 375.1h0M685.1 484.9h0M175.3 400.7h0M804.9 398.4h0M808.7 573.6h0M818.9 368.7h0M328.4 321.0h0M265.8 563.0h0M344.9 384.6h0M706.5 470.7h0M891.7 492.1h0M803.0 393.7h0M278.7 514.3h0M840.1 351.5h0M325.0 367.5h0M320.1 331.0h0M829.8 352.9h0M327.4 358.5h0M766.7 528.6h0M301.2 515.8h0"/><path stroke="#721a6d" d="M189.9 417.7h0M888.8 534.6h0M417.6 428.7h0M772.5 536.2h0M827.2 407.8h0M824.7 575.0h0M824.5 359.0h0M812.5 396.0h0M317.0 340.4h0M316.6 325.7h0M418.9 477.9h0M268.6 367.6h0M404.2 432.6h0M307.4 353.5h0M266.8 495.8h0M276.5 539.0h0M816.2 403.2h0M812.0 400.3h0M278.2 477.7h0M698.2 425.3h0M784.3 400.9h0M176.7 401.4h0"/><path stroke="#721a6d" d="M719.3 437.4h0M212.0 386.4h0M828.0 352.8h0M840.2 352.2h0M320.5 329.6h0M911.1 495.2h0M889.5 479.9h0M922.0 491.5h0M319.5 329.5h0M195.5 402.3h0M758.1 611.9h0M783.2 525.8h0M196.5 418.2h0M331.8 356.9h0M678.3 442.1h0M822.0 354.0h0M318.2 376.4h0M343.2 313.2h0M821.2 361.2h0M715.8 499.0h0M683.3 449.8h0M307.1 373.4h0"/><path stroke="#f78a13" d="M323.1 517.1h0M699.6 405.1h0M691.7 393.2h0M193.5 395.2h0M816.4 586.8h0M816.1 582.1h0M196.8 350.8h0M856.3 547.3h0M329.9 513.5h0M335.2 503.4h0M700.1 373.8h0"/><path stroke="#83206a" d="M300.1 329.2h0M363.5 442.2h0M796.7 410.1h0M281.8 168.7h0M772.9 422.3h0M196.4 392.0h0M840.8 362.3h0M842.7 432.3h0M411.5 467.6h0M291.8 374.5h0M678.4 419.2h0M741.6 397.7h0M267.8 566.9h0M310.4 369.6h0M682.4 446.2h0M778.9 529.5h0M833.6 416.6h0M179.3 409.3h0M787.3 397.6h0M770.1 601.3h0M260.9 565.2h0M689.4 444.5h0"/><path stroke="#c33c4f" d="M829.8 517.9h0M210.5 393.4h0M888.9 305.9h0M369.7 300.2h0M392.6 252.7h0M378.7 277.8h0M373.1 275.1h0M378.8 271.4h0M885.1 300.7h0M892.6 305.1h0M876.3 307.2h0M376.4 293.0h0M820.5 522.7h0M898.5 293.0h0M383.0 267.9h0M193.7 370.3h0M884.7 306.2h0M908.1 259.1h0M820.0 514.0h0M394.6 256.0h0M379.6 268.3h0M895.7 311.7h0"/><path stroke="#6a176e" d="M296.2 369.1h0M149.7 370.4h0M155.9 396.4h0M822.7 370.9h0M298.2 350.2h0M330.9 381.9h0M409.8 448.0h0M843.1 347.6h0M841.7 363.2h0M816.3 556.5h0M331.3 321.7h0M798.5 409.5h0M684.7 466.1h0M260.2 556.5h0M174.4 401.8h0M825.5 388.5h0M825.5 355.9h0M802.2 394.3h0M316.9 337.7h0M817.9 361.4h0M204.8 380.2h0M324.9 368.6h0"/><path stroke="#7a1d6b" d="M673.1 440.5h0M839.4 356.0h0M894.4 473.3h0M682.5 456.9h0M308.6 535.9h0M274.9 506.4h0M167.4 398.9h0M312.3 358.9h0M809.0 417.7h0M825.0 364.5h0M836.8 356.0h0M827.0 356.6h0M850.9 355.1h0M929.6 494.8h0M318.4 384.2h0M831.8 375.1h0M150.5 407.1h0M809.4 348.5h0M218.0 393.2h0M904.6 271.9h0M263.2 390.6h0M343.5 406.6h0"/><path stroke="#5a126c" d="M230.2 390.8h0M319.1 352.8h0M410.9 423.7h0M315.0 346.6h0M787.2 415.7h0M351.0 478.5h0M410.1 323.5h0M788.8 408.4h0M251.8 521.2h0M340.8 404.6h0M819.3 361.4h0M778.7 595.7h0M887.7 470.5h0M291.2 376.0h0M815.2 392.2h0M820.3 372.0h0M312.2 334.3h0M334.7 381.7h0M316.4 370.2h0M789.0 525.3h0M781.2 537.2h0M835.8 362.3h0"/><path stroke="#e6612d" d="M687.9 412.0h0M392.9 244.8h0M682.2 401.5h0M186.0 372.8h0M715.3 397.6h0M698.4 369.9h0M698.5 411.8h0M201.7 362.1h0M841.4 549.6h0M691.1 395.5h0M694.3 402.1h0M378.9 246.3h0M763.9 464.6h0M710.2 395.1h0M695.3 389.6h0M688.9 394.4h0M201.0 356.7h0M689.3 394.2h0M421.2 266.1h0M357.8 459.3h0M708.7 427.1h0M690.8 421.1h0"/><path stroke="#5a126c" d="M838.8 361.7h0M277.5 379.0h0M175.0 412.0h0M832.5 382.8h0M734.6 414.6h0M335.5 315.7h0M821.3 409.0h0M830.7 388.4h0M806.2 413.5h0M736.9 452.0h0M834.4 358.7h0M270.5 570.7h0M120.0 400.3h0M816.4 541.0h0M322.3 331.3h0M238.0 402.7h0M332.3 312.7h0M326.8 313.7h0M789.1 533.9h0M820.4 404.9h0M671.3 457.0h0M665.6 455.8h0"/><path stroke="#e15933" d="M699.0 413.5h0M386.7 245.2h0M394.6 246.0h0M357.1 236.7h0M208.2 345.2h0M194.8 383.1h0M187.3 358.2h0M677.4 420.5h0M188.7 376.6h0M190.0 358.2h0M383.0 262.0h0M182.4 364.8h0M686.1 396.2h0M188.7 372.1h0M904.8 259.3h0M711.9 402.4h0M187.5 334.9h0M706.7 405.2h0M695.5 405.1h0M191.1 365.1h0M696.6 408.5h0M190.9 340.9h0"/><path stroke="#f78a13" d="M835.8 542.1h0M699.5 429.9h0M200.3 360.2h0M201.8 351.0h0M899.5 287.2h0M836.0 557.7h0M178.2 362.3h0M699.8 409.7h0M190.9 384.2h0M795.6 353.0h0M829.8 561.3h0M671.2 389.1h0M748.1 467.7h0M313.7 539.2h0M847.2 535.5h0M698.1 416.7h0M703.0 401.3h0M824.1 542.5h0M195.6 381.5h0M844.6 541.9h0M716.7 397.8h0M739.7 470.1h0"/><path stroke="#a32d5f" d="M356.9 465.5h0M803.8 527.0h0M381.1 279.6h0M372.0 293.2h0M372.1 269.1h0M294.0 502.6h0M337.0 361.1h0M380.8 268.8h0M385.3 288.6h0M889.5 304.3h0M375.7 278.3h0M411.8 485.2h0M890.3 314.2h0M730.4 519.0h0M884.2 304.4h0M828.2 518.4h0M384.8 264.3h0M891.6 294.5h0M939.6 254.8h0M380.3 272.5h0M898.7 306.3h0M400.2 253.8h0"/><path stroke="#8b2368" d="M341.8 308.6h0M160.8 395.2h0M408.8 499.9h0M796.4 397.0h0M396.3 415.3h0M292.6 367.7h0M820.7 409.0h0M385.7 304.7h0M267.9 505.1h0M752.2 353.6h0M831.3 406.7h0M226.4 383.2h0M766.8 606.5h0M185.4 400.7h0M828.6 380.1h0M861.1 418.3h0M745.6 427.0h0M820.6 386.3h0M157.9 420.3h0M199.0 389.7h0M409.3 449.4h0M340.2 379.3h0"/><path stroke="#5a126c" d="M324.4 346.3h0M298.3 366.2h0M320.9 366.7h0M294.6 399.6h0M712.7 453.6h0M832.9 377.6h0M161.7 399.9h0M820.9 407.9h0M922.7 488.1h0M361.8 538.3h0M191.0 412.4h0M831.6 364.5h0M294.3 498.9h0M772.8 396.4h0M828.2 365.5h0M834.8 359.8h0M830.0 416.9h0M323.2 332.7h0M315.6 350.6h0M330.2 320.5h0M164.8 409.1h0M925.8 496.3h0"/><path stroke="#62146d" d="M829.8 372.0h0M287.3 498.6h0M182.4 408.2h0M339.7 327.3h0M703.1 429.5h0M900.6 515.9h0M829.1 358.4h0M316.0 389.8h0M318.2 313.5h0M317.5 334.5h0M776.7 607.4h0M327.9 343.4h0M676.5 419.3h0M839.4 359.7h0M867.1 399.0h0M817.1 383.6h0M775.6 519.3h0M830.2 358.2h0M312.7 354.9h0M766.0 395.0h0M290.8 382.0h0M820.2 422.5h0"/><path stroke="#d64c3f" d="M375.5 266.1h0M200.4 342.6h0M188.6 368.8h0M388.7 271.6h0M897.1 296.4h0M906.4 308.9h0M200.6 369.2h0M885.4 305.7h0M184.8 380.7h0M186.6 364.9h0M896.9 303.5h0M882.9 303.5h0M875.5 308.3h0M410.4 222.2h0M830.4 505.2h0M178.3 372.6h0M888.2 281.6h0M398.7 236.3h0M712.0 401.4h0M400.4 336.4h0M400.1 262.2h0M706.3 404.8h0"/><path stroke="#932667" d="M725.5 436.3h0M264.4 490.1h0M846.7 380.0h0M379.3 283.3h0M859.8 563.8h0M764.6 621.3h0M893.9 274.3h0M714.9 437.2h0M326.0 400.7h0M172.9 397.8h0M783.7 541.5h0M396.9 214.5h0M817.9 529.5h0M224.5 387.3h0M316.7 352.1h0M772.0 620.1h0M805.1 396.3h0M318.8 470.0h0M230.3 392.5h0M834.9 421.4h0M381.1 277.9h0M281.8 373.2h0"/><path stroke="#721a6d" d="M326.0 316.0h0M334.9 318.8h0M765.8 421.9h0M294.4 519.8h0M843.2 407.2h0M817.6 412.5h0M302.5 496.1h0M823.9 368.1h0M822.4 410.4h0M317.2 336.2h0M723.0 450.7h0M175.3 401.7h0M279.5 331.0h0M841.6 374.5h0M657.7 431.4h0M824.4 406.1h0M423.4 437.1h0M702.8 444.9h0M308.8 364.0h0M355.3 462.4h0M411.7 496.3h0M334.9 394.4h0"/><path stroke="#62146d" d="M836.0 363.4h0M681.7 416.2h0M312.3 333.8h0M787.7 525.5h0M196.8 428.7h0M807.8 398.5h0M331.0 356.7h0M719.2 473.1h0M305.0 357.6h0M278.0 379.9h0M910.8 263.5h0M711.0 443.1h0M179.8 370.2h0M829.6 404.4h0M810.4 370.6h0M693.4 415.7h0M322.1 382.7h0M816.6 408.6h0M314.8 314.9h0M784.0 535.9h0M761.4 610.1h0M323.8 322.9h0"/><path stroke="#ac305c" d="M903.2 384.1h0M330.3 335.5h0M383.4 280.4h0M903.1 302.9h0M877.8 313.9h0M919.5 270.6h0M888.6 314.0h0M886.5 310.9h0M876.4 311.2h0M191.8 367.1h0M377.9 259.7h0M828.4 514.0h0M378.2 270.5h0M377.8 288.2h0M887.7 296.2h0M386.0 279.2h0M262.8 504.7h0M385.2 257.4h0M894.2 302.9h0M365.8 449.6h0M896.9 304.6h0M888.2 299.1h0"/><path stroke="#721a6d" d="M839.3 363.9h0M317.7 315.6h0M711.8 438.4h0M803.5 424.2h0M348.8 333.4h0M316.0 344.1h0M271.9 494.2h0M306.0 361.6h0M835.3 358.5h0M261.8 500.6h0M323.7 320.2h0M827.4 358.2h0M897.4 464.5h0M331.1 376.3h0M890.0 490.6h0M726.3 402.4h0M332.7 317.9h0M839.9 423.4h0M330.0 328.1h0M325.5 319.3h0M931.7 500.8h0M897.2 492.7h0"/><path stroke="#83206a" d="M167.0 370.5h0M316.1 394.8h0M844.7 398.1h0M172.6 389.9h0M818.9 357.0h0M791.5 414.7h0M783.6 542.6h0M721.0 425.0h0M694.8 423.0h0M385.2 460.0h0M821.4 527.3h0M698.0 437.7h0M368.0 345.3h0M819.0 414.5h0M310.7 356.0h0M309.1 363.1h0M349.3 352.7h0M801.3 376.2h0M738.8 431.3h0M712.9 384.8h0M301.1 478.4h0M827.1 404.1h0"/><path stroke="#d04744" d="M194.5 355.8h0M890.3 293.5h0M181.7 391.2h0M684.8 398.2h0M386.9 266.6h0M388.6 257.3h0M709.7 402.8h0M358.4 257.6h0M375.7 290.0h0M706.5 396.9h0M833.4 334.7h0M888.4 293.2h0M191.8 375.5h0M919.0 269.7h0M697.2 426.0h0M691.3 376.9h0M899.5 285.9h0M379.7 274.7h0M254.4 436.8h0M898.7 306.6h0M890.8 313.0h0M884.0 297.7h0"/><path stroke="#62146d" d="M844.1 357.4h0M684.1 454.5h0M330.7 316.0h0M733.0 453.1h0M712.6 447.2h0M825.4 403.1h0M794.0 403.9h0M673.1 439.9h0M833.3 368.4h0M693.2 435.4h0M828.3 355.1h0M312.5 339.1h0M324.8 378.7h0M834.3 375.3h0M292.7 364.2h0M327.9 334.9h0M308.1 339.1h0M281.7 490.8h0M835.0 361.8h0M812.6 392.4h0M271.1 583.2h0M295.1 392.5h0"/><path stroke="#c33c4f" d="M888.3 300.6h0M373.6 266.5h0M899.1 291.3h0M893.5 298.3h0M886.8 312.4h0M894.3 302.4h0M726.4 416.7h0M206.8 390.9h0M906.8 296.4h0M886.9 300.6h0M899.3 303.4h0M682.6 412.9h0M830.2 520.9h0M904.4 304.3h0M374.8 282.8h0M899.6 315.5h0M874.7 295.5h0M907.4 294.6h0M884.2 305.3h0M888.3 298.2h0M893.8 298.5h0M354.0 472.6h0"/><path stroke="#8b2368" d="M405.4 323.8h0M297.2 513.8h0M223.7 396.9h0M265.5 491.9h0M358.5 464.4h0M856.4 473.6h0M838.5 437.2h0M897.5 314.8h0M291.5 359.8h0M794.4 396.8h0M286.6 349.4h0M713.8 447.2h0M824.0 528.8h0M355.8 469.8h0M198.6 381.7h0M682.3 439.6h0M666.7 381.5h0M898.6 463.6h0M724.3 470.7h0M922.4 499.8h0M718.8 533.9h0M267.3 563.3h0"/><path stroke="#d04744" d="M693.4 403.4h0M327.4 487.5h0M182.1 378.5h0M169.7 376.5h0M889.7 268.3h0M826.6 508.6h0M871.5 264.2h0M214.0 375.4h0M379.1 259.5h0M823.4 520.9h0M367.9 266.0h0M897.4 301.9h0M889.9 306.0h0M893.4 306.6h0"/><path stroke="#721a6d" d="M326.2 327.0h0M815.3 397.6h0M317.5 339.1h0M160.3 411.0h0M182.6 397.8h0M182.0 398.9h0M420.6 436.0h0M832.0 362.9h0M824.9 358.9h0M335.5 363.2h0M713.1 429.9h0M830.4 385.9h0M703.3 423.0h0M191.8 394.7h0M839.8 355.6h0M303.8 542.3h0M196.6 396.2h0M323.2 320.2h0M786.8 409.0h0M312.5 350.0h0M145.4 387.3h0M202.7 420.9h0"/><path stroke="#83206a" d="M318.6 347.2h0M212.3 379.7h0M800.6 385.8h0M695.4 458.6h0M819.8 355.1h0M274.6 490.2h0M907.7 486.0h0M814.3 400.0h0M917.2 530.8h0M312.7 344.9h0M377.5 401.5h0M319.1 366.5h0M323.6 366.0h0M911.1 474.4h0M840.6 365.2h0M308.8 551.6h0M691.3 454.1h0M167.7 379.6h0M298.5 505.0h0M321.9 337.6h0M222.5 422.1h0M825.8 393.0h0"/><path stroke="#62146d" d="M325.2 399.8h0M283.1 408.0h0M713.4 461.6h0M329.4 332.0h0M853.7 400.1h0M818.8 354.9h0M775.1 535.8h0M258.3 569.6h0M905.4 467.2h0M816.5 359.0h0M165.0 386.1h0M273.5 492.3h0M324.7 326.9h0M847.7 422.2h0M327.4 323.3h0M313.8 352.3h0M292.8 361.7h0M173.3 424.5h0M834.1 414.4h0M853.7 432.6h0M805.6 378.3h0M817.8 401.4h0"/><path stroke="#f58116" d="M190.9 371.1h0M190.3 351.5h0M194.9 346.6h0M837.5 541.8h0M701.3 404.8h0M317.5 520.3h0M694.8 417.6h0M851.7 269.9h0M701.8 399.3h0M669.4 432.0h0M846.6 550.9h0M702.8 388.8h0M194.0 354.6h0M683.3 403.9h0M195.9 355.5h0M720.4 406.3h0M222.0 353.5h0M688.9 373.7h0M832.7 548.0h0M820.3 584.1h0M330.9 503.6h0M893.8 262.0h0"/><path stroke="#f89310" d="M335.7 502.2h0M325.0 529.5h0M846.8 544.0h0M715.0 438.7h0M706.3 399.4h0M324.5 517.1h0M195.5 348.4h0M706.9 404.6h0M693.3 399.0h0M324.5 519.3h0M334.0 491.2h0M704.7 399.8h0M327.8 516.6h0M820.4 564.7h0M913.1 296.0h0M337.9 498.4h0M324.5 520.5h0M845.9 534.9h0M243.5 457.2h0"/><path stroke="#a32d5f" d="M419.2 286.5h0M377.7 278.0h0M903.5 306.4h0M321.2 463.1h0M377.6 266.7h0M375.8 279.7h0M820.8 548.9h0M375.1 292.4h0M238.2 398.7h0M907.6 316.4h0M383.7 286.2h0M367.6 420.5h0M920.0 286.8h0M839.7 514.8h0M883.7 303.6h0M901.1 495.7h0M887.1 309.7h0M378.1 277.0h0M821.4 525.8h0M922.4 509.2h0M374.9 302.6h0M383.6 271.5h0"/><path stroke="#9b2963" d="M374.8 288.5h0M214.2 411.6h0M923.4 501.2h0M698.2 395.1h0M384.8 281.6h0M162.6 407.9h0M786.2 597.7h0M891.2 293.9h0M379.6 301.9h0M385.9 272.7h0M334.3 438.1h0M375.2 295.4h0M139.1 407.8h0M785.7 410.9h0M351.7 401.7h0M895.9 233.2h0M714.4 403.6h0M918.4 436.6h0M172.6 396.1h0M894.5 491.9h0M312.2 361.7h0M917.2 489.4h0"/><path stroke="#d04744" d="M892.1 308.0h0M182.8 400.3h0M897.7 301.8h0M907.4 301.9h0M899.6 300.4h0M905.3 304.8h0M910.8 297.2h0M885.7 303.5h0M901.9 300.3h0M377.8 259.1h0M889.5 304.0h0M889.1 307.7h0M693.3 399.0h0M898.0 303.6h0M727.0 396.6h0M378.0 264.2h0M375.6 276.0h0M397.3 226.4h0M890.1 249.4h0M380.8 242.7h0M900.2 306.3h0M217.6 360.1h0"/><path stroke="#62146d" d="M718.8 455.1h0M796.2 410.0h0M317.1 336.5h0M677.5 449.0h0M904.2 475.2h0M263.1 469.4h0M272.9 514.8h0M343.0 311.3h0M319.1 333.7h0M327.5 325.7h0M823.8 361.4h0M286.7 521.9h0M413.3 313.0h0M316.0 366.3h0M773.5 386.6h0M325.5 322.5h0M349.8 387.1h0M831.1 362.0h0M330.7 312.6h0M338.3 385.0h0M766.2 526.7h0M826.3 357.6h0"/><path stroke="#62146d" d="M257.0 513.9h0M837.1 371.3h0M286.6 375.3h0M314.5 337.8h0M716.5 430.3h0M716.2 431.4h0M306.8 384.0h0M331.2 320.6h0M285.0 370.9h0M780.2 529.2h0M830.3 357.1h0M814.8 406.5h0M287.4 361.8h0M309.2 324.5h0M330.3 332.5h0M316.6 355.5h0M687.2 447.8h0M818.0 365.6h0M838.7 357.9h0M727.1 445.4h0M833.7 366.3h0M329.3 315.8h0"/><path stroke="#420a68" d="M706.8 460.2h0M818.7 392.9h0M278.3 372.6h0M877.9 347.1h0M768.7 624.4h0M228.3 393.1h0M265.0 518.1h0M779.0 519.1h0M345.9 380.2h0M830.5 423.6h0M326.0 374.7h0M342.5 459.6h0M320.1 363.4h0M803.0 398.2h0M763.7 411.8h0M816.3 391.4h0M342.0 386.6h0M941.3 528.5h0M237.0 395.3h0M827.8 401.7h0M823.7 421.7h0M842.8 365.2h0"/><path stroke="#ea6826" d="M184.3 358.3h0M268.6 320.3h0M711.5 401.0h0M901.1 302.7h0M830.0 540.1h0M199.8 381.0h0M199.7 356.8h0M704.0 400.1h0M695.3 400.2h0M695.3 387.2h0M700.1 397.4h0M328.7 505.0h0M687.6 395.1h0M187.1 378.1h0M723.7 376.0h0M183.0 361.6h0M177.8 359.6h0M396.0 239.2h0M698.5 394.2h0M685.9 417.7h0M192.6 363.9h0M704.7 393.0h0"/><path stroke="#8b2368" d="M816.3 356.1h0M699.8 428.3h0M897.4 468.5h0M208.4 387.5h0M355.2 405.1h0M779.0 601.7h0M335.5 370.9h0M335.5 410.1h0M332.8 402.2h0M755.0 451.2h0M320.5 473.3h0M147.7 374.0h0M158.0 433.0h0M900.0 479.5h0M195.4 408.0h0M319.5 385.0h0M255.0 553.6h0M830.0 369.6h0M828.8 415.5h0M321.7 376.2h0M787.3 393.9h0M408.7 473.0h0"/><path stroke="#f58116" d="M827.7 533.4h0M854.1 536.8h0M188.8 402.9h0M201.2 352.6h0M819.2 576.1h0M714.8 393.6h0M337.0 507.5h0M709.8 370.6h0M698.5 393.4h0M409.5 241.8h0M836.9 542.5h0M817.7 567.1h0M188.6 364.8h0M668.1 400.2h0M197.5 351.9h0M278.1 343.3h0M685.0 405.7h0M782.1 357.7h0M700.2 406.5h0M852.9 542.8h0M194.2 370.6h0M214.0 338.9h0"/><path stroke="#ef7020" d="M323.3 535.3h0M696.2 398.8h0M774.0 351.9h0M176.0 349.2h0M199.6 347.5h0M703.8 396.9h0M896.3 289.7h0M815.2 584.9h0M691.4 376.2h0M199.5 371.6h0M713.0 402.1h0M701.1 402.5h0M194.3 364.1h0M190.2 378.8h0M832.3 555.8h0M387.4 237.6h0M703.9 405.3h0M333.9 506.3h0M174.2 359.0h0M693.8 407.7h0M714.5 406.9h0M199.7 352.3h0"/><path stroke="#5a126c" d="M314.3 338.7h0M255.7 581.7h0M361.3 308.3h0M921.5 485.0h0M767.6 379.6h0M836.1 353.1h0M131.1 379.9h0M194.1 441.3h0M151.0 418.5h0M308.7 354.6h0M816.5 356.2h0M826.6 372.1h0M666.5 414.3h0M895.6 495.7h0M257.7 568.2h0M922.4 474.8h0M282.5 379.9h0M336.4 360.9h0M768.3 414.8h0M352.4 461.6h0M336.9 385.6h0M320.1 316.1h0"/><path stroke="#7a1d6b" d="M207.5 401.4h0M277.3 375.3h0M793.2 529.3h0M701.2 414.1h0M815.4 359.0h0M365.9 468.1h0M817.4 400.5h0M198.1 400.1h0M717.2 456.1h0M800.9 375.2h0M691.3 428.9h0M818.8 405.2h0M277.5 523.4h0M852.1 422.3h0M323.2 320.5h0M321.0 359.2h0M916.9 497.2h0M428.5 426.1h0M336.6 409.9h0M801.6 407.7h0M718.7 427.4h0M807.7 423.5h0"/><path stroke="#6a176e" d="M333.6 327.2h0M833.0 369.1h0M918.6 492.4h0M321.5 329.7h0M317.2 353.9h0M698.6 430.1h0M804.0 408.7h0M204.2 409.9h0M835.4 423.8h0M332.9 319.6h0M407.5 471.8h0M268.9 483.6h0M331.8 372.4h0M292.0 469.0h0M833.6 382.8h0M281.3 497.0h0M319.8 327.8h0M826.3 358.6h0M897.4 330.1h0M691.4 448.2h0M291.3 372.5h0M846.7 390.9h0"/><path stroke="#bc3754" d="M896.4 289.9h0M364.5 279.6h0M379.9 278.3h0M889.3 372.3h0M383.8 263.1h0M901.2 305.7h0M382.1 284.8h0M888.2 292.3h0M890.1 310.6h0M170.9 388.7h0M892.4 306.6h0M381.7 281.6h0M910.9 324.1h0M381.8 257.4h0M897.3 302.0h0M315.1 472.8h0M895.0 293.8h0M316.2 471.0h0M384.8 259.2h0M887.9 303.5h0M882.3 290.5h0M380.0 267.7h0"/><path stroke="#520f6a" d="M881.5 487.9h0M180.1 409.5h0M819.8 358.6h0M817.3 353.6h0M826.5 411.4h0M793.2 363.2h0M695.7 437.5h0M324.5 331.3h0M339.5 312.7h0M825.2 408.9h0M814.3 359.9h0M303.0 358.8h0M327.6 318.0h0M342.8 316.3h0M804.4 351.1h0M685.7 448.4h0M824.6 361.1h0M826.7 376.5h0M358.9 442.6h0M822.8 378.5h0M831.1 366.3h0M217.0 390.5h0"/><path stroke="#f78a13" d="M161.3 363.1h0M680.2 385.4h0M817.9 580.3h0M313.9 528.7h0M185.9 353.2h0M840.8 556.5h0M344.6 484.6h0M369.5 245.8h0M192.0 362.2h0M837.0 554.1h0M701.2 376.5h0M829.4 567.8h0M316.9 531.4h0M704.2 401.5h0M197.3 378.6h0M838.1 546.3h0M308.1 548.9h0M879.6 289.2h0M319.3 551.5h0M198.0 342.2h0M338.8 518.2h0M719.0 392.6h0"/><path stroke="#721a6d" d="M829.8 354.9h0M679.6 461.9h0M326.2 355.3h0M295.3 367.7h0M820.0 361.2h0M807.1 405.4h0M690.1 436.7h0M810.1 525.7h0M808.3 403.1h0M181.9 409.0h0M830.2 359.9h0M775.6 625.1h0M778.3 604.4h0M260.4 563.6h0M152.1 403.3h0M307.6 327.2h0M916.6 453.1h0M721.2 415.2h0M278.6 481.8h0M252.9 530.7h0M300.5 355.3h0M836.9 368.8h0"/><path stroke="#6a176e" d="M876.8 489.6h0M317.8 334.2h0M819.4 386.1h0M232.7 577.5h0M829.1 359.4h0M295.3 374.8h0M893.4 501.5h0M810.5 402.5h0M837.1 409.3h0M175.9 372.0h0M319.3 334.8h0M830.8 402.1h0M212.2 418.0h0M276.9 370.1h0M849.2 408.5h0M838.0 419.6h0M327.0 332.7h0M292.8 505.3h0M786.7 526.5h0M827.2 375.0h0M172.5 394.0h0M694.6 452.4h0"/><path stroke="#7a1d6b" d="M814.3 392.5h0M334.8 318.1h0M320.1 337.3h0M320.6 329.9h0M284.4 479.9h0M421.7 452.6h0M409.5 446.8h0M760.5 608.5h0M724.4 458.9h0M326.7 316.0h0M366.3 455.3h0M841.0 393.7h0M820.0 427.1h0M378.8 283.6h0M332.9 322.7h0M678.4 394.5h0M816.2 404.3h0M766.6 520.7h0M322.3 373.9h0M309.1 337.3h0M341.5 313.0h0M832.8 408.5h0"/><path stroke="#721a6d" d="M351.5 360.6h0M294.0 357.9h0M867.5 404.6h0M657.4 413.6h0M354.0 390.8h0M913.0 470.7h0M674.2 428.8h0M311.4 379.2h0M830.1 398.5h0M704.2 446.0h0M346.5 397.5h0M299.4 372.9h0M821.6 360.6h0M330.2 314.5h0M684.1 461.2h0M269.9 494.4h0M337.0 325.6h0M738.2 417.5h0M317.6 331.3h0M714.2 444.1h0M161.1 412.1h0M226.1 407.5h0"/><path stroke="#f58116" d="M721.5 390.9h0M237.3 382.3h0M321.9 499.2h0M697.5 397.9h0M838.2 543.6h0M836.7 557.2h0M831.9 555.1h0M205.7 362.4h0M189.7 360.7h0M317.7 548.3h0M332.8 505.5h0M837.5 546.7h0M197.5 344.2h0M327.9 500.6h0M174.6 354.6h0M320.1 539.2h0M252.8 422.6h0M696.1 395.0h0M310.2 550.0h0M184.5 355.7h0M690.5 405.1h0M397.0 236.2h0"/><path stroke="#d64c3f" d="M913.3 228.2h0M206.3 360.2h0M387.5 245.1h0M404.2 243.1h0M882.7 293.8h0M380.5 251.0h0M865.7 356.0h0M190.1 371.3h0M384.5 252.9h0M178.0 399.3h0M902.2 308.5h0M189.4 359.3h0M685.7 384.9h0M686.9 406.3h0M886.7 296.9h0M379.0 261.5h0M909.6 284.5h0M887.9 293.0h0M201.8 355.5h0M202.8 369.3h0M204.4 376.1h0M218.3 353.5h0"/><path stroke="#62146d" d="M315.4 315.0h0M282.5 399.9h0M820.0 410.8h0M809.4 364.3h0M741.9 377.0h0M685.4 430.2h0M320.5 323.7h0M816.3 497.4h0M915.5 491.9h0M150.5 391.9h0M333.3 368.3h0M304.2 500.8h0M293.7 500.5h0M812.3 449.5h0M327.4 320.8h0M823.3 402.5h0M799.6 395.7h0M816.9 407.5h0M837.4 364.2h0M324.5 318.8h0M196.7 431.1h0M794.3 399.6h0"/><path stroke="#ac305c" d="M893.8 304.3h0M382.4 446.0h0M370.4 283.5h0M894.4 300.7h0M383.7 260.2h0M383.1 270.8h0M210.5 396.3h0M887.0 299.8h0M819.7 520.8h0M376.9 282.2h0M425.3 434.3h0M836.9 519.1h0M414.6 339.2h0M373.6 270.1h0M906.7 295.2h0M901.0 259.0h0M235.7 369.8h0M833.0 517.0h0M380.6 271.5h0M398.3 267.4h0M388.3 291.4h0M378.2 270.3h0"/><path stroke="#721a6d" d="M819.6 403.8h0M329.4 324.0h0M297.2 365.9h0M304.2 342.6h0M823.7 526.4h0M928.0 479.7h0M773.5 535.4h0M288.2 530.0h0M324.7 319.4h0M325.6 342.1h0M672.8 415.6h0M635.7 425.9h0M678.3 456.4h0M816.0 422.3h0M313.4 358.3h0M790.0 404.9h0M820.8 354.2h0M837.7 359.8h0M778.3 517.3h0M276.4 549.1h0M286.8 368.0h0M707.4 438.5h0"/><path stroke="#6a176e" d="M825.6 412.0h0M811.7 394.2h0M404.4 444.1h0M841.5 365.2h0M182.8 408.3h0M321.9 318.2h0M695.6 426.4h0M218.9 398.9h0M905.4 250.1h0M832.3 358.9h0M827.9 368.0h0M322.6 315.3h0M172.9 383.5h0M821.6 362.0h0M814.1 358.7h0M355.6 388.7h0M817.6 399.0h0M330.6 312.5h0M312.5 333.0h0M195.2 420.0h0M830.2 408.2h0M323.3 314.7h0"/><path stroke="#c33c4f" d="M905.3 305.1h0M195.2 380.6h0M416.9 242.6h0M876.9 312.3h0M906.7 305.9h0M889.7 296.2h0M900.1 287.5h0M405.4 298.1h0M875.3 309.2h0M385.1 256.8h0M870.4 295.1h0M372.0 286.3h0M889.1 297.1h0M902.9 312.4h0M889.3 311.5h0M842.8 514.5h0M890.5 314.3h0M313.5 470.6h0M414.3 286.7h0M893.8 300.1h0M387.0 266.8h0M834.2 508.3h0"/><path stroke="#932667" d="M325.1 377.6h0M714.5 410.7h0M290.2 559.0h0M393.2 272.8h0M306.1 502.4h0M919.9 506.4h0M171.9 382.3h0M802.2 248.0h0M376.2 285.8h0M373.0 274.3h0M826.1 392.1h0M282.5 476.6h0M373.9 287.7h0M894.3 502.6h0M350.6 404.1h0M330.4 378.1h0M688.3 436.8h0M884.9 646.1h0M207.1 397.1h0M895.3 282.2h0M932.3 506.9h0M324.4 351.2h0"/><path stroke="#83206a" d="M272.8 367.4h0M319.8 344.3h0M710.9 406.2h0M689.5 419.3h0M288.1 520.1h0M701.6 448.2h0M888.3 486.6h0M210.1 403.7h0M828.1 514.0h0M834.9 355.2h0M806.5 426.1h0M387.1 487.5h0M150.4 379.1h0M674.3 433.7h0M824.2 366.6h0M287.5 345.5h0M824.2 397.8h0M739.0 457.4h0M830.0 406.0h0M785.7 512.6h0M378.1 280.2h0M298.8 374.0h0"/><path stroke="#dd513a" d="M882.8 307.9h0M700.0 397.6h0M321.1 485.2h0M180.0 356.2h0M883.9 322.2h0M867.7 304.3h0M891.3 309.7h0M320.0 482.8h0M403.5 282.7h0M890.7 297.6h0M392.7 258.4h0M887.2 301.9h0M400.7 232.8h0M676.3 381.8h0M397.8 298.4h0"/><path stroke="#721a6d" d="M780.4 518.4h0M723.9 426.9h0M841.1 357.6h0M289.1 545.4h0M320.3 349.0h0M682.3 449.5h0M795.0 548.2h0M175.6 363.9h0M701.4 445.7h0M853.0 541.1h0M819.1 392.3h0M312.1 343.4h0M798.2 519.0h0M318.0 345.9h0M787.5 410.5h0M147.5 442.5h0M901.0 508.0h0M810.2 401.7h0M350.8 353.9h0M710.3 449.3h0M344.6 310.1h0M343.0 373.7h0"/><path stroke="#ac305c" d="M382.6 282.9h0M834.0 513.0h0M912.1 260.3h0M887.6 311.6h0M838.2 519.2h0M680.0 421.3h0M892.9 296.5h0M885.1 294.8h0M387.2 283.5h0M814.4 618.1h0M385.7 274.7h0M832.3 515.2h0M363.9 470.4h0M889.9 299.0h0M406.7 460.2h0M373.9 286.4h0M378.5 261.5h0M374.1 283.2h0M381.3 287.8h0M900.6 305.4h0M198.2 357.4h0M889.4 304.7h0"/><path stroke="#fab922" d="M329.7 513.2h0M717.4 415.8h0M333.4 513.6h0M334.3 514.9h0"/><path stroke="#7a1d6b" d="M793.2 395.2h0M210.1 399.6h0M813.9 390.9h0M319.0 329.7h0M322.5 273.6h0M888.0 475.1h0M828.3 409.6h0M790.1 400.7h0M872.7 487.2h0M805.0 415.9h0M314.0 385.0h0M821.0 394.1h0M411.9 431.3h0M357.8 403.2h0M831.4 399.6h0M208.3 377.0h0M306.9 361.5h0M683.5 445.5h0M828.1 403.3h0M831.9 357.5h0M823.9 413.0h0M825.2 361.4h0"/><path stroke="#7a1d6b" d="M321.2 329.9h0M262.4 507.7h0M772.1 530.9h0M892.8 490.1h0M283.8 528.5h0M323.9 308.9h0M309.1 330.2h0M805.8 359.3h0M914.9 458.8h0M315.2 344.1h0M913.0 494.4h0M912.5 503.2h0M828.6 375.5h0M218.7 388.2h0M864.9 392.9h0M834.4 404.9h0M284.9 488.3h0M273.7 359.7h0M828.5 568.1h0M206.8 386.3h0M833.8 369.6h0M809.3 401.2h0"/><path stroke="#e6612d" d="M209.3 361.5h0M893.4 301.8h0M699.3 400.2h0M401.0 253.0h0M708.6 388.4h0M770.4 458.7h0M713.0 414.3h0M388.6 251.3h0M393.0 277.0h0M314.7 549.5h0M202.5 397.6h0M202.0 341.8h0M228.2 398.1h0M699.1 402.8h0M205.5 340.7h0M776.7 357.0h0M195.8 357.2h0M334.4 507.3h0M690.0 396.0h0M195.1 394.3h0M205.9 360.4h0M891.3 296.8h0"/><path stroke="#932667" d="M165.7 378.7h0M913.1 510.3h0M814.5 395.2h0M773.7 409.8h0M367.6 388.9h0M317.2 367.8h0M349.1 379.5h0M402.7 361.8h0M352.6 454.5h0M911.7 509.9h0M800.6 475.4h0M133.1 475.0h0M271.8 570.8h0M850.6 306.5h0M312.7 505.4h0M722.4 454.5h0M391.9 428.9h0M832.2 359.0h0M223.8 422.8h0M329.2 471.8h0M216.8 382.3h0M404.2 379.3h0"/><path stroke="#6a176e" d="M279.3 504.1h0M785.4 522.7h0M778.2 407.4h0M304.5 524.8h0M831.2 355.9h0M328.1 327.0h0M898.8 487.7h0M704.6 452.3h0M806.6 350.4h0M833.2 358.3h0M396.3 363.8h0M320.5 319.4h0M195.5 422.7h0M178.7 420.7h0M829.5 357.5h0M186.4 389.6h0M348.9 311.6h0M352.3 367.5h0M225.5 400.0h0M800.7 406.5h0M324.8 319.3h0M337.3 394.8h0"/><path stroke="#721a6d" d="M701.1 465.3h0M376.5 409.6h0M400.1 437.3h0M905.0 500.1h0M708.1 423.4h0M396.6 477.1h0M759.8 596.2h0M685.2 420.0h0M325.2 349.2h0M320.7 357.6h0M717.3 447.2h0M342.5 380.6h0M821.5 359.7h0M309.1 363.3h0M408.9 474.8h0M840.3 356.8h0M312.6 341.6h0M302.8 337.4h0M718.0 417.8h0M367.0 393.4h0M309.9 338.4h0M308.3 333.7h0"/><path stroke="#4a0d69" d="M208.2 389.9h0M789.6 386.7h0M689.6 418.7h0M293.6 377.9h0M160.7 431.9h0M441.3 442.9h0M822.0 367.0h0M311.5 340.8h0M205.0 399.9h0M770.6 403.8h0M683.2 410.9h0M693.4 425.9h0M812.8 413.4h0M900.6 500.7h0M808.5 392.3h0M840.5 355.5h0M258.8 278.0h0M842.0 405.8h0M814.3 401.5h0M308.7 341.2h0M397.1 454.2h0M314.6 367.4h0"/><path stroke="#c33c4f" d="M894.8 304.7h0M931.6 315.3h0M381.6 270.9h0M373.6 253.9h0M892.1 302.9h0M377.9 284.4h0M890.5 293.7h0M398.9 251.3h0M890.3 307.2h0M391.6 248.1h0M827.5 528.1h0M382.5 260.9h0M384.3 273.6h0M888.5 290.0h0M177.3 372.7h0M892.3 302.3h0M905.0 305.0h0M896.0 299.5h0M385.8 266.1h0M376.5 294.7h0M388.0 253.5h0M897.0 298.3h0"/><path stroke="#7a1d6b" d="M332.1 323.1h0M339.5 359.5h0M826.4 355.2h0M800.5 397.7h0M320.1 397.7h0M180.6 398.1h0M810.5 366.2h0M769.1 607.8h0M790.3 522.2h0M323.0 344.4h0M643.0 455.2h0M838.4 404.5h0M850.1 350.9h0M250.8 517.8h0M790.5 501.4h0M840.2 361.7h0M852.8 357.2h0M202.2 383.4h0M318.7 344.5h0M285.9 366.0h0M164.9 397.4h0M699.1 433.4h0"/><path stroke="#6a176e" d="M314.3 343.6h0M307.7 363.0h0M810.6 406.5h0M853.5 360.8h0M835.1 403.1h0M821.2 359.9h0M819.7 407.7h0M277.4 502.6h0M270.2 486.7h0M201.6 367.1h0M277.6 503.0h0M698.8 413.0h0M334.6 357.2h0M304.2 341.6h0M164.1 408.8h0M687.8 434.4h0M723.0 449.6h0M770.1 619.9h0M899.1 647.9h0M170.4 367.2h0M828.0 374.0h0M824.1 380.5h0"/><path stroke="#b43458" d="M905.6 296.5h0M886.9 288.6h0M372.3 267.0h0M886.6 303.5h0M379.4 272.5h0M892.3 299.9h0M881.5 288.6h0M380.4 271.8h0M712.6 438.6h0M384.3 265.8h0M362.8 289.7h0M913.1 256.1h0M389.8 265.4h0M887.4 301.8h0M387.7 289.8h0M385.7 294.0h0M373.2 284.8h0M890.0 310.3h0M401.3 437.2h0M908.6 299.5h0M290.9 398.3h0M394.0 268.7h0"/><path stroke="#4a0d69" d="M148.3 424.4h0M392.0 634.6h0M414.8 442.9h0M284.9 493.0h0M211.2 401.9h0M273.4 578.1h0M228.7 395.6h0M317.7 360.9h0M834.2 400.3h0M183.5 391.7h0M819.9 402.4h0M766.6 520.8h0M163.8 421.1h0M315.7 365.7h0M337.3 371.3h0M302.0 489.6h0M257.7 362.8h0M762.9 398.8h0M702.5 417.7h0M813.3 402.8h0M838.3 373.0h0M187.1 412.4h0"/><path stroke="#6a176e" d="M729.4 434.6h0M836.0 356.6h0M162.7 367.1h0M359.8 410.6h0M256.2 490.3h0M317.3 328.1h0M388.1 388.9h0M323.7 349.3h0M826.0 354.0h0M262.9 562.3h0M337.8 402.0h0M838.6 357.1h0M312.5 356.6h0M693.9 441.2h0M802.1 410.6h0M835.8 362.4h0M307.2 337.3h0M700.9 444.9h0M169.8 397.7h0M193.3 399.2h0M810.1 360.3h0M795.6 409.9h0"/><path stroke="#520f6a" d="M163.8 429.0h0M174.1 406.1h0M837.5 362.1h0M843.2 432.4h0M292.0 357.3h0M819.3 505.4h0M809.4 409.7h0M821.9 357.4h0M179.1 379.4h0M775.1 391.8h0M305.5 348.8h0M336.3 322.9h0M420.4 442.5h0M830.0 407.7h0M288.1 383.6h0M149.7 372.8h0M826.0 354.0h0M798.6 390.9h0M322.4 362.3h0M833.9 404.2h0M271.8 576.3h0M696.1 451.7h0"/><path stroke="#721a6d" d="M318.7 329.3h0M780.4 514.3h0M813.5 421.8h0M846.0 357.6h0M671.8 441.2h0M832.0 377.3h0M291.5 485.0h0M720.5 456.2h0M682.6 437.3h0M917.5 485.5h0M818.8 417.5h0M813.0 359.3h0M363.3 468.0h0M827.1 417.3h0M338.1 382.3h0M329.9 316.7h0M259.4 485.3h0M265.1 492.3h0M265.6 577.8h0M163.8 401.7h0M371.1 404.8h0M314.1 385.7h0"/><path stroke="#932667" d="M880.4 482.7h0M406.0 448.9h0M880.8 490.0h0M277.7 480.4h0M683.5 420.4h0M405.5 454.2h0M291.7 496.6h0M839.6 351.1h0M400.8 235.4h0M371.4 293.9h0M337.7 390.2h0M821.8 388.6h0M186.4 346.5h0M354.4 464.0h0M186.9 412.9h0M337.9 416.2h0M370.4 291.9h0M252.7 512.8h0M842.1 392.8h0M325.0 364.0h0M172.9 377.5h0M318.0 377.5h0"/><path stroke="#721a6d" d="M822.0 365.5h0M744.7 121.3h0M293.5 369.5h0M338.6 317.9h0M309.8 337.7h0M689.5 457.7h0M327.0 327.6h0M819.6 427.3h0M163.3 378.2h0M688.6 459.1h0M398.3 405.1h0M853.0 400.7h0M911.1 495.7h0M668.9 469.7h0M208.5 354.8h0M337.9 325.9h0M773.8 539.5h0M275.4 484.6h0M834.4 404.0h0M820.5 371.6h0M773.7 533.3h0M807.6 369.8h0"/><path stroke="#721a6d" d="M396.5 466.3h0M321.6 323.4h0M188.4 397.4h0M323.1 340.0h0M323.5 316.3h0M889.6 300.7h0M819.5 415.5h0M284.6 486.9h0M309.7 323.2h0M170.8 437.1h0M834.8 366.5h0M323.8 379.2h0M189.0 386.3h0M711.5 440.1h0M779.7 414.2h0M732.1 438.3h0M315.6 330.9h0M807.0 392.8h0M295.8 346.7h0M787.2 528.4h0M841.0 361.5h0M724.2 432.1h0"/><path stroke="#b43458" d="M680.8 335.0h0M891.6 284.8h0M381.7 281.6h0M832.5 403.2h0M689.0 458.0h0M378.3 263.8h0M902.2 312.9h0M872.2 280.6h0M385.6 279.5h0M892.1 302.3h0M891.6 296.1h0"/><path stroke="#f58116" d="M703.1 398.2h0M697.8 413.5h0M720.3 414.4h0M696.5 385.0h0M697.6 395.5h0M708.8 414.9h0M839.7 554.1h0M693.3 396.8h0"/><path stroke="#1f0b42" d="M744.8 553.5h0"/><path stroke="#83206a" d="M347.1 410.0h0M843.8 417.5h0M796.2 517.5h0M397.9 464.8h0M338.0 328.2h0M326.0 372.9h0M821.7 394.0h0M672.2 462.8h0M812.5 387.9h0M399.5 422.9h0M381.5 289.1h0M699.6 428.1h0M324.2 381.5h0M160.6 399.9h0M155.3 407.8h0M682.6 438.3h0M400.5 444.3h0M838.1 391.2h0M374.7 295.1h0M921.0 461.3h0M863.0 535.4h0M825.1 395.7h0"/><path stroke="#83206a" d="M204.2 366.4h0M399.0 355.8h0M240.6 396.8h0M295.2 352.3h0M828.4 384.2h0M892.7 475.1h0M264.7 564.1h0M822.4 412.2h0M778.5 535.6h0M230.0 391.7h0M804.7 403.8h0M313.9 349.1h0M823.7 517.6h0M874.7 315.8h0M246.1 397.6h0M797.7 390.0h0M825.5 359.7h0M364.6 394.3h0M645.5 434.6h0M816.6 403.2h0M805.1 412.1h0M913.0 493.5h0"/><path stroke="#ef7020" d="M206.7 348.4h0M182.9 367.8h0M397.9 251.1h0M182.3 337.8h0M179.9 355.5h0M333.2 501.9h0M699.5 426.1h0M827.9 546.3h0M693.3 408.0h0M214.6 371.6h0M675.1 397.7h0M175.6 393.5h0M848.4 552.5h0M677.4 418.3h0M190.0 360.0h0M198.2 358.9h0M685.1 415.1h0M701.8 385.8h0M208.2 353.6h0M406.9 229.8h0M840.0 539.2h0M372.9 213.8h0"/><path stroke="#a32d5f" d="M385.1 276.8h0M820.2 508.3h0M380.8 278.7h0M382.4 277.7h0M912.2 286.4h0M837.4 425.5h0M383.1 285.6h0M307.0 374.2h0M783.1 388.1h0M889.5 298.6h0M394.9 268.2h0M883.6 386.5h0M824.5 519.2h0M379.1 313.9h0M826.9 507.7h0M367.0 275.7h0M895.8 305.5h0M373.9 467.3h0M834.7 505.1h0M769.0 488.7h0M332.4 400.6h0M342.2 346.4h0"/><path stroke="#e6612d" d="M191.3 355.6h0M177.7 353.1h0M391.1 233.3h0M685.6 396.6h0M877.6 300.1h0M185.8 381.7h0M179.4 366.9h0M184.5 354.6h0M195.2 363.8h0M203.9 341.0h0M196.5 344.8h0M194.7 364.9h0M690.5 412.0h0M338.7 498.6h0M829.3 561.3h0M193.1 373.2h0M208.1 353.1h0M690.4 390.9h0M917.4 252.4h0M384.5 249.2h0M910.9 301.6h0M703.3 428.9h0"/><path stroke="#f58116" d="M683.1 412.7h0M314.6 539.7h0M705.2 397.9h0M669.2 418.1h0M332.6 490.4h0M336.7 506.6h0M774.9 172.9h0M341.3 504.3h0M684.2 399.0h0M172.1 375.6h0M685.5 388.0h0M193.0 361.4h0M704.5 395.2h0M699.7 423.8h0M693.7 391.6h0M704.5 408.0h0M315.0 543.6h0M169.6 383.4h0M196.9 345.5h0M683.7 389.6h0M187.0 363.9h0M701.0 409.6h0"/><path stroke="#7a1d6b" d="M922.4 491.4h0M185.0 404.4h0M840.2 357.9h0M783.5 533.4h0M673.4 392.7h0M409.4 603.8h0M819.8 360.9h0M832.7 368.7h0M222.3 402.5h0M699.5 448.7h0M835.8 379.1h0M333.6 314.3h0M777.4 530.4h0M820.0 401.8h0M834.3 410.0h0M316.9 320.6h0M702.7 446.2h0M811.2 410.6h0M723.5 479.2h0M187.2 386.6h0M902.4 494.9h0M830.6 366.2h0"/><path stroke="#62146d" d="M823.8 395.0h0M829.5 401.1h0M816.1 420.2h0M266.6 562.7h0M816.2 361.6h0M306.9 353.5h0M703.1 435.7h0M827.2 361.2h0M324.2 322.9h0M813.2 413.5h0M839.8 366.8h0M312.0 387.7h0M825.9 370.2h0M298.3 378.9h0M206.9 392.6h0M316.5 342.7h0M699.4 418.1h0M834.7 365.2h0M316.3 389.2h0M318.0 386.4h0M779.4 528.8h0M276.9 380.1h0"/><path stroke="#6a176e" d="M312.0 338.0h0M825.2 358.6h0M339.0 315.5h0M812.2 400.2h0M331.3 315.7h0M826.5 370.7h0M707.0 456.3h0M337.2 342.6h0M789.5 389.6h0M336.7 327.4h0M823.6 367.8h0M692.7 430.3h0M331.6 316.0h0M688.9 414.5h0M823.9 366.6h0M821.0 363.5h0M318.7 320.6h0M819.0 376.1h0M686.7 437.5h0M810.3 421.0h0M823.2 365.1h0M775.8 522.8h0"/><path stroke="#e15933" d="M694.1 394.6h0M693.4 429.9h0M198.1 371.0h0M175.0 368.5h0M392.3 258.8h0M172.4 362.1h0M700.5 415.0h0M888.9 288.7h0M386.4 240.5h0M191.7 383.4h0M197.8 360.5h0M216.3 352.8h0M201.0 348.7h0M334.7 492.4h0M196.8 352.3h0M196.0 354.9h0M189.5 348.0h0M893.5 262.6h0M187.5 381.4h0M906.7 279.1h0M681.9 380.2h0M418.2 243.4h0"/><path stroke="#8b2368" d="M308.1 546.2h0M123.5 280.7h0M226.7 404.1h0M676.8 438.6h0M819.8 509.2h0M788.9 531.1h0M416.3 465.7h0M404.0 475.1h0M826.8 408.7h0M821.6 407.6h0M812.8 379.6h0M208.3 369.2h0M821.8 414.3h0M797.9 583.1h0M197.5 418.0h0M314.1 340.6h0M344.2 348.3h0M723.1 428.6h0M790.0 393.9h0M203.6 413.3h0M331.6 366.0h0M397.2 446.5h0"/><path stroke="#721a6d" d="M324.5 321.7h0M780.8 593.3h0M332.1 321.4h0M825.7 405.3h0M329.8 321.9h0M322.8 355.9h0M837.3 556.2h0M316.1 389.7h0M290.4 376.8h0M220.8 382.1h0M715.1 454.4h0M824.0 401.8h0M303.2 345.7h0M848.4 399.5h0M282.4 522.5h0M308.8 364.9h0M351.9 313.9h0M256.9 487.0h0M187.0 420.1h0M781.5 523.9h0M832.9 350.2h0M810.2 399.9h0"/><path stroke="#ea6826" d="M209.2 358.0h0M673.7 406.0h0M199.3 355.3h0M689.4 411.6h0M202.1 356.0h0M698.1 401.6h0M320.4 476.3h0M702.8 405.4h0M161.2 378.6h0M173.7 367.0h0M698.0 393.8h0M183.1 359.2h0M181.1 383.8h0M700.6 396.0h0M194.3 352.5h0M200.7 353.7h0M194.7 368.6h0M692.2 416.4h0M686.5 414.6h0M835.0 546.9h0M699.1 394.3h0M389.9 241.4h0"/><path stroke="#f89310" d="M198.9 369.6h0M718.8 409.6h0M689.6 377.9h0M328.9 496.5h0M674.1 400.9h0M187.7 356.1h0M832.3 552.0h0M751.4 471.4h0M367.5 241.6h0M684.6 423.1h0M836.8 539.8h0M332.2 507.2h0M202.3 346.4h0M315.8 538.7h0M690.3 405.6h0M843.1 554.5h0M819.4 572.0h0M342.3 513.1h0M192.5 353.6h0M838.4 546.1h0M840.0 538.0h0M728.3 383.3h0"/><path stroke="#62146d" d="M291.3 343.6h0M309.2 361.6h0M830.4 409.7h0M839.6 356.5h0M800.7 414.7h0M299.9 511.2h0M686.0 445.8h0M323.6 327.3h0M789.0 619.9h0M657.8 426.4h0M790.9 410.1h0M832.9 369.3h0M415.4 432.2h0M700.8 466.1h0M833.4 423.8h0M167.3 393.0h0M825.7 357.0h0M348.0 383.2h0M183.1 405.4h0M211.4 371.4h0M812.0 359.7h0M808.2 387.4h0"/><path stroke="#6a176e" d="M850.0 411.8h0M832.9 375.2h0M810.8 405.7h0M331.8 340.6h0M869.8 507.9h0M336.0 344.2h0M767.5 391.3h0M319.9 380.1h0M842.5 352.3h0M825.8 359.1h0M821.0 395.6h0M821.4 359.1h0M402.5 450.0h0M826.8 394.4h0M295.2 360.7h0M409.5 434.4h0M169.2 392.7h0M828.9 397.2h0M322.2 330.0h0M832.2 366.3h0M832.8 372.4h0M829.3 371.6h0"/><path stroke="#bc3754" d="M922.9 296.7h0M819.2 526.6h0M885.7 316.4h0M187.0 354.9h0M380.3 284.5h0M364.7 478.2h0M380.9 280.3h0M900.1 293.4h0M377.3 267.1h0M382.9 270.1h0M881.2 306.8h0M385.6 259.6h0M839.7 246.9h0M376.9 269.6h0M903.2 254.1h0M826.6 514.5h0M894.6 314.8h0M357.2 459.2h0M368.2 286.5h0M891.4 308.9h0M172.8 396.8h0M381.4 274.6h0"/><path stroke="#7a1d6b" d="M303.7 362.6h0M200.3 419.4h0M204.8 445.5h0M777.2 530.3h0M821.9 382.7h0M314.4 341.6h0M352.7 414.0h0M884.5 479.0h0M808.3 386.3h0M293.4 543.5h0M720.5 410.8h0M777.5 541.7h0M801.7 516.1h0M683.1 441.9h0M849.8 361.9h0M823.3 358.1h0M321.7 332.9h0M806.0 408.7h0M822.9 357.6h0M701.6 440.8h0M167.7 368.8h0M715.6 490.9h0"/><path stroke="#520f6a" d="M311.4 330.2h0M841.5 356.1h0M173.8 386.2h0M837.1 419.1h0M816.7 370.1h0M325.5 335.4h0M165.1 412.1h0M310.7 359.1h0M824.4 404.0h0M163.3 401.0h0M844.9 356.7h0M822.7 401.2h0M830.7 365.9h0M706.2 400.6h0M192.5 386.7h0M836.3 359.2h0M900.4 656.6h0M686.8 453.0h0M250.3 387.1h0M823.6 410.0h0M678.3 419.1h0M715.2 451.7h0"/><path stroke="#721a6d" d="M834.2 358.2h0M307.5 358.1h0M839.0 360.4h0M888.8 478.5h0M331.3 323.3h0M781.6 531.5h0M299.2 358.4h0M845.3 357.7h0M401.0 458.5h0M773.7 614.5h0M764.8 607.1h0M178.6 377.1h0M830.0 363.9h0M309.6 374.1h0M310.5 414.1h0M740.3 420.2h0M832.6 413.6h0M813.1 355.4h0M828.2 398.2h0M300.0 378.9h0M321.3 343.2h0M843.0 412.0h0"/><path stroke="#6a176e" d="M296.5 550.7h0M931.0 504.0h0M324.6 320.8h0M176.4 368.9h0M299.9 359.9h0M710.5 446.0h0M382.9 427.4h0M307.6 359.9h0M288.0 361.6h0M419.8 476.4h0M834.8 399.8h0M314.4 321.1h0M809.9 398.1h0M185.6 407.5h0M317.1 323.0h0M821.0 382.4h0M314.8 527.0h0M312.9 527.4h0M834.3 364.8h0M300.1 380.8h0M324.0 343.4h0M339.3 391.5h0"/><path stroke="#ea6826" d="M201.3 355.2h0M206.7 353.2h0M203.4 371.3h0M883.1 298.3h0M410.0 256.3h0M698.9 394.8h0M196.0 357.1h0M184.7 360.4h0M715.5 392.1h0M697.4 396.2h0M703.9 396.3h0M198.1 351.0h0M205.1 355.7h0M686.6 391.1h0M185.6 375.8h0M711.5 407.9h0M883.4 299.5h0M197.1 365.5h0M213.5 341.6h0M176.0 369.7h0M700.0 404.4h0M189.7 348.1h0"/><path stroke="#721a6d" d="M819.2 408.2h0M817.1 368.2h0M330.8 401.6h0M693.0 450.2h0M852.2 523.6h0M710.9 442.3h0M848.0 356.2h0M328.7 383.0h0M733.9 482.9h0M260.0 511.5h0M422.8 466.5h0M308.6 340.8h0M817.0 402.5h0M890.0 476.7h0M824.6 358.8h0M319.8 329.1h0M264.4 510.6h0M682.4 442.6h0M799.2 394.0h0M714.4 444.3h0M325.1 366.7h0M329.9 318.3h0"/><path stroke="#d04744" d="M194.1 371.2h0M903.9 298.4h0M373.1 265.2h0M893.1 296.3h0M395.6 245.6h0M901.3 301.3h0M210.1 356.6h0M378.7 260.0h0M896.1 289.5h0M389.9 265.4h0M882.2 310.5h0M897.0 281.5h0M341.0 461.6h0M391.0 247.1h0M366.5 264.4h0M831.1 531.3h0M375.7 268.5h0M378.5 274.7h0M938.2 257.5h0M377.1 254.3h0M888.1 289.2h0M383.5 252.6h0"/><path stroke="#6a176e" d="M822.4 403.6h0M350.1 394.8h0M336.2 326.9h0M330.6 323.2h0M323.9 365.8h0M823.6 363.4h0M677.9 434.1h0M320.2 340.9h0M828.4 370.5h0M825.3 369.4h0M327.9 315.6h0M827.4 359.6h0M343.0 395.0h0M313.2 318.3h0M818.9 413.4h0M314.5 338.6h0M851.1 404.4h0M172.3 375.3h0M827.4 356.6h0M818.2 392.4h0M336.0 326.4h0M844.6 377.2h0"/><path stroke="#6a176e" d="M819.3 355.9h0M710.0 430.7h0M804.2 399.1h0M782.2 390.0h0M682.5 414.1h0M316.6 352.1h0M831.1 372.5h0M250.4 507.3h0M807.2 406.1h0M322.8 373.7h0M267.5 578.7h0M877.5 491.0h0M331.5 334.8h0M720.6 439.3h0M255.1 477.0h0M845.3 355.0h0M317.2 336.5h0M170.1 376.2h0M905.7 503.9h0M836.9 366.3h0M317.2 327.9h0M319.8 341.8h0"/><path stroke="#721a6d" d="M179.7 397.6h0M785.5 415.4h0M271.9 499.2h0M323.8 360.2h0M920.2 471.7h0M320.8 341.2h0M821.2 364.5h0M781.2 535.6h0M307.3 336.9h0M664.9 432.2h0M821.1 377.6h0M824.7 361.8h0M903.6 494.4h0M813.7 363.7h0M930.0 490.2h0M160.1 377.8h0M330.6 319.3h0M194.1 390.1h0M827.5 354.0h0M928.2 489.2h0M289.1 478.3h0M264.3 585.5h0"/><path stroke="#83206a" d="M827.6 398.3h0M168.7 380.0h0M794.0 503.4h0M298.1 506.0h0M379.8 292.4h0M366.7 369.3h0M353.5 381.1h0M809.7 401.2h0M638.3 441.9h0M827.8 416.9h0M327.6 313.9h0M825.8 351.0h0M376.5 366.0h0M326.8 321.1h0M818.5 426.4h0M310.2 341.4h0M821.7 409.2h0M287.0 507.7h0M820.5 413.9h0M453.9 318.6h0M316.5 317.6h0M289.3 481.3h0"/><path stroke="#a32d5f" d="M373.7 267.8h0M371.4 500.0h0M384.0 256.5h0M823.0 509.1h0M351.6 453.1h0M354.1 466.8h0M714.7 407.5h0M885.7 294.4h0M896.0 308.8h0M675.7 419.3h0M314.2 465.8h0M897.7 303.3h0M798.7 430.5h0M383.8 289.0h0M297.4 489.5h0M404.8 383.1h0M377.1 284.0h0M889.4 309.8h0M890.2 309.2h0M371.9 404.7h0M383.3 273.7h0M386.0 274.1h0"/><path stroke="#5a126c" d="M316.7 350.9h0M815.9 403.0h0M824.6 379.5h0M839.1 357.5h0M697.5 472.9h0M682.9 454.3h0M315.7 342.3h0M324.6 358.3h0M339.3 324.3h0M314.8 390.3h0M929.2 510.9h0M790.0 531.4h0M778.6 399.8h0M820.8 591.8h0M699.2 467.7h0M827.0 359.2h0M267.0 589.2h0M301.8 378.5h0M825.4 367.7h0M311.2 330.1h0M346.9 315.7h0M829.1 359.5h0"/><path stroke="#ef7020" d="M200.2 373.3h0M356.7 291.7h0M210.6 346.6h0M699.9 415.9h0M211.4 374.6h0M695.1 403.6h0M695.7 373.8h0M686.8 380.6h0M691.8 388.5h0M853.6 539.1h0M386.3 269.0h0M199.4 355.3h0M688.5 407.0h0M690.5 420.3h0M825.6 574.2h0M680.5 399.0h0M692.8 404.3h0M689.3 408.3h0M668.5 385.0h0M715.4 410.4h0M327.2 511.8h0M207.8 361.9h0"/><path stroke="#932667" d="M681.6 434.9h0M847.3 431.2h0M172.5 368.0h0M857.9 481.6h0M733.8 437.7h0M880.0 480.3h0M185.1 399.7h0M308.1 476.2h0M705.8 455.9h0M289.4 335.3h0M793.2 394.0h0M207.1 396.7h0M783.7 532.7h0M274.6 360.2h0M423.9 473.4h0M787.0 407.2h0M388.4 302.1h0M266.8 452.6h0M380.8 280.5h0M653.2 447.7h0M431.1 483.5h0M338.4 394.4h0"/><path stroke="#f78a13" d="M730.6 393.6h0M200.8 354.6h0M709.2 401.6h0M310.5 536.3h0M692.7 397.8h0M697.1 377.1h0M850.1 542.7h0M840.8 541.0h0M712.0 388.6h0M337.0 511.9h0M310.1 124.9h0M693.9 397.3h0M688.7 384.8h0M710.0 403.3h0M715.0 409.6h0M331.1 494.0h0M844.2 560.6h0M689.4 418.4h0M188.0 380.8h0M839.0 531.9h0M330.0 505.0h0M326.7 516.5h0"/><path stroke="#b43458" d="M908.1 292.0h0M829.0 527.5h0M829.7 527.5h0M826.9 513.3h0M883.4 307.7h0M386.0 262.2h0M383.5 271.9h0M892.6 325.6h0M387.7 256.6h0M821.3 524.1h0M897.5 304.1h0M324.3 422.5h0M387.2 268.5h0M374.0 279.5h0M383.7 270.9h0M910.5 294.9h0M394.3 254.3h0M931.9 295.8h0M889.5 312.1h0M173.9 365.7h0M888.3 296.2h0M190.7 362.5h0"/><path stroke="#5a126c" d="M204.5 410.9h0M318.5 333.0h0M333.5 322.0h0M387.5 462.2h0M314.9 417.1h0M193.7 424.9h0M335.3 314.5h0M257.7 556.6h0M826.1 370.4h0M840.9 361.7h0M422.0 467.9h0M718.2 447.3h0M300.9 341.6h0M295.6 365.4h0M890.8 476.6h0M156.9 382.8h0M227.0 366.5h0M426.7 455.6h0M314.7 325.0h0M332.5 356.9h0M206.1 426.0h0M770.6 392.3h0"/><path stroke="#721a6d" d="M877.7 484.5h0M311.5 318.7h0M332.0 377.8h0M911.7 457.3h0M327.4 314.1h0M311.9 344.8h0M929.0 507.8h0M827.4 369.3h0M879.0 551.9h0M306.3 383.6h0M753.4 420.6h0M832.8 358.7h0M396.2 474.5h0M276.4 494.8h0M185.6 402.4h0M316.5 342.5h0M350.0 354.5h0M280.2 563.5h0M828.1 365.4h0M335.0 384.0h0M653.6 458.0h0M826.8 404.3h0"/><path stroke="#f37819" d="M330.8 505.2h0M690.0 408.8h0M700.9 395.6h0M706.1 402.1h0M210.5 351.2h0M328.6 498.2h0M331.0 496.0h0M708.5 378.1h0M709.7 386.6h0M689.0 413.8h0M711.9 404.1h0M689.6 393.1h0M187.9 367.1h0M183.6 360.8h0M190.3 383.7h0M685.7 398.7h0"/><path stroke="#6a176e" d="M751.1 407.0h0M336.7 322.9h0M826.5 362.5h0M804.7 415.8h0M813.0 358.8h0M812.4 425.4h0M818.8 365.3h0M846.1 344.5h0M264.7 512.8h0M823.5 349.4h0M698.1 447.4h0M820.9 357.9h0M823.6 364.3h0M827.2 370.1h0M814.7 400.0h0M852.9 364.8h0M833.7 402.0h0M301.5 476.4h0M851.1 359.9h0M827.6 415.3h0M323.2 380.4h0M823.7 402.0h0"/><path stroke="#e15933" d="M173.8 354.1h0M417.0 290.0h0M196.8 358.2h0M323.2 486.9h0M911.9 324.9h0M889.8 309.3h0M690.7 408.8h0M701.5 428.9h0M204.6 354.2h0M169.6 380.6h0M164.8 367.8h0M680.9 397.4h0M702.7 399.2h0M886.2 269.5h0M331.9 491.7h0M216.9 356.4h0M177.4 374.2h0M186.1 356.3h0M702.3 402.0h0M911.3 262.0h0M700.7 421.6h0M384.0 234.6h0"/><path stroke="#83206a" d="M855.3 422.1h0M332.1 313.0h0M798.4 399.6h0M822.8 372.1h0M205.9 428.4h0M820.5 379.8h0M184.3 397.7h0M690.8 443.8h0M819.0 374.0h0M825.6 363.0h0M784.2 520.7h0M219.9 408.0h0M181.4 405.0h0M376.5 309.5h0M935.8 505.6h0M833.8 409.9h0M800.0 403.4h0M820.0 407.2h0M269.8 581.3h0M697.2 468.0h0M723.9 421.8h0M402.2 422.6h0"/><path stroke="#6a176e" d="M793.7 386.3h0M824.9 400.0h0M263.3 494.1h0M166.6 374.5h0M345.9 370.0h0M828.3 408.6h0M261.4 502.9h0M822.8 365.7h0M691.9 444.3h0M325.3 312.3h0M322.2 389.1h0M260.1 575.8h0M834.8 361.3h0M405.0 619.0h0M839.1 374.7h0M671.6 458.4h0M677.1 447.9h0M329.4 321.2h0M300.6 353.6h0M829.2 365.3h0M845.5 396.0h0M701.7 448.9h0"/><path stroke="#dd513a" d="M875.4 296.0h0M694.5 410.2h0M677.8 399.9h0M194.0 364.3h0M387.4 253.9h0M195.8 377.6h0M858.4 304.1h0M695.7 394.7h0M726.0 430.2h0M404.0 238.5h0M323.7 481.4h0M826.3 524.4h0M704.5 416.1h0M692.3 397.2h0M176.7 392.9h0M194.8 345.8h0M198.3 337.0h0M697.1 400.0h0M382.6 250.7h0M390.0 227.0h0M694.1 427.2h0M706.2 386.9h0"/><path stroke="#d04744" d="M873.3 301.7h0M183.8 366.1h0M280.7 493.5h0M384.1 263.3h0M911.9 299.5h0M882.1 299.3h0M394.5 245.4h0M878.2 299.8h0M682.0 413.7h0M883.1 296.7h0M325.7 476.8h0M396.9 235.7h0M821.4 527.3h0M382.6 257.1h0M701.5 423.2h0M898.2 306.9h0M905.6 292.1h0M385.3 273.4h0M881.5 312.2h0M381.9 272.3h0M884.9 307.5h0M408.5 298.8h0"/><path stroke="#f37819" d="M830.4 554.6h0M204.9 353.4h0M696.7 408.2h0M701.1 384.1h0M721.4 393.5h0M319.2 542.0h0M190.9 347.8h0M327.7 523.4h0M817.0 576.5h0M829.7 540.8h0M183.4 358.3h0M209.1 363.6h0M199.5 350.0h0M700.6 405.1h0M193.2 359.4h0M196.4 349.7h0M693.9 378.6h0M325.9 535.2h0M203.2 369.0h0M709.8 417.4h0M400.9 243.8h0M671.8 401.0h0"/><path stroke="#62146d" d="M840.4 356.0h0M838.7 374.8h0M905.0 484.8h0M820.5 370.3h0M323.9 344.4h0M307.4 361.5h0M675.5 447.6h0M702.0 388.3h0M185.2 359.7h0M278.0 480.0h0M700.0 470.2h0M797.6 393.2h0M367.6 419.3h0M339.7 311.9h0M693.4 427.8h0M156.6 370.2h0M328.6 379.0h0M320.8 321.7h0M809.1 360.6h0M341.2 379.7h0M895.7 478.1h0M294.6 381.7h0"/><path stroke="#bc3754" d="M895.0 310.6h0M381.7 276.5h0M379.1 263.7h0M385.5 268.0h0M893.7 307.5h0M378.7 284.1h0M384.1 285.0h0M190.4 367.2h0M397.7 233.2h0M375.5 290.3h0M896.8 295.6h0M880.8 299.0h0M912.5 333.6h0M897.5 305.4h0M283.5 426.6h0M378.0 278.4h0M902.7 294.4h0M373.0 273.6h0M394.2 272.9h0M383.4 271.4h0M287.1 210.3h0M372.1 284.9h0"/><path stroke="#8b2368" d="M908.1 485.1h0M826.1 361.1h0M395.4 300.7h0M775.2 417.0h0M819.3 405.5h0M771.9 525.7h0M912.4 495.7h0M298.6 469.1h0M286.0 560.7h0M779.0 619.9h0M834.9 404.7h0M821.8 364.0h0M309.9 347.0h0M659.1 393.6h0M827.7 390.9h0M332.1 392.0h0M308.8 347.1h0M689.1 441.2h0M765.7 614.2h0M698.3 424.3h0M843.5 416.4h0M274.8 525.5h0"/><path stroke="#c9414a" d="M905.3 268.9h0M379.5 268.4h0M373.5 270.2h0M882.5 288.1h0M383.9 274.4h0M212.7 396.6h0M391.8 247.5h0M910.5 303.6h0M900.4 312.9h0M892.7 309.8h0M906.0 305.6h0M900.3 302.3h0M892.6 298.1h0M938.2 326.1h0M189.7 353.4h0M377.9 258.1h0M408.0 244.5h0M385.2 256.1h0M839.6 514.3h0M892.3 289.9h0M380.4 269.9h0M371.5 285.0h0"/><path stroke="#ea6826" d="M180.1 379.3h0M772.3 458.2h0M332.2 503.5h0M326.1 492.3h0M384.2 246.8h0M206.5 360.1h0M687.8 404.4h0M179.5 376.9h0M697.4 394.1h0M197.0 355.2h0M393.8 243.7h0M179.8 386.8h0M671.0 406.2h0M834.7 551.1h0M195.6 365.4h0M196.4 367.2h0M877.8 290.0h0M816.4 583.7h0M201.3 349.5h0M909.9 263.3h0M203.3 356.6h0M708.0 393.0h0"/><path stroke="#62146d" d="M931.2 482.8h0M322.8 340.2h0M815.0 406.2h0M799.9 410.3h0M331.2 353.9h0M838.3 370.9h0M825.9 372.0h0M740.2 420.3h0M324.1 312.4h0M793.9 384.2h0M161.7 382.1h0M692.1 448.2h0M339.1 398.9h0M784.3 508.5h0M700.8 429.3h0M834.8 373.8h0M258.6 569.5h0M351.5 397.3h0M311.0 351.5h0M333.9 329.0h0M811.8 402.2h0M877.2 531.5h0"/><path stroke="#c9414a" d="M819.9 506.7h0M889.5 300.0h0M893.0 295.1h0M381.5 273.1h0M394.0 235.9h0M889.2 304.1h0M389.1 276.0h0M181.9 401.1h0M318.2 474.0h0M889.8 305.5h0M825.6 528.3h0M694.3 411.6h0M204.0 351.1h0M390.6 243.9h0M913.5 268.3h0M921.6 283.7h0M893.7 301.1h0M320.9 495.3h0M194.4 362.0h0M402.6 228.0h0M190.4 368.4h0M886.4 306.6h0"/><path stroke="#62146d" d="M707.2 435.8h0M312.9 335.1h0M830.2 374.2h0M827.3 365.5h0M834.0 369.8h0M267.3 561.8h0M716.8 452.0h0M321.3 330.3h0M843.4 364.2h0M722.5 478.6h0M835.9 426.2h0M814.2 358.1h0M825.9 364.2h0M286.0 488.0h0M301.2 341.5h0M867.9 395.8h0M324.6 319.4h0M738.1 427.0h0M200.0 420.2h0M714.0 467.7h0M402.2 444.0h0M832.1 373.9h0"/><path stroke="#dd513a" d="M206.0 381.9h0M887.3 306.2h0M191.1 355.8h0M871.9 311.0h0M698.6 401.2h0M191.8 372.1h0M398.2 231.7h0M378.3 276.1h0M387.9 265.9h0M687.7 405.5h0M691.4 407.3h0M171.7 393.4h0M378.8 270.3h0M390.4 267.3h0M370.8 247.7h0M408.3 251.5h0M714.4 458.5h0M386.4 267.4h0M400.9 280.0h0M187.5 356.3h0M385.7 247.7h0M383.6 264.7h0"/><path stroke="#5a126c" d="M701.6 447.0h0M849.9 559.1h0M849.3 356.5h0M177.9 418.3h0M824.9 360.7h0M265.7 388.1h0M322.5 337.5h0M318.0 349.0h0M825.2 370.5h0M824.2 353.8h0M830.5 367.7h0M168.7 407.5h0M334.6 371.7h0M333.3 314.9h0M716.3 451.4h0M160.2 383.5h0M684.8 451.3h0M819.8 363.3h0M925.3 467.0h0M833.5 363.3h0M832.1 372.9h0M313.2 344.9h0"/><path stroke="#721a6d" d="M824.0 357.6h0M699.9 451.4h0M773.4 518.1h0M328.3 320.5h0M365.0 398.5h0M186.5 395.5h0M832.1 406.9h0M815.7 407.7h0M810.9 513.9h0M335.4 306.6h0M158.0 391.8h0M831.0 409.9h0M294.7 362.1h0M328.5 326.6h0M264.3 571.1h0M322.3 363.8h0M824.4 368.8h0M325.4 318.1h0M161.6 384.1h0M813.9 404.0h0M820.7 390.8h0M852.5 362.7h0"/><path stroke="#c33c4f" d="M391.9 256.6h0M383.8 271.6h0M828.1 524.2h0M894.6 291.3h0M382.5 280.9h0M885.1 290.3h0M884.1 283.5h0M375.2 279.1h0M386.0 273.7h0M892.4 306.1h0M367.0 274.8h0M891.0 297.0h0M392.9 277.4h0M379.1 248.2h0M373.2 273.8h0M364.6 280.7h0M814.3 529.1h0M391.6 282.2h0M892.4 313.5h0M885.7 313.6h0M319.9 483.9h0M875.4 303.4h0"/><path stroke="#83206a" d="M350.6 373.5h0M178.1 412.0h0M835.4 354.8h0M702.1 426.8h0M820.1 390.8h0M830.6 514.4h0M899.2 469.3h0M180.8 388.4h0M256.3 477.9h0M334.1 365.9h0M175.5 391.8h0M196.9 394.5h0M167.5 429.6h0M824.1 410.1h0M802.1 396.5h0M306.8 375.5h0M300.5 511.8h0M374.0 401.0h0M305.3 391.0h0M836.5 391.5h0M156.3 391.9h0M287.6 513.2h0"/><path stroke="#721a6d" d="M821.8 519.0h0M686.1 434.9h0M835.4 354.8h0M258.5 571.3h0M826.6 370.8h0M298.5 366.9h0M897.4 393.7h0M196.6 404.8h0M307.4 367.5h0M811.5 397.6h0M334.9 322.1h0M700.0 437.1h0M390.0 464.1h0M183.5 437.3h0M314.8 327.4h0M238.8 383.6h0M340.0 309.9h0M804.9 375.0h0M793.1 524.2h0M819.3 407.3h0M829.4 370.0h0M321.9 336.2h0"/><path stroke="#bc3754" d="M381.4 289.7h0M879.3 302.7h0M373.2 269.2h0M688.8 448.7h0M905.6 304.7h0M387.5 284.0h0M373.9 271.7h0M378.0 280.1h0M381.0 277.1h0M384.4 278.3h0M892.3 292.1h0M374.4 279.8h0M382.5 279.6h0M824.8 517.2h0M385.0 266.6h0M179.3 357.2h0M382.6 279.3h0M382.9 273.0h0M358.3 461.4h0M388.2 274.8h0M377.8 283.0h0M382.8 270.7h0"/><path stroke="#6a176e" d="M720.5 457.9h0M177.0 393.3h0M794.1 524.2h0M382.6 428.9h0M793.8 517.7h0M169.8 408.6h0M339.8 393.9h0M838.2 539.0h0M167.0 389.7h0M180.7 406.2h0M830.9 359.1h0M340.6 408.1h0M230.9 433.6h0M300.5 378.3h0M820.8 396.4h0M823.0 359.8h0M812.6 362.9h0M335.6 308.4h0M334.4 316.1h0M785.9 517.2h0M174.1 380.3h0M305.2 337.7h0"/><path stroke="#bc3754" d="M832.6 513.2h0M186.2 379.9h0M889.8 297.5h0M892.7 296.5h0M379.7 280.2h0M382.0 247.7h0M384.5 266.7h0M384.4 263.9h0M903.2 284.7h0M899.6 307.1h0M906.4 271.7h0M888.0 315.2h0M907.3 299.0h0M827.7 492.9h0M826.0 509.0h0M414.0 282.6h0M853.0 244.3h0M900.6 307.2h0M388.8 264.0h0M392.4 238.1h0M375.7 265.0h0M882.3 305.6h0"/><path stroke="#fbaf16" d="M409.2 282.0h0M332.3 510.0h0M311.8 534.4h0M695.5 400.5h0M323.5 526.5h0M338.5 494.7h0M324.8 521.5h0M340.3 499.6h0M244.6 397.5h0"/><path stroke="#8b2368" d="M744.2 401.0h0M196.4 401.9h0M408.1 369.9h0M360.7 452.8h0M667.8 413.1h0M827.2 415.0h0M818.1 403.0h0M825.4 418.8h0M723.5 492.9h0M265.2 491.8h0M826.4 430.0h0M285.5 525.1h0M906.4 481.9h0M771.7 404.0h0M141.4 430.2h0M833.1 361.9h0M833.8 417.6h0M889.7 480.7h0M160.4 389.6h0M827.6 525.6h0M392.7 458.9h0M347.2 384.6h0"/><path stroke="#6a176e" d="M806.6 353.0h0M690.3 431.7h0M159.0 379.3h0M344.7 378.5h0M826.5 403.6h0M826.2 412.9h0M809.2 416.0h0M813.0 373.1h0M183.0 430.1h0M843.7 352.5h0M826.8 357.0h0M397.8 449.7h0M338.1 324.2h0M695.7 418.3h0M290.8 478.8h0M814.2 393.8h0M705.7 450.8h0M810.6 416.2h0M809.9 398.8h0M288.2 361.2h0M275.7 333.3h0M785.0 506.7h0"/><path stroke="#5a126c" d="M833.1 411.0h0M704.7 449.1h0M829.1 368.2h0M831.0 369.8h0M765.2 600.8h0M326.4 330.4h0M921.1 477.9h0M338.8 316.2h0M819.1 402.9h0M702.8 241.2h0M833.7 373.9h0M156.2 408.8h0M297.6 369.6h0M354.0 428.9h0M817.5 408.3h0M315.3 336.4h0M719.9 434.5h0M774.4 419.6h0M718.3 469.9h0M301.2 362.9h0M316.1 366.5h0M840.0 358.9h0"/><path stroke="#bc3754" d="M686.1 416.7h0M167.4 369.4h0M895.4 294.9h0M918.0 277.9h0M881.4 288.7h0M203.6 381.8h0M822.5 516.5h0M892.8 312.1h0M370.8 274.1h0M378.6 283.0h0M383.6 277.7h0M380.2 261.7h0M893.1 306.2h0M890.0 300.2h0M190.7 364.2h0M899.2 304.4h0M374.3 270.1h0M207.2 362.4h0M319.9 472.1h0M894.5 302.4h0M383.1 271.1h0M391.6 273.8h0"/><path stroke="#c33c4f" d="M887.4 320.0h0M380.4 262.8h0M386.1 253.4h0M178.6 376.4h0M389.6 273.0h0M835.3 516.9h0M380.6 296.0h0M831.5 510.1h0M383.2 261.8h0M898.7 301.9h0M890.1 299.2h0M878.9 310.2h0M196.5 365.3h0M720.3 516.7h0M896.5 296.1h0M867.7 309.0h0M392.2 255.3h0M888.7 313.1h0M902.6 303.0h0M911.2 281.9h0M885.9 311.3h0M834.1 515.5h0"/><path stroke="#f78a13" d="M683.0 372.8h0M692.0 426.3h0M693.6 407.1h0M827.2 576.2h0M325.2 515.1h0M270.7 319.0h0M838.1 527.9h0M192.9 380.8h0M337.9 499.0h0M190.2 382.5h0M708.4 404.2h0M689.4 402.5h0M194.8 366.8h0M321.4 539.8h0M836.6 555.1h0M694.8 403.0h0M694.0 403.0h0M281.3 319.5h0M675.9 412.0h0M819.0 588.6h0M206.0 371.0h0M697.9 390.3h0"/><path stroke="#6a176e" d="M319.0 331.2h0M314.1 331.3h0M386.8 446.6h0M277.8 361.4h0M814.2 410.3h0M845.7 558.2h0M165.7 416.9h0M386.5 423.0h0M832.9 393.6h0M847.9 366.3h0M815.6 543.8h0M686.2 456.2h0M192.6 424.1h0M309.6 333.6h0M336.6 311.6h0M832.1 364.1h0M842.8 413.1h0M804.4 357.8h0M305.6 487.3h0M885.3 412.5h0M340.0 322.7h0M680.8 422.0h0"/><path stroke="#8b2368" d="M755.9 370.9h0M170.1 398.0h0M284.7 376.9h0M289.5 400.9h0M306.5 386.5h0M190.5 407.7h0M312.3 389.7h0M172.1 443.1h0M791.9 394.3h0M390.7 443.7h0M289.3 366.7h0M180.6 404.8h0M271.6 400.1h0M818.7 412.9h0M316.3 337.2h0M243.9 392.8h0M781.6 400.6h0M235.8 395.4h0M778.4 512.1h0M221.9 393.9h0M686.1 385.0h0M324.1 374.3h0"/><path stroke="#c33c4f" d="M375.5 270.4h0M389.6 262.4h0M890.3 303.0h0M402.7 207.6h0M891.6 292.5h0M690.9 433.9h0M380.5 288.7h0M886.9 298.3h0M874.3 319.0h0M891.0 298.4h0M891.3 291.9h0M890.2 321.0h0M376.1 278.4h0M392.5 261.7h0M322.2 469.1h0M690.4 415.3h0M902.0 306.1h0M389.7 260.0h0M881.9 309.9h0M389.3 264.0h0M880.0 301.2h0M887.1 298.5h0"/><path stroke="#d04744" d="M321.0 470.3h0M890.7 305.1h0M380.0 241.4h0M826.8 512.5h0M287.2 333.0h0M192.1 350.7h0M183.3 377.4h0M198.6 367.7h0M399.2 269.5h0M889.3 252.6h0M191.3 350.5h0M414.8 200.0h0M930.8 272.2h0M886.9 302.2h0M204.4 388.9h0M824.6 504.9h0M888.3 299.6h0M883.6 302.5h0M183.0 349.9h0M675.1 393.2h0M901.9 302.0h0M388.3 254.4h0"/><path stroke="#f78a13" d="M681.0 414.1h0M222.2 421.3h0M192.6 364.4h0M699.5 393.9h0M679.9 455.8h0M829.6 567.4h0M201.8 345.0h0M338.8 526.2h0M936.0 283.8h0M778.6 354.4h0M214.5 350.3h0M683.4 397.0h0M333.4 491.0h0M334.2 505.7h0M832.9 560.3h0M667.2 408.5h0M691.1 396.0h0M328.8 482.8h0M193.4 368.1h0M330.1 521.4h0M175.5 365.1h0M315.4 543.4h0"/><path stroke="#7a1d6b" d="M892.1 461.5h0M683.6 457.9h0M698.3 463.5h0M356.7 467.2h0M796.2 385.2h0M897.3 485.4h0M810.5 349.6h0M285.7 479.8h0M413.6 610.9h0M805.1 402.4h0M822.6 394.0h0M818.1 382.0h0M196.5 349.2h0M842.3 359.3h0M320.6 341.1h0M775.1 524.4h0M207.3 382.1h0M850.2 427.0h0M900.7 499.5h0M828.6 393.6h0M756.2 618.0h0M804.3 400.8h0"/><path stroke="#62146d" d="M331.4 316.5h0M710.2 446.2h0M157.7 386.0h0M894.2 380.8h0M828.7 357.9h0M696.2 432.2h0M832.9 425.6h0M800.7 394.4h0M182.4 376.1h0M827.4 365.5h0M197.4 423.4h0M336.6 311.5h0M781.6 528.1h0M348.0 308.9h0M832.4 383.3h0M791.3 395.7h0M837.2 364.6h0M824.3 425.1h0M313.1 367.1h0M677.2 458.3h0M806.1 394.5h0M332.4 323.6h0"/><path stroke="#4a0d69" d="M832.7 406.9h0M816.5 416.6h0M829.0 413.5h0M814.3 572.4h0M700.9 450.6h0M308.1 348.0h0M825.4 359.0h0M697.9 465.4h0M297.4 366.3h0M698.0 436.7h0M133.6 422.4h0M193.9 435.7h0M278.0 616.7h0M233.6 331.5h0M817.1 363.6h0M835.9 367.8h0M780.5 391.3h0M307.0 541.0h0M182.1 405.6h0M319.1 375.7h0M922.8 599.7h0M825.6 372.9h0"/><path stroke="#bc3754" d="M910.0 307.7h0M883.6 294.7h0M885.8 293.6h0M891.9 316.1h0M889.9 293.9h0M225.0 383.5h0M375.4 275.7h0M879.1 299.7h0M394.0 232.9h0M377.0 283.2h0M200.6 363.2h0M882.7 308.2h0M897.7 299.0h0M891.4 314.9h0M891.0 293.0h0M194.4 359.7h0M890.0 301.4h0M891.7 297.8h0M896.3 293.8h0M380.7 263.9h0M379.2 270.2h0M213.2 379.6h0"/><path stroke="#ea6826" d="M676.8 412.5h0M716.7 394.1h0M440.5 293.8h0M692.2 392.6h0M326.8 481.8h0M691.9 401.0h0M284.7 304.1h0M690.9 386.2h0M320.3 521.7h0M710.5 385.0h0M693.2 391.8h0M840.4 544.2h0M322.7 479.0h0M171.7 363.8h0M829.2 545.7h0M707.9 371.1h0M687.7 407.9h0M197.8 377.0h0M889.0 312.5h0M688.2 412.0h0M183.3 355.3h0M840.3 542.4h0"/><path stroke="#c9414a" d="M179.3 369.6h0M230.0 400.5h0M380.0 262.9h0M895.5 309.7h0M381.6 271.4h0M892.3 315.0h0M380.6 281.9h0M387.0 244.1h0M879.7 314.8h0M884.3 306.3h0M877.5 298.7h0M387.1 261.9h0M899.2 306.8h0M891.2 304.1h0M890.1 308.9h0M381.8 273.4h0M181.5 375.3h0M900.7 309.5h0M889.0 295.2h0M370.3 287.9h0M901.7 318.4h0M891.3 305.0h0"/><path stroke="#8b2368" d="M893.7 498.6h0M348.6 417.6h0M806.6 413.4h0M865.3 353.4h0M737.7 201.3h0M311.0 528.4h0M202.8 434.8h0M840.7 401.6h0M206.2 394.2h0M777.2 520.0h0M373.8 406.7h0M821.1 397.4h0M164.1 407.6h0M831.3 399.2h0M299.8 372.9h0M722.7 414.5h0M903.6 502.0h0M341.6 376.2h0M404.4 431.9h0M412.8 450.3h0M918.3 500.4h0M804.8 393.0h0"/><path stroke="#bc3754" d="M887.4 304.8h0M379.4 240.2h0M882.4 307.2h0M375.5 256.6h0M892.0 311.9h0M380.7 277.9h0M895.1 300.3h0M251.0 503.4h0M385.7 270.8h0M176.4 367.8h0M376.5 268.5h0M376.8 300.0h0M896.1 373.7h0M887.6 299.8h0M384.1 284.8h0M833.9 504.5h0M413.3 318.2h0M390.0 255.2h0M382.9 277.5h0M906.2 302.8h0M883.5 309.6h0M228.8 411.8h0"/><path stroke="#ef7020" d="M695.9 405.5h0M684.6 400.3h0M307.7 537.7h0M678.1 406.3h0M708.6 419.5h0M721.4 404.9h0M207.2 346.6h0M204.4 353.3h0M197.1 343.5h0M385.0 249.2h0M317.2 546.4h0M704.0 392.1h0M180.3 349.5h0M677.4 397.2h0M165.2 383.2h0M205.8 349.1h0M185.2 356.8h0M706.7 405.4h0M239.9 448.6h0M392.5 259.3h0M692.9 393.0h0M828.5 556.9h0"/><path stroke="#721a6d" d="M810.8 363.1h0M714.2 429.2h0M827.2 370.7h0M392.1 434.3h0M297.3 355.2h0M905.6 487.3h0M784.1 408.4h0M316.9 349.1h0M266.5 554.0h0M824.7 405.7h0M828.7 420.0h0M321.5 317.2h0M320.2 359.5h0M311.2 330.4h0M828.9 371.0h0M330.4 366.9h0M324.4 330.2h0M331.1 386.5h0M843.4 350.1h0M845.6 350.1h0M823.4 370.6h0M771.1 615.8h0"/><path stroke="#e6612d" d="M201.1 375.0h0M380.8 245.6h0M670.1 413.0h0M393.9 249.2h0M212.7 356.1h0M887.9 302.6h0M187.8 363.6h0M195.2 363.1h0M397.5 237.7h0M358.9 246.4h0M195.9 384.0h0M816.1 582.8h0M194.7 346.1h0M378.6 239.9h0M319.1 551.9h0M195.5 358.6h0M219.5 398.8h0M712.3 416.2h0M193.4 344.6h0M203.0 362.7h0M200.6 359.0h0M894.8 302.6h0"/></g>
<rect x="76.5" y="116.5" width="422.0" height="564.0" fill="none" stroke="#000" stroke-width="1.1"/>
<path d="M107.5 680.5v4.9M163.5 680.5v4.9M219.5 680.5v4.9M276.5 680.5v4.9M332.5 680.5v4.9M388.5 680.5v4.9M445.5 680.5v4.9M76.5 680.5h-4.9M76.5 609.5h-4.9M76.5 539.5h-4.9M76.5 469.5h-4.9M76.5 398.5h-4.9M76.5 328.5h-4.9M76.5 257.5h-4.9M76.5 187.5h-4.9M76.5 117.5h-4.9" stroke="#000" stroke-width="1.1" fill="none"/>
<text transform="translate(107.8,701) scale(1.15,1)" font-size="14" text-anchor="middle">−40</text>
<text transform="translate(164.1,701) scale(1.15,1)" font-size="14" text-anchor="middle">−20</text>
<text transform="translate(220.4,701) scale(1.15,1)" font-size="14" text-anchor="middle">0</text>
<text transform="translate(276.7,701) scale(1.15,1)" font-size="14" text-anchor="middle">20</text>
<text transform="translate(333.0,701) scale(1.15,1)" font-size="14" text-anchor="middle">40</text>
<text transform="translate(389.4,701) scale(1.15,1)" font-size="14" text-anchor="middle">60</text>
<text transform="translate(445.7,701) scale(1.15,1)" font-size="14" text-anchor="middle">80</text>
<text transform="translate(65.3,685.2) scale(1.1,1)" font-size="14" text-anchor="end">400</text>
<text transform="translate(65.3,614.8) scale(1.1,1)" font-size="14" text-anchor="end">425</text>
<text transform="translate(65.3,544.4) scale(1.1,1)" font-size="14" text-anchor="end">450</text>
<text transform="translate(65.3,474.0) scale(1.1,1)" font-size="14" text-anchor="end">475</text>
<text transform="translate(65.3,403.6) scale(1.1,1)" font-size="14" text-anchor="end">500</text>
<text transform="translate(65.3,333.2) scale(1.1,1)" font-size="14" text-anchor="end">525</text>
<text transform="translate(65.3,262.8) scale(1.1,1)" font-size="14" text-anchor="end">550</text>
<text transform="translate(65.3,192.4) scale(1.1,1)" font-size="14" text-anchor="end">575</text>
<text transform="translate(65.3,122.0) scale(1.1,1)" font-size="14" text-anchor="end">600</text>
<text transform="translate(27,399) rotate(-90) scale(1.11,1)" font-size="22" text-anchor="middle">y (<tspan font-style="italic">μm</tspan>)</text>
<text transform="translate(287.0,727) scale(1.11,1)" font-size="22" text-anchor="middle">x (<tspan font-style="italic">μm</tspan>)</text>
<rect x="583.5" y="116.5" width="423.0" height="564.0" fill="none" stroke="#000" stroke-width="1.1"/>
<path d="M614.5 680.5v4.9M670.5 680.5v4.9M727.5 680.5v4.9M783.5 680.5v4.9M839.5 680.5v4.9M896.5 680.5v4.9M952.5 680.5v4.9M583.5 680.5h-4.9M583.5 609.5h-4.9M583.5 539.5h-4.9M583.5 469.5h-4.9M583.5 398.5h-4.9M583.5 328.5h-4.9M583.5 257.5h-4.9M583.5 187.5h-4.9M583.5 117.5h-4.9" stroke="#000" stroke-width="1.1" fill="none"/>
<text transform="translate(615.1,701) scale(1.15,1)" font-size="14" text-anchor="middle">−40</text>
<text transform="translate(671.4,701) scale(1.15,1)" font-size="14" text-anchor="middle">−20</text>
<text transform="translate(727.7,701) scale(1.15,1)" font-size="14" text-anchor="middle">0</text>
<text transform="translate(784.0,701) scale(1.15,1)" font-size="14" text-anchor="middle">20</text>
<text transform="translate(840.3,701) scale(1.15,1)" font-size="14" text-anchor="middle">40</text>
<text transform="translate(896.7,701) scale(1.15,1)" font-size="14" text-anchor="middle">60</text>
<text transform="translate(953.0,701) scale(1.15,1)" font-size="14" text-anchor="middle">80</text>
<text transform="translate(566.3,399) rotate(-90) scale(1.11,1)" font-size="22" text-anchor="middle">y (<tspan font-style="italic">μm</tspan>)</text>
<text transform="translate(794.5,727) scale(1.11,1)" font-size="22" text-anchor="middle">x (<tspan font-style="italic">μm</tspan>)</text>
</svg></body></html>
